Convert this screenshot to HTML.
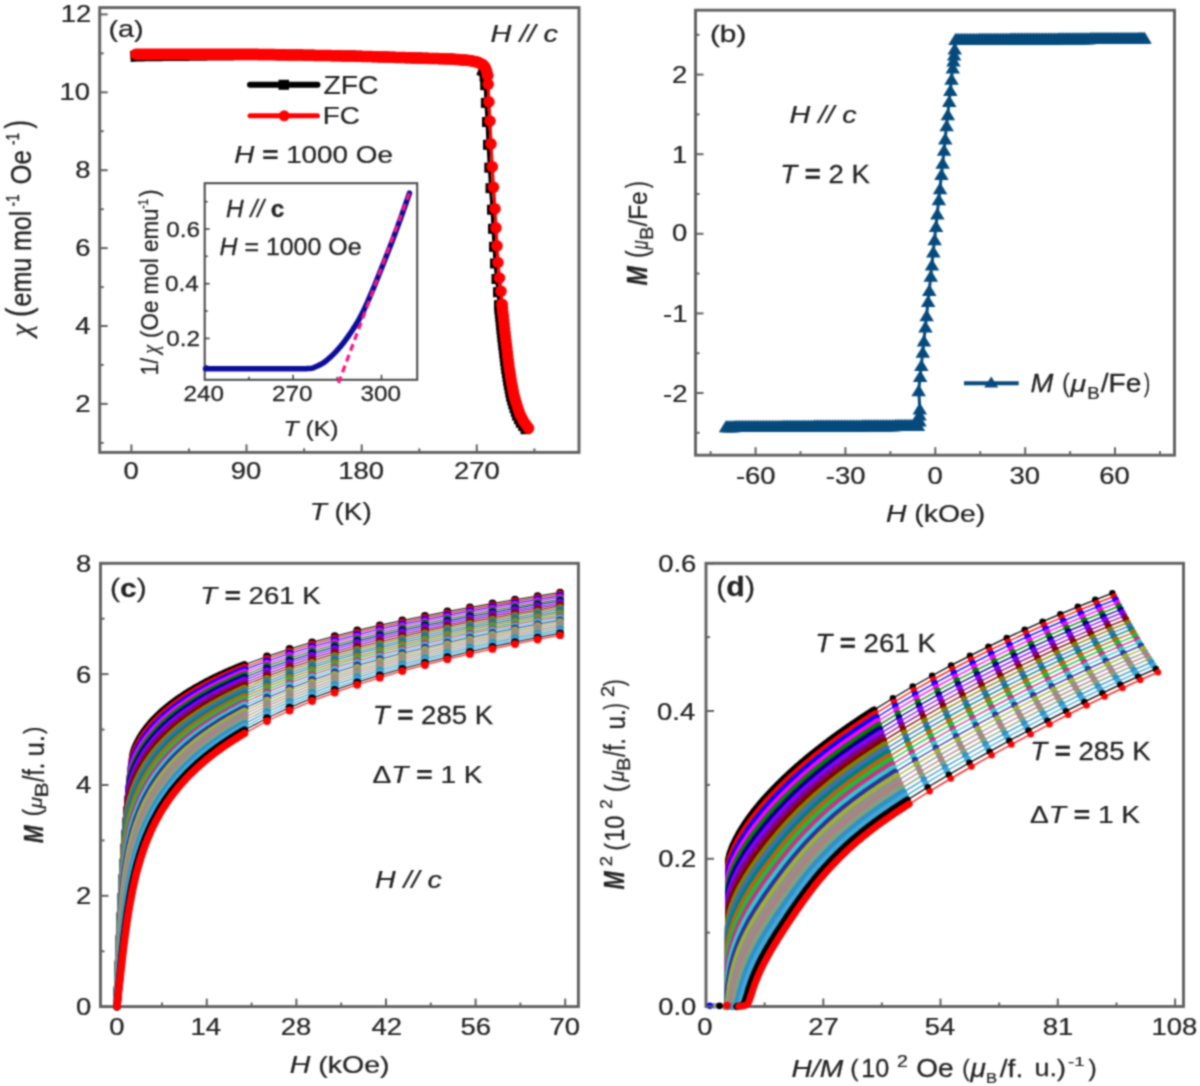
<!DOCTYPE html>
<html><head><meta charset="utf-8"><style>html,body{margin:0;padding:0;background:#fff;overflow:hidden}svg{display:block}</style></head>
<body><svg width="1200" height="1086" viewBox="0 0 1200 1086">
<defs><filter id="bl" x="0" y="0" width="1" height="1" color-interpolation-filters="sRGB"><feConvolveMatrix order="5" kernelMatrix="0.00048 0.00501 0.01095 0.00501 0.00048 0.00501 0.05222 0.11405 0.05222 0.00501 0.01095 0.11405 0.24912 0.11405 0.01095 0.00501 0.05222 0.11405 0.05222 0.00501 0.00048 0.00501 0.01095 0.00501 0.00048" edgeMode="duplicate"/></filter></defs>
<g filter="url(#bl)"><rect width="1200" height="1086" fill="#fff"/>
<polyline points="135.8,56.0 137.1,55.9 138.4,55.9 139.6,55.9 140.9,55.9 142.2,55.9 143.5,55.9 144.8,55.8 146.0,55.8 147.3,55.8 148.6,55.8 149.9,55.8 151.2,55.8 152.4,55.8 153.7,55.7 155.0,55.7 156.3,55.7 157.6,55.7 158.8,55.7 160.1,55.7 161.4,55.7 162.7,55.6 164.0,55.6 165.2,55.6 166.5,55.6 167.8,55.6 169.1,55.6 170.4,55.6 171.6,55.5 172.9,55.5 174.2,55.5 175.5,55.5 176.8,55.5 178.0,55.5 179.3,55.5 180.6,55.4 181.9,55.4 183.2,55.4 184.4,55.4 185.7,55.4 187.0,55.4 188.3,55.4 189.6,55.3 190.8,55.3 192.1,55.3 193.4,55.3 194.7,55.3 196.0,55.3 197.2,55.3 198.5,55.2 199.8,55.2 201.1,55.2 202.4,55.2 203.6,55.2 204.9,55.2 206.2,55.2 207.5,55.1 208.8,55.1 210.0,55.1 211.3,55.1 212.6,55.1 213.9,55.1 215.2,55.1 216.4,55.0 217.7,55.0 219.0,55.0 220.3,55.0 221.6,55.0 222.8,55.0 224.1,55.0 225.4,54.9 226.7,54.9 228.0,54.9 229.2,54.9 230.5,54.9 231.8,54.9 233.1,54.9 234.4,54.8 235.6,54.8 236.9,54.8 238.2,54.8 239.5,54.8 240.8,54.8 242.0,54.8 243.3,54.7 244.6,54.7 245.9,54.7 247.2,54.7 248.4,54.7 249.7,54.7 251.0,54.7 252.3,54.7 253.6,54.7 254.8,54.7 256.1,54.7 257.4,54.7 258.7,54.7 260.0,54.7 261.2,54.7 262.5,54.8 263.8,54.8 265.1,54.8 266.4,54.8 267.6,54.8 268.9,54.8 270.2,54.8 271.5,54.8 272.8,54.8 274.0,54.8 275.3,54.8 276.6,54.8 277.9,54.9 279.2,54.9 280.4,54.9 281.7,54.9 283.0,54.9 284.3,54.9 285.6,54.9 286.8,54.9 288.1,54.9 289.4,54.9 290.7,54.9 292.0,55.0 293.2,55.0 294.5,55.0 295.8,55.0 297.1,55.0 298.4,55.1 299.6,55.1 300.9,55.1 302.2,55.1 303.5,55.2 304.8,55.2 306.0,55.2 307.3,55.2 308.6,55.3 309.9,55.3 311.2,55.3 312.4,55.3 313.7,55.3 315.0,55.4 316.3,55.4 317.6,55.4 318.8,55.4 320.1,55.5 321.4,55.5 322.7,55.5 324.0,55.5 325.2,55.6 326.5,55.6 327.8,55.6 329.1,55.6 330.4,55.6 331.6,55.7 332.9,55.7 334.2,55.7 335.5,55.7 336.8,55.8 338.0,55.8 339.3,55.8 340.6,55.8 341.9,55.9 343.2,55.9 344.4,55.9 345.7,55.9 347.0,55.9 348.3,56.0 349.6,56.0 350.8,56.0 352.1,56.1 353.4,56.1 354.7,56.1 356.0,56.2 357.2,56.2 358.5,56.3 359.8,56.3 361.1,56.3 362.4,56.4 363.6,56.4 364.9,56.4 366.2,56.5 367.5,56.5 368.8,56.6 370.0,56.6 371.3,56.6 372.6,56.7 373.9,56.7 375.2,56.8 376.4,56.8 377.7,56.8 379.0,56.9 380.3,56.9 381.6,56.9 382.8,57.0 384.1,57.0 385.4,57.1 386.7,57.1 388.0,57.1 389.2,57.2 390.5,57.2 391.8,57.3 393.1,57.3 394.4,57.3 395.6,57.4 396.9,57.4 398.2,57.4 399.5,57.5 400.8,57.5 402.0,57.6 403.3,57.6 404.6,57.6 405.9,57.7 407.2,57.7 408.4,57.8 409.7,57.8 411.0,57.8 412.3,57.9 413.6,57.9 414.8,57.9 416.1,58.0 417.4,58.0 418.7,58.1 420.0,58.1 421.2,58.1 422.5,58.2 423.8,58.2 425.1,58.3 426.4,58.3 427.6,58.3 428.9,58.4 430.2,58.4 431.5,58.4 432.8,58.5 434.0,58.5 435.3,58.6 436.6,58.6 437.9,58.6 439.2,58.7 440.4,58.7 441.7,58.8 443.0,58.8 444.3,58.8 445.6,58.9 446.8,58.9 448.1,58.9 449.4,59.0 450.7,59.1 452.0,59.1 453.2,59.2 454.5,59.3 455.8,59.4 457.1,59.5 458.4,59.6 459.6,59.7 460.9,59.8 462.2,59.9 463.5,60.0 464.8,60.1 466.0,60.2 467.3,60.3 468.6,60.4 469.9,60.5 471.2,60.8 472.4,61.0 473.7,61.3 475.0,61.6 476.3,61.9 477.6,62.2 478.8,62.7 480.1,63.4 481.4,64.0 482.7,64.6 484.0,66.0 485.2,67.6 483.5,71.8 484.6,76.5 485.2,85.2 485.9,102.9 487.0,122.0 488.0,144.8 489.3,167.7 490.5,188.2 492.0,209.7 493.0,228.8 494.0,246.8 495.0,263.5 496.5,279.0 498.0,292.2 499.0,305.4 499.0,305.4 499.4,309.4 499.8,313.4 500.3,317.3 500.7,321.3 501.1,325.3 501.5,329.3 501.9,333.2 502.4,337.2 502.8,341.2 503.3,345.2 503.8,349.1 504.3,353.1 504.7,357.1 505.2,361.1 505.7,365.0 506.2,369.0 506.9,372.9 507.5,376.9 508.1,380.8 508.8,384.8 509.6,388.7 510.3,392.6 511.1,396.6 512.2,400.4 513.3,404.2 514.5,408.1 515.8,411.8 517.1,415.6 519.0,419.2 520.8,422.7 523.2,425.9 525.5,429.2" fill="none" stroke="#000" stroke-width="3" stroke-linejoin="round"/>
<polyline points="135.8,56.0 137.1,55.9 138.4,55.9 139.6,55.9 140.9,55.9 142.2,55.9 143.5,55.9 144.8,55.8 146.0,55.8 147.3,55.8 148.6,55.8 149.9,55.8 151.2,55.8 152.4,55.8 153.7,55.7 155.0,55.7 156.3,55.7 157.6,55.7 158.8,55.7 160.1,55.7 161.4,55.7 162.7,55.6 164.0,55.6 165.2,55.6 166.5,55.6 167.8,55.6 169.1,55.6 170.4,55.6 171.6,55.5 172.9,55.5 174.2,55.5 175.5,55.5 176.8,55.5 178.0,55.5 179.3,55.5 180.6,55.4 181.9,55.4 183.2,55.4 184.4,55.4 185.7,55.4 187.0,55.4 188.3,55.4 189.6,55.3 190.8,55.3 192.1,55.3 193.4,55.3 194.7,55.3 196.0,55.3 197.2,55.3 198.5,55.2 199.8,55.2 201.1,55.2 202.4,55.2 203.6,55.2 204.9,55.2 206.2,55.2 207.5,55.1 208.8,55.1 210.0,55.1 211.3,55.1 212.6,55.1 213.9,55.1 215.2,55.1 216.4,55.0 217.7,55.0 219.0,55.0 220.3,55.0 221.6,55.0 222.8,55.0 224.1,55.0 225.4,54.9 226.7,54.9 228.0,54.9 229.2,54.9 230.5,54.9 231.8,54.9 233.1,54.9 234.4,54.8 235.6,54.8 236.9,54.8 238.2,54.8 239.5,54.8 240.8,54.8 242.0,54.8 243.3,54.7 244.6,54.7 245.9,54.7 247.2,54.7 248.4,54.7 249.7,54.7 251.0,54.7 252.3,54.7 253.6,54.7 254.8,54.7 256.1,54.7 257.4,54.7 258.7,54.7 260.0,54.7 261.2,54.7 262.5,54.8 263.8,54.8 265.1,54.8 266.4,54.8 267.6,54.8 268.9,54.8 270.2,54.8 271.5,54.8 272.8,54.8 274.0,54.8 275.3,54.8 276.6,54.8 277.9,54.9 279.2,54.9 280.4,54.9 281.7,54.9 283.0,54.9 284.3,54.9 285.6,54.9 286.8,54.9 288.1,54.9 289.4,54.9 290.7,54.9 292.0,55.0 293.2,55.0 294.5,55.0 295.8,55.0 297.1,55.0 298.4,55.1 299.6,55.1 300.9,55.1 302.2,55.1 303.5,55.2 304.8,55.2 306.0,55.2 307.3,55.2 308.6,55.3 309.9,55.3 311.2,55.3 312.4,55.3 313.7,55.3 315.0,55.4 316.3,55.4 317.6,55.4 318.8,55.4 320.1,55.5 321.4,55.5 322.7,55.5 324.0,55.5 325.2,55.6 326.5,55.6 327.8,55.6 329.1,55.6 330.4,55.6 331.6,55.7 332.9,55.7 334.2,55.7 335.5,55.7 336.8,55.8 338.0,55.8 339.3,55.8 340.6,55.8 341.9,55.9 343.2,55.9 344.4,55.9 345.7,55.9 347.0,55.9 348.3,56.0 349.6,56.0 350.8,56.0 352.1,56.1 353.4,56.1 354.7,56.1 356.0,56.2 357.2,56.2 358.5,56.3 359.8,56.3 361.1,56.3 362.4,56.4 363.6,56.4 364.9,56.4 366.2,56.5 367.5,56.5 368.8,56.6 370.0,56.6 371.3,56.6 372.6,56.7 373.9,56.7 375.2,56.8 376.4,56.8 377.7,56.8 379.0,56.9 380.3,56.9 381.6,56.9 382.8,57.0 384.1,57.0 385.4,57.1 386.7,57.1 388.0,57.1 389.2,57.2 390.5,57.2 391.8,57.3 393.1,57.3 394.4,57.3 395.6,57.4 396.9,57.4 398.2,57.4 399.5,57.5 400.8,57.5 402.0,57.6 403.3,57.6 404.6,57.6 405.9,57.7 407.2,57.7 408.4,57.8 409.7,57.8 411.0,57.8 412.3,57.9 413.6,57.9 414.8,57.9 416.1,58.0 417.4,58.0 418.7,58.1 420.0,58.1 421.2,58.1 422.5,58.2 423.8,58.2 425.1,58.3 426.4,58.3 427.6,58.3 428.9,58.4 430.2,58.4 431.5,58.4 432.8,58.5 434.0,58.5 435.3,58.6 436.6,58.6 437.9,58.6 439.2,58.7 440.4,58.7 441.7,58.8 443.0,58.8 444.3,58.8 445.6,58.9 446.8,58.9 448.1,58.9 449.4,59.0 450.7,59.1 452.0,59.1 453.2,59.2 454.5,59.3 455.8,59.4 457.1,59.5 458.4,59.6 459.6,59.7 460.9,59.8 462.2,59.9 463.5,60.0 464.8,60.1 466.0,60.2 467.3,60.3 468.6,60.4 469.9,60.5 471.2,60.8 472.4,61.0 473.7,61.3 475.0,61.6 476.3,61.9 477.6,62.2 478.8,62.7 480.1,63.4 481.4,64.0 482.7,64.6 484.0,66.0 485.2,67.6 483.5,71.8" fill="none" stroke="#000" stroke-width="11" stroke-linejoin="round" stroke-linecap="square"/>
<rect x="479.6" y="71.5" width="10" height="10" fill="#000"/>
<rect x="480.2" y="80.2" width="10" height="10" fill="#000"/>
<rect x="480.9" y="97.9" width="10" height="10" fill="#000"/>
<rect x="482.0" y="117.0" width="10" height="10" fill="#000"/>
<rect x="483.0" y="139.8" width="10" height="10" fill="#000"/>
<rect x="484.3" y="162.7" width="10" height="10" fill="#000"/>
<rect x="485.5" y="183.2" width="10" height="10" fill="#000"/>
<rect x="487.0" y="204.7" width="10" height="10" fill="#000"/>
<rect x="488.0" y="223.8" width="10" height="10" fill="#000"/>
<rect x="489.0" y="241.8" width="10" height="10" fill="#000"/>
<rect x="490.0" y="258.5" width="10" height="10" fill="#000"/>
<rect x="491.5" y="274.0" width="10" height="10" fill="#000"/>
<rect x="493.0" y="287.2" width="10" height="10" fill="#000"/>
<rect x="494.0" y="300.4" width="10" height="10" fill="#000"/>
<rect x="494.0" y="300.4" width="10" height="10" fill="#000"/>
<rect x="494.4" y="304.4" width="10" height="10" fill="#000"/>
<rect x="494.8" y="308.4" width="10" height="10" fill="#000"/>
<rect x="495.3" y="312.3" width="10" height="10" fill="#000"/>
<rect x="495.7" y="316.3" width="10" height="10" fill="#000"/>
<rect x="496.1" y="320.3" width="10" height="10" fill="#000"/>
<rect x="496.5" y="324.3" width="10" height="10" fill="#000"/>
<rect x="496.9" y="328.2" width="10" height="10" fill="#000"/>
<rect x="497.4" y="332.2" width="10" height="10" fill="#000"/>
<rect x="497.8" y="336.2" width="10" height="10" fill="#000"/>
<rect x="498.3" y="340.2" width="10" height="10" fill="#000"/>
<rect x="498.8" y="344.1" width="10" height="10" fill="#000"/>
<rect x="499.3" y="348.1" width="10" height="10" fill="#000"/>
<rect x="499.7" y="352.1" width="10" height="10" fill="#000"/>
<rect x="500.2" y="356.1" width="10" height="10" fill="#000"/>
<rect x="500.7" y="360.0" width="10" height="10" fill="#000"/>
<rect x="501.2" y="364.0" width="10" height="10" fill="#000"/>
<rect x="501.9" y="367.9" width="10" height="10" fill="#000"/>
<rect x="502.5" y="371.9" width="10" height="10" fill="#000"/>
<rect x="503.1" y="375.8" width="10" height="10" fill="#000"/>
<rect x="503.8" y="379.8" width="10" height="10" fill="#000"/>
<rect x="504.6" y="383.7" width="10" height="10" fill="#000"/>
<rect x="505.3" y="387.6" width="10" height="10" fill="#000"/>
<rect x="506.1" y="391.6" width="10" height="10" fill="#000"/>
<rect x="507.2" y="395.4" width="10" height="10" fill="#000"/>
<rect x="508.3" y="399.2" width="10" height="10" fill="#000"/>
<rect x="509.5" y="403.1" width="10" height="10" fill="#000"/>
<rect x="510.8" y="406.8" width="10" height="10" fill="#000"/>
<rect x="512.1" y="410.6" width="10" height="10" fill="#000"/>
<rect x="514.0" y="414.2" width="10" height="10" fill="#000"/>
<rect x="515.8" y="417.7" width="10" height="10" fill="#000"/>
<rect x="518.2" y="420.9" width="10" height="10" fill="#000"/>
<rect x="520.5" y="424.2" width="10" height="10" fill="#000"/>
<polyline points="135.8,54.2 137.1,54.2 138.4,54.2 139.6,54.2 140.9,54.2 142.2,54.2 143.5,54.2 144.8,54.2 146.0,54.2 147.3,54.2 148.6,54.2 149.9,54.2 151.2,54.2 152.4,54.2 153.7,54.2 155.0,54.2 156.3,54.2 157.6,54.2 158.8,54.2 160.1,54.2 161.4,54.2 162.7,54.2 164.0,54.2 165.2,54.2 166.5,54.2 167.8,54.2 169.1,54.2 170.4,54.2 171.6,54.2 172.9,54.2 174.2,54.2 175.5,54.2 176.8,54.2 178.0,54.2 179.3,54.2 180.6,54.2 181.9,54.2 183.2,54.2 184.4,54.2 185.7,54.2 187.0,54.2 188.3,54.2 189.6,54.2 190.8,54.2 192.1,54.2 193.4,54.2 194.7,54.2 196.0,54.2 197.2,54.2 198.5,54.2 199.8,54.2 201.1,54.2 202.4,54.2 203.6,54.2 204.9,54.2 206.2,54.2 207.5,54.2 208.8,54.2 210.0,54.2 211.3,54.2 212.6,54.2 213.9,54.2 215.2,54.2 216.4,54.2 217.7,54.2 219.0,54.2 220.3,54.2 221.6,54.2 222.8,54.2 224.1,54.2 225.4,54.2 226.7,54.2 228.0,54.2 229.2,54.2 230.5,54.2 231.8,54.2 233.1,54.2 234.4,54.2 235.6,54.2 236.9,54.2 238.2,54.2 239.5,54.2 240.8,54.2 242.0,54.2 243.3,54.2 244.6,54.2 245.9,54.2 247.2,54.2 248.4,54.2 249.7,54.2 251.0,54.2 252.3,54.2 253.6,54.3 254.8,54.3 256.1,54.3 257.4,54.3 258.7,54.4 260.0,54.4 261.2,54.4 262.5,54.4 263.8,54.4 265.1,54.5 266.4,54.5 267.6,54.5 268.9,54.5 270.2,54.6 271.5,54.6 272.8,54.6 274.0,54.6 275.3,54.7 276.6,54.7 277.9,54.7 279.2,54.7 280.4,54.7 281.7,54.8 283.0,54.8 284.3,54.8 285.6,54.8 286.8,54.9 288.1,54.9 289.4,54.9 290.7,54.9 292.0,55.0 293.2,55.0 294.5,55.0 295.8,55.0 297.1,55.0 298.4,55.1 299.6,55.1 300.9,55.1 302.2,55.1 303.5,55.2 304.8,55.2 306.0,55.2 307.3,55.2 308.6,55.3 309.9,55.3 311.2,55.3 312.4,55.3 313.7,55.3 315.0,55.4 316.3,55.4 317.6,55.4 318.8,55.4 320.1,55.5 321.4,55.5 322.7,55.5 324.0,55.5 325.2,55.6 326.5,55.6 327.8,55.6 329.1,55.6 330.4,55.6 331.6,55.7 332.9,55.7 334.2,55.7 335.5,55.7 336.8,55.8 338.0,55.8 339.3,55.8 340.6,55.8 341.9,55.9 343.2,55.9 344.4,55.9 345.7,55.9 347.0,55.9 348.3,56.0 349.6,56.0 350.8,56.0 352.1,56.1 353.4,56.1 354.7,56.1 356.0,56.2 357.2,56.2 358.5,56.3 359.8,56.3 361.1,56.3 362.4,56.4 363.6,56.4 364.9,56.4 366.2,56.5 367.5,56.5 368.8,56.6 370.0,56.6 371.3,56.6 372.6,56.7 373.9,56.7 375.2,56.8 376.4,56.8 377.7,56.8 379.0,56.9 380.3,56.9 381.6,56.9 382.8,57.0 384.1,57.0 385.4,57.1 386.7,57.1 388.0,57.1 389.2,57.2 390.5,57.2 391.8,57.3 393.1,57.3 394.4,57.3 395.6,57.4 396.9,57.4 398.2,57.4 399.5,57.5 400.8,57.5 402.0,57.6 403.3,57.6 404.6,57.6 405.9,57.7 407.2,57.7 408.4,57.8 409.7,57.8 411.0,57.8 412.3,57.9 413.6,57.9 414.8,57.9 416.1,58.0 417.4,58.0 418.7,58.1 420.0,58.1 421.2,58.1 422.5,58.2 423.8,58.2 425.1,58.3 426.4,58.3 427.6,58.3 428.9,58.4 430.2,58.4 431.5,58.4 432.8,58.5 434.0,58.5 435.3,58.6 436.6,58.6 437.9,58.6 439.2,58.7 440.4,58.7 441.7,58.8 443.0,58.8 444.3,58.8 445.6,58.9 446.8,58.9 448.1,58.9 449.4,59.0 450.7,59.1 452.0,59.1 453.2,59.2 454.5,59.3 455.8,59.4 457.1,59.5 458.4,59.6 459.6,59.7 460.9,59.8 462.2,59.9 463.5,60.0 464.8,60.1 466.0,60.2 467.3,60.3 468.6,60.4 469.9,60.5 471.2,60.8 472.4,61.0 473.7,61.3 475.0,61.6 476.3,61.9 477.6,62.2 478.8,62.7 480.1,63.4 481.4,64.0 482.7,64.6 484.0,66.0 485.2,67.6 486.5,70.8 487.6,75.5 488.2,84.2 488.9,101.9 490.0,121.0 491.0,143.8 492.3,166.7 493.5,187.2 495.0,208.7 496.0,227.8 497.0,245.8 498.0,262.5 499.5,278.0 501.0,291.2 502.0,304.4 502.0,304.4 502.4,308.4 502.8,312.4 503.3,316.3 503.7,320.3 504.1,324.3 504.5,328.3 504.9,332.2 505.4,336.2 505.8,340.2 506.3,344.2 506.8,348.1 507.3,352.1 507.7,356.1 508.2,360.1 508.7,364.0 509.2,368.0 509.9,371.9 510.5,375.9 511.1,379.8 511.8,383.8 512.6,387.7 513.3,391.6 514.1,395.6 515.2,399.4 516.3,403.2 517.5,407.1 518.8,410.8 520.1,414.6 522.0,418.2 523.8,421.7 526.2,424.9 528.5,428.2" fill="none" stroke="#f00" stroke-width="3" stroke-linejoin="round"/>
<polyline points="135.8,54.2 137.1,54.2 138.4,54.2 139.6,54.2 140.9,54.2 142.2,54.2 143.5,54.2 144.8,54.2 146.0,54.2 147.3,54.2 148.6,54.2 149.9,54.2 151.2,54.2 152.4,54.2 153.7,54.2 155.0,54.2 156.3,54.2 157.6,54.2 158.8,54.2 160.1,54.2 161.4,54.2 162.7,54.2 164.0,54.2 165.2,54.2 166.5,54.2 167.8,54.2 169.1,54.2 170.4,54.2 171.6,54.2 172.9,54.2 174.2,54.2 175.5,54.2 176.8,54.2 178.0,54.2 179.3,54.2 180.6,54.2 181.9,54.2 183.2,54.2 184.4,54.2 185.7,54.2 187.0,54.2 188.3,54.2 189.6,54.2 190.8,54.2 192.1,54.2 193.4,54.2 194.7,54.2 196.0,54.2 197.2,54.2 198.5,54.2 199.8,54.2 201.1,54.2 202.4,54.2 203.6,54.2 204.9,54.2 206.2,54.2 207.5,54.2 208.8,54.2 210.0,54.2 211.3,54.2 212.6,54.2 213.9,54.2 215.2,54.2 216.4,54.2 217.7,54.2 219.0,54.2 220.3,54.2 221.6,54.2 222.8,54.2 224.1,54.2 225.4,54.2 226.7,54.2 228.0,54.2 229.2,54.2 230.5,54.2 231.8,54.2 233.1,54.2 234.4,54.2 235.6,54.2 236.9,54.2 238.2,54.2 239.5,54.2 240.8,54.2 242.0,54.2 243.3,54.2 244.6,54.2 245.9,54.2 247.2,54.2 248.4,54.2 249.7,54.2 251.0,54.2 252.3,54.2 253.6,54.3 254.8,54.3 256.1,54.3 257.4,54.3 258.7,54.4 260.0,54.4 261.2,54.4 262.5,54.4 263.8,54.4 265.1,54.5 266.4,54.5 267.6,54.5 268.9,54.5 270.2,54.6 271.5,54.6 272.8,54.6 274.0,54.6 275.3,54.7 276.6,54.7 277.9,54.7 279.2,54.7 280.4,54.7 281.7,54.8 283.0,54.8 284.3,54.8 285.6,54.8 286.8,54.9 288.1,54.9 289.4,54.9 290.7,54.9 292.0,55.0 293.2,55.0 294.5,55.0 295.8,55.0 297.1,55.0 298.4,55.1 299.6,55.1 300.9,55.1 302.2,55.1 303.5,55.2 304.8,55.2 306.0,55.2 307.3,55.2 308.6,55.3 309.9,55.3 311.2,55.3 312.4,55.3 313.7,55.3 315.0,55.4 316.3,55.4 317.6,55.4 318.8,55.4 320.1,55.5 321.4,55.5 322.7,55.5 324.0,55.5 325.2,55.6 326.5,55.6 327.8,55.6 329.1,55.6 330.4,55.6 331.6,55.7 332.9,55.7 334.2,55.7 335.5,55.7 336.8,55.8 338.0,55.8 339.3,55.8 340.6,55.8 341.9,55.9 343.2,55.9 344.4,55.9 345.7,55.9 347.0,55.9 348.3,56.0 349.6,56.0 350.8,56.0 352.1,56.1 353.4,56.1 354.7,56.1 356.0,56.2 357.2,56.2 358.5,56.3 359.8,56.3 361.1,56.3 362.4,56.4 363.6,56.4 364.9,56.4 366.2,56.5 367.5,56.5 368.8,56.6 370.0,56.6 371.3,56.6 372.6,56.7 373.9,56.7 375.2,56.8 376.4,56.8 377.7,56.8 379.0,56.9 380.3,56.9 381.6,56.9 382.8,57.0 384.1,57.0 385.4,57.1 386.7,57.1 388.0,57.1 389.2,57.2 390.5,57.2 391.8,57.3 393.1,57.3 394.4,57.3 395.6,57.4 396.9,57.4 398.2,57.4 399.5,57.5 400.8,57.5 402.0,57.6 403.3,57.6 404.6,57.6 405.9,57.7 407.2,57.7 408.4,57.8 409.7,57.8 411.0,57.8 412.3,57.9 413.6,57.9 414.8,57.9 416.1,58.0 417.4,58.0 418.7,58.1 420.0,58.1 421.2,58.1 422.5,58.2 423.8,58.2 425.1,58.3 426.4,58.3 427.6,58.3 428.9,58.4 430.2,58.4 431.5,58.4 432.8,58.5 434.0,58.5 435.3,58.6 436.6,58.6 437.9,58.6 439.2,58.7 440.4,58.7 441.7,58.8 443.0,58.8 444.3,58.8 445.6,58.9 446.8,58.9 448.1,58.9 449.4,59.0 450.7,59.1 452.0,59.1 453.2,59.2 454.5,59.3 455.8,59.4 457.1,59.5 458.4,59.6 459.6,59.7 460.9,59.8 462.2,59.9 463.5,60.0 464.8,60.1 466.0,60.2 467.3,60.3 468.6,60.4 469.9,60.5 471.2,60.8 472.4,61.0 473.7,61.3 475.0,61.6 476.3,61.9 477.6,62.2 478.8,62.7 480.1,63.4 481.4,64.0 482.7,64.6 484.0,66.0 485.2,67.6 486.5,70.8 487.6,75.5" fill="none" stroke="#f00" stroke-width="11.5" stroke-linejoin="round" stroke-linecap="round"/>
<circle cx="487.6" cy="75.5" r="5.8" fill="#f00"/>
<circle cx="488.2" cy="84.2" r="5.8" fill="#f00"/>
<circle cx="488.9" cy="101.9" r="5.8" fill="#f00"/>
<circle cx="490.0" cy="121.0" r="5.8" fill="#f00"/>
<circle cx="491.0" cy="143.8" r="5.8" fill="#f00"/>
<circle cx="492.3" cy="166.7" r="5.8" fill="#f00"/>
<circle cx="493.5" cy="187.2" r="5.8" fill="#f00"/>
<circle cx="495.0" cy="208.7" r="5.8" fill="#f00"/>
<circle cx="496.0" cy="227.8" r="5.8" fill="#f00"/>
<circle cx="497.0" cy="245.8" r="5.8" fill="#f00"/>
<circle cx="498.0" cy="262.5" r="5.8" fill="#f00"/>
<circle cx="499.5" cy="278.0" r="5.8" fill="#f00"/>
<circle cx="501.0" cy="291.2" r="5.8" fill="#f00"/>
<circle cx="502.0" cy="304.4" r="5.8" fill="#f00"/>
<circle cx="502.0" cy="304.4" r="5.8" fill="#f00"/>
<circle cx="502.4" cy="308.4" r="5.8" fill="#f00"/>
<circle cx="502.8" cy="312.4" r="5.8" fill="#f00"/>
<circle cx="503.3" cy="316.3" r="5.8" fill="#f00"/>
<circle cx="503.7" cy="320.3" r="5.8" fill="#f00"/>
<circle cx="504.1" cy="324.3" r="5.8" fill="#f00"/>
<circle cx="504.5" cy="328.3" r="5.8" fill="#f00"/>
<circle cx="504.9" cy="332.2" r="5.8" fill="#f00"/>
<circle cx="505.4" cy="336.2" r="5.8" fill="#f00"/>
<circle cx="505.8" cy="340.2" r="5.8" fill="#f00"/>
<circle cx="506.3" cy="344.2" r="5.8" fill="#f00"/>
<circle cx="506.8" cy="348.1" r="5.8" fill="#f00"/>
<circle cx="507.3" cy="352.1" r="5.8" fill="#f00"/>
<circle cx="507.7" cy="356.1" r="5.8" fill="#f00"/>
<circle cx="508.2" cy="360.1" r="5.8" fill="#f00"/>
<circle cx="508.7" cy="364.0" r="5.8" fill="#f00"/>
<circle cx="509.2" cy="368.0" r="5.8" fill="#f00"/>
<circle cx="509.9" cy="371.9" r="5.8" fill="#f00"/>
<circle cx="510.5" cy="375.9" r="5.8" fill="#f00"/>
<circle cx="511.1" cy="379.8" r="5.8" fill="#f00"/>
<circle cx="511.8" cy="383.8" r="5.8" fill="#f00"/>
<circle cx="512.6" cy="387.7" r="5.8" fill="#f00"/>
<circle cx="513.3" cy="391.6" r="5.8" fill="#f00"/>
<circle cx="514.1" cy="395.6" r="5.8" fill="#f00"/>
<circle cx="515.2" cy="399.4" r="5.8" fill="#f00"/>
<circle cx="516.3" cy="403.2" r="5.8" fill="#f00"/>
<circle cx="517.5" cy="407.1" r="5.8" fill="#f00"/>
<circle cx="518.8" cy="410.8" r="5.8" fill="#f00"/>
<circle cx="520.1" cy="414.6" r="5.8" fill="#f00"/>
<circle cx="522.0" cy="418.2" r="5.8" fill="#f00"/>
<circle cx="523.8" cy="421.7" r="5.8" fill="#f00"/>
<circle cx="526.2" cy="424.9" r="5.8" fill="#f00"/>
<circle cx="528.5" cy="428.2" r="5.8" fill="#f00"/>
<line x1="250" y1="84.7" x2="317.5" y2="84.7" stroke="#000" stroke-width="6" stroke-linecap="round"/>
<rect x="278.5" y="79.8" width="10.5" height="10" fill="#000"/>
<line x1="250" y1="115.8" x2="317.5" y2="115.8" stroke="#f00" stroke-width="5" stroke-linecap="round"/>
<circle cx="284.2" cy="115.8" r="5.5" fill="#f00"/>
<rect x="99.7" y="7.6" width="479.3" height="444.79999999999995" fill="none" stroke="#606060" stroke-width="2.9"/>
<line x1="99.7" y1="442.9" x2="103.7" y2="442.9" stroke="#606060" stroke-width="2.0"/>
<line x1="99.7" y1="403.9" x2="107.7" y2="403.9" stroke="#606060" stroke-width="2.0"/>
<line x1="99.7" y1="364.9" x2="103.7" y2="364.9" stroke="#606060" stroke-width="2.0"/>
<line x1="99.7" y1="326.0" x2="107.7" y2="326.0" stroke="#606060" stroke-width="2.0"/>
<line x1="99.7" y1="287.1" x2="103.7" y2="287.1" stroke="#606060" stroke-width="2.0"/>
<line x1="99.7" y1="248.1" x2="107.7" y2="248.1" stroke="#606060" stroke-width="2.0"/>
<line x1="99.7" y1="209.2" x2="103.7" y2="209.2" stroke="#606060" stroke-width="2.0"/>
<line x1="99.7" y1="170.2" x2="107.7" y2="170.2" stroke="#606060" stroke-width="2.0"/>
<line x1="99.7" y1="131.2" x2="103.7" y2="131.2" stroke="#606060" stroke-width="2.0"/>
<line x1="99.7" y1="92.3" x2="107.7" y2="92.3" stroke="#606060" stroke-width="2.0"/>
<line x1="99.7" y1="53.4" x2="103.7" y2="53.4" stroke="#606060" stroke-width="2.0"/>
<line x1="99.7" y1="14.4" x2="107.7" y2="14.4" stroke="#606060" stroke-width="2.0"/>
<line x1="131.4" y1="452.4" x2="131.4" y2="444.4" stroke="#606060" stroke-width="2.0"/>
<line x1="189.0" y1="452.4" x2="189.0" y2="448.4" stroke="#606060" stroke-width="2.0"/>
<line x1="246.5" y1="452.4" x2="246.5" y2="444.4" stroke="#606060" stroke-width="2.0"/>
<line x1="304.1" y1="452.4" x2="304.1" y2="448.4" stroke="#606060" stroke-width="2.0"/>
<line x1="361.7" y1="452.4" x2="361.7" y2="444.4" stroke="#606060" stroke-width="2.0"/>
<line x1="419.3" y1="452.4" x2="419.3" y2="448.4" stroke="#606060" stroke-width="2.0"/>
<line x1="476.8" y1="452.4" x2="476.8" y2="444.4" stroke="#606060" stroke-width="2.0"/>
<line x1="534.4" y1="452.4" x2="534.4" y2="448.4" stroke="#606060" stroke-width="2.0"/>
<rect x="204.7" y="183.2" width="212.5" height="196.60000000000002" fill="#fff" stroke="#444" stroke-width="2"/>
<line x1="248.9" y1="379.8" x2="248.9" y2="376.8" stroke="#444" stroke-width="1.6"/>
<line x1="293.1" y1="379.8" x2="293.1" y2="374.8" stroke="#444" stroke-width="1.6"/>
<line x1="337.3" y1="379.8" x2="337.3" y2="376.8" stroke="#444" stroke-width="1.6"/>
<line x1="381.5" y1="379.8" x2="381.5" y2="374.8" stroke="#444" stroke-width="1.6"/>
<line x1="204.7" y1="365.8" x2="207.7" y2="365.8" stroke="#444" stroke-width="1.6"/>
<line x1="204.7" y1="338.4" x2="209.7" y2="338.4" stroke="#444" stroke-width="1.6"/>
<line x1="204.7" y1="311.0" x2="207.7" y2="311.0" stroke="#444" stroke-width="1.6"/>
<line x1="204.7" y1="283.7" x2="209.7" y2="283.7" stroke="#444" stroke-width="1.6"/>
<line x1="204.7" y1="256.3" x2="207.7" y2="256.3" stroke="#444" stroke-width="1.6"/>
<line x1="204.7" y1="229.0" x2="209.7" y2="229.0" stroke="#444" stroke-width="1.6"/>
<line x1="204.7" y1="201.7" x2="207.7" y2="201.7" stroke="#444" stroke-width="1.6"/>
<polyline points="205.5,368.8 206.5,368.8 207.5,368.8 208.5,368.8 209.5,368.8 210.5,368.8 211.5,368.8 212.5,368.8 213.5,368.8 214.5,368.8 215.5,368.8 216.5,368.8 217.5,368.8 218.5,368.8 219.5,368.8 220.5,368.8 221.5,368.8 222.5,368.8 223.5,368.8 224.5,368.8 225.5,368.8 226.5,368.8 227.5,368.8 228.5,368.8 229.5,368.8 230.5,368.8 231.5,368.8 232.5,368.8 233.5,368.8 234.5,368.8 235.5,368.8 236.5,368.8 237.5,368.8 238.5,368.8 239.5,368.8 240.5,368.8 241.5,368.8 242.5,368.8 243.5,368.8 244.5,368.8 245.5,368.8 246.5,368.8 247.5,368.8 248.5,368.8 249.5,368.8 250.5,368.8 251.5,368.8 252.5,368.8 253.5,368.8 254.5,368.8 255.5,368.8 256.5,368.8 257.5,368.8 258.5,368.8 259.5,368.8 260.5,368.8 261.5,368.8 262.5,368.8 263.5,368.8 264.5,368.8 265.5,368.8 266.5,368.8 267.5,368.8 268.5,368.8 269.5,368.8 270.5,368.8 271.5,368.8 272.5,368.8 273.5,368.8 274.5,368.8 275.5,368.8 276.5,368.8 277.5,368.8 278.5,368.8 279.5,368.8 280.5,368.8 281.5,368.8 282.5,368.8 283.5,368.8 284.5,368.8 285.5,368.8 286.5,368.8 287.5,368.8 288.5,368.8 289.5,368.8 290.5,368.8 291.5,368.8 292.5,368.8 293.5,368.8 294.5,368.8 295.5,368.8 296.5,368.8 297.5,368.8 298.5,368.8 299.5,368.8 300.5,368.8 301.5,368.8 302.5,368.8 303.5,368.8 304.5,368.7 305.5,368.7 306.5,368.7 307.5,368.6 308.5,368.6 309.5,368.5 310.5,368.4 311.5,368.3 312.5,368.1 313.5,367.8 314.5,367.3 315.5,366.9 316.5,366.4 317.5,366.0 318.5,365.5 319.5,365.0 320.5,364.5 321.5,364.0 322.5,363.4 323.5,362.7 324.5,362.1 325.5,361.3 326.5,360.5 327.5,359.7 328.5,358.8 329.5,357.9 330.5,357.0 331.5,356.1 332.5,355.1 333.5,354.1 334.5,353.1 335.5,352.1 336.5,351.0 337.5,349.9 338.5,348.8 339.5,347.6 340.5,346.4 341.5,345.2 342.5,343.9 343.5,342.7 344.5,341.4 345.5,340.1 346.5,338.7 347.5,337.3 348.5,335.9 349.5,334.4 350.5,333.0 351.5,331.5 352.5,330.0 353.5,328.4 354.5,326.9 355.5,325.3 356.5,323.6 357.5,322.0 358.5,320.3 359.5,318.5 360.5,316.7 361.5,314.8 362.5,312.8 363.5,310.7 364.5,308.6 365.5,306.5 366.5,304.3 367.5,302.0 368.5,299.7 369.5,297.5 370.5,295.2 371.5,292.9 372.5,290.5 373.5,288.1 374.5,285.7 375.5,283.2 376.5,280.7 377.5,278.2 378.5,275.7 379.5,273.2 380.5,270.7 381.5,268.2 382.5,265.7 383.5,263.2 384.5,260.7 385.5,258.2 386.5,255.7 387.5,253.2 388.5,250.6 389.5,248.1 390.5,245.5 391.5,242.9 392.5,240.3 393.5,237.6 394.5,235.0 395.5,232.3 396.5,229.6 397.5,226.9 398.5,224.1 399.5,221.4 400.5,218.6 401.5,215.8 402.5,213.0 403.5,210.2 404.5,207.4 405.5,204.5 406.5,201.7 407.5,198.8 408.5,195.9 409.5,193.0" fill="none" stroke="#0c0c9c" stroke-width="5.5" stroke-linecap="round" stroke-linejoin="round"/>
<line x1="338.5" y1="383" x2="410.3" y2="190.6" stroke="#ff1080" stroke-width="3.2" stroke-dasharray="7,4.5"/>
<polyline points="726.0,426.2 727.5,426.2 729.0,426.2 730.5,426.2 732.0,426.2 733.5,426.2 735.0,426.1 736.5,426.1 738.0,426.1 739.5,426.1 741.0,426.1 742.5,426.1 744.0,426.1 745.5,426.1 747.0,426.1 748.5,426.1 750.0,426.1 751.5,426.0 753.0,426.0 754.5,426.0 756.0,426.0 757.5,426.0 759.0,426.0 760.5,426.0 762.0,426.0 763.5,426.0 765.0,426.0 766.5,425.9 768.0,425.9 769.5,425.9 771.0,425.9 772.5,425.9 774.0,425.9 775.5,425.9 777.0,425.9 778.5,425.9 780.0,425.9 781.5,425.9 783.0,425.8 784.5,425.8 786.0,425.8 787.5,425.8 789.0,425.8 790.5,425.8 792.0,425.8 793.5,425.8 795.0,425.8 796.5,425.8 798.0,425.8 799.5,425.7 801.0,425.7 802.5,425.7 804.0,425.7 805.5,425.7 807.0,425.7 808.5,425.7 810.0,425.7 811.5,425.7 813.0,425.7 814.5,425.6 816.0,425.6 817.5,425.6 819.0,425.6 820.5,425.6 822.0,425.6 823.5,425.6 825.0,425.6 826.5,425.6 828.0,425.6 829.5,425.6 831.0,425.5 832.5,425.5 834.0,425.5 835.5,425.5 837.0,425.5 838.5,425.5 840.0,425.5 841.5,425.5 843.0,425.5 844.5,425.5 846.0,425.5 847.5,425.4 849.0,425.4 850.5,425.4 852.0,425.4 853.5,425.4 855.0,425.4 856.5,425.4 858.0,425.4 859.5,425.4 861.0,425.4 862.5,425.3 864.0,425.3 865.5,425.3 867.0,425.3 868.5,425.3 870.0,425.3 871.5,425.3 873.0,425.3 874.5,425.3 876.0,425.3 877.5,425.3 879.0,425.2 880.5,425.2 882.0,425.2 883.5,425.2 885.0,425.2 886.5,425.2 888.0,425.2 889.5,425.2 891.0,425.2 892.5,425.2 894.0,425.2 895.5,425.1 897.0,425.1 898.5,425.1 900.0,425.1 901.5,425.1 903.0,425.1 904.5,425.1 906.0,425.1 907.5,425.1 909.0,425.1 910.5,425.0 912.0,425.0 913.5,425.0 915.0,425.0 916.5,425.0 918.0,425.0 919.5,420.6 919.5,414.5 919.8,408.4 918.7,390.2 920.2,376.0 921.4,364.9 922.8,351.7 923.9,340.5 925.4,326.4 926.6,315.2 928.1,301.0 929.3,289.9 930.8,275.7 931.9,264.6 933.3,251.4 934.6,239.2 936.0,226.0 937.3,213.5 938.8,199.3 940.0,188.2 941.5,174.0 942.7,162.8 944.1,149.7 945.2,138.5 946.6,125.3 947.8,114.2 949.2,101.0 950.4,89.9 951.5,78.8 952.7,67.6 953.5,60.5 954.1,54.4 954.7,48.4 955.5,39.0 957.0,39.0 958.5,39.0 960.0,39.0 961.5,39.0 963.0,39.0 964.5,38.9 966.0,38.9 967.5,38.9 969.0,38.9 970.5,38.9 972.0,38.9 973.5,38.9 975.0,38.9 976.5,38.9 978.0,38.9 979.5,38.8 981.0,38.8 982.5,38.8 984.0,38.8 985.5,38.8 987.0,38.8 988.5,38.8 990.0,38.8 991.5,38.8 993.0,38.8 994.5,38.8 996.0,38.7 997.5,38.7 999.0,38.7 1000.5,38.7 1002.0,38.7 1003.5,38.7 1005.0,38.7 1006.5,38.7 1008.0,38.7 1009.5,38.7 1011.0,38.6 1012.5,38.6 1014.0,38.6 1015.5,38.6 1017.0,38.6 1018.5,38.6 1020.0,38.6 1021.5,38.6 1023.0,38.6 1024.5,38.6 1026.0,38.6 1027.5,38.5 1029.0,38.5 1030.5,38.5 1032.0,38.5 1033.5,38.5 1035.0,38.5 1036.5,38.5 1038.0,38.5 1039.5,38.5 1041.0,38.5 1042.5,38.4 1044.0,38.4 1045.5,38.4 1047.0,38.4 1048.5,38.4 1050.0,38.4 1051.5,38.4 1053.0,38.4 1054.5,38.4 1056.0,38.4 1057.5,38.4 1059.0,38.3 1060.5,38.3 1062.0,38.3 1063.5,38.3 1065.0,38.3 1066.5,38.3 1068.0,38.3 1069.5,38.3 1071.0,38.3 1072.5,38.3 1074.0,38.2 1075.5,38.2 1077.0,38.2 1078.5,38.2 1080.0,38.2 1081.5,38.2 1083.0,38.2 1084.5,38.2 1086.0,38.2 1087.5,38.2 1089.0,38.2 1090.5,38.1 1092.0,38.1 1093.5,38.1 1095.0,38.1 1096.5,38.1 1098.0,38.1 1099.5,38.1 1101.0,38.1 1102.5,38.1 1104.0,38.1 1105.5,38.1 1107.0,38.0 1108.5,38.0 1110.0,38.0 1111.5,38.0 1113.0,38.0 1114.5,38.0 1116.0,38.0 1117.5,38.0 1119.0,38.0 1120.5,38.0 1122.0,37.9 1123.5,37.9 1125.0,37.9 1126.5,37.9 1128.0,37.9 1129.5,37.9 1131.0,37.9 1132.5,37.9 1134.0,37.9 1135.5,37.9 1137.0,37.9 1138.5,37.8 1140.0,37.8 1141.5,37.8 1143.0,37.8 1144.5,37.8" fill="none" stroke="#064a7c" stroke-width="3" stroke-linejoin="round"/>
<g><path d="M718.8,432.2L726.0,420.2L733.2,432.2Z" fill="#064a7c"/><path d="M720.2,432.2L727.5,420.2L734.8,432.2Z" fill="#064a7c"/><path d="M721.8,432.2L729.0,420.2L736.2,432.2Z" fill="#064a7c"/><path d="M723.2,432.2L730.5,420.2L737.8,432.2Z" fill="#064a7c"/><path d="M724.8,432.2L732.0,420.2L739.2,432.2Z" fill="#064a7c"/><path d="M726.2,432.2L733.5,420.2L740.8,432.2Z" fill="#064a7c"/><path d="M727.8,432.1L735.0,420.1L742.2,432.1Z" fill="#064a7c"/><path d="M729.2,432.1L736.5,420.1L743.8,432.1Z" fill="#064a7c"/><path d="M730.8,432.1L738.0,420.1L745.2,432.1Z" fill="#064a7c"/><path d="M732.2,432.1L739.5,420.1L746.8,432.1Z" fill="#064a7c"/><path d="M733.8,432.1L741.0,420.1L748.2,432.1Z" fill="#064a7c"/><path d="M735.2,432.1L742.5,420.1L749.8,432.1Z" fill="#064a7c"/><path d="M736.8,432.1L744.0,420.1L751.2,432.1Z" fill="#064a7c"/><path d="M738.2,432.1L745.5,420.1L752.8,432.1Z" fill="#064a7c"/><path d="M739.8,432.1L747.0,420.1L754.2,432.1Z" fill="#064a7c"/><path d="M741.2,432.1L748.5,420.1L755.8,432.1Z" fill="#064a7c"/><path d="M742.8,432.1L750.0,420.1L757.2,432.1Z" fill="#064a7c"/><path d="M744.2,432.0L751.5,420.0L758.8,432.0Z" fill="#064a7c"/><path d="M745.8,432.0L753.0,420.0L760.2,432.0Z" fill="#064a7c"/><path d="M747.2,432.0L754.5,420.0L761.8,432.0Z" fill="#064a7c"/><path d="M748.8,432.0L756.0,420.0L763.2,432.0Z" fill="#064a7c"/><path d="M750.2,432.0L757.5,420.0L764.8,432.0Z" fill="#064a7c"/><path d="M751.8,432.0L759.0,420.0L766.2,432.0Z" fill="#064a7c"/><path d="M753.2,432.0L760.5,420.0L767.8,432.0Z" fill="#064a7c"/><path d="M754.8,432.0L762.0,420.0L769.2,432.0Z" fill="#064a7c"/><path d="M756.2,432.0L763.5,420.0L770.8,432.0Z" fill="#064a7c"/><path d="M757.8,432.0L765.0,420.0L772.2,432.0Z" fill="#064a7c"/><path d="M759.2,431.9L766.5,419.9L773.8,431.9Z" fill="#064a7c"/><path d="M760.8,431.9L768.0,419.9L775.2,431.9Z" fill="#064a7c"/><path d="M762.2,431.9L769.5,419.9L776.8,431.9Z" fill="#064a7c"/><path d="M763.8,431.9L771.0,419.9L778.2,431.9Z" fill="#064a7c"/><path d="M765.2,431.9L772.5,419.9L779.8,431.9Z" fill="#064a7c"/><path d="M766.8,431.9L774.0,419.9L781.2,431.9Z" fill="#064a7c"/><path d="M768.2,431.9L775.5,419.9L782.8,431.9Z" fill="#064a7c"/><path d="M769.8,431.9L777.0,419.9L784.2,431.9Z" fill="#064a7c"/><path d="M771.2,431.9L778.5,419.9L785.8,431.9Z" fill="#064a7c"/><path d="M772.8,431.9L780.0,419.9L787.2,431.9Z" fill="#064a7c"/><path d="M774.2,431.9L781.5,419.9L788.8,431.9Z" fill="#064a7c"/><path d="M775.8,431.8L783.0,419.8L790.2,431.8Z" fill="#064a7c"/><path d="M777.2,431.8L784.5,419.8L791.8,431.8Z" fill="#064a7c"/><path d="M778.8,431.8L786.0,419.8L793.2,431.8Z" fill="#064a7c"/><path d="M780.2,431.8L787.5,419.8L794.8,431.8Z" fill="#064a7c"/><path d="M781.8,431.8L789.0,419.8L796.2,431.8Z" fill="#064a7c"/><path d="M783.2,431.8L790.5,419.8L797.8,431.8Z" fill="#064a7c"/><path d="M784.8,431.8L792.0,419.8L799.2,431.8Z" fill="#064a7c"/><path d="M786.2,431.8L793.5,419.8L800.8,431.8Z" fill="#064a7c"/><path d="M787.8,431.8L795.0,419.8L802.2,431.8Z" fill="#064a7c"/><path d="M789.2,431.8L796.5,419.8L803.8,431.8Z" fill="#064a7c"/><path d="M790.8,431.8L798.0,419.8L805.2,431.8Z" fill="#064a7c"/><path d="M792.2,431.7L799.5,419.7L806.8,431.7Z" fill="#064a7c"/><path d="M793.8,431.7L801.0,419.7L808.2,431.7Z" fill="#064a7c"/><path d="M795.2,431.7L802.5,419.7L809.8,431.7Z" fill="#064a7c"/><path d="M796.8,431.7L804.0,419.7L811.2,431.7Z" fill="#064a7c"/><path d="M798.2,431.7L805.5,419.7L812.8,431.7Z" fill="#064a7c"/><path d="M799.8,431.7L807.0,419.7L814.2,431.7Z" fill="#064a7c"/><path d="M801.2,431.7L808.5,419.7L815.8,431.7Z" fill="#064a7c"/><path d="M802.8,431.7L810.0,419.7L817.2,431.7Z" fill="#064a7c"/><path d="M804.2,431.7L811.5,419.7L818.8,431.7Z" fill="#064a7c"/><path d="M805.8,431.7L813.0,419.7L820.2,431.7Z" fill="#064a7c"/><path d="M807.2,431.6L814.5,419.6L821.8,431.6Z" fill="#064a7c"/><path d="M808.8,431.6L816.0,419.6L823.2,431.6Z" fill="#064a7c"/><path d="M810.2,431.6L817.5,419.6L824.8,431.6Z" fill="#064a7c"/><path d="M811.8,431.6L819.0,419.6L826.2,431.6Z" fill="#064a7c"/><path d="M813.2,431.6L820.5,419.6L827.8,431.6Z" fill="#064a7c"/><path d="M814.8,431.6L822.0,419.6L829.2,431.6Z" fill="#064a7c"/><path d="M816.2,431.6L823.5,419.6L830.8,431.6Z" fill="#064a7c"/><path d="M817.8,431.6L825.0,419.6L832.2,431.6Z" fill="#064a7c"/><path d="M819.2,431.6L826.5,419.6L833.8,431.6Z" fill="#064a7c"/><path d="M820.8,431.6L828.0,419.6L835.2,431.6Z" fill="#064a7c"/><path d="M822.2,431.6L829.5,419.6L836.8,431.6Z" fill="#064a7c"/><path d="M823.8,431.5L831.0,419.5L838.2,431.5Z" fill="#064a7c"/><path d="M825.2,431.5L832.5,419.5L839.8,431.5Z" fill="#064a7c"/><path d="M826.8,431.5L834.0,419.5L841.2,431.5Z" fill="#064a7c"/><path d="M828.2,431.5L835.5,419.5L842.8,431.5Z" fill="#064a7c"/><path d="M829.8,431.5L837.0,419.5L844.2,431.5Z" fill="#064a7c"/><path d="M831.2,431.5L838.5,419.5L845.8,431.5Z" fill="#064a7c"/><path d="M832.8,431.5L840.0,419.5L847.2,431.5Z" fill="#064a7c"/><path d="M834.2,431.5L841.5,419.5L848.8,431.5Z" fill="#064a7c"/><path d="M835.8,431.5L843.0,419.5L850.2,431.5Z" fill="#064a7c"/><path d="M837.2,431.5L844.5,419.5L851.8,431.5Z" fill="#064a7c"/><path d="M838.8,431.5L846.0,419.5L853.2,431.5Z" fill="#064a7c"/><path d="M840.2,431.4L847.5,419.4L854.8,431.4Z" fill="#064a7c"/><path d="M841.8,431.4L849.0,419.4L856.2,431.4Z" fill="#064a7c"/><path d="M843.2,431.4L850.5,419.4L857.8,431.4Z" fill="#064a7c"/><path d="M844.8,431.4L852.0,419.4L859.2,431.4Z" fill="#064a7c"/><path d="M846.2,431.4L853.5,419.4L860.8,431.4Z" fill="#064a7c"/><path d="M847.8,431.4L855.0,419.4L862.2,431.4Z" fill="#064a7c"/><path d="M849.2,431.4L856.5,419.4L863.8,431.4Z" fill="#064a7c"/><path d="M850.8,431.4L858.0,419.4L865.2,431.4Z" fill="#064a7c"/><path d="M852.2,431.4L859.5,419.4L866.8,431.4Z" fill="#064a7c"/><path d="M853.8,431.4L861.0,419.4L868.2,431.4Z" fill="#064a7c"/><path d="M855.2,431.3L862.5,419.3L869.8,431.3Z" fill="#064a7c"/><path d="M856.8,431.3L864.0,419.3L871.2,431.3Z" fill="#064a7c"/><path d="M858.2,431.3L865.5,419.3L872.8,431.3Z" fill="#064a7c"/><path d="M859.8,431.3L867.0,419.3L874.2,431.3Z" fill="#064a7c"/><path d="M861.2,431.3L868.5,419.3L875.8,431.3Z" fill="#064a7c"/><path d="M862.8,431.3L870.0,419.3L877.2,431.3Z" fill="#064a7c"/><path d="M864.2,431.3L871.5,419.3L878.8,431.3Z" fill="#064a7c"/><path d="M865.8,431.3L873.0,419.3L880.2,431.3Z" fill="#064a7c"/><path d="M867.2,431.3L874.5,419.3L881.8,431.3Z" fill="#064a7c"/><path d="M868.8,431.3L876.0,419.3L883.2,431.3Z" fill="#064a7c"/><path d="M870.2,431.3L877.5,419.3L884.8,431.3Z" fill="#064a7c"/><path d="M871.8,431.2L879.0,419.2L886.2,431.2Z" fill="#064a7c"/><path d="M873.2,431.2L880.5,419.2L887.8,431.2Z" fill="#064a7c"/><path d="M874.8,431.2L882.0,419.2L889.2,431.2Z" fill="#064a7c"/><path d="M876.2,431.2L883.5,419.2L890.8,431.2Z" fill="#064a7c"/><path d="M877.8,431.2L885.0,419.2L892.2,431.2Z" fill="#064a7c"/><path d="M879.2,431.2L886.5,419.2L893.8,431.2Z" fill="#064a7c"/><path d="M880.8,431.2L888.0,419.2L895.2,431.2Z" fill="#064a7c"/><path d="M882.2,431.2L889.5,419.2L896.8,431.2Z" fill="#064a7c"/><path d="M883.8,431.2L891.0,419.2L898.2,431.2Z" fill="#064a7c"/><path d="M885.2,431.2L892.5,419.2L899.8,431.2Z" fill="#064a7c"/><path d="M886.8,431.2L894.0,419.2L901.2,431.2Z" fill="#064a7c"/><path d="M888.2,431.1L895.5,419.1L902.8,431.1Z" fill="#064a7c"/><path d="M889.8,431.1L897.0,419.1L904.2,431.1Z" fill="#064a7c"/><path d="M891.2,431.1L898.5,419.1L905.8,431.1Z" fill="#064a7c"/><path d="M892.8,431.1L900.0,419.1L907.2,431.1Z" fill="#064a7c"/><path d="M894.2,431.1L901.5,419.1L908.8,431.1Z" fill="#064a7c"/><path d="M895.8,431.1L903.0,419.1L910.2,431.1Z" fill="#064a7c"/><path d="M897.2,431.1L904.5,419.1L911.8,431.1Z" fill="#064a7c"/><path d="M898.8,431.1L906.0,419.1L913.2,431.1Z" fill="#064a7c"/><path d="M900.2,431.1L907.5,419.1L914.8,431.1Z" fill="#064a7c"/><path d="M901.8,431.1L909.0,419.1L916.2,431.1Z" fill="#064a7c"/><path d="M903.2,431.0L910.5,419.0L917.8,431.0Z" fill="#064a7c"/><path d="M904.8,431.0L912.0,419.0L919.2,431.0Z" fill="#064a7c"/><path d="M906.2,431.0L913.5,419.0L920.8,431.0Z" fill="#064a7c"/><path d="M907.8,431.0L915.0,419.0L922.2,431.0Z" fill="#064a7c"/><path d="M909.2,431.0L916.5,419.0L923.8,431.0Z" fill="#064a7c"/><path d="M910.8,431.0L918.0,419.0L925.2,431.0Z" fill="#064a7c"/></g>
<g><path d="M912.2,426.6L919.5,414.6L926.8,426.6Z" fill="#064a7c"/><path d="M912.2,420.5L919.5,408.5L926.8,420.5Z" fill="#064a7c"/><path d="M912.5,414.4L919.8,402.4L927.0,414.4Z" fill="#064a7c"/><path d="M911.4,396.2L918.7,384.2L925.9,396.2Z" fill="#064a7c"/><path d="M912.9,382.0L920.2,370.0L927.4,382.0Z" fill="#064a7c"/><path d="M914.1,370.9L921.4,358.9L928.6,370.9Z" fill="#064a7c"/><path d="M915.5,357.7L922.8,345.7L930.0,357.7Z" fill="#064a7c"/><path d="M916.7,346.5L923.9,334.5L931.2,346.5Z" fill="#064a7c"/><path d="M918.2,332.4L925.4,320.4L932.7,332.4Z" fill="#064a7c"/><path d="M919.4,321.2L926.6,309.2L933.9,321.2Z" fill="#064a7c"/><path d="M920.9,307.0L928.1,295.0L935.4,307.0Z" fill="#064a7c"/><path d="M922.0,295.9L929.3,283.9L936.5,295.9Z" fill="#064a7c"/><path d="M923.5,281.7L930.8,269.7L938.0,281.7Z" fill="#064a7c"/><path d="M924.7,270.6L931.9,258.6L939.2,270.6Z" fill="#064a7c"/><path d="M926.1,257.4L933.3,245.4L940.6,257.4Z" fill="#064a7c"/><path d="M927.4,245.2L934.6,233.2L941.9,245.2Z" fill="#064a7c"/><path d="M928.8,232.0L936.0,220.0L943.3,232.0Z" fill="#064a7c"/><path d="M930.1,219.5L937.3,207.5L944.6,219.5Z" fill="#064a7c"/><path d="M931.6,205.3L938.8,193.3L946.1,205.3Z" fill="#064a7c"/><path d="M932.8,194.2L940.0,182.2L947.3,194.2Z" fill="#064a7c"/><path d="M934.2,180.0L941.5,168.0L948.7,180.0Z" fill="#064a7c"/><path d="M935.4,168.8L942.7,156.8L949.9,168.8Z" fill="#064a7c"/><path d="M936.8,155.7L944.1,143.7L951.3,155.7Z" fill="#064a7c"/><path d="M938.0,144.5L945.2,132.5L952.5,144.5Z" fill="#064a7c"/><path d="M939.4,131.3L946.6,119.3L953.9,131.3Z" fill="#064a7c"/><path d="M940.6,120.2L947.8,108.2L955.1,120.2Z" fill="#064a7c"/><path d="M942.0,107.0L949.2,95.0L956.5,107.0Z" fill="#064a7c"/><path d="M943.1,95.9L950.4,83.9L957.6,95.9Z" fill="#064a7c"/><path d="M944.3,84.8L951.5,72.8L958.8,84.8Z" fill="#064a7c"/><path d="M945.5,73.6L952.7,61.6L960.0,73.6Z" fill="#064a7c"/><path d="M946.2,66.5L953.5,54.5L960.7,66.5Z" fill="#064a7c"/><path d="M946.9,60.4L954.1,48.4L961.4,60.4Z" fill="#064a7c"/><path d="M947.5,54.4L954.7,42.4L962.0,54.4Z" fill="#064a7c"/></g>
<g><path d="M948.2,45.0L955.5,33.0L962.8,45.0Z" fill="#064a7c"/><path d="M949.8,45.0L957.0,33.0L964.2,45.0Z" fill="#064a7c"/><path d="M951.2,45.0L958.5,33.0L965.8,45.0Z" fill="#064a7c"/><path d="M952.8,45.0L960.0,33.0L967.2,45.0Z" fill="#064a7c"/><path d="M954.2,45.0L961.5,33.0L968.8,45.0Z" fill="#064a7c"/><path d="M955.8,45.0L963.0,33.0L970.2,45.0Z" fill="#064a7c"/><path d="M957.2,44.9L964.5,32.9L971.8,44.9Z" fill="#064a7c"/><path d="M958.8,44.9L966.0,32.9L973.2,44.9Z" fill="#064a7c"/><path d="M960.2,44.9L967.5,32.9L974.8,44.9Z" fill="#064a7c"/><path d="M961.8,44.9L969.0,32.9L976.2,44.9Z" fill="#064a7c"/><path d="M963.2,44.9L970.5,32.9L977.8,44.9Z" fill="#064a7c"/><path d="M964.8,44.9L972.0,32.9L979.2,44.9Z" fill="#064a7c"/><path d="M966.2,44.9L973.5,32.9L980.8,44.9Z" fill="#064a7c"/><path d="M967.8,44.9L975.0,32.9L982.2,44.9Z" fill="#064a7c"/><path d="M969.2,44.9L976.5,32.9L983.8,44.9Z" fill="#064a7c"/><path d="M970.8,44.9L978.0,32.9L985.2,44.9Z" fill="#064a7c"/><path d="M972.2,44.8L979.5,32.8L986.8,44.8Z" fill="#064a7c"/><path d="M973.8,44.8L981.0,32.8L988.2,44.8Z" fill="#064a7c"/><path d="M975.2,44.8L982.5,32.8L989.8,44.8Z" fill="#064a7c"/><path d="M976.8,44.8L984.0,32.8L991.2,44.8Z" fill="#064a7c"/><path d="M978.2,44.8L985.5,32.8L992.8,44.8Z" fill="#064a7c"/><path d="M979.8,44.8L987.0,32.8L994.2,44.8Z" fill="#064a7c"/><path d="M981.2,44.8L988.5,32.8L995.8,44.8Z" fill="#064a7c"/><path d="M982.8,44.8L990.0,32.8L997.2,44.8Z" fill="#064a7c"/><path d="M984.2,44.8L991.5,32.8L998.8,44.8Z" fill="#064a7c"/><path d="M985.8,44.8L993.0,32.8L1000.2,44.8Z" fill="#064a7c"/><path d="M987.2,44.8L994.5,32.8L1001.8,44.8Z" fill="#064a7c"/><path d="M988.8,44.7L996.0,32.7L1003.2,44.7Z" fill="#064a7c"/><path d="M990.2,44.7L997.5,32.7L1004.8,44.7Z" fill="#064a7c"/><path d="M991.8,44.7L999.0,32.7L1006.2,44.7Z" fill="#064a7c"/><path d="M993.2,44.7L1000.5,32.7L1007.8,44.7Z" fill="#064a7c"/><path d="M994.8,44.7L1002.0,32.7L1009.2,44.7Z" fill="#064a7c"/><path d="M996.2,44.7L1003.5,32.7L1010.8,44.7Z" fill="#064a7c"/><path d="M997.8,44.7L1005.0,32.7L1012.2,44.7Z" fill="#064a7c"/><path d="M999.2,44.7L1006.5,32.7L1013.8,44.7Z" fill="#064a7c"/><path d="M1000.8,44.7L1008.0,32.7L1015.2,44.7Z" fill="#064a7c"/><path d="M1002.2,44.7L1009.5,32.7L1016.8,44.7Z" fill="#064a7c"/><path d="M1003.8,44.6L1011.0,32.6L1018.2,44.6Z" fill="#064a7c"/><path d="M1005.2,44.6L1012.5,32.6L1019.8,44.6Z" fill="#064a7c"/><path d="M1006.8,44.6L1014.0,32.6L1021.2,44.6Z" fill="#064a7c"/><path d="M1008.2,44.6L1015.5,32.6L1022.8,44.6Z" fill="#064a7c"/><path d="M1009.8,44.6L1017.0,32.6L1024.2,44.6Z" fill="#064a7c"/><path d="M1011.2,44.6L1018.5,32.6L1025.8,44.6Z" fill="#064a7c"/><path d="M1012.8,44.6L1020.0,32.6L1027.2,44.6Z" fill="#064a7c"/><path d="M1014.2,44.6L1021.5,32.6L1028.8,44.6Z" fill="#064a7c"/><path d="M1015.8,44.6L1023.0,32.6L1030.2,44.6Z" fill="#064a7c"/><path d="M1017.2,44.6L1024.5,32.6L1031.8,44.6Z" fill="#064a7c"/><path d="M1018.8,44.6L1026.0,32.6L1033.2,44.6Z" fill="#064a7c"/><path d="M1020.2,44.5L1027.5,32.5L1034.8,44.5Z" fill="#064a7c"/><path d="M1021.8,44.5L1029.0,32.5L1036.2,44.5Z" fill="#064a7c"/><path d="M1023.2,44.5L1030.5,32.5L1037.8,44.5Z" fill="#064a7c"/><path d="M1024.8,44.5L1032.0,32.5L1039.2,44.5Z" fill="#064a7c"/><path d="M1026.2,44.5L1033.5,32.5L1040.8,44.5Z" fill="#064a7c"/><path d="M1027.8,44.5L1035.0,32.5L1042.2,44.5Z" fill="#064a7c"/><path d="M1029.2,44.5L1036.5,32.5L1043.8,44.5Z" fill="#064a7c"/><path d="M1030.8,44.5L1038.0,32.5L1045.2,44.5Z" fill="#064a7c"/><path d="M1032.2,44.5L1039.5,32.5L1046.8,44.5Z" fill="#064a7c"/><path d="M1033.8,44.5L1041.0,32.5L1048.2,44.5Z" fill="#064a7c"/><path d="M1035.2,44.4L1042.5,32.4L1049.8,44.4Z" fill="#064a7c"/><path d="M1036.8,44.4L1044.0,32.4L1051.2,44.4Z" fill="#064a7c"/><path d="M1038.2,44.4L1045.5,32.4L1052.8,44.4Z" fill="#064a7c"/><path d="M1039.8,44.4L1047.0,32.4L1054.2,44.4Z" fill="#064a7c"/><path d="M1041.2,44.4L1048.5,32.4L1055.8,44.4Z" fill="#064a7c"/><path d="M1042.8,44.4L1050.0,32.4L1057.2,44.4Z" fill="#064a7c"/><path d="M1044.2,44.4L1051.5,32.4L1058.8,44.4Z" fill="#064a7c"/><path d="M1045.8,44.4L1053.0,32.4L1060.2,44.4Z" fill="#064a7c"/><path d="M1047.2,44.4L1054.5,32.4L1061.8,44.4Z" fill="#064a7c"/><path d="M1048.8,44.4L1056.0,32.4L1063.2,44.4Z" fill="#064a7c"/><path d="M1050.2,44.4L1057.5,32.4L1064.8,44.4Z" fill="#064a7c"/><path d="M1051.8,44.3L1059.0,32.3L1066.2,44.3Z" fill="#064a7c"/><path d="M1053.2,44.3L1060.5,32.3L1067.8,44.3Z" fill="#064a7c"/><path d="M1054.8,44.3L1062.0,32.3L1069.2,44.3Z" fill="#064a7c"/><path d="M1056.2,44.3L1063.5,32.3L1070.8,44.3Z" fill="#064a7c"/><path d="M1057.8,44.3L1065.0,32.3L1072.2,44.3Z" fill="#064a7c"/><path d="M1059.2,44.3L1066.5,32.3L1073.8,44.3Z" fill="#064a7c"/><path d="M1060.8,44.3L1068.0,32.3L1075.2,44.3Z" fill="#064a7c"/><path d="M1062.2,44.3L1069.5,32.3L1076.8,44.3Z" fill="#064a7c"/><path d="M1063.8,44.3L1071.0,32.3L1078.2,44.3Z" fill="#064a7c"/><path d="M1065.2,44.3L1072.5,32.3L1079.8,44.3Z" fill="#064a7c"/><path d="M1066.8,44.2L1074.0,32.2L1081.2,44.2Z" fill="#064a7c"/><path d="M1068.2,44.2L1075.5,32.2L1082.8,44.2Z" fill="#064a7c"/><path d="M1069.8,44.2L1077.0,32.2L1084.2,44.2Z" fill="#064a7c"/><path d="M1071.2,44.2L1078.5,32.2L1085.8,44.2Z" fill="#064a7c"/><path d="M1072.8,44.2L1080.0,32.2L1087.2,44.2Z" fill="#064a7c"/><path d="M1074.2,44.2L1081.5,32.2L1088.8,44.2Z" fill="#064a7c"/><path d="M1075.8,44.2L1083.0,32.2L1090.2,44.2Z" fill="#064a7c"/><path d="M1077.2,44.2L1084.5,32.2L1091.8,44.2Z" fill="#064a7c"/><path d="M1078.8,44.2L1086.0,32.2L1093.2,44.2Z" fill="#064a7c"/><path d="M1080.2,44.2L1087.5,32.2L1094.8,44.2Z" fill="#064a7c"/><path d="M1081.8,44.2L1089.0,32.2L1096.2,44.2Z" fill="#064a7c"/><path d="M1083.2,44.1L1090.5,32.1L1097.8,44.1Z" fill="#064a7c"/><path d="M1084.8,44.1L1092.0,32.1L1099.2,44.1Z" fill="#064a7c"/><path d="M1086.2,44.1L1093.5,32.1L1100.8,44.1Z" fill="#064a7c"/><path d="M1087.8,44.1L1095.0,32.1L1102.2,44.1Z" fill="#064a7c"/><path d="M1089.2,44.1L1096.5,32.1L1103.8,44.1Z" fill="#064a7c"/><path d="M1090.8,44.1L1098.0,32.1L1105.2,44.1Z" fill="#064a7c"/><path d="M1092.2,44.1L1099.5,32.1L1106.8,44.1Z" fill="#064a7c"/><path d="M1093.8,44.1L1101.0,32.1L1108.2,44.1Z" fill="#064a7c"/><path d="M1095.2,44.1L1102.5,32.1L1109.8,44.1Z" fill="#064a7c"/><path d="M1096.8,44.1L1104.0,32.1L1111.2,44.1Z" fill="#064a7c"/><path d="M1098.2,44.1L1105.5,32.1L1112.8,44.1Z" fill="#064a7c"/><path d="M1099.8,44.0L1107.0,32.0L1114.2,44.0Z" fill="#064a7c"/><path d="M1101.2,44.0L1108.5,32.0L1115.8,44.0Z" fill="#064a7c"/><path d="M1102.8,44.0L1110.0,32.0L1117.2,44.0Z" fill="#064a7c"/><path d="M1104.2,44.0L1111.5,32.0L1118.8,44.0Z" fill="#064a7c"/><path d="M1105.8,44.0L1113.0,32.0L1120.2,44.0Z" fill="#064a7c"/><path d="M1107.2,44.0L1114.5,32.0L1121.8,44.0Z" fill="#064a7c"/><path d="M1108.8,44.0L1116.0,32.0L1123.2,44.0Z" fill="#064a7c"/><path d="M1110.2,44.0L1117.5,32.0L1124.8,44.0Z" fill="#064a7c"/><path d="M1111.8,44.0L1119.0,32.0L1126.2,44.0Z" fill="#064a7c"/><path d="M1113.2,44.0L1120.5,32.0L1127.8,44.0Z" fill="#064a7c"/><path d="M1114.8,43.9L1122.0,31.9L1129.2,43.9Z" fill="#064a7c"/><path d="M1116.2,43.9L1123.5,31.9L1130.8,43.9Z" fill="#064a7c"/><path d="M1117.8,43.9L1125.0,31.9L1132.2,43.9Z" fill="#064a7c"/><path d="M1119.2,43.9L1126.5,31.9L1133.8,43.9Z" fill="#064a7c"/><path d="M1120.8,43.9L1128.0,31.9L1135.2,43.9Z" fill="#064a7c"/><path d="M1122.2,43.9L1129.5,31.9L1136.8,43.9Z" fill="#064a7c"/><path d="M1123.8,43.9L1131.0,31.9L1138.2,43.9Z" fill="#064a7c"/><path d="M1125.2,43.9L1132.5,31.9L1139.8,43.9Z" fill="#064a7c"/><path d="M1126.8,43.9L1134.0,31.9L1141.2,43.9Z" fill="#064a7c"/><path d="M1128.2,43.9L1135.5,31.9L1142.8,43.9Z" fill="#064a7c"/><path d="M1129.8,43.9L1137.0,31.9L1144.2,43.9Z" fill="#064a7c"/><path d="M1131.2,43.8L1138.5,31.8L1145.8,43.8Z" fill="#064a7c"/><path d="M1132.8,43.8L1140.0,31.8L1147.2,43.8Z" fill="#064a7c"/><path d="M1134.2,43.8L1141.5,31.8L1148.8,43.8Z" fill="#064a7c"/><path d="M1135.8,43.8L1143.0,31.8L1150.2,43.8Z" fill="#064a7c"/><path d="M1137.2,43.8L1144.5,31.8L1151.8,43.8Z" fill="#064a7c"/></g>
<line x1="964" y1="383.3" x2="1018.7" y2="383.3" stroke="#064a7c" stroke-width="4"/>
<path d="M984.2,387.5L991.2,376.5L998.2,387.5Z" fill="#064a7c"/>
<rect x="695.5" y="10.2" width="479.0" height="445.0" fill="none" stroke="#606060" stroke-width="2.9"/>
<line x1="695.5" y1="432.8" x2="699.5" y2="432.8" stroke="#606060" stroke-width="2.0"/>
<line x1="695.5" y1="393.0" x2="703.5" y2="393.0" stroke="#606060" stroke-width="2.0"/>
<line x1="695.5" y1="353.2" x2="699.5" y2="353.2" stroke="#606060" stroke-width="2.0"/>
<line x1="695.5" y1="313.4" x2="703.5" y2="313.4" stroke="#606060" stroke-width="2.0"/>
<line x1="695.5" y1="273.6" x2="699.5" y2="273.6" stroke="#606060" stroke-width="2.0"/>
<line x1="695.5" y1="233.8" x2="703.5" y2="233.8" stroke="#606060" stroke-width="2.0"/>
<line x1="695.5" y1="194.0" x2="699.5" y2="194.0" stroke="#606060" stroke-width="2.0"/>
<line x1="695.5" y1="154.2" x2="703.5" y2="154.2" stroke="#606060" stroke-width="2.0"/>
<line x1="695.5" y1="114.4" x2="699.5" y2="114.4" stroke="#606060" stroke-width="2.0"/>
<line x1="695.5" y1="74.6" x2="703.5" y2="74.6" stroke="#606060" stroke-width="2.0"/>
<line x1="695.5" y1="34.8" x2="699.5" y2="34.8" stroke="#606060" stroke-width="2.0"/>
<line x1="710.6" y1="455.2" x2="710.6" y2="451.2" stroke="#606060" stroke-width="2.0"/>
<line x1="755.6" y1="455.2" x2="755.6" y2="447.2" stroke="#606060" stroke-width="2.0"/>
<line x1="800.5" y1="455.2" x2="800.5" y2="451.2" stroke="#606060" stroke-width="2.0"/>
<line x1="845.4" y1="455.2" x2="845.4" y2="447.2" stroke="#606060" stroke-width="2.0"/>
<line x1="890.4" y1="455.2" x2="890.4" y2="451.2" stroke="#606060" stroke-width="2.0"/>
<line x1="935.3" y1="455.2" x2="935.3" y2="447.2" stroke="#606060" stroke-width="2.0"/>
<line x1="980.2" y1="455.2" x2="980.2" y2="451.2" stroke="#606060" stroke-width="2.0"/>
<line x1="1025.2" y1="455.2" x2="1025.2" y2="447.2" stroke="#606060" stroke-width="2.0"/>
<line x1="1070.1" y1="455.2" x2="1070.1" y2="451.2" stroke="#606060" stroke-width="2.0"/>
<line x1="1115.0" y1="455.2" x2="1115.0" y2="447.2" stroke="#606060" stroke-width="2.0"/>
<line x1="1160.0" y1="455.2" x2="1160.0" y2="451.2" stroke="#606060" stroke-width="2.0"/>
<rect x="100.5" y="563.3" width="477.9" height="443.30000000000007" fill="none" stroke="#606060" stroke-width="2.9"/>
<line x1="100.5" y1="1006.7" x2="108.5" y2="1006.7" stroke="#606060" stroke-width="2.0"/>
<line x1="100.5" y1="951.3" x2="104.5" y2="951.3" stroke="#606060" stroke-width="2.0"/>
<line x1="100.5" y1="895.8" x2="108.5" y2="895.8" stroke="#606060" stroke-width="2.0"/>
<line x1="100.5" y1="840.4" x2="104.5" y2="840.4" stroke="#606060" stroke-width="2.0"/>
<line x1="100.5" y1="785.0" x2="108.5" y2="785.0" stroke="#606060" stroke-width="2.0"/>
<line x1="100.5" y1="729.6" x2="104.5" y2="729.6" stroke="#606060" stroke-width="2.0"/>
<line x1="100.5" y1="674.1" x2="108.5" y2="674.1" stroke="#606060" stroke-width="2.0"/>
<line x1="100.5" y1="618.7" x2="104.5" y2="618.7" stroke="#606060" stroke-width="2.0"/>
<line x1="100.5" y1="563.3" x2="108.5" y2="563.3" stroke="#606060" stroke-width="2.0"/>
<line x1="117.2" y1="1006.6" x2="117.2" y2="998.6" stroke="#606060" stroke-width="2.0"/>
<line x1="162.0" y1="1006.6" x2="162.0" y2="1002.6" stroke="#606060" stroke-width="2.0"/>
<line x1="206.8" y1="1006.6" x2="206.8" y2="998.6" stroke="#606060" stroke-width="2.0"/>
<line x1="251.6" y1="1006.6" x2="251.6" y2="1002.6" stroke="#606060" stroke-width="2.0"/>
<line x1="296.4" y1="1006.6" x2="296.4" y2="998.6" stroke="#606060" stroke-width="2.0"/>
<line x1="341.2" y1="1006.6" x2="341.2" y2="1002.6" stroke="#606060" stroke-width="2.0"/>
<line x1="386.0" y1="1006.6" x2="386.0" y2="998.6" stroke="#606060" stroke-width="2.0"/>
<line x1="430.8" y1="1006.6" x2="430.8" y2="1002.6" stroke="#606060" stroke-width="2.0"/>
<line x1="475.6" y1="1006.6" x2="475.6" y2="998.6" stroke="#606060" stroke-width="2.0"/>
<line x1="520.4" y1="1006.6" x2="520.4" y2="1002.6" stroke="#606060" stroke-width="2.0"/>
<line x1="565.2" y1="1006.6" x2="565.2" y2="998.6" stroke="#606060" stroke-width="2.0"/>
<g><polyline points="117.0,1006.7 117.1,1003.1 117.3,999.5 117.4,996.0 117.5,992.4 117.6,988.9 117.8,985.3 117.9,981.8 118.0,978.3 118.2,974.8 118.3,971.4 118.4,967.9 118.5,964.5 118.7,961.2 118.8,957.8 118.9,954.5 119.1,951.3 119.2,948.1 119.3,944.9 119.4,941.8 119.6,938.7 119.7,935.6 119.8,932.6 120.0,929.6 120.1,926.7 120.2,923.8 120.3,920.9 120.5,918.1 120.6,915.3 120.7,912.6 120.9,909.9 121.0,907.2 121.1,904.6 121.2,902.0 121.4,899.5 121.5,897.0 121.6,894.5 121.8,892.0 121.9,889.6 122.0,887.2 122.1,884.9 122.3,882.6 122.4,880.3 122.5,878.0 122.6,875.8 122.8,873.6 122.9,871.4 123.0,869.3 123.2,867.2 123.3,865.1 123.4,863.0 123.5,861.0 123.7,859.0 123.8,857.0 123.9,855.0 124.1,853.1 124.2,851.2 124.3,849.3 124.4,847.4 124.6,845.6 124.7,843.7 124.8,841.9 125.0,840.1 125.1,838.3 125.2,836.6 125.3,834.8 125.5,833.1 125.6,831.4 125.7,829.7 125.9,828.1 126.0,826.4 126.1,824.8 126.2,823.2 126.4,821.6 126.5,820.0 126.6,818.4 126.8,816.9 126.9,815.3 127.0,813.8 127.1,812.3 127.3,810.8 127.4,809.3 127.5,807.8 127.7,806.3 127.8,804.9 127.9,803.4 128.0,802.0 128.2,800.6 128.3,799.2 128.4,797.8 128.6,796.4 128.7,795.1 128.8,793.7 128.9,792.4 129.1,791.0 129.2,789.7 129.3,788.4 129.5,787.1 129.6,785.8 129.7,784.5 129.8,783.2 130.0,782.0 130.1,780.7 130.2,779.4 130.4,778.2 130.5,777.0 130.6,775.8 130.7,774.5 130.9,773.3 131.0,772.1 131.1,770.9 131.3,769.8 131.4,768.6 131.5,767.4 131.6,766.3 131.8,765.1 131.9,764.0 132.0,762.8 132.2,761.7 132.3,760.6 132.4,759.5 132.5,758.4 132.7,757.3 132.8,756.2 132.9,755.1 133.0,754.3 133.2,753.8 133.3,753.2 133.4,752.7 133.6,752.3 133.7,751.8 133.8,751.4 133.9,751.0 134.1,750.6 134.2,750.2 134.3,749.9 134.5,749.5 134.6,749.1 134.7,748.8 134.8,748.5 135.0,748.1 135.1,747.8 135.2,747.5 135.4,747.2 135.5,746.8 135.6,746.5 135.7,746.2 135.9,745.9 136.0,745.6 136.1,745.3 137.0,743.4 138.0,741.5 138.9,739.8 139.8,738.2 140.7,736.7 141.6,735.2 142.5,733.8 143.4,732.5 144.3,731.2 145.2,729.9 146.1,728.7 147.1,727.5 148.0,726.4 148.9,725.3 149.8,724.2 150.7,723.1 151.6,722.1 152.5,721.1 153.4,720.1 154.3,719.1 155.3,718.2 156.2,717.2 157.1,716.3 158.0,715.5 158.9,714.6 159.8,713.7 160.7,712.9 161.6,712.1 162.5,711.2 163.4,710.4 164.4,709.7 165.3,708.9 166.2,708.1 167.1,707.4 168.0,706.6 168.9,705.9 169.8,705.2 170.7,704.5 171.6,703.8 172.5,703.1 173.5,702.4 174.4,701.7 175.3,701.0 176.2,700.4 177.1,699.7 178.0,699.1 178.9,698.4 179.8,697.8 180.7,697.2 181.7,696.6 182.6,696.0 183.5,695.4 184.4,694.8 185.3,694.2 186.2,693.6 187.1,693.0 188.0,692.5 188.9,691.9 189.8,691.3 190.8,690.8 191.7,690.2 192.6,689.7 193.5,689.2 194.4,688.6 195.3,688.1 196.2,687.6 197.1,687.1 198.0,686.5 199.0,686.0 199.9,685.5 200.8,685.0 201.7,684.5 202.6,684.0 203.5,683.5 204.4,683.1 205.3,682.6 206.2,682.1 207.1,681.6 208.1,681.2 209.0,680.7 209.9,680.2 210.8,679.8 211.7,679.3 212.6,678.9 213.5,678.4 214.4,678.0 215.3,677.5 216.3,677.1 217.2,676.6 218.1,676.2 219.0,675.8 219.9,675.4 220.8,674.9 221.7,674.5 222.6,674.1 223.5,673.7 224.4,673.3 225.4,672.8 226.3,672.4 227.2,672.0 228.1,671.6 229.0,671.2 229.9,670.8 230.8,670.4 231.7,670.0 232.6,669.7 233.6,669.3 234.5,668.9 235.4,668.5 236.3,668.1 237.2,667.7 238.1,667.4 239.0,667.0 239.9,666.6 240.8,666.2 241.7,665.9 242.7,665.5 243.6,665.1 244.5,664.8" fill="none" stroke="#000000" stroke-width="7.5" stroke-linejoin="round" stroke-linecap="round"/><polyline points="244.5,664.8 267.0,656.4 289.6,649.0 312.1,642.3 334.7,636.2 357.2,630.5 379.8,625.3 402.3,620.4 424.9,615.9 447.4,611.5 469.9,607.4 492.5,603.5 515.0,599.7 537.6,596.1 560.1,592.6" fill="none" stroke="#000000" stroke-width="1.05"/><circle cx="267.0" cy="656.4" r="3.9" fill="#000000"/><circle cx="289.6" cy="649.0" r="3.9" fill="#000000"/><circle cx="312.1" cy="642.3" r="3.9" fill="#000000"/><circle cx="334.7" cy="636.2" r="3.9" fill="#000000"/><circle cx="357.2" cy="630.5" r="3.9" fill="#000000"/><circle cx="379.8" cy="625.3" r="3.9" fill="#000000"/><circle cx="402.3" cy="620.4" r="3.9" fill="#000000"/><circle cx="424.9" cy="615.9" r="3.9" fill="#000000"/><circle cx="447.4" cy="611.5" r="3.9" fill="#000000"/><circle cx="469.9" cy="607.4" r="3.9" fill="#000000"/><circle cx="492.5" cy="603.5" r="3.9" fill="#000000"/><circle cx="515.0" cy="599.7" r="3.9" fill="#000000"/><circle cx="537.6" cy="596.1" r="3.9" fill="#000000"/><circle cx="560.1" cy="592.6" r="3.9" fill="#000000"/><polyline points="117.0,1006.7 117.1,1003.1 117.3,999.5 117.4,996.0 117.5,992.4 117.6,988.8 117.8,985.3 117.9,981.8 118.0,978.3 118.2,974.8 118.3,971.3 118.4,967.9 118.5,964.5 118.7,961.1 118.8,957.8 118.9,954.5 119.1,951.3 119.2,948.0 119.3,944.9 119.4,941.7 119.6,938.6 119.7,935.6 119.8,932.6 120.0,929.6 120.1,926.6 120.2,923.7 120.3,920.9 120.5,918.1 120.6,915.3 120.7,912.6 120.9,909.9 121.0,907.2 121.1,904.6 121.2,902.0 121.4,899.4 121.5,896.9 121.6,894.5 121.8,892.0 121.9,889.6 122.0,887.2 122.1,884.9 122.3,882.6 122.4,880.3 122.5,878.0 122.6,875.8 122.8,873.6 122.9,871.4 123.0,869.3 123.2,867.2 123.3,865.1 123.4,863.0 123.5,861.0 123.7,859.0 123.8,857.0 123.9,855.0 124.1,853.1 124.2,851.2 124.3,849.3 124.4,847.4 124.6,845.5 124.7,843.7 124.8,841.9 125.0,840.1 125.1,838.3 125.2,836.6 125.3,834.8 125.5,833.1 125.6,831.4 125.7,829.7 125.9,828.1 126.0,826.4 126.1,824.8 126.2,823.1 126.4,821.5 126.5,820.0 126.6,818.4 126.8,816.8 126.9,815.3 127.0,813.8 127.1,812.2 127.3,810.7 127.4,809.2 127.5,807.8 127.7,806.3 127.8,804.9 127.9,803.4 128.0,802.0 128.2,800.6 128.3,799.2 128.4,797.8 128.6,796.4 128.7,795.0 128.8,793.7 128.9,792.3 129.1,791.0 129.2,789.7 129.3,788.4 129.5,787.1 129.6,785.8 129.7,784.5 129.8,783.2 130.0,781.9 130.1,780.7 130.2,779.4 130.4,778.2 130.5,777.0 130.6,775.7 130.7,774.5 130.9,773.3 131.0,772.1 131.1,770.9 131.3,769.7 131.4,768.6 131.5,767.4 131.6,766.2 131.8,765.1 131.9,764.0 132.0,762.8 132.2,761.7 132.3,760.6 132.4,759.9 132.5,759.3 132.7,758.7 132.8,758.2 132.9,757.7 133.0,757.3 133.2,756.8 133.3,756.4 133.4,756.0 133.6,755.6 133.7,755.2 133.8,754.8 133.9,754.5 134.1,754.1 134.2,753.7 134.3,753.4 134.5,753.0 134.6,752.7 134.7,752.4 134.8,752.0 135.0,751.7 135.1,751.4 135.2,751.1 135.4,750.8 135.5,750.5 135.6,750.2 135.7,749.9 135.9,749.6 136.0,749.3 136.1,749.0 137.0,747.1 138.0,745.3 138.9,743.5 139.8,741.9 140.7,740.4 141.6,738.9 142.5,737.5 143.4,736.1 144.3,734.8 145.2,733.5 146.1,732.3 147.1,731.1 148.0,729.9 148.9,728.8 149.8,727.7 150.7,726.6 151.6,725.5 152.5,724.5 153.4,723.5 154.3,722.5 155.3,721.6 156.2,720.6 157.1,719.7 158.0,718.8 158.9,717.9 159.8,717.0 160.7,716.2 161.6,715.3 162.5,714.5 163.4,713.7 164.4,712.9 165.3,712.1 166.2,711.3 167.1,710.6 168.0,709.8 168.9,709.1 169.8,708.3 170.7,707.6 171.6,706.9 172.5,706.2 173.5,705.5 174.4,704.8 175.3,704.1 176.2,703.5 177.1,702.8 178.0,702.1 178.9,701.5 179.8,700.9 180.7,700.2 181.7,699.6 182.6,699.0 183.5,698.4 184.4,697.8 185.3,697.2 186.2,696.6 187.1,696.0 188.0,695.4 188.9,694.8 189.8,694.3 190.8,693.7 191.7,693.1 192.6,692.6 193.5,692.0 194.4,691.5 195.3,691.0 196.2,690.4 197.1,689.9 198.0,689.4 199.0,688.9 199.9,688.4 200.8,687.8 201.7,687.3 202.6,686.8 203.5,686.3 204.4,685.8 205.3,685.4 206.2,684.9 207.1,684.4 208.1,683.9 209.0,683.4 209.9,683.0 210.8,682.5 211.7,682.0 212.6,681.6 213.5,681.1 214.4,680.7 215.3,680.2 216.3,679.8 217.2,679.3 218.1,678.9 219.0,678.5 219.9,678.0 220.8,677.6 221.7,677.2 222.6,676.7 223.5,676.3 224.4,675.9 225.4,675.5 226.3,675.1 227.2,674.7 228.1,674.2 229.0,673.8 229.9,673.4 230.8,673.0 231.7,672.6 232.6,672.2 233.6,671.8 234.5,671.5 235.4,671.1 236.3,670.7 237.2,670.3 238.1,669.9 239.0,669.5 239.9,669.2 240.8,668.8 241.7,668.4 242.7,668.0 243.6,667.7 244.5,667.3" fill="none" stroke="#ff0000" stroke-width="7.5" stroke-linejoin="round" stroke-linecap="round"/><polyline points="244.5,667.3 267.0,658.8 289.6,651.3 312.1,644.5 334.7,638.3 357.2,632.6 379.8,627.3 402.3,622.4 424.9,617.8 447.4,613.4 469.9,609.2 492.5,605.3 515.0,601.5 537.6,597.8 560.1,594.2" fill="none" stroke="#ff0000" stroke-width="1.05"/><circle cx="267.0" cy="658.8" r="3.9" fill="#ff0000"/><circle cx="289.6" cy="651.3" r="3.9" fill="#ff0000"/><circle cx="312.1" cy="644.5" r="3.9" fill="#ff0000"/><circle cx="334.7" cy="638.3" r="3.9" fill="#ff0000"/><circle cx="357.2" cy="632.6" r="3.9" fill="#ff0000"/><circle cx="379.8" cy="627.3" r="3.9" fill="#ff0000"/><circle cx="402.3" cy="622.4" r="3.9" fill="#ff0000"/><circle cx="424.9" cy="617.8" r="3.9" fill="#ff0000"/><circle cx="447.4" cy="613.4" r="3.9" fill="#ff0000"/><circle cx="469.9" cy="609.2" r="3.9" fill="#ff0000"/><circle cx="492.5" cy="605.3" r="3.9" fill="#ff0000"/><circle cx="515.0" cy="601.5" r="3.9" fill="#ff0000"/><circle cx="537.6" cy="597.8" r="3.9" fill="#ff0000"/><circle cx="560.1" cy="594.2" r="3.9" fill="#ff0000"/><polyline points="117.0,1006.7 117.1,1003.1 117.3,999.5 117.4,995.9 117.5,992.4 117.6,988.8 117.8,985.3 117.9,981.8 118.0,978.2 118.2,974.8 118.3,971.3 118.4,967.9 118.5,964.5 118.7,961.1 118.8,957.8 118.9,954.5 119.1,951.2 119.2,948.0 119.3,944.8 119.4,941.7 119.6,938.6 119.7,935.5 119.8,932.5 120.0,929.6 120.1,926.6 120.2,923.7 120.3,920.9 120.5,918.1 120.6,915.3 120.7,912.5 120.9,909.8 121.0,907.2 121.1,904.6 121.2,902.0 121.4,899.4 121.5,896.9 121.6,894.4 121.8,892.0 121.9,889.6 122.0,887.2 122.1,884.8 122.3,882.5 122.4,880.2 122.5,878.0 122.6,875.8 122.8,873.6 122.9,871.4 123.0,869.3 123.2,867.1 123.3,865.1 123.4,863.0 123.5,861.0 123.7,858.9 123.8,857.0 123.9,855.0 124.1,853.1 124.2,851.1 124.3,849.2 124.4,847.4 124.6,845.5 124.7,843.7 124.8,841.9 125.0,840.1 125.1,838.3 125.2,836.5 125.3,834.8 125.5,833.1 125.6,831.4 125.7,829.7 125.9,828.0 126.0,826.4 126.1,824.7 126.2,823.1 126.4,821.5 126.5,819.9 126.6,818.4 126.8,816.8 126.9,815.3 127.0,813.7 127.1,812.2 127.3,810.7 127.4,809.2 127.5,807.8 127.7,806.3 127.8,804.8 127.9,803.4 128.0,802.0 128.2,800.6 128.3,799.2 128.4,797.8 128.6,796.4 128.7,795.0 128.8,793.7 128.9,792.3 129.1,791.0 129.2,789.7 129.3,788.3 129.5,787.0 129.6,785.7 129.7,784.5 129.8,783.2 130.0,781.9 130.1,780.7 130.2,779.4 130.4,778.2 130.5,776.9 130.6,775.7 130.7,774.5 130.9,773.3 131.0,772.1 131.1,770.9 131.3,769.7 131.4,768.6 131.5,767.4 131.6,766.3 131.8,765.6 131.9,765.0 132.0,764.4 132.2,763.9 132.3,763.4 132.4,762.9 132.5,762.5 132.7,762.0 132.8,761.6 132.9,761.2 133.0,760.8 133.2,760.4 133.3,760.0 133.4,759.6 133.6,759.2 133.7,758.9 133.8,758.5 133.9,758.1 134.1,757.8 134.2,757.5 134.3,757.1 134.5,756.8 134.6,756.5 134.7,756.1 134.8,755.8 135.0,755.5 135.1,755.2 135.2,754.9 135.4,754.6 135.5,754.3 135.6,754.0 135.7,753.7 135.9,753.4 136.0,753.1 136.1,752.8 137.0,750.9 138.0,749.1 138.9,747.3 139.8,745.7 140.7,744.1 141.6,742.6 142.5,741.2 143.4,739.8 144.3,738.5 145.2,737.2 146.1,735.9 147.1,734.7 148.0,733.5 148.9,732.4 149.8,731.2 150.7,730.1 151.6,729.1 152.5,728.0 153.4,727.0 154.3,726.0 155.3,725.0 156.2,724.1 157.1,723.1 158.0,722.2 158.9,721.3 159.8,720.4 160.7,719.5 161.6,718.7 162.5,717.8 163.4,717.0 164.4,716.2 165.3,715.4 166.2,714.6 167.1,713.8 168.0,713.0 168.9,712.3 169.8,711.5 170.7,710.8 171.6,710.1 172.5,709.4 173.5,708.6 174.4,708.0 175.3,707.3 176.2,706.6 177.1,705.9 178.0,705.2 178.9,704.6 179.8,703.9 180.7,703.3 181.7,702.7 182.6,702.0 183.5,701.4 184.4,700.8 185.3,700.2 186.2,699.6 187.1,699.0 188.0,698.4 188.9,697.8 189.8,697.2 190.8,696.7 191.7,696.1 192.6,695.5 193.5,695.0 194.4,694.4 195.3,693.9 196.2,693.3 197.1,692.8 198.0,692.3 199.0,691.7 199.9,691.2 200.8,690.7 201.7,690.2 202.6,689.7 203.5,689.2 204.4,688.7 205.3,688.2 206.2,687.7 207.1,687.2 208.1,686.7 209.0,686.2 209.9,685.7 210.8,685.3 211.7,684.8 212.6,684.3 213.5,683.9 214.4,683.4 215.3,683.0 216.3,682.5 217.2,682.1 218.1,681.6 219.0,681.2 219.9,680.7 220.8,680.3 221.7,679.8 222.6,679.4 223.5,679.0 224.4,678.6 225.4,678.1 226.3,677.7 227.2,677.3 228.1,676.9 229.0,676.5 229.9,676.1 230.8,675.7 231.7,675.3 232.6,674.9 233.6,674.5 234.5,674.1 235.4,673.7 236.3,673.3 237.2,672.9 238.1,672.5 239.0,672.1 239.9,671.7 240.8,671.3 241.7,671.0 242.7,670.6 243.6,670.2 244.5,669.8" fill="none" stroke="#0000ff" stroke-width="7.5" stroke-linejoin="round" stroke-linecap="round"/><polyline points="244.5,669.8 267.0,661.2 289.6,653.6 312.1,646.7 334.7,640.4 357.2,634.7 379.8,629.3 402.3,624.3 424.9,619.7 447.4,615.2 469.9,611.0 492.5,607.0 515.0,603.2 537.6,599.5 560.1,595.9" fill="none" stroke="#0000ff" stroke-width="1.05"/><circle cx="267.0" cy="661.2" r="3.9" fill="#0000ff"/><circle cx="289.6" cy="653.6" r="3.9" fill="#0000ff"/><circle cx="312.1" cy="646.7" r="3.9" fill="#0000ff"/><circle cx="334.7" cy="640.4" r="3.9" fill="#0000ff"/><circle cx="357.2" cy="634.7" r="3.9" fill="#0000ff"/><circle cx="379.8" cy="629.3" r="3.9" fill="#0000ff"/><circle cx="402.3" cy="624.3" r="3.9" fill="#0000ff"/><circle cx="424.9" cy="619.7" r="3.9" fill="#0000ff"/><circle cx="447.4" cy="615.2" r="3.9" fill="#0000ff"/><circle cx="469.9" cy="611.0" r="3.9" fill="#0000ff"/><circle cx="492.5" cy="607.0" r="3.9" fill="#0000ff"/><circle cx="515.0" cy="603.2" r="3.9" fill="#0000ff"/><circle cx="537.6" cy="599.5" r="3.9" fill="#0000ff"/><circle cx="560.1" cy="595.9" r="3.9" fill="#0000ff"/><polyline points="117.0,1006.7 117.1,1003.1 117.3,999.5 117.4,995.9 117.5,992.4 117.6,988.8 117.8,985.3 117.9,981.7 118.0,978.2 118.2,974.7 118.3,971.3 118.4,967.8 118.5,964.4 118.7,961.1 118.8,957.8 118.9,954.5 119.1,951.2 119.2,948.0 119.3,944.8 119.4,941.7 119.6,938.6 119.7,935.5 119.8,932.5 120.0,929.5 120.1,926.6 120.2,923.7 120.3,920.8 120.5,918.0 120.6,915.3 120.7,912.5 120.9,909.8 121.0,907.2 121.1,904.5 121.2,901.9 121.4,899.4 121.5,896.9 121.6,894.4 121.8,892.0 121.9,889.5 122.0,887.2 122.1,884.8 122.3,882.5 122.4,880.2 122.5,878.0 122.6,875.7 122.8,873.5 122.9,871.4 123.0,869.2 123.2,867.1 123.3,865.0 123.4,863.0 123.5,860.9 123.7,858.9 123.8,856.9 123.9,855.0 124.1,853.0 124.2,851.1 124.3,849.2 124.4,847.3 124.6,845.5 124.7,843.7 124.8,841.8 125.0,840.0 125.1,838.3 125.2,836.5 125.3,834.8 125.5,833.1 125.6,831.4 125.7,829.7 125.9,828.0 126.0,826.4 126.1,824.7 126.2,823.1 126.4,821.5 126.5,819.9 126.6,818.3 126.8,816.8 126.9,815.2 127.0,813.7 127.1,812.2 127.3,810.7 127.4,809.2 127.5,807.7 127.7,806.3 127.8,804.8 127.9,803.4 128.0,802.0 128.2,800.5 128.3,799.1 128.4,797.8 128.6,796.4 128.7,795.0 128.8,793.6 128.9,792.3 129.1,791.0 129.2,789.6 129.3,788.3 129.5,787.0 129.6,785.7 129.7,784.4 129.8,783.2 130.0,781.9 130.1,780.6 130.2,779.4 130.4,778.1 130.5,776.9 130.6,775.7 130.7,774.5 130.9,773.3 131.0,772.3 131.1,771.6 131.3,771.0 131.4,770.4 131.5,769.8 131.6,769.3 131.8,768.8 131.9,768.3 132.0,767.9 132.2,767.4 132.3,767.0 132.4,766.5 132.5,766.1 132.7,765.7 132.8,765.3 132.9,764.9 133.0,764.5 133.2,764.2 133.3,763.8 133.4,763.4 133.6,763.1 133.7,762.7 133.8,762.4 133.9,762.0 134.1,761.7 134.2,761.3 134.3,761.0 134.5,760.7 134.6,760.4 134.7,760.0 134.8,759.7 135.0,759.4 135.1,759.1 135.2,758.8 135.4,758.5 135.5,758.2 135.6,757.9 135.7,757.6 135.9,757.3 136.0,757.0 136.1,756.8 137.0,754.8 138.0,753.0 138.9,751.2 139.8,749.6 140.7,748.0 141.6,746.5 142.5,745.0 143.4,743.6 144.3,742.3 145.2,740.9 146.1,739.7 147.1,738.4 148.0,737.2 148.9,736.0 149.8,734.9 150.7,733.8 151.6,732.7 152.5,731.6 153.4,730.6 154.3,729.6 155.3,728.6 156.2,727.6 157.1,726.6 158.0,725.7 158.9,724.8 159.8,723.9 160.7,723.0 161.6,722.1 162.5,721.2 163.4,720.4 164.4,719.5 165.3,718.7 166.2,717.9 167.1,717.1 168.0,716.3 168.9,715.6 169.8,714.8 170.7,714.1 171.6,713.3 172.5,712.6 173.5,711.9 174.4,711.1 175.3,710.4 176.2,709.7 177.1,709.1 178.0,708.4 178.9,707.7 179.8,707.1 180.7,706.4 181.7,705.8 182.6,705.1 183.5,704.5 184.4,703.9 185.3,703.2 186.2,702.6 187.1,702.0 188.0,701.4 188.9,700.8 189.8,700.2 190.8,699.7 191.7,699.1 192.6,698.5 193.5,697.9 194.4,697.4 195.3,696.8 196.2,696.3 197.1,695.7 198.0,695.2 199.0,694.6 199.9,694.1 200.8,693.6 201.7,693.1 202.6,692.6 203.5,692.0 204.4,691.5 205.3,691.0 206.2,690.5 207.1,690.0 208.1,689.5 209.0,689.0 209.9,688.6 210.8,688.1 211.7,687.6 212.6,687.1 213.5,686.7 214.4,686.2 215.3,685.7 216.3,685.3 217.2,684.8 218.1,684.3 219.0,683.9 219.9,683.5 220.8,683.0 221.7,682.6 222.6,682.1 223.5,681.7 224.4,681.3 225.4,680.8 226.3,680.4 227.2,680.0 228.1,679.6 229.0,679.1 229.9,678.7 230.8,678.3 231.7,677.9 232.6,677.5 233.6,677.1 234.5,676.7 235.4,676.3 236.3,675.9 237.2,675.5 238.1,675.1 239.0,674.7 239.9,674.3 240.8,673.9 241.7,673.5 242.7,673.2 243.6,672.8 244.5,672.4" fill="none" stroke="#ff00ff" stroke-width="7.5" stroke-linejoin="round" stroke-linecap="round"/><polyline points="244.5,672.4 267.0,663.7 289.6,655.9 312.1,648.9 334.7,642.6 357.2,636.8 379.8,631.4 402.3,626.3 424.9,621.6 447.4,617.1 469.9,612.8 492.5,608.8 515.0,604.9 537.6,601.2 560.1,597.6" fill="none" stroke="#ff00ff" stroke-width="1.05"/><circle cx="267.0" cy="663.7" r="3.9" fill="#ff00ff"/><circle cx="289.6" cy="655.9" r="3.9" fill="#ff00ff"/><circle cx="312.1" cy="648.9" r="3.9" fill="#ff00ff"/><circle cx="334.7" cy="642.6" r="3.9" fill="#ff00ff"/><circle cx="357.2" cy="636.8" r="3.9" fill="#ff00ff"/><circle cx="379.8" cy="631.4" r="3.9" fill="#ff00ff"/><circle cx="402.3" cy="626.3" r="3.9" fill="#ff00ff"/><circle cx="424.9" cy="621.6" r="3.9" fill="#ff00ff"/><circle cx="447.4" cy="617.1" r="3.9" fill="#ff00ff"/><circle cx="469.9" cy="612.8" r="3.9" fill="#ff00ff"/><circle cx="492.5" cy="608.8" r="3.9" fill="#ff00ff"/><circle cx="515.0" cy="604.9" r="3.9" fill="#ff00ff"/><circle cx="537.6" cy="601.2" r="3.9" fill="#ff00ff"/><circle cx="560.1" cy="597.6" r="3.9" fill="#ff00ff"/><polyline points="117.0,1006.7 117.1,1003.1 117.3,999.5 117.4,995.9 117.5,992.3 117.6,988.8 117.8,985.2 117.9,981.7 118.0,978.2 118.2,974.7 118.3,971.2 118.4,967.8 118.5,964.4 118.7,961.1 118.8,957.7 118.9,954.4 119.1,951.2 119.2,948.0 119.3,944.8 119.4,941.7 119.6,938.6 119.7,935.5 119.8,932.5 120.0,929.5 120.1,926.6 120.2,923.7 120.3,920.8 120.5,918.0 120.6,915.2 120.7,912.5 120.9,909.8 121.0,907.1 121.1,904.5 121.2,901.9 121.4,899.4 121.5,896.9 121.6,894.4 121.8,891.9 121.9,889.5 122.0,887.1 122.1,884.8 122.3,882.5 122.4,880.2 122.5,877.9 122.6,875.7 122.8,873.5 122.9,871.4 123.0,869.2 123.2,867.1 123.3,865.0 123.4,863.0 123.5,860.9 123.7,858.9 123.8,856.9 123.9,855.0 124.1,853.0 124.2,851.1 124.3,849.2 124.4,847.3 124.6,845.5 124.7,843.6 124.8,841.8 125.0,840.0 125.1,838.3 125.2,836.5 125.3,834.8 125.5,833.0 125.6,831.3 125.7,829.7 125.9,828.0 126.0,826.3 126.1,824.7 126.2,823.1 126.4,821.5 126.5,819.9 126.6,818.3 126.8,816.8 126.9,815.2 127.0,813.7 127.1,812.2 127.3,810.7 127.4,809.2 127.5,807.7 127.7,806.2 127.8,804.8 127.9,803.4 128.0,801.9 128.2,800.5 128.3,799.1 128.4,797.7 128.6,796.4 128.7,795.0 128.8,793.6 128.9,792.3 129.1,790.9 129.2,789.6 129.3,788.3 129.5,787.0 129.6,785.7 129.7,784.4 129.8,783.1 130.0,781.9 130.1,780.6 130.2,779.4 130.4,778.5 130.5,777.8 130.6,777.2 130.7,776.6 130.9,776.0 131.0,775.5 131.1,774.9 131.3,774.4 131.4,774.0 131.5,773.5 131.6,773.0 131.8,772.6 131.9,772.1 132.0,771.7 132.2,771.3 132.3,770.9 132.4,770.5 132.5,770.1 132.7,769.7 132.8,769.3 132.9,768.9 133.0,768.5 133.2,768.2 133.3,767.8 133.4,767.4 133.6,767.1 133.7,766.7 133.8,766.4 133.9,766.1 134.1,765.7 134.2,765.4 134.3,765.1 134.5,764.7 134.6,764.4 134.7,764.1 134.8,763.8 135.0,763.5 135.1,763.2 135.2,762.9 135.4,762.6 135.5,762.3 135.6,762.0 135.7,761.7 135.9,761.4 136.0,761.1 136.1,760.8 137.0,758.9 138.0,757.0 138.9,755.3 139.8,753.6 140.7,752.0 141.6,750.4 142.5,748.9 143.4,747.5 144.3,746.1 145.2,744.8 146.1,743.5 147.1,742.2 148.0,741.0 148.9,739.8 149.8,738.6 150.7,737.5 151.6,736.4 152.5,735.3 153.4,734.2 154.3,733.2 155.3,732.2 156.2,731.2 157.1,730.2 158.0,729.2 158.9,728.3 159.8,727.4 160.7,726.4 161.6,725.5 162.5,724.7 163.4,723.8 164.4,723.0 165.3,722.1 166.2,721.3 167.1,720.5 168.0,719.7 168.9,718.9 169.8,718.1 170.7,717.4 171.6,716.6 172.5,715.9 173.5,715.1 174.4,714.4 175.3,713.7 176.2,713.0 177.1,712.3 178.0,711.6 178.9,710.9 179.8,710.2 180.7,709.6 181.7,708.9 182.6,708.2 183.5,707.6 184.4,707.0 185.3,706.3 186.2,705.7 187.1,705.1 188.0,704.5 188.9,703.9 189.8,703.3 190.8,702.7 191.7,702.1 192.6,701.5 193.5,700.9 194.4,700.4 195.3,699.8 196.2,699.2 197.1,698.7 198.0,698.1 199.0,697.6 199.9,697.1 200.8,696.5 201.7,696.0 202.6,695.5 203.5,694.9 204.4,694.4 205.3,693.9 206.2,693.4 207.1,692.9 208.1,692.4 209.0,691.9 209.9,691.4 210.8,690.9 211.7,690.4 212.6,689.9 213.5,689.5 214.4,689.0 215.3,688.5 216.3,688.1 217.2,687.6 218.1,687.1 219.0,686.7 219.9,686.2 220.8,685.8 221.7,685.3 222.6,684.9 223.5,684.4 224.4,684.0 225.4,683.5 226.3,683.1 227.2,682.7 228.1,682.3 229.0,681.8 229.9,681.4 230.8,681.0 231.7,680.6 232.6,680.2 233.6,679.7 234.5,679.3 235.4,678.9 236.3,678.5 237.2,678.1 238.1,677.7 239.0,677.3 239.9,676.9 240.8,676.5 241.7,676.2 242.7,675.8 243.6,675.4 244.5,675.0" fill="none" stroke="#008000" stroke-width="7.5" stroke-linejoin="round" stroke-linecap="round"/><polyline points="244.5,675.0 267.0,666.1 289.6,658.3 312.1,651.2 334.7,644.8 357.2,638.9 379.8,633.4 402.3,628.3 424.9,623.5 447.4,619.0 469.9,614.7 492.5,610.6 515.0,606.7 537.6,602.9 560.1,599.3" fill="none" stroke="#008000" stroke-width="1.05"/><circle cx="267.0" cy="666.1" r="3.9" fill="#008000"/><circle cx="289.6" cy="658.3" r="3.9" fill="#008000"/><circle cx="312.1" cy="651.2" r="3.9" fill="#008000"/><circle cx="334.7" cy="644.8" r="3.9" fill="#008000"/><circle cx="357.2" cy="638.9" r="3.9" fill="#008000"/><circle cx="379.8" cy="633.4" r="3.9" fill="#008000"/><circle cx="402.3" cy="628.3" r="3.9" fill="#008000"/><circle cx="424.9" cy="623.5" r="3.9" fill="#008000"/><circle cx="447.4" cy="619.0" r="3.9" fill="#008000"/><circle cx="469.9" cy="614.7" r="3.9" fill="#008000"/><circle cx="492.5" cy="610.6" r="3.9" fill="#008000"/><circle cx="515.0" cy="606.7" r="3.9" fill="#008000"/><circle cx="537.6" cy="602.9" r="3.9" fill="#008000"/><circle cx="560.1" cy="599.3" r="3.9" fill="#008000"/><polyline points="117.0,1006.7 117.1,1003.1 117.3,999.5 117.4,995.9 117.5,992.3 117.6,988.8 117.8,985.2 117.9,981.7 118.0,978.2 118.2,974.7 118.3,971.2 118.4,967.8 118.5,964.4 118.7,961.0 118.8,957.7 118.9,954.4 119.1,951.2 119.2,947.9 119.3,944.8 119.4,941.6 119.6,938.5 119.7,935.5 119.8,932.5 120.0,929.5 120.1,926.5 120.2,923.6 120.3,920.8 120.5,918.0 120.6,915.2 120.7,912.5 120.9,909.8 121.0,907.1 121.1,904.5 121.2,901.9 121.4,899.3 121.5,896.8 121.6,894.4 121.8,891.9 121.9,889.5 122.0,887.1 122.1,884.8 122.3,882.5 122.4,880.2 122.5,877.9 122.6,875.7 122.8,873.5 122.9,871.3 123.0,869.2 123.2,867.1 123.3,865.0 123.4,862.9 123.5,860.9 123.7,858.9 123.8,856.9 123.9,854.9 124.1,853.0 124.2,851.1 124.3,849.2 124.4,847.3 124.6,845.4 124.7,843.6 124.8,841.8 125.0,840.0 125.1,838.2 125.2,836.5 125.3,834.7 125.5,833.0 125.6,831.3 125.7,829.6 125.9,828.0 126.0,826.3 126.1,824.7 126.2,823.1 126.4,821.5 126.5,819.9 126.6,818.3 126.8,816.7 126.9,815.2 127.0,813.7 127.1,812.2 127.3,810.7 127.4,809.2 127.5,807.7 127.7,806.2 127.8,804.8 127.9,803.3 128.0,801.9 128.2,800.5 128.3,799.1 128.4,797.7 128.6,796.3 128.7,795.0 128.8,793.6 128.9,792.3 129.1,790.9 129.2,789.6 129.3,788.3 129.5,787.0 129.6,785.9 129.7,785.1 129.8,784.3 130.0,783.7 130.1,783.1 130.2,782.5 130.4,781.9 130.5,781.4 130.6,780.8 130.7,780.3 130.9,779.8 131.0,779.3 131.1,778.9 131.3,778.4 131.4,777.9 131.5,777.5 131.6,777.1 131.8,776.6 131.9,776.2 132.0,775.8 132.2,775.4 132.3,775.0 132.4,774.6 132.5,774.2 132.7,773.8 132.8,773.5 132.9,773.1 133.0,772.7 133.2,772.3 133.3,772.0 133.4,771.6 133.6,771.3 133.7,770.9 133.8,770.6 133.9,770.3 134.1,769.9 134.2,769.6 134.3,769.3 134.5,769.0 134.6,768.6 134.7,768.3 134.8,768.0 135.0,767.7 135.1,767.4 135.2,767.1 135.4,766.8 135.5,766.5 135.6,766.2 135.7,765.9 135.9,765.6 136.0,765.3 136.1,765.0 137.0,763.0 138.0,761.2 138.9,759.4 139.8,757.7 140.7,756.0 141.6,754.5 142.5,753.0 143.4,751.5 144.3,750.1 145.2,748.7 146.1,747.4 147.1,746.1 148.0,744.8 148.9,743.6 149.8,742.4 150.7,741.3 151.6,740.1 152.5,739.0 153.4,737.9 154.3,736.9 155.3,735.8 156.2,734.8 157.1,733.8 158.0,732.8 158.9,731.9 159.8,730.9 160.7,730.0 161.6,729.1 162.5,728.2 163.4,727.3 164.4,726.4 165.3,725.6 166.2,724.7 167.1,723.9 168.0,723.1 168.9,722.3 169.8,721.5 170.7,720.7 171.6,719.9 172.5,719.2 173.5,718.4 174.4,717.7 175.3,717.0 176.2,716.2 177.1,715.5 178.0,714.8 178.9,714.1 179.8,713.4 180.7,712.8 181.7,712.1 182.6,711.4 183.5,710.8 184.4,710.1 185.3,709.5 186.2,708.8 187.1,708.2 188.0,707.6 188.9,707.0 189.8,706.4 190.8,705.8 191.7,705.2 192.6,704.6 193.5,704.0 194.4,703.4 195.3,702.8 196.2,702.3 197.1,701.7 198.0,701.1 199.0,700.6 199.9,700.0 200.8,699.5 201.7,698.9 202.6,698.4 203.5,697.9 204.4,697.4 205.3,696.8 206.2,696.3 207.1,695.8 208.1,695.3 209.0,694.8 209.9,694.3 210.8,693.8 211.7,693.3 212.6,692.8 213.5,692.3 214.4,691.8 215.3,691.4 216.3,690.9 217.2,690.4 218.1,689.9 219.0,689.5 219.9,689.0 220.8,688.5 221.7,688.1 222.6,687.6 223.5,687.2 224.4,686.7 225.4,686.3 226.3,685.9 227.2,685.4 228.1,685.0 229.0,684.6 229.9,684.1 230.8,683.7 231.7,683.3 232.6,682.9 233.6,682.4 234.5,682.0 235.4,681.6 236.3,681.2 237.2,680.8 238.1,680.4 239.0,680.0 239.9,679.6 240.8,679.2 241.7,678.8 242.7,678.4 243.6,678.0 244.5,677.6" fill="none" stroke="#000080" stroke-width="7.5" stroke-linejoin="round" stroke-linecap="round"/><polyline points="244.5,677.6 267.0,668.6 289.6,660.7 312.1,653.5 334.7,647.0 357.2,641.0 379.8,635.5 402.3,630.3 424.9,625.4 447.4,620.9 469.9,616.5 492.5,612.4 515.0,608.4 537.6,604.6 560.1,601.0" fill="none" stroke="#000080" stroke-width="1.05"/><circle cx="267.0" cy="668.6" r="3.9" fill="#000080"/><circle cx="289.6" cy="660.7" r="3.9" fill="#000080"/><circle cx="312.1" cy="653.5" r="3.9" fill="#000080"/><circle cx="334.7" cy="647.0" r="3.9" fill="#000080"/><circle cx="357.2" cy="641.0" r="3.9" fill="#000080"/><circle cx="379.8" cy="635.5" r="3.9" fill="#000080"/><circle cx="402.3" cy="630.3" r="3.9" fill="#000080"/><circle cx="424.9" cy="625.4" r="3.9" fill="#000080"/><circle cx="447.4" cy="620.9" r="3.9" fill="#000080"/><circle cx="469.9" cy="616.5" r="3.9" fill="#000080"/><circle cx="492.5" cy="612.4" r="3.9" fill="#000080"/><circle cx="515.0" cy="608.4" r="3.9" fill="#000080"/><circle cx="537.6" cy="604.6" r="3.9" fill="#000080"/><circle cx="560.1" cy="601.0" r="3.9" fill="#000080"/><polyline points="117.0,1006.7 117.1,1003.1 117.3,999.5 117.4,995.9 117.5,992.3 117.6,988.7 117.8,985.2 117.9,981.6 118.0,978.1 118.2,974.7 118.3,971.2 118.4,967.8 118.5,964.4 118.7,961.0 118.8,957.7 118.9,954.4 119.1,951.1 119.2,947.9 119.3,944.7 119.4,941.6 119.6,938.5 119.7,935.4 119.8,932.4 120.0,929.5 120.1,926.5 120.2,923.6 120.3,920.8 120.5,918.0 120.6,915.2 120.7,912.4 120.9,909.7 121.0,907.1 121.1,904.5 121.2,901.9 121.4,899.3 121.5,896.8 121.6,894.3 121.8,891.9 121.9,889.5 122.0,887.1 122.1,884.7 122.3,882.4 122.4,880.1 122.5,877.9 122.6,875.7 122.8,873.5 122.9,871.3 123.0,869.2 123.2,867.1 123.3,865.0 123.4,862.9 123.5,860.9 123.7,858.9 123.8,856.9 123.9,854.9 124.1,853.0 124.2,851.0 124.3,849.1 124.4,847.3 124.6,845.4 124.7,843.6 124.8,841.8 125.0,840.0 125.1,838.2 125.2,836.5 125.3,834.7 125.5,833.0 125.6,831.3 125.7,829.6 125.9,827.9 126.0,826.3 126.1,824.7 126.2,823.0 126.4,821.4 126.5,819.9 126.6,818.3 126.8,816.7 126.9,815.2 127.0,813.6 127.1,812.1 127.3,810.6 127.4,809.1 127.5,807.7 127.7,806.2 127.8,804.8 127.9,803.3 128.0,801.9 128.2,800.5 128.3,799.1 128.4,797.7 128.6,796.3 128.7,794.9 128.8,793.6 128.9,792.7 129.1,791.9 129.2,791.2 129.3,790.5 129.5,789.9 129.6,789.2 129.7,788.6 129.8,788.1 130.0,787.5 130.1,787.0 130.2,786.5 130.4,785.9 130.5,785.4 130.6,785.0 130.7,784.5 130.9,784.0 131.0,783.5 131.1,783.1 131.3,782.6 131.4,782.2 131.5,781.8 131.6,781.4 131.8,780.9 131.9,780.5 132.0,780.1 132.2,779.7 132.3,779.3 132.4,778.9 132.5,778.6 132.7,778.2 132.8,777.8 132.9,777.4 133.0,777.1 133.2,776.7 133.3,776.4 133.4,776.0 133.6,775.7 133.7,775.3 133.8,775.0 133.9,774.6 134.1,774.3 134.2,774.0 134.3,773.6 134.5,773.3 134.6,773.0 134.7,772.7 134.8,772.4 135.0,772.0 135.1,771.7 135.2,771.4 135.4,771.1 135.5,770.8 135.6,770.5 135.7,770.2 135.9,769.9 136.0,769.6 136.1,769.3 137.0,767.3 138.0,765.4 138.9,763.6 139.8,761.9 140.7,760.2 141.6,758.6 142.5,757.1 143.4,755.6 144.3,754.1 145.2,752.7 146.1,751.4 147.1,750.1 148.0,748.8 148.9,747.5 149.8,746.3 150.7,745.1 151.6,744.0 152.5,742.8 153.4,741.7 154.3,740.6 155.3,739.6 156.2,738.5 157.1,737.5 158.0,736.5 158.9,735.5 159.8,734.5 160.7,733.6 161.6,732.7 162.5,731.8 163.4,730.9 164.4,730.0 165.3,729.1 166.2,728.2 167.1,727.4 168.0,726.6 168.9,725.7 169.8,724.9 170.7,724.1 171.6,723.3 172.5,722.6 173.5,721.8 174.4,721.0 175.3,720.3 176.2,719.6 177.1,718.8 178.0,718.1 178.9,717.4 179.8,716.7 180.7,716.0 181.7,715.3 182.6,714.7 183.5,714.0 184.4,713.3 185.3,712.7 186.2,712.0 187.1,711.4 188.0,710.8 188.9,710.1 189.8,709.5 190.8,708.9 191.7,708.3 192.6,707.7 193.5,707.1 194.4,706.5 195.3,705.9 196.2,705.3 197.1,704.7 198.0,704.2 199.0,703.6 199.9,703.1 200.8,702.5 201.7,701.9 202.6,701.4 203.5,700.9 204.4,700.3 205.3,699.8 206.2,699.3 207.1,698.7 208.1,698.2 209.0,697.7 209.9,697.2 210.8,696.7 211.7,696.2 212.6,695.7 213.5,695.2 214.4,694.7 215.3,694.2 216.3,693.7 217.2,693.3 218.1,692.8 219.0,692.3 219.9,691.8 220.8,691.4 221.7,690.9 222.6,690.4 223.5,690.0 224.4,689.5 225.4,689.1 226.3,688.6 227.2,688.2 228.1,687.8 229.0,687.3 229.9,686.9 230.8,686.4 231.7,686.0 232.6,685.6 233.6,685.2 234.5,684.7 235.4,684.3 236.3,683.9 237.2,683.5 238.1,683.1 239.0,682.7 239.9,682.3 240.8,681.9 241.7,681.5 242.7,681.1 243.6,680.7 244.5,680.3" fill="none" stroke="#8000ff" stroke-width="7.5" stroke-linejoin="round" stroke-linecap="round"/><polyline points="244.5,680.3 267.0,671.1 289.6,663.1 312.1,655.8 334.7,649.2 357.2,643.1 379.8,637.5 402.3,632.3 424.9,627.4 447.4,622.8 469.9,618.4 492.5,614.2 515.0,610.2 537.6,606.4 560.1,602.7" fill="none" stroke="#8000ff" stroke-width="1.05"/><circle cx="267.0" cy="671.1" r="3.9" fill="#8000ff"/><circle cx="289.6" cy="663.1" r="3.9" fill="#8000ff"/><circle cx="312.1" cy="655.8" r="3.9" fill="#8000ff"/><circle cx="334.7" cy="649.2" r="3.9" fill="#8000ff"/><circle cx="357.2" cy="643.1" r="3.9" fill="#8000ff"/><circle cx="379.8" cy="637.5" r="3.9" fill="#8000ff"/><circle cx="402.3" cy="632.3" r="3.9" fill="#8000ff"/><circle cx="424.9" cy="627.4" r="3.9" fill="#8000ff"/><circle cx="447.4" cy="622.8" r="3.9" fill="#8000ff"/><circle cx="469.9" cy="618.4" r="3.9" fill="#8000ff"/><circle cx="492.5" cy="614.2" r="3.9" fill="#8000ff"/><circle cx="515.0" cy="610.2" r="3.9" fill="#8000ff"/><circle cx="537.6" cy="606.4" r="3.9" fill="#8000ff"/><circle cx="560.1" cy="602.7" r="3.9" fill="#8000ff"/><polyline points="117.0,1006.7 117.1,1003.1 117.3,999.5 117.4,995.9 117.5,992.3 117.6,988.7 117.8,985.2 117.9,981.6 118.0,978.1 118.2,974.6 118.3,971.2 118.4,967.7 118.5,964.3 118.7,961.0 118.8,957.7 118.9,954.4 119.1,951.1 119.2,947.9 119.3,944.7 119.4,941.6 119.6,938.5 119.7,935.4 119.8,932.4 120.0,929.4 120.1,926.5 120.2,923.6 120.3,920.7 120.5,917.9 120.6,915.2 120.7,912.4 120.9,909.7 121.0,907.1 121.1,904.4 121.2,901.8 121.4,899.3 121.5,896.8 121.6,894.3 121.8,891.9 121.9,889.4 122.0,887.1 122.1,884.7 122.3,882.4 122.4,880.1 122.5,877.9 122.6,875.6 122.8,873.4 122.9,871.3 123.0,869.1 123.2,867.0 123.3,864.9 123.4,862.9 123.5,860.8 123.7,858.8 123.8,856.8 123.9,854.9 124.1,852.9 124.2,851.0 124.3,849.1 124.4,847.3 124.6,845.4 124.7,843.6 124.8,841.8 125.0,840.0 125.1,838.2 125.2,836.4 125.3,834.7 125.5,833.0 125.6,831.3 125.7,829.6 125.9,827.9 126.0,826.3 126.1,824.6 126.2,823.0 126.4,821.4 126.5,819.8 126.6,818.3 126.8,816.7 126.9,815.2 127.0,813.6 127.1,812.1 127.3,810.6 127.4,809.1 127.5,807.6 127.7,806.2 127.8,804.7 127.9,803.3 128.0,801.9 128.2,800.8 128.3,799.9 128.4,799.1 128.6,798.4 128.7,797.7 128.8,797.0 128.9,796.4 129.1,795.7 129.2,795.1 129.3,794.6 129.5,794.0 129.6,793.4 129.7,792.9 129.8,792.4 130.0,791.8 130.1,791.3 130.2,790.8 130.4,790.4 130.5,789.9 130.6,789.4 130.7,788.9 130.9,788.5 131.0,788.0 131.1,787.6 131.3,787.2 131.4,786.7 131.5,786.3 131.6,785.9 131.8,785.5 131.9,785.1 132.0,784.7 132.2,784.3 132.3,783.9 132.4,783.5 132.5,783.1 132.7,782.7 132.8,782.4 132.9,782.0 133.0,781.6 133.2,781.3 133.3,780.9 133.4,780.6 133.6,780.2 133.7,779.9 133.8,779.5 133.9,779.2 134.1,778.8 134.2,778.5 134.3,778.2 134.5,777.8 134.6,777.5 134.7,777.2 134.8,776.9 135.0,776.6 135.1,776.2 135.2,775.9 135.4,775.6 135.5,775.3 135.6,775.0 135.7,774.7 135.9,774.4 136.0,774.1 136.1,773.8 137.0,771.8 138.0,769.8 138.9,768.0 139.8,766.2 140.7,764.5 141.6,762.9 142.5,761.3 143.4,759.8 144.3,758.3 145.2,756.9 146.1,755.5 147.1,754.1 148.0,752.8 148.9,751.5 149.8,750.3 150.7,749.1 151.6,747.9 152.5,746.7 153.4,745.6 154.3,744.5 155.3,743.4 156.2,742.3 157.1,741.3 158.0,740.2 158.9,739.2 159.8,738.2 160.7,737.3 161.6,736.3 162.5,735.4 163.4,734.5 164.4,733.6 165.3,732.7 166.2,731.8 167.1,730.9 168.0,730.1 168.9,729.2 169.8,728.4 170.7,727.6 171.6,726.8 172.5,726.0 173.5,725.2 174.4,724.5 175.3,723.7 176.2,722.9 177.1,722.2 178.0,721.5 178.9,720.7 179.8,720.0 180.7,719.3 181.7,718.6 182.6,717.9 183.5,717.3 184.4,716.6 185.3,715.9 186.2,715.3 187.1,714.6 188.0,714.0 188.9,713.3 189.8,712.7 190.8,712.1 191.7,711.4 192.6,710.8 193.5,710.2 194.4,709.6 195.3,709.0 196.2,708.4 197.1,707.8 198.0,707.3 199.0,706.7 199.9,706.1 200.8,705.5 201.7,705.0 202.6,704.4 203.5,703.9 204.4,703.3 205.3,702.8 206.2,702.3 207.1,701.7 208.1,701.2 209.0,700.7 209.9,700.2 210.8,699.6 211.7,699.1 212.6,698.6 213.5,698.1 214.4,697.6 215.3,697.1 216.3,696.6 217.2,696.1 218.1,695.7 219.0,695.2 219.9,694.7 220.8,694.2 221.7,693.8 222.6,693.3 223.5,692.8 224.4,692.4 225.4,691.9 226.3,691.4 227.2,691.0 228.1,690.5 229.0,690.1 229.9,689.7 230.8,689.2 231.7,688.8 232.6,688.3 233.6,687.9 234.5,687.5 235.4,687.1 236.3,686.6 237.2,686.2 238.1,685.8 239.0,685.4 239.9,685.0 240.8,684.6 241.7,684.2 242.7,683.7 243.6,683.3 244.5,682.9" fill="none" stroke="#800080" stroke-width="7.5" stroke-linejoin="round" stroke-linecap="round"/><polyline points="244.5,682.9 267.0,673.7 289.6,665.5 312.1,658.1 334.7,651.4 357.2,645.3 379.8,639.6 402.3,634.3 424.9,629.4 447.4,624.7 469.9,620.2 492.5,616.0 515.0,612.0 537.6,608.1 560.1,604.4" fill="none" stroke="#800080" stroke-width="1.05"/><circle cx="267.0" cy="673.7" r="3.9" fill="#800080"/><circle cx="289.6" cy="665.5" r="3.9" fill="#800080"/><circle cx="312.1" cy="658.1" r="3.9" fill="#800080"/><circle cx="334.7" cy="651.4" r="3.9" fill="#800080"/><circle cx="357.2" cy="645.3" r="3.9" fill="#800080"/><circle cx="379.8" cy="639.6" r="3.9" fill="#800080"/><circle cx="402.3" cy="634.3" r="3.9" fill="#800080"/><circle cx="424.9" cy="629.4" r="3.9" fill="#800080"/><circle cx="447.4" cy="624.7" r="3.9" fill="#800080"/><circle cx="469.9" cy="620.2" r="3.9" fill="#800080"/><circle cx="492.5" cy="616.0" r="3.9" fill="#800080"/><circle cx="515.0" cy="612.0" r="3.9" fill="#800080"/><circle cx="537.6" cy="608.1" r="3.9" fill="#800080"/><circle cx="560.1" cy="604.4" r="3.9" fill="#800080"/><polyline points="117.0,1006.7 117.1,1003.1 117.3,999.5 117.4,995.9 117.5,992.3 117.6,988.7 117.8,985.1 117.9,981.6 118.0,978.1 118.2,974.6 118.3,971.1 118.4,967.7 118.5,964.3 118.7,961.0 118.8,957.6 118.9,954.3 119.1,951.1 119.2,947.9 119.3,944.7 119.4,941.5 119.6,938.4 119.7,935.4 119.8,932.4 120.0,929.4 120.1,926.5 120.2,923.6 120.3,920.7 120.5,917.9 120.6,915.1 120.7,912.4 120.9,909.7 121.0,907.0 121.1,904.4 121.2,901.8 121.4,899.3 121.5,896.8 121.6,894.3 121.8,891.8 121.9,889.4 122.0,887.0 122.1,884.7 122.3,882.4 122.4,880.1 122.5,877.8 122.6,875.6 122.8,873.4 122.9,871.3 123.0,869.1 123.2,867.0 123.3,864.9 123.4,862.9 123.5,860.8 123.7,858.8 123.8,856.8 123.9,854.9 124.1,852.9 124.2,851.0 124.3,849.1 124.4,847.2 124.6,845.4 124.7,843.5 124.8,841.7 125.0,839.9 125.1,838.2 125.2,836.4 125.3,834.7 125.5,832.9 125.6,831.2 125.7,829.6 125.9,827.9 126.0,826.2 126.1,824.6 126.2,823.0 126.4,821.4 126.5,819.8 126.6,818.2 126.8,816.7 126.9,815.1 127.0,813.6 127.1,812.1 127.3,810.6 127.4,809.4 127.5,808.5 127.7,807.6 127.8,806.8 127.9,806.0 128.0,805.3 128.2,804.6 128.3,803.9 128.4,803.2 128.6,802.6 128.7,802.0 128.8,801.4 128.9,800.8 129.1,800.2 129.2,799.7 129.3,799.1 129.5,798.6 129.6,798.0 129.7,797.5 129.8,797.0 130.0,796.5 130.1,796.0 130.2,795.5 130.4,795.1 130.5,794.6 130.6,794.1 130.7,793.7 130.9,793.2 131.0,792.8 131.1,792.3 131.3,791.9 131.4,791.5 131.5,791.0 131.6,790.6 131.8,790.2 131.9,789.8 132.0,789.4 132.2,789.0 132.3,788.6 132.4,788.2 132.5,787.8 132.7,787.5 132.8,787.1 132.9,786.7 133.0,786.4 133.2,786.0 133.3,785.6 133.4,785.3 133.6,784.9 133.7,784.6 133.8,784.2 133.9,783.9 134.1,783.5 134.2,783.2 134.3,782.8 134.5,782.5 134.6,782.2 134.7,781.9 134.8,781.5 135.0,781.2 135.1,780.9 135.2,780.6 135.4,780.3 135.5,779.9 135.6,779.6 135.7,779.3 135.9,779.0 136.0,778.7 136.1,778.4 137.0,776.3 138.0,774.4 138.9,772.5 139.8,770.7 140.7,768.9 141.6,767.3 142.5,765.6 143.4,764.1 144.3,762.6 145.2,761.1 146.1,759.7 147.1,758.3 148.0,756.9 148.9,755.6 149.8,754.3 150.7,753.1 151.6,751.9 152.5,750.7 153.4,749.5 154.3,748.4 155.3,747.3 156.2,746.2 157.1,745.1 158.0,744.1 158.9,743.0 159.8,742.0 160.7,741.0 161.6,740.1 162.5,739.1 163.4,738.2 164.4,737.2 165.3,736.3 166.2,735.4 167.1,734.5 168.0,733.7 168.9,732.8 169.8,732.0 170.7,731.1 171.6,730.3 172.5,729.5 173.5,728.7 174.4,727.9 175.3,727.1 176.2,726.4 177.1,725.6 178.0,724.9 178.9,724.1 179.8,723.4 180.7,722.7 181.7,722.0 182.6,721.3 183.5,720.6 184.4,719.9 185.3,719.2 186.2,718.5 187.1,717.9 188.0,717.2 188.9,716.6 189.8,715.9 190.8,715.3 191.7,714.6 192.6,714.0 193.5,713.4 194.4,712.8 195.3,712.2 196.2,711.6 197.1,711.0 198.0,710.4 199.0,709.8 199.9,709.2 200.8,708.6 201.7,708.1 202.6,707.5 203.5,706.9 204.4,706.4 205.3,705.8 206.2,705.3 207.1,704.7 208.1,704.2 209.0,703.7 209.9,703.1 210.8,702.6 211.7,702.1 212.6,701.6 213.5,701.1 214.4,700.6 215.3,700.1 216.3,699.6 217.2,699.1 218.1,698.6 219.0,698.1 219.9,697.6 220.8,697.1 221.7,696.6 222.6,696.2 223.5,695.7 224.4,695.2 225.4,694.8 226.3,694.3 227.2,693.8 228.1,693.4 229.0,692.9 229.9,692.5 230.8,692.0 231.7,691.6 232.6,691.1 233.6,690.7 234.5,690.3 235.4,689.8 236.3,689.4 237.2,689.0 238.1,688.6 239.0,688.1 239.9,687.7 240.8,687.3 241.7,686.9 242.7,686.5 243.6,686.1 244.5,685.6" fill="none" stroke="#800000" stroke-width="7.5" stroke-linejoin="round" stroke-linecap="round"/><polyline points="244.5,685.6 267.0,676.2 289.6,667.9 312.1,660.5 334.7,653.7 357.2,647.5 379.8,641.7 402.3,636.4 424.9,631.3 447.4,626.6 469.9,622.1 492.5,617.9 515.0,613.8 537.6,609.9 560.1,606.1" fill="none" stroke="#800000" stroke-width="1.05"/><circle cx="267.0" cy="676.2" r="3.9" fill="#800000"/><circle cx="289.6" cy="667.9" r="3.9" fill="#800000"/><circle cx="312.1" cy="660.5" r="3.9" fill="#800000"/><circle cx="334.7" cy="653.7" r="3.9" fill="#800000"/><circle cx="357.2" cy="647.5" r="3.9" fill="#800000"/><circle cx="379.8" cy="641.7" r="3.9" fill="#800000"/><circle cx="402.3" cy="636.4" r="3.9" fill="#800000"/><circle cx="424.9" cy="631.3" r="3.9" fill="#800000"/><circle cx="447.4" cy="626.6" r="3.9" fill="#800000"/><circle cx="469.9" cy="622.1" r="3.9" fill="#800000"/><circle cx="492.5" cy="617.9" r="3.9" fill="#800000"/><circle cx="515.0" cy="613.8" r="3.9" fill="#800000"/><circle cx="537.6" cy="609.9" r="3.9" fill="#800000"/><circle cx="560.1" cy="606.1" r="3.9" fill="#800000"/><polyline points="117.0,1006.7 117.1,1003.1 117.3,999.5 117.4,995.9 117.5,992.3 117.6,988.7 117.8,985.1 117.9,981.6 118.0,978.1 118.2,974.6 118.3,971.1 118.4,967.7 118.5,964.3 118.7,960.9 118.8,957.6 118.9,954.3 119.1,951.1 119.2,947.8 119.3,944.7 119.4,941.5 119.6,938.4 119.7,935.4 119.8,932.3 120.0,929.4 120.1,926.4 120.2,923.5 120.3,920.7 120.5,917.9 120.6,915.1 120.7,912.4 120.9,909.7 121.0,907.0 121.1,904.4 121.2,901.8 121.4,899.2 121.5,896.7 121.6,894.3 121.8,891.8 121.9,889.4 122.0,887.0 122.1,884.7 122.3,882.4 122.4,880.1 122.5,877.8 122.6,875.6 122.8,873.4 122.9,871.2 123.0,869.1 123.2,867.0 123.3,864.9 123.4,862.8 123.5,860.8 123.7,858.8 123.8,856.8 123.9,854.8 124.1,852.9 124.2,851.0 124.3,849.1 124.4,847.2 124.6,845.4 124.7,843.5 124.8,841.7 125.0,839.9 125.1,838.1 125.2,836.4 125.3,834.6 125.5,832.9 125.6,831.2 125.7,829.5 125.9,827.9 126.0,826.2 126.1,824.6 126.2,823.0 126.4,821.4 126.5,819.8 126.6,818.6 126.8,817.6 126.9,816.6 127.0,815.8 127.1,814.9 127.3,814.1 127.4,813.4 127.5,812.6 127.7,811.9 127.8,811.2 127.9,810.5 128.0,809.9 128.2,809.2 128.3,808.6 128.4,808.0 128.6,807.4 128.7,806.8 128.8,806.2 128.9,805.7 129.1,805.1 129.2,804.6 129.3,804.0 129.5,803.5 129.6,803.0 129.7,802.5 129.8,802.0 130.0,801.5 130.1,801.0 130.2,800.5 130.4,800.0 130.5,799.5 130.6,799.1 130.7,798.6 130.9,798.2 131.0,797.7 131.1,797.3 131.3,796.9 131.4,796.4 131.5,796.0 131.6,795.6 131.8,795.2 131.9,794.8 132.0,794.4 132.2,794.0 132.3,793.6 132.4,793.2 132.5,792.8 132.7,792.4 132.8,792.0 132.9,791.6 133.0,791.3 133.2,790.9 133.3,790.5 133.4,790.2 133.6,789.8 133.7,789.4 133.8,789.1 133.9,788.7 134.1,788.4 134.2,788.0 134.3,787.7 134.5,787.4 134.6,787.0 134.7,786.7 134.8,786.4 135.0,786.0 135.1,785.7 135.2,785.4 135.4,785.1 135.5,784.7 135.6,784.4 135.7,784.1 135.9,783.8 136.0,783.5 136.1,783.2 137.0,781.1 138.0,779.0 138.9,777.1 139.8,775.2 140.7,773.5 141.6,771.7 142.5,770.1 143.4,768.5 144.3,766.9 145.2,765.4 146.1,764.0 147.1,762.5 148.0,761.1 148.9,759.8 149.8,758.5 150.7,757.2 151.6,756.0 152.5,754.7 153.4,753.6 154.3,752.4 155.3,751.2 156.2,750.1 157.1,749.0 158.0,748.0 158.9,746.9 159.8,745.9 160.7,744.9 161.6,743.9 162.5,742.9 163.4,741.9 164.4,741.0 165.3,740.0 166.2,739.1 167.1,738.2 168.0,737.3 168.9,736.4 169.8,735.6 170.7,734.7 171.6,733.9 172.5,733.1 173.5,732.3 174.4,731.4 175.3,730.7 176.2,729.9 177.1,729.1 178.0,728.3 178.9,727.6 179.8,726.8 180.7,726.1 181.7,725.4 182.6,724.7 183.5,723.9 184.4,723.2 185.3,722.5 186.2,721.9 187.1,721.2 188.0,720.5 188.9,719.8 189.8,719.2 190.8,718.5 191.7,717.9 192.6,717.2 193.5,716.6 194.4,716.0 195.3,715.4 196.2,714.8 197.1,714.1 198.0,713.5 199.0,712.9 199.9,712.4 200.8,711.8 201.7,711.2 202.6,710.6 203.5,710.0 204.4,709.5 205.3,708.9 206.2,708.4 207.1,707.8 208.1,707.3 209.0,706.7 209.9,706.2 210.8,705.6 211.7,705.1 212.6,704.6 213.5,704.1 214.4,703.6 215.3,703.0 216.3,702.5 217.2,702.0 218.1,701.5 219.0,701.0 219.9,700.5 220.8,700.0 221.7,699.6 222.6,699.1 223.5,698.6 224.4,698.1 225.4,697.6 226.3,697.2 227.2,696.7 228.1,696.2 229.0,695.8 229.9,695.3 230.8,694.9 231.7,694.4 232.6,694.0 233.6,693.5 234.5,693.1 235.4,692.6 236.3,692.2 237.2,691.8 238.1,691.3 239.0,690.9 239.9,690.5 240.8,690.1 241.7,689.6 242.7,689.2 243.6,688.8 244.5,688.4" fill="none" stroke="#808000" stroke-width="7.5" stroke-linejoin="round" stroke-linecap="round"/><polyline points="244.5,688.4 267.0,678.8 289.6,670.4 312.1,662.8 334.7,656.0 357.2,649.7 379.8,643.8 402.3,638.4 424.9,633.3 447.4,628.5 469.9,624.0 492.5,619.7 515.0,615.6 537.6,611.6 560.1,607.9" fill="none" stroke="#808000" stroke-width="1.05"/><circle cx="267.0" cy="678.8" r="3.9" fill="#808000"/><circle cx="289.6" cy="670.4" r="3.9" fill="#808000"/><circle cx="312.1" cy="662.8" r="3.9" fill="#808000"/><circle cx="334.7" cy="656.0" r="3.9" fill="#808000"/><circle cx="357.2" cy="649.7" r="3.9" fill="#808000"/><circle cx="379.8" cy="643.8" r="3.9" fill="#808000"/><circle cx="402.3" cy="638.4" r="3.9" fill="#808000"/><circle cx="424.9" cy="633.3" r="3.9" fill="#808000"/><circle cx="447.4" cy="628.5" r="3.9" fill="#808000"/><circle cx="469.9" cy="624.0" r="3.9" fill="#808000"/><circle cx="492.5" cy="619.7" r="3.9" fill="#808000"/><circle cx="515.0" cy="615.6" r="3.9" fill="#808000"/><circle cx="537.6" cy="611.6" r="3.9" fill="#808000"/><circle cx="560.1" cy="607.9" r="3.9" fill="#808000"/><polyline points="117.0,1006.7 117.1,1003.1 117.3,999.5 117.4,995.9 117.5,992.3 117.6,988.7 117.8,985.1 117.9,981.5 118.0,978.0 118.2,974.5 118.3,971.1 118.4,967.7 118.5,964.3 118.7,960.9 118.8,957.6 118.9,954.3 119.1,951.0 119.2,947.8 119.3,944.6 119.4,941.5 119.6,938.4 119.7,935.3 119.8,932.3 120.0,929.3 120.1,926.4 120.2,923.5 120.3,920.7 120.5,917.8 120.6,915.1 120.7,912.3 120.9,909.6 121.0,907.0 121.1,904.4 121.2,901.8 121.4,899.2 121.5,896.7 121.6,894.2 121.8,891.8 121.9,889.4 122.0,887.0 122.1,884.7 122.3,882.3 122.4,880.1 122.5,877.8 122.6,875.6 122.8,873.4 122.9,871.2 123.0,869.1 123.2,867.0 123.3,864.9 123.4,862.8 123.5,860.8 123.7,858.8 123.8,856.8 123.9,854.8 124.1,852.9 124.2,851.0 124.3,849.1 124.4,847.2 124.6,845.3 124.7,843.5 124.8,841.7 125.0,839.9 125.1,838.1 125.2,836.4 125.3,834.6 125.5,832.9 125.6,831.2 125.7,829.6 125.9,828.4 126.0,827.4 126.1,826.4 126.2,825.4 126.4,824.5 126.5,823.6 126.6,822.8 126.8,822.0 126.9,821.2 127.0,820.4 127.1,819.7 127.3,819.0 127.4,818.3 127.5,817.6 127.7,816.9 127.8,816.2 127.9,815.6 128.0,815.0 128.2,814.3 128.3,813.7 128.4,813.1 128.6,812.6 128.7,812.0 128.8,811.4 128.9,810.9 129.1,810.3 129.2,809.8 129.3,809.2 129.5,808.7 129.6,808.2 129.7,807.7 129.8,807.2 130.0,806.7 130.1,806.2 130.2,805.7 130.4,805.2 130.5,804.8 130.6,804.3 130.7,803.8 130.9,803.4 131.0,802.9 131.1,802.5 131.3,802.0 131.4,801.6 131.5,801.2 131.6,800.8 131.8,800.3 131.9,799.9 132.0,799.5 132.2,799.1 132.3,798.7 132.4,798.3 132.5,797.9 132.7,797.5 132.8,797.1 132.9,796.7 133.0,796.4 133.2,796.0 133.3,795.6 133.4,795.2 133.6,794.9 133.7,794.5 133.8,794.1 133.9,793.8 134.1,793.4 134.2,793.1 134.3,792.7 134.5,792.4 134.6,792.0 134.7,791.7 134.8,791.3 135.0,791.0 135.1,790.7 135.2,790.3 135.4,790.0 135.5,789.7 135.6,789.4 135.7,789.0 135.9,788.7 136.0,788.4 136.1,788.1 137.0,785.9 138.0,783.8 138.9,781.9 139.8,779.9 140.7,778.1 141.6,776.3 142.5,774.6 143.4,773.0 144.3,771.4 145.2,769.9 146.1,768.3 147.1,766.9 148.0,765.5 148.9,764.1 149.8,762.7 150.7,761.4 151.6,760.1 152.5,758.9 153.4,757.7 154.3,756.5 155.3,755.3 156.2,754.2 157.1,753.0 158.0,751.9 158.9,750.9 159.8,749.8 160.7,748.8 161.6,747.7 162.5,746.7 163.4,745.7 164.4,744.8 165.3,743.8 166.2,742.9 167.1,742.0 168.0,741.0 168.9,740.1 169.8,739.3 170.7,738.4 171.6,737.5 172.5,736.7 173.5,735.9 174.4,735.0 175.3,734.2 176.2,733.4 177.1,732.6 178.0,731.8 178.9,731.1 179.8,730.3 180.7,729.6 181.7,728.8 182.6,728.1 183.5,727.4 184.4,726.6 185.3,725.9 186.2,725.2 187.1,724.5 188.0,723.9 188.9,723.2 189.8,722.5 190.8,721.8 191.7,721.2 192.6,720.5 193.5,719.9 194.4,719.2 195.3,718.6 196.2,718.0 197.1,717.4 198.0,716.8 199.0,716.1 199.9,715.5 200.8,714.9 201.7,714.4 202.6,713.8 203.5,713.2 204.4,712.6 205.3,712.0 206.2,711.5 207.1,710.9 208.1,710.4 209.0,709.8 209.9,709.3 210.8,708.7 211.7,708.2 212.6,707.6 213.5,707.1 214.4,706.6 215.3,706.1 216.3,705.5 217.2,705.0 218.1,704.5 219.0,704.0 219.9,703.5 220.8,703.0 221.7,702.5 222.6,702.0 223.5,701.5 224.4,701.0 225.4,700.6 226.3,700.1 227.2,699.6 228.1,699.1 229.0,698.7 229.9,698.2 230.8,697.7 231.7,697.3 232.6,696.8 233.6,696.4 234.5,695.9 235.4,695.5 236.3,695.0 237.2,694.6 238.1,694.1 239.0,693.7 239.9,693.3 240.8,692.8 241.7,692.4 242.7,692.0 243.6,691.6 244.5,691.1" fill="none" stroke="#3f6fb0" stroke-width="7.5" stroke-linejoin="round" stroke-linecap="round"/><polyline points="244.5,691.1 267.0,681.5 289.6,672.9 312.1,665.2 334.7,658.3 357.2,651.9 379.8,646.0 402.3,640.5 424.9,635.3 447.4,630.5 469.9,625.9 492.5,621.6 515.0,617.4 537.6,613.4 560.1,609.6" fill="none" stroke="#3f6fb0" stroke-width="1.05"/><circle cx="267.0" cy="681.5" r="3.9" fill="#3f6fb0"/><circle cx="289.6" cy="672.9" r="3.9" fill="#3f6fb0"/><circle cx="312.1" cy="665.2" r="3.9" fill="#3f6fb0"/><circle cx="334.7" cy="658.3" r="3.9" fill="#3f6fb0"/><circle cx="357.2" cy="651.9" r="3.9" fill="#3f6fb0"/><circle cx="379.8" cy="646.0" r="3.9" fill="#3f6fb0"/><circle cx="402.3" cy="640.5" r="3.9" fill="#3f6fb0"/><circle cx="424.9" cy="635.3" r="3.9" fill="#3f6fb0"/><circle cx="447.4" cy="630.5" r="3.9" fill="#3f6fb0"/><circle cx="469.9" cy="625.9" r="3.9" fill="#3f6fb0"/><circle cx="492.5" cy="621.6" r="3.9" fill="#3f6fb0"/><circle cx="515.0" cy="617.4" r="3.9" fill="#3f6fb0"/><circle cx="537.6" cy="613.4" r="3.9" fill="#3f6fb0"/><circle cx="560.1" cy="609.6" r="3.9" fill="#3f6fb0"/><polyline points="117.0,1006.7 117.1,1003.1 117.3,999.5 117.4,995.8 117.5,992.2 117.6,988.7 117.8,985.1 117.9,981.5 118.0,978.0 118.2,974.5 118.3,971.1 118.4,967.6 118.5,964.2 118.7,960.9 118.8,957.5 118.9,954.3 119.1,951.0 119.2,947.8 119.3,944.6 119.4,941.5 119.6,938.4 119.7,935.3 119.8,932.3 120.0,929.3 120.1,926.4 120.2,923.5 120.3,920.6 120.5,917.8 120.6,915.0 120.7,912.3 120.9,909.6 121.0,907.0 121.1,904.3 121.2,901.7 121.4,899.2 121.5,896.7 121.6,894.2 121.8,891.8 121.9,889.4 122.0,887.0 122.1,884.6 122.3,882.3 122.4,880.0 122.5,877.8 122.6,875.5 122.8,873.4 122.9,871.2 123.0,869.0 123.2,866.9 123.3,864.8 123.4,862.8 123.5,860.7 123.7,858.7 123.8,856.8 123.9,854.8 124.1,852.8 124.2,850.9 124.3,849.0 124.4,847.2 124.6,845.3 124.7,843.5 124.8,841.7 125.0,840.3 125.1,839.1 125.2,837.9 125.3,836.9 125.5,835.8 125.6,834.8 125.7,833.9 125.9,833.0 126.0,832.1 126.1,831.2 126.2,830.4 126.4,829.6 126.5,828.8 126.6,828.0 126.8,827.2 126.9,826.5 127.0,825.8 127.1,825.1 127.3,824.4 127.4,823.7 127.5,823.0 127.7,822.3 127.8,821.7 127.9,821.1 128.0,820.4 128.2,819.8 128.3,819.2 128.4,818.6 128.6,818.1 128.7,817.5 128.8,816.9 128.9,816.4 129.1,815.8 129.2,815.3 129.3,814.7 129.5,814.2 129.6,813.7 129.7,813.2 129.8,812.7 130.0,812.2 130.1,811.7 130.2,811.2 130.4,810.7 130.5,810.2 130.6,809.7 130.7,809.3 130.9,808.8 131.0,808.4 131.1,807.9 131.3,807.5 131.4,807.0 131.5,806.6 131.6,806.1 131.8,805.7 131.9,805.3 132.0,804.9 132.2,804.5 132.3,804.0 132.4,803.6 132.5,803.2 132.7,802.8 132.8,802.4 132.9,802.0 133.0,801.6 133.2,801.3 133.3,800.9 133.4,800.5 133.6,800.1 133.7,799.7 133.8,799.4 133.9,799.0 134.1,798.6 134.2,798.3 134.3,797.9 134.5,797.6 134.6,797.2 134.7,796.9 134.8,796.5 135.0,796.2 135.1,795.8 135.2,795.5 135.4,795.1 135.5,794.8 135.6,794.5 135.7,794.1 135.9,793.8 136.0,793.5 136.1,793.2 137.0,790.9 138.0,788.8 138.9,786.8 139.8,784.8 140.7,782.9 141.6,781.1 142.5,779.3 143.4,777.6 144.3,776.0 145.2,774.4 146.1,772.9 147.1,771.4 148.0,769.9 148.9,768.5 149.8,767.1 150.7,765.7 151.6,764.4 152.5,763.1 153.4,761.9 154.3,760.7 155.3,759.5 156.2,758.3 157.1,757.1 158.0,756.0 158.9,754.9 159.8,753.8 160.7,752.7 161.6,751.7 162.5,750.7 163.4,749.6 164.4,748.6 165.3,747.7 166.2,746.7 167.1,745.8 168.0,744.8 168.9,743.9 169.8,743.0 170.7,742.1 171.6,741.2 172.5,740.4 173.5,739.5 174.4,738.7 175.3,737.8 176.2,737.0 177.1,736.2 178.0,735.4 178.9,734.6 179.8,733.9 180.7,733.1 181.7,732.3 182.6,731.6 183.5,730.8 184.4,730.1 185.3,729.4 186.2,728.7 187.1,728.0 188.0,727.3 188.9,726.6 189.8,725.9 190.8,725.2 191.7,724.5 192.6,723.9 193.5,723.2 194.4,722.6 195.3,721.9 196.2,721.3 197.1,720.6 198.0,720.0 199.0,719.4 199.9,718.8 200.8,718.2 201.7,717.6 202.6,717.0 203.5,716.4 204.4,715.8 205.3,715.2 206.2,714.6 207.1,714.1 208.1,713.5 209.0,712.9 209.9,712.4 210.8,711.8 211.7,711.3 212.6,710.7 213.5,710.2 214.4,709.6 215.3,709.1 216.3,708.6 217.2,708.1 218.1,707.5 219.0,707.0 219.9,706.5 220.8,706.0 221.7,705.5 222.6,705.0 223.5,704.5 224.4,704.0 225.4,703.5 226.3,703.0 227.2,702.6 228.1,702.1 229.0,701.6 229.9,701.1 230.8,700.6 231.7,700.2 232.6,699.7 233.6,699.3 234.5,698.8 235.4,698.3 236.3,697.9 237.2,697.4 238.1,697.0 239.0,696.6 239.9,696.1 240.8,695.7 241.7,695.2 242.7,694.8 243.6,694.4 244.5,693.9" fill="none" stroke="#008080" stroke-width="7.5" stroke-linejoin="round" stroke-linecap="round"/><polyline points="244.5,693.9 267.0,684.1 289.6,675.4 312.1,667.6 334.7,660.6 357.2,654.1 379.8,648.1 402.3,642.6 424.9,637.4 447.4,632.5 469.9,627.8 492.5,623.4 515.0,619.2 537.6,615.2 560.1,611.4" fill="none" stroke="#008080" stroke-width="1.05"/><circle cx="267.0" cy="684.1" r="3.9" fill="#008080"/><circle cx="289.6" cy="675.4" r="3.9" fill="#008080"/><circle cx="312.1" cy="667.6" r="3.9" fill="#008080"/><circle cx="334.7" cy="660.6" r="3.9" fill="#008080"/><circle cx="357.2" cy="654.1" r="3.9" fill="#008080"/><circle cx="379.8" cy="648.1" r="3.9" fill="#008080"/><circle cx="402.3" cy="642.6" r="3.9" fill="#008080"/><circle cx="424.9" cy="637.4" r="3.9" fill="#008080"/><circle cx="447.4" cy="632.5" r="3.9" fill="#008080"/><circle cx="469.9" cy="627.8" r="3.9" fill="#008080"/><circle cx="492.5" cy="623.4" r="3.9" fill="#008080"/><circle cx="515.0" cy="619.2" r="3.9" fill="#008080"/><circle cx="537.6" cy="615.2" r="3.9" fill="#008080"/><circle cx="560.1" cy="611.4" r="3.9" fill="#008080"/><polyline points="117.0,1006.7 117.1,1003.1 117.3,999.4 117.4,995.8 117.5,992.2 117.6,988.6 117.8,985.1 117.9,981.5 118.0,978.0 118.2,974.5 118.3,971.0 118.4,967.6 118.5,964.2 118.7,960.8 118.8,957.5 118.9,954.2 119.1,951.0 119.2,947.8 119.3,944.6 119.4,941.4 119.6,938.3 119.7,935.3 119.8,932.3 120.0,929.3 120.1,926.4 120.2,923.5 120.3,920.6 120.5,917.8 120.6,915.0 120.7,912.3 120.9,909.6 121.0,906.9 121.1,904.3 121.2,901.7 121.4,899.2 121.5,896.7 121.6,894.2 121.8,891.7 121.9,889.3 122.0,886.9 122.1,884.6 122.3,882.3 122.4,880.0 122.5,877.7 122.6,875.5 122.8,873.3 122.9,871.2 123.0,869.0 123.2,866.9 123.3,864.8 123.4,862.8 123.5,860.7 123.7,858.7 123.8,856.7 123.9,854.9 124.1,853.4 124.2,852.0 124.3,850.7 124.4,849.5 124.6,848.3 124.7,847.2 124.8,846.1 125.0,845.1 125.1,844.1 125.2,843.1 125.3,842.1 125.5,841.2 125.6,840.3 125.7,839.4 125.9,838.5 126.0,837.7 126.1,836.9 126.2,836.1 126.4,835.3 126.5,834.5 126.6,833.8 126.8,833.0 126.9,832.3 127.0,831.6 127.1,830.9 127.3,830.2 127.4,829.5 127.5,828.9 127.7,828.2 127.8,827.6 127.9,826.9 128.0,826.3 128.2,825.7 128.3,825.1 128.4,824.5 128.6,823.9 128.7,823.3 128.8,822.7 128.9,822.2 129.1,821.6 129.2,821.1 129.3,820.5 129.5,820.0 129.6,819.5 129.7,818.9 129.8,818.4 130.0,817.9 130.1,817.4 130.2,816.9 130.4,816.4 130.5,815.9 130.6,815.4 130.7,815.0 130.9,814.5 131.0,814.0 131.1,813.6 131.3,813.1 131.4,812.6 131.5,812.2 131.6,811.8 131.8,811.3 131.9,810.9 132.0,810.4 132.2,810.0 132.3,809.6 132.4,809.2 132.5,808.8 132.7,808.3 132.8,807.9 132.9,807.5 133.0,807.1 133.2,806.7 133.3,806.3 133.4,806.0 133.6,805.6 133.7,805.2 133.8,804.8 133.9,804.4 134.1,804.0 134.2,803.7 134.3,803.3 134.5,802.9 134.6,802.6 134.7,802.2 134.8,801.8 135.0,801.5 135.1,801.1 135.2,800.8 135.4,800.4 135.5,800.1 135.6,799.8 135.7,799.4 135.9,799.1 136.0,798.7 136.1,798.4 137.0,796.1 138.0,793.9 138.9,791.8 139.8,789.8 140.7,787.8 141.6,786.0 142.5,784.1 143.4,782.4 144.3,780.7 145.2,779.1 146.1,777.5 147.1,775.9 148.0,774.4 148.9,773.0 149.8,771.5 150.7,770.2 151.6,768.8 152.5,767.5 153.4,766.2 154.3,764.9 155.3,763.7 156.2,762.5 157.1,761.3 158.0,760.1 158.9,759.0 159.8,757.9 160.7,756.8 161.6,755.7 162.5,754.7 163.4,753.6 164.4,752.6 165.3,751.6 166.2,750.6 167.1,749.6 168.0,748.7 168.9,747.7 169.8,746.8 170.7,745.9 171.6,745.0 172.5,744.1 173.5,743.2 174.4,742.4 175.3,741.5 176.2,740.7 177.1,739.9 178.0,739.1 178.9,738.3 179.8,737.5 180.7,736.7 181.7,735.9 182.6,735.1 183.5,734.4 184.4,733.6 185.3,732.9 186.2,732.2 187.1,731.4 188.0,730.7 188.9,730.0 189.8,729.3 190.8,728.6 191.7,727.9 192.6,727.2 193.5,726.6 194.4,725.9 195.3,725.3 196.2,724.6 197.1,724.0 198.0,723.3 199.0,722.7 199.9,722.1 200.8,721.4 201.7,720.8 202.6,720.2 203.5,719.6 204.4,719.0 205.3,718.4 206.2,717.8 207.1,717.2 208.1,716.7 209.0,716.1 209.9,715.5 210.8,715.0 211.7,714.4 212.6,713.8 213.5,713.3 214.4,712.7 215.3,712.2 216.3,711.7 217.2,711.1 218.1,710.6 219.0,710.1 219.9,709.6 220.8,709.0 221.7,708.5 222.6,708.0 223.5,707.5 224.4,707.0 225.4,706.5 226.3,706.0 227.2,705.5 228.1,705.0 229.0,704.6 229.9,704.1 230.8,703.6 231.7,703.1 232.6,702.6 233.6,702.2 234.5,701.7 235.4,701.2 236.3,700.8 237.2,700.3 238.1,699.9 239.0,699.4 239.9,699.0 240.8,698.5 241.7,698.1 242.7,697.6 243.6,697.2 244.5,696.8" fill="none" stroke="#c06010" stroke-width="7.5" stroke-linejoin="round" stroke-linecap="round"/><polyline points="244.5,696.8 267.0,686.8 289.6,678.0 312.1,670.1 334.7,662.9 357.2,656.4 379.8,650.3 402.3,644.7 424.9,639.4 447.4,634.4 469.9,629.8 492.5,625.3 515.0,621.1 537.6,617.0 560.1,613.1" fill="none" stroke="#c06010" stroke-width="1.05"/><circle cx="267.0" cy="686.8" r="3.9" fill="#c06010"/><circle cx="289.6" cy="678.0" r="3.9" fill="#c06010"/><circle cx="312.1" cy="670.1" r="3.9" fill="#c06010"/><circle cx="334.7" cy="662.9" r="3.9" fill="#c06010"/><circle cx="357.2" cy="656.4" r="3.9" fill="#c06010"/><circle cx="379.8" cy="650.3" r="3.9" fill="#c06010"/><circle cx="402.3" cy="644.7" r="3.9" fill="#c06010"/><circle cx="424.9" cy="639.4" r="3.9" fill="#c06010"/><circle cx="447.4" cy="634.4" r="3.9" fill="#c06010"/><circle cx="469.9" cy="629.8" r="3.9" fill="#c06010"/><circle cx="492.5" cy="625.3" r="3.9" fill="#c06010"/><circle cx="515.0" cy="621.1" r="3.9" fill="#c06010"/><circle cx="537.6" cy="617.0" r="3.9" fill="#c06010"/><circle cx="560.1" cy="613.1" r="3.9" fill="#c06010"/><polyline points="117.0,1006.7 117.1,1003.1 117.3,999.4 117.4,995.8 117.5,992.2 117.6,988.6 117.8,985.0 117.9,981.5 118.0,977.9 118.2,974.5 118.3,971.0 118.4,967.6 118.5,964.2 118.7,960.8 118.8,957.5 118.9,954.2 119.1,950.9 119.2,947.7 119.3,944.6 119.4,941.4 119.6,938.3 119.7,935.3 119.8,932.2 120.0,929.3 120.1,926.3 120.2,923.4 120.3,920.6 120.5,917.8 120.6,915.0 120.7,912.3 120.9,909.6 121.0,906.9 121.1,904.3 121.2,901.7 121.4,899.1 121.5,896.6 121.6,894.2 121.8,891.7 121.9,889.3 122.0,886.9 122.1,884.6 122.3,882.3 122.4,880.0 122.5,877.7 122.6,875.5 122.8,873.3 122.9,871.3 123.0,869.6 123.2,868.0 123.3,866.4 123.4,865.0 123.5,863.6 123.7,862.3 123.8,861.0 123.9,859.7 124.1,858.5 124.2,857.4 124.3,856.3 124.4,855.2 124.6,854.1 124.7,853.1 124.8,852.0 125.0,851.1 125.1,850.1 125.2,849.2 125.3,848.2 125.5,847.3 125.6,846.5 125.7,845.6 125.9,844.7 126.0,843.9 126.1,843.1 126.2,842.3 126.4,841.5 126.5,840.8 126.6,840.0 126.8,839.3 126.9,838.5 127.0,837.8 127.1,837.1 127.3,836.4 127.4,835.7 127.5,835.1 127.7,834.4 127.8,833.8 127.9,833.1 128.0,832.5 128.2,831.9 128.3,831.2 128.4,830.6 128.6,830.0 128.7,829.4 128.8,828.9 128.9,828.3 129.1,827.7 129.2,827.1 129.3,826.6 129.5,826.0 129.6,825.5 129.7,825.0 129.8,824.4 130.0,823.9 130.1,823.4 130.2,822.9 130.4,822.4 130.5,821.9 130.6,821.4 130.7,820.9 130.9,820.4 131.0,819.9 131.1,819.4 131.3,819.0 131.4,818.5 131.5,818.0 131.6,817.6 131.8,817.1 131.9,816.7 132.0,816.2 132.2,815.8 132.3,815.4 132.4,814.9 132.5,814.5 132.7,814.1 132.8,813.7 132.9,813.2 133.0,812.8 133.2,812.4 133.3,812.0 133.4,811.6 133.6,811.2 133.7,810.8 133.8,810.4 133.9,810.0 134.1,809.6 134.2,809.3 134.3,808.9 134.5,808.5 134.6,808.1 134.7,807.7 134.8,807.4 135.0,807.0 135.1,806.6 135.2,806.3 135.4,805.9 135.5,805.6 135.6,805.2 135.7,804.9 135.9,804.5 136.0,804.2 136.1,803.8 137.0,801.4 138.0,799.2 138.9,797.0 139.8,794.9 140.7,792.9 141.6,791.0 142.5,789.1 143.4,787.3 144.3,785.5 145.2,783.9 146.1,782.2 147.1,780.6 148.0,779.1 148.9,777.6 149.8,776.1 150.7,774.7 151.6,773.3 152.5,771.9 153.4,770.6 154.3,769.3 155.3,768.0 156.2,766.8 157.1,765.6 158.0,764.4 158.9,763.2 159.8,762.1 160.7,760.9 161.6,759.8 162.5,758.7 163.4,757.7 164.4,756.6 165.3,755.6 166.2,754.6 167.1,753.6 168.0,752.6 168.9,751.7 169.8,750.7 170.7,749.8 171.6,748.8 172.5,747.9 173.5,747.0 174.4,746.2 175.3,745.3 176.2,744.4 177.1,743.6 178.0,742.8 178.9,741.9 179.8,741.1 180.7,740.3 181.7,739.5 182.6,738.7 183.5,738.0 184.4,737.2 185.3,736.4 186.2,735.7 187.1,735.0 188.0,734.2 188.9,733.5 189.8,732.8 190.8,732.1 191.7,731.4 192.6,730.7 193.5,730.0 194.4,729.3 195.3,728.6 196.2,728.0 197.1,727.3 198.0,726.7 199.0,726.0 199.9,725.4 200.8,724.8 201.7,724.1 202.6,723.5 203.5,722.9 204.4,722.3 205.3,721.7 206.2,721.1 207.1,720.5 208.1,719.9 209.0,719.3 209.9,718.7 210.8,718.1 211.7,717.6 212.6,717.0 213.5,716.5 214.4,715.9 215.3,715.3 216.3,714.8 217.2,714.3 218.1,713.7 219.0,713.2 219.9,712.6 220.8,712.1 221.7,711.6 222.6,711.1 223.5,710.6 224.4,710.1 225.4,709.5 226.3,709.0 227.2,708.5 228.1,708.0 229.0,707.5 229.9,707.1 230.8,706.6 231.7,706.1 232.6,705.6 233.6,705.1 234.5,704.7 235.4,704.2 236.3,703.7 237.2,703.3 238.1,702.8 239.0,702.3 239.9,701.9 240.8,701.4 241.7,701.0 242.7,700.5 243.6,700.1 244.5,699.6" fill="none" stroke="#10c040" stroke-width="7.5" stroke-linejoin="round" stroke-linecap="round"/><polyline points="244.5,699.6 267.0,689.5 289.6,680.5 312.1,672.5 334.7,665.3 357.2,658.6 379.8,652.5 402.3,646.8 424.9,641.5 447.4,636.4 469.9,631.7 492.5,627.2 515.0,622.9 537.6,618.8 560.1,614.9" fill="none" stroke="#10c040" stroke-width="1.05"/><circle cx="267.0" cy="689.5" r="3.9" fill="#10c040"/><circle cx="289.6" cy="680.5" r="3.9" fill="#10c040"/><circle cx="312.1" cy="672.5" r="3.9" fill="#10c040"/><circle cx="334.7" cy="665.3" r="3.9" fill="#10c040"/><circle cx="357.2" cy="658.6" r="3.9" fill="#10c040"/><circle cx="379.8" cy="652.5" r="3.9" fill="#10c040"/><circle cx="402.3" cy="646.8" r="3.9" fill="#10c040"/><circle cx="424.9" cy="641.5" r="3.9" fill="#10c040"/><circle cx="447.4" cy="636.4" r="3.9" fill="#10c040"/><circle cx="469.9" cy="631.7" r="3.9" fill="#10c040"/><circle cx="492.5" cy="627.2" r="3.9" fill="#10c040"/><circle cx="515.0" cy="622.9" r="3.9" fill="#10c040"/><circle cx="537.6" cy="618.8" r="3.9" fill="#10c040"/><circle cx="560.1" cy="614.9" r="3.9" fill="#10c040"/><polyline points="117.0,1006.7 117.1,1003.1 117.3,999.4 117.4,995.8 117.5,992.2 117.6,988.6 117.8,985.0 117.9,981.4 118.0,977.9 118.2,974.4 118.3,971.0 118.4,967.6 118.5,964.2 118.7,960.8 118.8,957.5 118.9,954.2 119.1,950.9 119.2,947.7 119.3,944.5 119.4,941.4 119.6,938.3 119.7,935.2 119.8,932.2 120.0,929.2 120.1,926.3 120.2,923.4 120.3,920.6 120.5,917.7 120.6,915.0 120.7,912.2 120.9,909.5 121.0,906.9 121.1,904.3 121.2,901.7 121.4,899.1 121.5,896.6 121.6,894.2 121.8,892.0 121.9,890.0 122.0,888.1 122.1,886.2 122.3,884.4 122.4,882.7 122.5,881.1 122.6,879.5 122.8,878.0 122.9,876.5 123.0,875.1 123.2,873.7 123.3,872.4 123.4,871.1 123.5,869.8 123.7,868.6 123.8,867.3 123.9,866.2 124.1,865.0 124.2,863.9 124.3,862.8 124.4,861.8 124.6,860.7 124.7,859.7 124.8,858.7 125.0,857.7 125.1,856.8 125.2,855.9 125.3,854.9 125.5,854.1 125.6,853.2 125.7,852.3 125.9,851.5 126.0,850.6 126.1,849.8 126.2,849.0 126.4,848.2 126.5,847.4 126.6,846.7 126.8,845.9 126.9,845.2 127.0,844.5 127.1,843.7 127.3,843.0 127.4,842.3 127.5,841.6 127.7,841.0 127.8,840.3 127.9,839.6 128.0,839.0 128.2,838.4 128.3,837.7 128.4,837.1 128.6,836.5 128.7,835.9 128.8,835.3 128.9,834.7 129.1,834.1 129.2,833.5 129.3,832.9 129.5,832.4 129.6,831.8 129.7,831.3 129.8,830.7 130.0,830.2 130.1,829.7 130.2,829.1 130.4,828.6 130.5,828.1 130.6,827.6 130.7,827.1 130.9,826.6 131.0,826.1 131.1,825.6 131.3,825.1 131.4,824.6 131.5,824.1 131.6,823.7 131.8,823.2 131.9,822.7 132.0,822.3 132.2,821.8 132.3,821.4 132.4,820.9 132.5,820.5 132.7,820.0 132.8,819.6 132.9,819.2 133.0,818.7 133.2,818.3 133.3,817.9 133.4,817.5 133.6,817.1 133.7,816.6 133.8,816.2 133.9,815.8 134.1,815.4 134.2,815.0 134.3,814.6 134.5,814.3 134.6,813.9 134.7,813.5 134.8,813.1 135.0,812.7 135.1,812.3 135.2,812.0 135.4,811.6 135.5,811.2 135.6,810.9 135.7,810.5 135.9,810.1 136.0,809.8 136.1,809.4 137.0,806.9 138.0,804.6 138.9,802.3 139.8,800.2 140.7,798.1 141.6,796.1 142.5,794.2 143.4,792.3 144.3,790.5 145.2,788.8 146.1,787.1 147.1,785.4 148.0,783.8 148.9,782.3 149.8,780.8 150.7,779.3 151.6,777.9 152.5,776.5 153.4,775.1 154.3,773.8 155.3,772.4 156.2,771.2 157.1,769.9 158.0,768.7 158.9,767.5 159.8,766.3 160.7,765.2 161.6,764.0 162.5,762.9 163.4,761.8 164.4,760.7 165.3,759.7 166.2,758.6 167.1,757.6 168.0,756.6 168.9,755.6 169.8,754.7 170.7,753.7 171.6,752.8 172.5,751.8 173.5,750.9 174.4,750.0 175.3,749.1 176.2,748.2 177.1,747.4 178.0,746.5 178.9,745.7 179.8,744.8 180.7,744.0 181.7,743.2 182.6,742.4 183.5,741.6 184.4,740.8 185.3,740.1 186.2,739.3 187.1,738.5 188.0,737.8 188.9,737.0 189.8,736.3 190.8,735.6 191.7,734.9 192.6,734.2 193.5,733.5 194.4,732.8 195.3,732.1 196.2,731.4 197.1,730.7 198.0,730.1 199.0,729.4 199.9,728.8 200.8,728.1 201.7,727.5 202.6,726.8 203.5,726.2 204.4,725.6 205.3,725.0 206.2,724.4 207.1,723.8 208.1,723.2 209.0,722.6 209.9,722.0 210.8,721.4 211.7,720.8 212.6,720.2 213.5,719.6 214.4,719.1 215.3,718.5 216.3,718.0 217.2,717.4 218.1,716.9 219.0,716.3 219.9,715.8 220.8,715.2 221.7,714.7 222.6,714.2 223.5,713.7 224.4,713.1 225.4,712.6 226.3,712.1 227.2,711.6 228.1,711.1 229.0,710.6 229.9,710.1 230.8,709.6 231.7,709.1 232.6,708.6 233.6,708.1 234.5,707.6 235.4,707.2 236.3,706.7 237.2,706.2 238.1,705.7 239.0,705.3 239.9,704.8 240.8,704.3 241.7,703.9 242.7,703.4 243.6,703.0 244.5,702.5" fill="none" stroke="#d03080" stroke-width="7.5" stroke-linejoin="round" stroke-linecap="round"/><polyline points="244.5,702.5 267.0,692.2 289.6,683.1 312.1,675.0 334.7,667.6 357.2,660.9 379.8,654.7 402.3,648.9 424.9,643.5 447.4,638.4 469.9,633.6 492.5,629.1 515.0,624.8 537.6,620.6 560.1,616.7" fill="none" stroke="#d03080" stroke-width="1.05"/><circle cx="267.0" cy="692.2" r="3.9" fill="#d03080"/><circle cx="289.6" cy="683.1" r="3.9" fill="#d03080"/><circle cx="312.1" cy="675.0" r="3.9" fill="#d03080"/><circle cx="334.7" cy="667.6" r="3.9" fill="#d03080"/><circle cx="357.2" cy="660.9" r="3.9" fill="#d03080"/><circle cx="379.8" cy="654.7" r="3.9" fill="#d03080"/><circle cx="402.3" cy="648.9" r="3.9" fill="#d03080"/><circle cx="424.9" cy="643.5" r="3.9" fill="#d03080"/><circle cx="447.4" cy="638.4" r="3.9" fill="#d03080"/><circle cx="469.9" cy="633.6" r="3.9" fill="#d03080"/><circle cx="492.5" cy="629.1" r="3.9" fill="#d03080"/><circle cx="515.0" cy="624.8" r="3.9" fill="#d03080"/><circle cx="537.6" cy="620.6" r="3.9" fill="#d03080"/><circle cx="560.1" cy="616.7" r="3.9" fill="#d03080"/><polyline points="117.0,1006.7 117.1,1003.1 117.3,999.4 117.4,995.8 117.5,992.2 117.6,988.6 117.8,985.0 117.9,981.4 118.0,977.9 118.2,974.4 118.3,971.0 118.4,967.5 118.5,964.1 118.7,960.8 118.8,957.4 118.9,954.1 119.1,950.9 119.2,947.7 119.3,944.5 119.4,941.4 119.6,938.3 119.7,935.2 119.8,932.2 120.0,929.4 120.1,926.6 120.2,923.9 120.3,921.3 120.5,918.8 120.6,916.4 120.7,914.0 120.9,911.8 121.0,909.6 121.1,907.4 121.2,905.4 121.4,903.4 121.5,901.4 121.6,899.5 121.8,897.7 121.9,896.0 122.0,894.2 122.1,892.6 122.3,891.0 122.4,889.4 122.5,887.9 122.6,886.4 122.8,884.9 122.9,883.5 123.0,882.2 123.2,880.8 123.3,879.5 123.4,878.2 123.5,877.0 123.7,875.8 123.8,874.6 123.9,873.4 124.1,872.3 124.2,871.2 124.3,870.1 124.4,869.0 124.6,868.0 124.7,867.0 124.8,866.0 125.0,865.0 125.1,864.0 125.2,863.1 125.3,862.2 125.5,861.3 125.6,860.4 125.7,859.5 125.9,858.6 126.0,857.8 126.1,856.9 126.2,856.1 126.4,855.3 126.5,854.5 126.6,853.7 126.8,853.0 126.9,852.2 127.0,851.4 127.1,850.7 127.3,850.0 127.4,849.3 127.5,848.6 127.7,847.9 127.8,847.2 127.9,846.5 128.0,845.8 128.2,845.2 128.3,844.5 128.4,843.9 128.6,843.2 128.7,842.6 128.8,842.0 128.9,841.4 129.1,840.8 129.2,840.2 129.3,839.6 129.5,839.0 129.6,838.4 129.7,837.9 129.8,837.3 130.0,836.7 130.1,836.2 130.2,835.6 130.4,835.1 130.5,834.6 130.6,834.0 130.7,833.5 130.9,833.0 131.0,832.5 131.1,832.0 131.3,831.4 131.4,830.9 131.5,830.5 131.6,830.0 131.8,829.5 131.9,829.0 132.0,828.5 132.2,828.1 132.3,827.6 132.4,827.1 132.5,826.7 132.7,826.2 132.8,825.8 132.9,825.3 133.0,824.9 133.2,824.4 133.3,824.0 133.4,823.5 133.6,823.1 133.7,822.7 133.8,822.3 133.9,821.9 134.1,821.4 134.2,821.0 134.3,820.6 134.5,820.2 134.6,819.8 134.7,819.4 134.8,819.0 135.0,818.6 135.1,818.2 135.2,817.8 135.4,817.4 135.5,817.1 135.6,816.7 135.7,816.3 135.9,815.9 136.0,815.6 136.1,815.2 137.0,812.6 138.0,810.2 138.9,807.9 139.8,805.6 140.7,803.5 141.6,801.4 142.5,799.4 143.4,797.5 144.3,795.6 145.2,793.8 146.1,792.1 147.1,790.4 148.0,788.7 148.9,787.1 149.8,785.6 150.7,784.0 151.6,782.6 152.5,781.1 153.4,779.7 154.3,778.3 155.3,777.0 156.2,775.7 157.1,774.4 158.0,773.1 158.9,771.9 159.8,770.7 160.7,769.5 161.6,768.3 162.5,767.2 163.4,766.0 164.4,764.9 165.3,763.8 166.2,762.8 167.1,761.7 168.0,760.7 168.9,759.7 169.8,758.7 170.7,757.7 171.6,756.7 172.5,755.8 173.5,754.8 174.4,753.9 175.3,753.0 176.2,752.1 177.1,751.2 178.0,750.3 178.9,749.5 179.8,748.6 180.7,747.8 181.7,746.9 182.6,746.1 183.5,745.3 184.4,744.5 185.3,743.7 186.2,742.9 187.1,742.2 188.0,741.4 188.9,740.6 189.8,739.9 190.8,739.2 191.7,738.4 192.6,737.7 193.5,737.0 194.4,736.3 195.3,735.6 196.2,734.9 197.1,734.2 198.0,733.5 199.0,732.9 199.9,732.2 200.8,731.5 201.7,730.9 202.6,730.2 203.5,729.6 204.4,728.9 205.3,728.3 206.2,727.7 207.1,727.1 208.1,726.5 209.0,725.9 209.9,725.2 210.8,724.7 211.7,724.1 212.6,723.5 213.5,722.9 214.4,722.3 215.3,721.7 216.3,721.2 217.2,720.6 218.1,720.0 219.0,719.5 219.9,718.9 220.8,718.4 221.7,717.8 222.6,717.3 223.5,716.8 224.4,716.2 225.4,715.7 226.3,715.2 227.2,714.7 228.1,714.2 229.0,713.7 229.9,713.1 230.8,712.6 231.7,712.1 232.6,711.6 233.6,711.1 234.5,710.7 235.4,710.2 236.3,709.7 237.2,709.2 238.1,708.7 239.0,708.2 239.9,707.8 240.8,707.3 241.7,706.8 242.7,706.4 243.6,705.9 244.5,705.5" fill="none" stroke="#30c8c8" stroke-width="7.5" stroke-linejoin="round" stroke-linecap="round"/><polyline points="244.5,705.5 267.0,695.0 289.6,685.7 312.1,677.5 334.7,670.0 357.2,663.2 379.8,656.9 402.3,651.1 424.9,645.6 447.4,640.5 469.9,635.6 492.5,631.0 515.0,626.7 537.6,622.5 560.1,618.5" fill="none" stroke="#30c8c8" stroke-width="1.05"/><circle cx="267.0" cy="695.0" r="3.9" fill="#30c8c8"/><circle cx="289.6" cy="685.7" r="3.9" fill="#30c8c8"/><circle cx="312.1" cy="677.5" r="3.9" fill="#30c8c8"/><circle cx="334.7" cy="670.0" r="3.9" fill="#30c8c8"/><circle cx="357.2" cy="663.2" r="3.9" fill="#30c8c8"/><circle cx="379.8" cy="656.9" r="3.9" fill="#30c8c8"/><circle cx="402.3" cy="651.1" r="3.9" fill="#30c8c8"/><circle cx="424.9" cy="645.6" r="3.9" fill="#30c8c8"/><circle cx="447.4" cy="640.5" r="3.9" fill="#30c8c8"/><circle cx="469.9" cy="635.6" r="3.9" fill="#30c8c8"/><circle cx="492.5" cy="631.0" r="3.9" fill="#30c8c8"/><circle cx="515.0" cy="626.7" r="3.9" fill="#30c8c8"/><circle cx="537.6" cy="622.5" r="3.9" fill="#30c8c8"/><circle cx="560.1" cy="618.5" r="3.9" fill="#30c8c8"/><polyline points="117.0,1006.7 117.1,1003.2 117.3,999.7 117.4,996.3 117.5,992.8 117.6,989.3 117.8,985.9 117.9,982.5 118.0,979.1 118.2,975.8 118.3,972.5 118.4,969.3 118.5,966.1 118.7,963.0 118.8,959.9 118.9,956.8 119.1,953.9 119.2,950.9 119.3,948.1 119.4,945.3 119.6,942.5 119.7,939.8 119.8,937.2 120.0,934.7 120.1,932.2 120.2,929.8 120.3,927.4 120.5,925.1 120.6,922.9 120.7,920.7 120.9,918.6 121.0,916.5 121.1,914.5 121.2,912.6 121.4,910.7 121.5,908.9 121.6,907.1 121.8,905.3 121.9,903.6 122.0,901.9 122.1,900.3 122.3,898.7 122.4,897.2 122.5,895.7 122.6,894.2 122.8,892.8 122.9,891.4 123.0,890.0 123.2,888.7 123.3,887.4 123.4,886.1 123.5,884.9 123.7,883.7 123.8,882.5 123.9,881.3 124.1,880.2 124.2,879.0 124.3,877.9 124.4,876.8 124.6,875.8 124.7,874.7 124.8,873.7 125.0,872.7 125.1,871.7 125.2,870.8 125.3,869.8 125.5,868.9 125.6,868.0 125.7,867.1 125.9,866.2 126.0,865.3 126.1,864.5 126.2,863.6 126.4,862.8 126.5,862.0 126.6,861.1 126.8,860.4 126.9,859.6 127.0,858.8 127.1,858.0 127.3,857.3 127.4,856.5 127.5,855.8 127.7,855.1 127.8,854.4 127.9,853.7 128.0,853.0 128.2,852.3 128.3,851.6 128.4,851.0 128.6,850.3 128.7,849.6 128.8,849.0 128.9,848.4 129.1,847.7 129.2,847.1 129.3,846.5 129.5,845.9 129.6,845.3 129.7,844.7 129.8,844.1 130.0,843.5 130.1,843.0 130.2,842.4 130.4,841.8 130.5,841.3 130.6,840.7 130.7,840.2 130.9,839.6 131.0,839.1 131.1,838.6 131.3,838.1 131.4,837.5 131.5,837.0 131.6,836.5 131.8,836.0 131.9,835.5 132.0,835.0 132.2,834.5 132.3,834.0 132.4,833.6 132.5,833.1 132.7,832.6 132.8,832.1 132.9,831.7 133.0,831.2 133.2,830.7 133.3,830.3 133.4,829.8 133.6,829.4 133.7,829.0 133.8,828.5 133.9,828.1 134.1,827.6 134.2,827.2 134.3,826.8 134.5,826.4 134.6,825.9 134.7,825.5 134.8,825.1 135.0,824.7 135.1,824.3 135.2,823.9 135.4,823.5 135.5,823.1 135.6,822.7 135.7,822.3 135.9,821.9 136.0,821.5 136.1,821.2 137.0,818.5 138.0,816.0 138.9,813.6 139.8,811.2 140.7,809.0 141.6,806.9 142.5,804.8 143.4,802.8 144.3,800.9 145.2,799.0 146.1,797.2 147.1,795.4 148.0,793.7 148.9,792.1 149.8,790.5 150.7,788.9 151.6,787.4 152.5,785.9 153.4,784.4 154.3,783.0 155.3,781.6 156.2,780.2 157.1,778.9 158.0,777.6 158.9,776.3 159.8,775.1 160.7,773.9 161.6,772.7 162.5,771.5 163.4,770.3 164.4,769.2 165.3,768.1 166.2,767.0 167.1,765.9 168.0,764.9 168.9,763.8 169.8,762.8 170.7,761.8 171.6,760.8 172.5,759.8 173.5,758.8 174.4,757.9 175.3,757.0 176.2,756.0 177.1,755.1 178.0,754.2 178.9,753.3 179.8,752.5 180.7,751.6 181.7,750.8 182.6,749.9 183.5,749.1 184.4,748.3 185.3,747.5 186.2,746.7 187.1,745.9 188.0,745.1 188.9,744.3 189.8,743.5 190.8,742.8 191.7,742.0 192.6,741.3 193.5,740.6 194.4,739.8 195.3,739.1 196.2,738.4 197.1,737.7 198.0,737.0 199.0,736.3 199.9,735.7 200.8,735.0 201.7,734.3 202.6,733.7 203.5,733.0 204.4,732.4 205.3,731.7 206.2,731.1 207.1,730.4 208.1,729.8 209.0,729.2 209.9,728.6 210.8,728.0 211.7,727.4 212.6,726.8 213.5,726.2 214.4,725.6 215.3,725.0 216.3,724.4 217.2,723.8 218.1,723.3 219.0,722.7 219.9,722.1 220.8,721.6 221.7,721.0 222.6,720.5 223.5,719.9 224.4,719.4 225.4,718.9 226.3,718.3 227.2,717.8 228.1,717.3 229.0,716.8 229.9,716.2 230.8,715.7 231.7,715.2 232.6,714.7 233.6,714.2 234.5,713.7 235.4,713.2 236.3,712.7 237.2,712.2 238.1,711.7 239.0,711.3 239.9,710.8 240.8,710.3 241.7,709.8 242.7,709.4 243.6,708.9 244.5,708.4" fill="none" stroke="#3030a0" stroke-width="7.5" stroke-linejoin="round" stroke-linecap="round"/><polyline points="244.5,708.4 267.0,697.7 289.6,688.4 312.1,680.0 334.7,672.4 357.2,665.5 379.8,659.2 402.3,653.2 424.9,647.7 447.4,642.5 469.9,637.6 492.5,633.0 515.0,628.5 537.6,624.3 560.1,620.3" fill="none" stroke="#3030a0" stroke-width="1.05"/><circle cx="267.0" cy="697.7" r="3.9" fill="#3030a0"/><circle cx="289.6" cy="688.4" r="3.9" fill="#3030a0"/><circle cx="312.1" cy="680.0" r="3.9" fill="#3030a0"/><circle cx="334.7" cy="672.4" r="3.9" fill="#3030a0"/><circle cx="357.2" cy="665.5" r="3.9" fill="#3030a0"/><circle cx="379.8" cy="659.2" r="3.9" fill="#3030a0"/><circle cx="402.3" cy="653.2" r="3.9" fill="#3030a0"/><circle cx="424.9" cy="647.7" r="3.9" fill="#3030a0"/><circle cx="447.4" cy="642.5" r="3.9" fill="#3030a0"/><circle cx="469.9" cy="637.6" r="3.9" fill="#3030a0"/><circle cx="492.5" cy="633.0" r="3.9" fill="#3030a0"/><circle cx="515.0" cy="628.5" r="3.9" fill="#3030a0"/><circle cx="537.6" cy="624.3" r="3.9" fill="#3030a0"/><circle cx="560.1" cy="620.3" r="3.9" fill="#3030a0"/><polyline points="117.0,1006.7 117.1,1003.6 117.3,1000.5 117.4,997.5 117.5,994.4 117.6,991.3 117.8,988.3 117.9,985.2 118.0,982.2 118.2,979.3 118.3,976.4 118.4,973.5 118.5,970.6 118.7,967.8 118.8,965.0 118.9,962.2 119.1,959.5 119.2,956.8 119.3,954.2 119.4,951.6 119.6,949.1 119.7,946.6 119.8,944.2 120.0,941.8 120.1,939.5 120.2,937.2 120.3,935.0 120.5,932.8 120.6,930.7 120.7,928.6 120.9,926.6 121.0,924.6 121.1,922.7 121.2,920.8 121.4,919.0 121.5,917.2 121.6,915.4 121.8,913.7 121.9,912.0 122.0,910.4 122.1,908.8 122.3,907.2 122.4,905.7 122.5,904.2 122.6,902.7 122.8,901.3 122.9,899.9 123.0,898.5 123.2,897.1 123.3,895.8 123.4,894.5 123.5,893.3 123.7,892.0 123.8,890.8 123.9,889.6 124.1,888.4 124.2,887.3 124.3,886.2 124.4,885.1 124.6,884.0 124.7,882.9 124.8,881.9 125.0,880.8 125.1,879.8 125.2,878.8 125.3,877.9 125.5,876.9 125.6,876.0 125.7,875.0 125.9,874.1 126.0,873.2 126.1,872.3 126.2,871.4 126.4,870.6 126.5,869.7 126.6,868.9 126.8,868.1 126.9,867.3 127.0,866.5 127.1,865.7 127.3,864.9 127.4,864.1 127.5,863.4 127.7,862.6 127.8,861.9 127.9,861.1 128.0,860.4 128.2,859.7 128.3,859.0 128.4,858.3 128.6,857.6 128.7,857.0 128.8,856.3 128.9,855.6 129.1,855.0 129.2,854.3 129.3,853.7 129.5,853.1 129.6,852.4 129.7,851.8 129.8,851.2 130.0,850.6 130.1,850.0 130.2,849.4 130.4,848.8 130.5,848.3 130.6,847.7 130.7,847.1 130.9,846.5 131.0,846.0 131.1,845.4 131.3,844.9 131.4,844.4 131.5,843.8 131.6,843.3 131.8,842.8 131.9,842.2 132.0,841.7 132.2,841.2 132.3,840.7 132.4,840.2 132.5,839.7 132.7,839.2 132.8,838.7 132.9,838.2 133.0,837.8 133.2,837.3 133.3,836.8 133.4,836.3 133.6,835.9 133.7,835.4 133.8,835.0 133.9,834.5 134.1,834.1 134.2,833.6 134.3,833.2 134.5,832.7 134.6,832.3 134.7,831.9 134.8,831.4 135.0,831.0 135.1,830.6 135.2,830.2 135.4,829.7 135.5,829.3 135.6,828.9 135.7,828.5 135.9,828.1 136.0,827.7 136.1,827.3 137.0,824.5 138.0,821.9 138.9,819.4 139.8,817.0 140.7,814.7 141.6,812.5 142.5,810.3 143.4,808.2 144.3,806.2 145.2,804.3 146.1,802.4 147.1,800.6 148.0,798.9 148.9,797.1 149.8,795.5 150.7,793.9 151.6,792.3 152.5,790.7 153.4,789.2 154.3,787.8 155.3,786.3 156.2,784.9 157.1,783.6 158.0,782.2 158.9,780.9 159.8,779.6 160.7,778.4 161.6,777.1 162.5,775.9 163.4,774.7 164.4,773.6 165.3,772.4 166.2,771.3 167.1,770.2 168.0,769.1 168.9,768.0 169.8,767.0 170.7,765.9 171.6,764.9 172.5,763.9 173.5,762.9 174.4,761.9 175.3,761.0 176.2,760.0 177.1,759.1 178.0,758.2 178.9,757.3 179.8,756.4 180.7,755.5 181.7,754.6 182.6,753.8 183.5,752.9 184.4,752.1 185.3,751.2 186.2,750.4 187.1,749.6 188.0,748.8 188.9,748.0 189.8,747.2 190.8,746.5 191.7,745.7 192.6,745.0 193.5,744.2 194.4,743.5 195.3,742.7 196.2,742.0 197.1,741.3 198.0,740.6 199.0,739.9 199.9,739.2 200.8,738.5 201.7,737.8 202.6,737.1 203.5,736.5 204.4,735.8 205.3,735.2 206.2,734.5 207.1,733.9 208.1,733.2 209.0,732.6 209.9,732.0 210.8,731.3 211.7,730.7 212.6,730.1 213.5,729.5 214.4,728.9 215.3,728.3 216.3,727.7 217.2,727.1 218.1,726.5 219.0,726.0 219.9,725.4 220.8,724.8 221.7,724.3 222.6,723.7 223.5,723.1 224.4,722.6 225.4,722.1 226.3,721.5 227.2,721.0 228.1,720.4 229.0,719.9 229.9,719.4 230.8,718.9 231.7,718.3 232.6,717.8 233.6,717.3 234.5,716.8 235.4,716.3 236.3,715.8 237.2,715.3 238.1,714.8 239.0,714.3 239.9,713.8 240.8,713.3 241.7,712.8 242.7,712.4 243.6,711.9 244.5,711.4" fill="none" stroke="#a0b030" stroke-width="7.5" stroke-linejoin="round" stroke-linecap="round"/><polyline points="244.5,711.4 267.0,700.6 289.6,691.0 312.1,682.6 334.7,674.9 357.2,667.9 379.8,661.4 402.3,655.4 424.9,649.8 447.4,644.5 469.9,639.6 492.5,634.9 515.0,630.4 537.6,626.2 560.1,622.1" fill="none" stroke="#a0b030" stroke-width="1.05"/><circle cx="267.0" cy="700.6" r="3.9" fill="#a0b030"/><circle cx="289.6" cy="691.0" r="3.9" fill="#a0b030"/><circle cx="312.1" cy="682.6" r="3.9" fill="#a0b030"/><circle cx="334.7" cy="674.9" r="3.9" fill="#a0b030"/><circle cx="357.2" cy="667.9" r="3.9" fill="#a0b030"/><circle cx="379.8" cy="661.4" r="3.9" fill="#a0b030"/><circle cx="402.3" cy="655.4" r="3.9" fill="#a0b030"/><circle cx="424.9" cy="649.8" r="3.9" fill="#a0b030"/><circle cx="447.4" cy="644.5" r="3.9" fill="#a0b030"/><circle cx="469.9" cy="639.6" r="3.9" fill="#a0b030"/><circle cx="492.5" cy="634.9" r="3.9" fill="#a0b030"/><circle cx="515.0" cy="630.4" r="3.9" fill="#a0b030"/><circle cx="537.6" cy="626.2" r="3.9" fill="#a0b030"/><circle cx="560.1" cy="622.1" r="3.9" fill="#a0b030"/><polyline points="117.0,1006.7 117.1,1004.0 117.3,1001.3 117.4,998.7 117.5,996.0 117.6,993.3 117.8,990.7 117.9,988.0 118.0,985.4 118.2,982.8 118.3,980.3 118.4,977.7 118.5,975.2 118.7,972.7 118.8,970.2 118.9,967.8 119.1,965.3 119.2,962.9 119.3,960.6 119.4,958.2 119.6,955.9 119.7,953.7 119.8,951.4 120.0,949.2 120.1,947.1 120.2,944.9 120.3,942.8 120.5,940.8 120.6,938.8 120.7,936.8 120.9,934.9 121.0,933.0 121.1,931.1 121.2,929.3 121.4,927.5 121.5,925.7 121.6,924.0 121.8,922.3 121.9,920.7 122.0,919.1 122.1,917.5 122.3,915.9 122.4,914.4 122.5,912.9 122.6,911.4 122.8,910.0 122.9,908.6 123.0,907.2 123.2,905.8 123.3,904.5 123.4,903.2 123.5,901.9 123.7,900.7 123.8,899.4 123.9,898.2 124.1,897.0 124.2,895.9 124.3,894.7 124.4,893.6 124.6,892.5 124.7,891.4 124.8,890.3 125.0,889.3 125.1,888.2 125.2,887.2 125.3,886.2 125.5,885.2 125.6,884.2 125.7,883.3 125.9,882.3 126.0,881.4 126.1,880.5 126.2,879.6 126.4,878.7 126.5,877.8 126.6,876.9 126.8,876.1 126.9,875.2 127.0,874.4 127.1,873.6 127.3,872.8 127.4,872.0 127.5,871.2 127.7,870.4 127.8,869.6 127.9,868.9 128.0,868.1 128.2,867.4 128.3,866.7 128.4,865.9 128.6,865.2 128.7,864.5 128.8,863.8 128.9,863.1 129.1,862.5 129.2,861.8 129.3,861.1 129.5,860.5 129.6,859.8 129.7,859.2 129.8,858.5 130.0,857.9 130.1,857.3 130.2,856.7 130.4,856.1 130.5,855.5 130.6,854.9 130.7,854.3 130.9,853.7 131.0,853.1 131.1,852.5 131.3,852.0 131.4,851.4 131.5,850.8 131.6,850.3 131.8,849.7 131.9,849.2 132.0,848.7 132.2,848.1 132.3,847.6 132.4,847.1 132.5,846.6 132.7,846.1 132.8,845.5 132.9,845.0 133.0,844.5 133.2,844.0 133.3,843.5 133.4,843.1 133.6,842.6 133.7,842.1 133.8,841.6 133.9,841.1 134.1,840.7 134.2,840.2 134.3,839.8 134.5,839.3 134.6,838.8 134.7,838.4 134.8,837.9 135.0,837.5 135.1,837.1 135.2,836.6 135.4,836.2 135.5,835.8 135.6,835.3 135.7,834.9 135.9,834.5 136.0,834.1 136.1,833.6 137.0,830.8 138.0,828.0 138.9,825.4 139.8,822.9 140.7,820.5 141.6,818.2 142.5,816.0 143.4,813.8 144.3,811.8 145.2,809.8 146.1,807.8 147.1,805.9 148.0,804.1 148.9,802.3 149.8,800.6 150.7,798.9 151.6,797.3 152.5,795.7 153.4,794.2 154.3,792.6 155.3,791.2 156.2,789.7 157.1,788.3 158.0,786.9 158.9,785.6 159.8,784.3 160.7,783.0 161.6,781.7 162.5,780.4 163.4,779.2 164.4,778.0 165.3,776.8 166.2,775.7 167.1,774.5 168.0,773.4 168.9,772.3 169.8,771.2 170.7,770.2 171.6,769.1 172.5,768.1 173.5,767.1 174.4,766.1 175.3,765.1 176.2,764.1 177.1,763.2 178.0,762.2 178.9,761.3 179.8,760.4 180.7,759.5 181.7,758.6 182.6,757.7 183.5,756.8 184.4,756.0 185.3,755.1 186.2,754.3 187.1,753.4 188.0,752.6 188.9,751.8 189.8,751.0 190.8,750.2 191.7,749.4 192.6,748.7 193.5,747.9 194.4,747.1 195.3,746.4 196.2,745.6 197.1,744.9 198.0,744.2 199.0,743.5 199.9,742.8 200.8,742.1 201.7,741.4 202.6,740.7 203.5,740.0 204.4,739.3 205.3,738.6 206.2,738.0 207.1,737.3 208.1,736.7 209.0,736.0 209.9,735.4 210.8,734.7 211.7,734.1 212.6,733.5 213.5,732.9 214.4,732.3 215.3,731.7 216.3,731.0 217.2,730.5 218.1,729.9 219.0,729.3 219.9,728.7 220.8,728.1 221.7,727.5 222.6,727.0 223.5,726.4 224.4,725.8 225.4,725.3 226.3,724.7 227.2,724.2 228.1,723.6 229.0,723.1 229.9,722.6 230.8,722.0 231.7,721.5 232.6,721.0 233.6,720.4 234.5,719.9 235.4,719.4 236.3,718.9 237.2,718.4 238.1,717.9 239.0,717.4 239.9,716.9 240.8,716.4 241.7,715.9 242.7,715.4 243.6,714.9 244.5,714.4" fill="none" stroke="#909090" stroke-width="7.5" stroke-linejoin="round" stroke-linecap="round"/><polyline points="244.5,714.4 267.0,703.4 289.6,693.7 312.1,685.1 334.7,677.3 357.2,670.2 379.8,663.7 402.3,657.6 424.9,651.9 447.4,646.6 469.9,641.6 492.5,636.8 515.0,632.3 537.6,628.0 560.1,623.9" fill="none" stroke="#909090" stroke-width="1.05"/><circle cx="267.0" cy="703.4" r="3.9" fill="#909090"/><circle cx="289.6" cy="693.7" r="3.9" fill="#909090"/><circle cx="312.1" cy="685.1" r="3.9" fill="#909090"/><circle cx="334.7" cy="677.3" r="3.9" fill="#909090"/><circle cx="357.2" cy="670.2" r="3.9" fill="#909090"/><circle cx="379.8" cy="663.7" r="3.9" fill="#909090"/><circle cx="402.3" cy="657.6" r="3.9" fill="#909090"/><circle cx="424.9" cy="651.9" r="3.9" fill="#909090"/><circle cx="447.4" cy="646.6" r="3.9" fill="#909090"/><circle cx="469.9" cy="641.6" r="3.9" fill="#909090"/><circle cx="492.5" cy="636.8" r="3.9" fill="#909090"/><circle cx="515.0" cy="632.3" r="3.9" fill="#909090"/><circle cx="537.6" cy="628.0" r="3.9" fill="#909090"/><circle cx="560.1" cy="623.9" r="3.9" fill="#909090"/><polyline points="117.0,1006.7 117.1,1004.4 117.3,1002.1 117.4,999.7 117.5,997.4 117.6,995.1 117.8,992.8 117.9,990.5 118.0,988.2 118.2,986.0 118.3,983.8 118.4,981.6 118.5,979.4 118.7,977.2 118.8,975.0 118.9,972.8 119.1,970.7 119.2,968.5 119.3,966.4 119.4,964.3 119.6,962.2 119.7,960.2 119.8,958.2 120.0,956.1 120.1,954.2 120.2,952.2 120.3,950.3 120.5,948.4 120.6,946.5 120.7,944.6 120.9,942.8 121.0,941.0 121.1,939.3 121.2,937.5 121.4,935.8 121.5,934.1 121.6,932.5 121.8,930.8 121.9,929.2 122.0,927.7 122.1,926.1 122.3,924.6 122.4,923.1 122.5,921.6 122.6,920.2 122.8,918.7 122.9,917.3 123.0,916.0 123.2,914.6 123.3,913.3 123.4,912.0 123.5,910.7 123.7,909.4 123.8,908.2 123.9,906.9 124.1,905.7 124.2,904.6 124.3,903.4 124.4,902.2 124.6,901.1 124.7,900.0 124.8,898.9 125.0,897.8 125.1,896.8 125.2,895.7 125.3,894.7 125.5,893.7 125.6,892.7 125.7,891.7 125.9,890.7 126.0,889.7 126.1,888.8 126.2,887.9 126.4,887.0 126.5,886.0 126.6,885.2 126.8,884.3 126.9,883.4 127.0,882.5 127.1,881.7 127.3,880.9 127.4,880.0 127.5,879.2 127.7,878.4 127.8,877.6 127.9,876.8 128.0,876.1 128.2,875.3 128.3,874.5 128.4,873.8 128.6,873.0 128.7,872.3 128.8,871.6 128.9,870.9 129.1,870.2 129.2,869.5 129.3,868.8 129.5,868.1 129.6,867.4 129.7,866.8 129.8,866.1 130.0,865.4 130.1,864.8 130.2,864.2 130.4,863.5 130.5,862.9 130.6,862.3 130.7,861.7 130.9,861.0 131.0,860.4 131.1,859.8 131.3,859.2 131.4,858.7 131.5,858.1 131.6,857.5 131.8,856.9 131.9,856.4 132.0,855.8 132.2,855.3 132.3,854.7 132.4,854.2 132.5,853.6 132.7,853.1 132.8,852.6 132.9,852.0 133.0,851.5 133.2,851.0 133.3,850.5 133.4,850.0 133.6,849.5 133.7,849.0 133.8,848.5 133.9,848.0 134.1,847.5 134.2,847.0 134.3,846.5 134.5,846.0 134.6,845.6 134.7,845.1 134.8,844.6 135.0,844.2 135.1,843.7 135.2,843.3 135.4,842.8 135.5,842.4 135.6,841.9 135.7,841.5 135.9,841.0 136.0,840.6 136.1,840.2 137.0,837.2 138.0,834.3 138.9,831.6 139.8,829.0 140.7,826.5 141.6,824.1 142.5,821.8 143.4,819.6 144.3,817.4 145.2,815.3 146.1,813.3 147.1,811.4 148.0,809.5 148.9,807.7 149.8,805.9 150.7,804.1 151.6,802.4 152.5,800.8 153.4,799.2 154.3,797.6 155.3,796.1 156.2,794.6 157.1,793.2 158.0,791.7 158.9,790.3 159.8,789.0 160.7,787.6 161.6,786.3 162.5,785.0 163.4,783.8 164.4,782.5 165.3,781.3 166.2,780.1 167.1,779.0 168.0,777.8 168.9,776.7 169.8,775.6 170.7,774.5 171.6,773.4 172.5,772.3 173.5,771.3 174.4,770.3 175.3,769.3 176.2,768.3 177.1,767.3 178.0,766.3 178.9,765.4 179.8,764.4 180.7,763.5 181.7,762.6 182.6,761.7 183.5,760.8 184.4,759.9 185.3,759.0 186.2,758.2 187.1,757.3 188.0,756.5 188.9,755.6 189.8,754.8 190.8,754.0 191.7,753.2 192.6,752.4 193.5,751.6 194.4,750.9 195.3,750.1 196.2,749.3 197.1,748.6 198.0,747.9 199.0,747.1 199.9,746.4 200.8,745.7 201.7,745.0 202.6,744.3 203.5,743.6 204.4,742.9 205.3,742.2 206.2,741.5 207.1,740.8 208.1,740.2 209.0,739.5 209.9,738.8 210.8,738.2 211.7,737.6 212.6,736.9 213.5,736.3 214.4,735.7 215.3,735.0 216.3,734.4 217.2,733.8 218.1,733.2 219.0,732.6 219.9,732.0 220.8,731.4 221.7,730.8 222.6,730.3 223.5,729.7 224.4,729.1 225.4,728.5 226.3,728.0 227.2,727.4 228.1,726.9 229.0,726.3 229.9,725.8 230.8,725.2 231.7,724.7 232.6,724.1 233.6,723.6 234.5,723.1 235.4,722.6 236.3,722.0 237.2,721.5 238.1,721.0 239.0,720.5 239.9,720.0 240.8,719.5 241.7,719.0 242.7,718.5 243.6,718.0 244.5,717.5" fill="none" stroke="#b08080" stroke-width="7.5" stroke-linejoin="round" stroke-linecap="round"/><polyline points="244.5,717.5 267.0,706.3 289.6,696.5 312.1,687.7 334.7,679.8 357.2,672.6 379.8,666.0 402.3,659.8 424.9,654.1 447.4,648.7 469.9,643.6 492.5,638.8 515.0,634.3 537.6,629.9 560.1,625.8" fill="none" stroke="#b08080" stroke-width="1.05"/><circle cx="267.0" cy="706.3" r="3.9" fill="#b08080"/><circle cx="289.6" cy="696.5" r="3.9" fill="#b08080"/><circle cx="312.1" cy="687.7" r="3.9" fill="#b08080"/><circle cx="334.7" cy="679.8" r="3.9" fill="#b08080"/><circle cx="357.2" cy="672.6" r="3.9" fill="#b08080"/><circle cx="379.8" cy="666.0" r="3.9" fill="#b08080"/><circle cx="402.3" cy="659.8" r="3.9" fill="#b08080"/><circle cx="424.9" cy="654.1" r="3.9" fill="#b08080"/><circle cx="447.4" cy="648.7" r="3.9" fill="#b08080"/><circle cx="469.9" cy="643.6" r="3.9" fill="#b08080"/><circle cx="492.5" cy="638.8" r="3.9" fill="#b08080"/><circle cx="515.0" cy="634.3" r="3.9" fill="#b08080"/><circle cx="537.6" cy="629.9" r="3.9" fill="#b08080"/><circle cx="560.1" cy="625.8" r="3.9" fill="#b08080"/><polyline points="117.0,1006.7 117.1,1004.7 117.3,1002.7 117.4,1000.7 117.5,998.6 117.6,996.6 117.8,994.6 117.9,992.6 118.0,990.6 118.2,988.7 118.3,986.7 118.4,984.8 118.5,982.9 118.7,981.0 118.8,979.0 118.9,977.1 119.1,975.2 119.2,973.4 119.3,971.5 119.4,969.6 119.6,967.8 119.7,965.9 119.8,964.1 120.0,962.3 120.1,960.5 120.2,958.7 120.3,957.0 120.5,955.2 120.6,953.5 120.7,951.8 120.9,950.1 121.0,948.5 121.1,946.8 121.2,945.2 121.4,943.6 121.5,942.0 121.6,940.4 121.8,938.9 121.9,937.3 122.0,935.8 122.1,934.3 122.3,932.9 122.4,931.4 122.5,930.0 122.6,928.6 122.8,927.2 122.9,925.8 123.0,924.5 123.2,923.1 123.3,921.8 123.4,920.5 123.5,919.3 123.7,918.0 123.8,916.8 123.9,915.5 124.1,914.3 124.2,913.2 124.3,912.0 124.4,910.8 124.6,909.7 124.7,908.6 124.8,907.5 125.0,906.4 125.1,905.3 125.2,904.2 125.3,903.2 125.5,902.2 125.6,901.1 125.7,900.1 125.9,899.2 126.0,898.2 126.1,897.2 126.2,896.3 126.4,895.3 126.5,894.4 126.6,893.5 126.8,892.6 126.9,891.7 127.0,890.8 127.1,889.9 127.3,889.1 127.4,888.2 127.5,887.4 127.7,886.5 127.8,885.7 127.9,884.9 128.0,884.1 128.2,883.3 128.3,882.5 128.4,881.8 128.6,881.0 128.7,880.3 128.8,879.5 128.9,878.8 129.1,878.0 129.2,877.3 129.3,876.6 129.5,875.9 129.6,875.2 129.7,874.5 129.8,873.8 130.0,873.1 130.1,872.5 130.2,871.8 130.4,871.1 130.5,870.5 130.6,869.8 130.7,869.2 130.9,868.6 131.0,867.9 131.1,867.3 131.3,866.7 131.4,866.1 131.5,865.5 131.6,864.9 131.8,864.3 131.9,863.7 132.0,863.1 132.2,862.6 132.3,862.0 132.4,861.4 132.5,860.9 132.7,860.3 132.8,859.7 132.9,859.2 133.0,858.7 133.2,858.1 133.3,857.6 133.4,857.1 133.6,856.5 133.7,856.0 133.8,855.5 133.9,855.0 134.1,854.5 134.2,854.0 134.3,853.5 134.5,853.0 134.6,852.5 134.7,852.0 134.8,851.5 135.0,851.0 135.1,850.5 135.2,850.1 135.4,849.6 135.5,849.1 135.6,848.7 135.7,848.2 135.9,847.8 136.0,847.3 136.1,846.8 137.0,843.7 138.0,840.8 138.9,838.0 139.8,835.2 140.7,832.7 141.6,830.2 142.5,827.8 143.4,825.4 144.3,823.2 145.2,821.1 146.1,819.0 147.1,816.9 148.0,815.0 148.9,813.1 149.8,811.2 150.7,809.4 151.6,807.7 152.5,806.0 153.4,804.3 154.3,802.7 155.3,801.2 156.2,799.6 157.1,798.1 158.0,796.6 158.9,795.2 159.8,793.8 160.7,792.4 161.6,791.1 162.5,789.7 163.4,788.4 164.4,787.2 165.3,785.9 166.2,784.7 167.1,783.5 168.0,782.3 168.9,781.1 169.8,780.0 170.7,778.9 171.6,777.8 172.5,776.7 173.5,775.6 174.4,774.5 175.3,773.5 176.2,772.5 177.1,771.5 178.0,770.5 178.9,769.5 179.8,768.5 180.7,767.6 181.7,766.6 182.6,765.7 183.5,764.8 184.4,763.9 185.3,763.0 186.2,762.1 187.1,761.3 188.0,760.4 188.9,759.5 189.8,758.7 190.8,757.9 191.7,757.1 192.6,756.2 193.5,755.4 194.4,754.7 195.3,753.9 196.2,753.1 197.1,752.3 198.0,751.6 199.0,750.8 199.9,750.1 200.8,749.3 201.7,748.6 202.6,747.9 203.5,747.2 204.4,746.5 205.3,745.8 206.2,745.1 207.1,744.4 208.1,743.7 209.0,743.0 209.9,742.4 210.8,741.7 211.7,741.1 212.6,740.4 213.5,739.8 214.4,739.1 215.3,738.5 216.3,737.9 217.2,737.2 218.1,736.6 219.0,736.0 219.9,735.4 220.8,734.8 221.7,734.2 222.6,733.6 223.5,733.0 224.4,732.4 225.4,731.9 226.3,731.3 227.2,730.7 228.1,730.1 229.0,729.6 229.9,729.0 230.8,728.5 231.7,727.9 232.6,727.4 233.6,726.8 234.5,726.3 235.4,725.8 236.3,725.2 237.2,724.7 238.1,724.2 239.0,723.7 239.9,723.1 240.8,722.6 241.7,722.1 242.7,721.6 243.6,721.1 244.5,720.6" fill="none" stroke="#80a080" stroke-width="7.5" stroke-linejoin="round" stroke-linecap="round"/><polyline points="244.5,720.6 267.0,709.2 289.6,699.2 312.1,690.3 334.7,682.3 357.2,675.0 379.8,668.3 402.3,662.0 424.9,656.2 447.4,650.8 469.9,645.7 492.5,640.8 515.0,636.2 537.6,631.8 560.1,627.6" fill="none" stroke="#80a080" stroke-width="1.05"/><circle cx="267.0" cy="709.2" r="3.9" fill="#80a080"/><circle cx="289.6" cy="699.2" r="3.9" fill="#80a080"/><circle cx="312.1" cy="690.3" r="3.9" fill="#80a080"/><circle cx="334.7" cy="682.3" r="3.9" fill="#80a080"/><circle cx="357.2" cy="675.0" r="3.9" fill="#80a080"/><circle cx="379.8" cy="668.3" r="3.9" fill="#80a080"/><circle cx="402.3" cy="662.0" r="3.9" fill="#80a080"/><circle cx="424.9" cy="656.2" r="3.9" fill="#80a080"/><circle cx="447.4" cy="650.8" r="3.9" fill="#80a080"/><circle cx="469.9" cy="645.7" r="3.9" fill="#80a080"/><circle cx="492.5" cy="640.8" r="3.9" fill="#80a080"/><circle cx="515.0" cy="636.2" r="3.9" fill="#80a080"/><circle cx="537.6" cy="631.8" r="3.9" fill="#80a080"/><circle cx="560.1" cy="627.6" r="3.9" fill="#80a080"/><polyline points="117.0,1006.7 117.1,1004.9 117.3,1003.2 117.4,1001.4 117.5,999.6 117.6,997.9 117.8,996.1 117.9,994.3 118.0,992.6 118.2,990.9 118.3,989.2 118.4,987.5 118.5,985.8 118.7,984.2 118.8,982.5 118.9,980.8 119.1,979.1 119.2,977.5 119.3,975.8 119.4,974.2 119.6,972.5 119.7,970.9 119.8,969.2 120.0,967.6 120.1,966.0 120.2,964.4 120.3,962.8 120.5,961.3 120.6,959.7 120.7,958.1 120.9,956.6 121.0,955.1 121.1,953.5 121.2,952.0 121.4,950.6 121.5,949.1 121.6,947.6 121.8,946.2 121.9,944.7 122.0,943.3 122.1,941.9 122.3,940.5 122.4,939.1 122.5,937.8 122.6,936.4 122.8,935.1 122.9,933.8 123.0,932.5 123.2,931.2 123.3,929.9 123.4,928.7 123.5,927.4 123.7,926.2 123.8,925.0 123.9,923.8 124.1,922.6 124.2,921.5 124.3,920.3 124.4,919.2 124.6,918.0 124.7,916.9 124.8,915.8 125.0,914.7 125.1,913.7 125.2,912.6 125.3,911.6 125.5,910.5 125.6,909.5 125.7,908.5 125.9,907.5 126.0,906.5 126.1,905.5 126.2,904.6 126.4,903.6 126.5,902.7 126.6,901.8 126.8,900.8 126.9,899.9 127.0,899.0 127.1,898.1 127.3,897.3 127.4,896.4 127.5,895.5 127.7,894.7 127.8,893.9 127.9,893.0 128.0,892.2 128.2,891.4 128.3,890.6 128.4,889.8 128.6,889.0 128.7,888.2 128.8,887.5 128.9,886.7 129.1,886.0 129.2,885.2 129.3,884.5 129.5,883.8 129.6,883.0 129.7,882.3 129.8,881.6 130.0,880.9 130.1,880.2 130.2,879.5 130.4,878.9 130.5,878.2 130.6,877.5 130.7,876.9 130.9,876.2 131.0,875.6 131.1,874.9 131.3,874.3 131.4,873.6 131.5,873.0 131.6,872.4 131.8,871.8 131.9,871.2 132.0,870.6 132.2,870.0 132.3,869.4 132.4,868.8 132.5,868.2 132.7,867.6 132.8,867.1 132.9,866.5 133.0,865.9 133.2,865.4 133.3,864.8 133.4,864.3 133.6,863.7 133.7,863.2 133.8,862.7 133.9,862.1 134.1,861.6 134.2,861.1 134.3,860.6 134.5,860.0 134.6,859.5 134.7,859.0 134.8,858.5 135.0,858.0 135.1,857.5 135.2,857.0 135.4,856.5 135.5,856.1 135.6,855.6 135.7,855.1 135.9,854.6 136.0,854.1 136.1,853.7 137.0,850.5 138.0,847.4 138.9,844.4 139.8,841.6 140.7,838.9 141.6,836.3 142.5,833.8 143.4,831.4 144.3,829.1 145.2,826.9 146.1,824.7 147.1,822.6 148.0,820.6 148.9,818.6 149.8,816.7 150.7,814.9 151.6,813.1 152.5,811.3 153.4,809.6 154.3,807.9 155.3,806.3 156.2,804.7 157.1,803.2 158.0,801.6 158.9,800.2 159.8,798.7 160.7,797.3 161.6,795.9 162.5,794.5 163.4,793.2 164.4,791.9 165.3,790.6 166.2,789.3 167.1,788.1 168.0,786.9 168.9,785.7 169.8,784.5 170.7,783.3 171.6,782.2 172.5,781.1 173.5,780.0 174.4,778.9 175.3,777.8 176.2,776.8 177.1,775.7 178.0,774.7 178.9,773.7 179.8,772.7 180.7,771.7 181.7,770.8 182.6,769.8 183.5,768.9 184.4,768.0 185.3,767.0 186.2,766.1 187.1,765.3 188.0,764.4 188.9,763.5 189.8,762.6 190.8,761.8 191.7,761.0 192.6,760.1 193.5,759.3 194.4,758.5 195.3,757.7 196.2,756.9 197.1,756.1 198.0,755.3 199.0,754.6 199.9,753.8 200.8,753.1 201.7,752.3 202.6,751.6 203.5,750.8 204.4,750.1 205.3,749.4 206.2,748.7 207.1,748.0 208.1,747.3 209.0,746.6 209.9,745.9 210.8,745.3 211.7,744.6 212.6,743.9 213.5,743.3 214.4,742.6 215.3,742.0 216.3,741.3 217.2,740.7 218.1,740.1 219.0,739.4 219.9,738.8 220.8,738.2 221.7,737.6 222.6,737.0 223.5,736.4 224.4,735.8 225.4,735.2 226.3,734.6 227.2,734.0 228.1,733.5 229.0,732.9 229.9,732.3 230.8,731.8 231.7,731.2 232.6,730.6 233.6,730.1 234.5,729.5 235.4,729.0 236.3,728.5 237.2,727.9 238.1,727.4 239.0,726.9 239.9,726.3 240.8,725.8 241.7,725.3 242.7,724.8 243.6,724.3 244.5,723.8" fill="none" stroke="#3090c8" stroke-width="7.5" stroke-linejoin="round" stroke-linecap="round"/><polyline points="244.5,723.8 267.0,712.1 289.6,702.0 312.1,693.0 334.7,684.8 357.2,677.4 379.8,670.6 402.3,664.3 424.9,658.4 447.4,652.9 469.9,647.7 492.5,642.8 515.0,638.1 537.6,633.7 560.1,629.5" fill="none" stroke="#3090c8" stroke-width="1.05"/><circle cx="267.0" cy="712.1" r="3.9" fill="#3090c8"/><circle cx="289.6" cy="702.0" r="3.9" fill="#3090c8"/><circle cx="312.1" cy="693.0" r="3.9" fill="#3090c8"/><circle cx="334.7" cy="684.8" r="3.9" fill="#3090c8"/><circle cx="357.2" cy="677.4" r="3.9" fill="#3090c8"/><circle cx="379.8" cy="670.6" r="3.9" fill="#3090c8"/><circle cx="402.3" cy="664.3" r="3.9" fill="#3090c8"/><circle cx="424.9" cy="658.4" r="3.9" fill="#3090c8"/><circle cx="447.4" cy="652.9" r="3.9" fill="#3090c8"/><circle cx="469.9" cy="647.7" r="3.9" fill="#3090c8"/><circle cx="492.5" cy="642.8" r="3.9" fill="#3090c8"/><circle cx="515.0" cy="638.1" r="3.9" fill="#3090c8"/><circle cx="537.6" cy="633.7" r="3.9" fill="#3090c8"/><circle cx="560.1" cy="629.5" r="3.9" fill="#3090c8"/><polyline points="117.0,1006.7 117.1,1005.1 117.3,1003.6 117.4,1002.0 117.5,1000.5 117.6,998.9 117.8,997.3 117.9,995.8 118.0,994.2 118.2,992.8 118.3,991.3 118.4,989.8 118.5,988.3 118.7,986.8 118.8,985.3 118.9,983.8 119.1,982.4 119.2,980.9 119.3,979.4 119.4,977.9 119.6,976.5 119.7,975.0 119.8,973.6 120.0,972.1 120.1,970.7 120.2,969.3 120.3,967.8 120.5,966.4 120.6,965.0 120.7,963.6 120.9,962.2 121.0,960.8 121.1,959.4 121.2,958.1 121.4,956.7 121.5,955.3 121.6,954.0 121.8,952.7 121.9,951.3 122.0,950.0 122.1,948.7 122.3,947.4 122.4,946.1 122.5,944.8 122.6,943.6 122.8,942.3 122.9,941.1 123.0,939.8 123.2,938.6 123.3,937.4 123.4,936.2 123.5,935.0 123.7,933.9 123.8,932.7 123.9,931.5 124.1,930.4 124.2,929.3 124.3,928.1 124.4,927.0 124.6,925.9 124.7,924.9 124.8,923.8 125.0,922.7 125.1,921.7 125.2,920.6 125.3,919.6 125.5,918.6 125.6,917.6 125.7,916.6 125.9,915.6 126.0,914.6 126.1,913.6 126.2,912.7 126.4,911.7 126.5,910.8 126.6,909.8 126.8,908.9 126.9,908.0 127.0,907.1 127.1,906.2 127.3,905.3 127.4,904.5 127.5,903.6 127.7,902.7 127.8,901.9 127.9,901.1 128.0,900.2 128.2,899.4 128.3,898.6 128.4,897.8 128.6,897.0 128.7,896.2 128.8,895.4 128.9,894.6 129.1,893.9 129.2,893.1 129.3,892.4 129.5,891.6 129.6,890.9 129.7,890.2 129.8,889.4 130.0,888.7 130.1,888.0 130.2,887.3 130.4,886.6 130.5,885.9 130.6,885.2 130.7,884.5 130.9,883.9 131.0,883.2 131.1,882.5 131.3,881.9 131.4,881.2 131.5,880.6 131.6,880.0 131.8,879.3 131.9,878.7 132.0,878.1 132.2,877.5 132.3,876.9 132.4,876.3 132.5,875.7 132.7,875.1 132.8,874.5 132.9,873.9 133.0,873.3 133.2,872.7 133.3,872.2 133.4,871.6 133.6,871.0 133.7,870.5 133.8,869.9 133.9,869.4 134.1,868.8 134.2,868.3 134.3,867.7 134.5,867.2 134.6,866.7 134.7,866.2 134.8,865.6 135.0,865.1 135.1,864.6 135.2,864.1 135.4,863.6 135.5,863.1 135.6,862.6 135.7,862.1 135.9,861.6 136.0,861.1 136.1,860.6 137.0,857.3 138.0,854.1 138.9,851.0 139.8,848.1 140.7,845.3 141.6,842.6 142.5,840.1 143.4,837.6 144.3,835.2 145.2,832.9 146.1,830.6 147.1,828.5 148.0,826.4 148.9,824.3 149.8,822.3 150.7,820.4 151.6,818.5 152.5,816.7 153.4,815.0 154.3,813.2 155.3,811.5 156.2,809.9 157.1,808.3 158.0,806.7 158.9,805.2 159.8,803.7 160.7,802.2 161.6,800.8 162.5,799.4 163.4,798.0 164.4,796.7 165.3,795.3 166.2,794.0 167.1,792.8 168.0,791.5 168.9,790.3 169.8,789.1 170.7,787.9 171.6,786.7 172.5,785.6 173.5,784.4 174.4,783.3 175.3,782.2 176.2,781.1 177.1,780.1 178.0,779.0 178.9,778.0 179.8,777.0 180.7,776.0 181.7,775.0 182.6,774.0 183.5,773.0 184.4,772.1 185.3,771.2 186.2,770.2 187.1,769.3 188.0,768.4 188.9,767.5 189.8,766.6 190.8,765.8 191.7,764.9 192.6,764.1 193.5,763.2 194.4,762.4 195.3,761.6 196.2,760.8 197.1,760.0 198.0,759.2 199.0,758.4 199.9,757.6 200.8,756.8 201.7,756.1 202.6,755.3 203.5,754.6 204.4,753.8 205.3,753.1 206.2,752.4 207.1,751.7 208.1,750.9 209.0,750.2 209.9,749.5 210.8,748.9 211.7,748.2 212.6,747.5 213.5,746.8 214.4,746.2 215.3,745.5 216.3,744.8 217.2,744.2 218.1,743.6 219.0,742.9 219.9,742.3 220.8,741.7 221.7,741.0 222.6,740.4 223.5,739.8 224.4,739.2 225.4,738.6 226.3,738.0 227.2,737.4 228.1,736.8 229.0,736.2 229.9,735.7 230.8,735.1 231.7,734.5 232.6,733.9 233.6,733.4 234.5,732.8 235.4,732.3 236.3,731.7 237.2,731.2 238.1,730.6 239.0,730.1 239.9,729.5 240.8,729.0 241.7,728.5 242.7,728.0 243.6,727.4 244.5,726.9" fill="none" stroke="#40a8d8" stroke-width="7.5" stroke-linejoin="round" stroke-linecap="round"/><polyline points="244.5,726.9 267.0,715.1 289.6,704.8 312.1,695.6 334.7,687.4 357.2,679.9 379.8,673.0 402.3,666.6 424.9,660.6 447.4,655.0 469.9,649.8 492.5,644.8 515.0,640.1 537.6,635.6 560.1,631.4" fill="none" stroke="#40a8d8" stroke-width="1.05"/><circle cx="267.0" cy="715.1" r="3.9" fill="#40a8d8"/><circle cx="289.6" cy="704.8" r="3.9" fill="#40a8d8"/><circle cx="312.1" cy="695.6" r="3.9" fill="#40a8d8"/><circle cx="334.7" cy="687.4" r="3.9" fill="#40a8d8"/><circle cx="357.2" cy="679.9" r="3.9" fill="#40a8d8"/><circle cx="379.8" cy="673.0" r="3.9" fill="#40a8d8"/><circle cx="402.3" cy="666.6" r="3.9" fill="#40a8d8"/><circle cx="424.9" cy="660.6" r="3.9" fill="#40a8d8"/><circle cx="447.4" cy="655.0" r="3.9" fill="#40a8d8"/><circle cx="469.9" cy="649.8" r="3.9" fill="#40a8d8"/><circle cx="492.5" cy="644.8" r="3.9" fill="#40a8d8"/><circle cx="515.0" cy="640.1" r="3.9" fill="#40a8d8"/><circle cx="537.6" cy="635.6" r="3.9" fill="#40a8d8"/><circle cx="560.1" cy="631.4" r="3.9" fill="#40a8d8"/><polyline points="117.0,1006.7 117.1,1005.3 117.3,1003.9 117.4,1002.5 117.5,1001.1 117.6,999.7 117.8,998.3 117.9,997.0 118.0,995.6 118.2,994.3 118.3,993.0 118.4,991.6 118.5,990.3 118.7,989.0 118.8,987.7 118.9,986.4 119.1,985.1 119.2,983.7 119.3,982.4 119.4,981.1 119.6,979.8 119.7,978.5 119.8,977.2 120.0,975.9 120.1,974.7 120.2,973.4 120.3,972.1 120.5,970.8 120.6,969.5 120.7,968.3 120.9,967.0 121.0,965.7 121.1,964.5 121.2,963.2 121.4,962.0 121.5,960.8 121.6,959.5 121.8,958.3 121.9,957.1 122.0,955.9 122.1,954.7 122.3,953.5 122.4,952.3 122.5,951.1 122.6,949.9 122.8,948.8 122.9,947.6 123.0,946.4 123.2,945.3 123.3,944.2 123.4,943.0 123.5,941.9 123.7,940.8 123.8,939.7 123.9,938.6 124.1,937.5 124.2,936.4 124.3,935.4 124.4,934.3 124.6,933.3 124.7,932.2 124.8,931.2 125.0,930.2 125.1,929.1 125.2,928.1 125.3,927.1 125.5,926.1 125.6,925.1 125.7,924.2 125.9,923.2 126.0,922.2 126.1,921.3 126.2,920.4 126.4,919.4 126.5,918.5 126.6,917.6 126.8,916.7 126.9,915.8 127.0,914.9 127.1,914.0 127.3,913.1 127.4,912.3 127.5,911.4 127.7,910.5 127.8,909.7 127.9,908.9 128.0,908.0 128.2,907.2 128.3,906.4 128.4,905.6 128.6,904.8 128.7,904.0 128.8,903.2 128.9,902.4 129.1,901.6 129.2,900.9 129.3,900.1 129.5,899.4 129.6,898.6 129.7,897.9 129.8,897.1 130.0,896.4 130.1,895.7 130.2,895.0 130.4,894.3 130.5,893.6 130.6,892.9 130.7,892.2 130.9,891.5 131.0,890.8 131.1,890.2 131.3,889.5 131.4,888.8 131.5,888.2 131.6,887.5 131.8,886.9 131.9,886.2 132.0,885.6 132.2,885.0 132.3,884.3 132.4,883.7 132.5,883.1 132.7,882.5 132.8,881.9 132.9,881.3 133.0,880.7 133.2,880.1 133.3,879.5 133.4,878.9 133.6,878.4 133.7,877.8 133.8,877.2 133.9,876.6 134.1,876.1 134.2,875.5 134.3,875.0 134.5,874.4 134.6,873.9 134.7,873.3 134.8,872.8 135.0,872.3 135.1,871.7 135.2,871.2 135.4,870.7 135.5,870.2 135.6,869.7 135.7,869.2 135.9,868.6 136.0,868.1 136.1,867.6 137.0,864.2 138.0,860.9 138.9,857.7 139.8,854.7 140.7,851.8 141.6,849.1 142.5,846.4 143.4,843.8 144.3,841.3 145.2,838.9 146.1,836.6 147.1,834.4 148.0,832.2 148.9,830.1 149.8,828.0 150.7,826.1 151.6,824.1 152.5,822.2 153.4,820.4 154.3,818.6 155.3,816.9 156.2,815.2 157.1,813.5 158.0,811.9 158.9,810.3 159.8,808.8 160.7,807.3 161.6,805.8 162.5,804.4 163.4,802.9 164.4,801.5 165.3,800.2 166.2,798.8 167.1,797.5 168.0,796.2 168.9,795.0 169.8,793.7 170.7,792.5 171.6,791.3 172.5,790.1 173.5,789.0 174.4,787.8 175.3,786.7 176.2,785.6 177.1,784.5 178.0,783.4 178.9,782.3 179.8,781.3 180.7,780.3 181.7,779.3 182.6,778.2 183.5,777.3 184.4,776.3 185.3,775.3 186.2,774.4 187.1,773.4 188.0,772.5 188.9,771.6 189.8,770.7 190.8,769.8 191.7,768.9 192.6,768.1 193.5,767.2 194.4,766.3 195.3,765.5 196.2,764.7 197.1,763.9 198.0,763.0 199.0,762.2 199.9,761.4 200.8,760.7 201.7,759.9 202.6,759.1 203.5,758.3 204.4,757.6 205.3,756.8 206.2,756.1 207.1,755.4 208.1,754.6 209.0,753.9 209.9,753.2 210.8,752.5 211.7,751.8 212.6,751.1 213.5,750.4 214.4,749.8 215.3,749.1 216.3,748.4 217.2,747.7 218.1,747.1 219.0,746.4 219.9,745.8 220.8,745.2 221.7,744.5 222.6,743.9 223.5,743.3 224.4,742.6 225.4,742.0 226.3,741.4 227.2,740.8 228.1,740.2 229.0,739.6 229.9,739.0 230.8,738.4 231.7,737.9 232.6,737.3 233.6,736.7 234.5,736.1 235.4,735.6 236.3,735.0 237.2,734.5 238.1,733.9 239.0,733.4 239.9,732.8 240.8,732.3 241.7,731.7 242.7,731.2 243.6,730.7 244.5,730.1" fill="none" stroke="#000000" stroke-width="7.5" stroke-linejoin="round" stroke-linecap="round"/><polyline points="244.5,730.1 267.0,718.1 289.6,707.6 312.1,698.3 334.7,689.9 357.2,682.3 379.8,675.3 402.3,668.8 424.9,662.8 447.4,657.2 469.9,651.8 492.5,646.8 515.0,642.1 537.6,637.6 560.1,633.3" fill="none" stroke="#000000" stroke-width="1.05"/><circle cx="267.0" cy="718.1" r="3.9" fill="#000000"/><circle cx="289.6" cy="707.6" r="3.9" fill="#000000"/><circle cx="312.1" cy="698.3" r="3.9" fill="#000000"/><circle cx="334.7" cy="689.9" r="3.9" fill="#000000"/><circle cx="357.2" cy="682.3" r="3.9" fill="#000000"/><circle cx="379.8" cy="675.3" r="3.9" fill="#000000"/><circle cx="402.3" cy="668.8" r="3.9" fill="#000000"/><circle cx="424.9" cy="662.8" r="3.9" fill="#000000"/><circle cx="447.4" cy="657.2" r="3.9" fill="#000000"/><circle cx="469.9" cy="651.8" r="3.9" fill="#000000"/><circle cx="492.5" cy="646.8" r="3.9" fill="#000000"/><circle cx="515.0" cy="642.1" r="3.9" fill="#000000"/><circle cx="537.6" cy="637.6" r="3.9" fill="#000000"/><circle cx="560.1" cy="633.3" r="3.9" fill="#000000"/><polyline points="117.0,1006.7 117.1,1005.4 117.3,1004.2 117.4,1002.9 117.5,1001.7 117.6,1000.4 117.8,999.2 117.9,997.9 118.0,996.7 118.2,995.5 118.3,994.4 118.4,993.2 118.5,992.0 118.7,990.8 118.8,989.7 118.9,988.5 119.1,987.3 119.2,986.1 119.3,985.0 119.4,983.8 119.6,982.6 119.7,981.5 119.8,980.3 120.0,979.1 120.1,978.0 120.2,976.8 120.3,975.7 120.5,974.5 120.6,973.4 120.7,972.2 120.9,971.1 121.0,970.0 121.1,968.8 121.2,967.7 121.4,966.6 121.5,965.4 121.6,964.3 121.8,963.2 121.9,962.1 122.0,961.0 122.1,959.9 122.3,958.8 122.4,957.7 122.5,956.6 122.6,955.5 122.8,954.4 122.9,953.3 123.0,952.3 123.2,951.2 123.3,950.2 123.4,949.1 123.5,948.1 123.7,947.0 123.8,946.0 123.9,945.0 124.1,943.9 124.2,942.9 124.3,941.9 124.4,940.9 124.6,939.9 124.7,938.9 124.8,937.9 125.0,937.0 125.1,936.0 125.2,935.0 125.3,934.1 125.5,933.1 125.6,932.2 125.7,931.2 125.9,930.3 126.0,929.4 126.1,928.5 126.2,927.5 126.4,926.6 126.5,925.7 126.6,924.8 126.8,924.0 126.9,923.1 127.0,922.2 127.1,921.4 127.3,920.5 127.4,919.6 127.5,918.8 127.7,918.0 127.8,917.1 127.9,916.3 128.0,915.5 128.2,914.7 128.3,913.9 128.4,913.1 128.6,912.3 128.7,911.5 128.8,910.7 128.9,909.9 129.1,909.2 129.2,908.4 129.3,907.6 129.5,906.9 129.6,906.1 129.7,905.4 129.8,904.7 130.0,903.9 130.1,903.2 130.2,902.5 130.4,901.8 130.5,901.1 130.6,900.4 130.7,899.7 130.9,899.0 131.0,898.3 131.1,897.6 131.3,896.9 131.4,896.3 131.5,895.6 131.6,895.0 131.8,894.3 131.9,893.7 132.0,893.0 132.2,892.4 132.3,891.7 132.4,891.1 132.5,890.5 132.7,889.9 132.8,889.2 132.9,888.6 133.0,888.0 133.2,887.4 133.3,886.8 133.4,886.2 133.6,885.6 133.7,885.1 133.8,884.5 133.9,883.9 134.1,883.3 134.2,882.8 134.3,882.2 134.5,881.6 134.6,881.1 134.7,880.5 134.8,880.0 135.0,879.4 135.1,878.9 135.2,878.4 135.4,877.8 135.5,877.3 135.6,876.8 135.7,876.2 135.9,875.7 136.0,875.2 136.1,874.7 137.0,871.1 138.0,867.8 138.9,864.5 139.8,861.4 140.7,858.4 141.6,855.6 142.5,852.8 143.4,850.1 144.3,847.6 145.2,845.1 146.1,842.7 147.1,840.4 148.0,838.1 148.9,836.0 149.8,833.8 150.7,831.8 151.6,829.8 152.5,827.9 153.4,826.0 154.3,824.1 155.3,822.3 156.2,820.6 157.1,818.9 158.0,817.2 158.9,815.6 159.8,814.0 160.7,812.4 161.6,810.9 162.5,809.4 163.4,807.9 164.4,806.5 165.3,805.1 166.2,803.7 167.1,802.4 168.0,801.0 168.9,799.7 169.8,798.5 170.7,797.2 171.6,796.0 172.5,794.7 173.5,793.5 174.4,792.4 175.3,791.2 176.2,790.1 177.1,789.0 178.0,787.8 178.9,786.8 179.8,785.7 180.7,784.6 181.7,783.6 182.6,782.6 183.5,781.5 184.4,780.5 185.3,779.6 186.2,778.6 187.1,777.6 188.0,776.7 188.9,775.7 189.8,774.8 190.8,773.9 191.7,773.0 192.6,772.1 193.5,771.2 194.4,770.4 195.3,769.5 196.2,768.7 197.1,767.8 198.0,767.0 199.0,766.2 199.9,765.3 200.8,764.5 201.7,763.7 202.6,763.0 203.5,762.2 204.4,761.4 205.3,760.6 206.2,759.9 207.1,759.1 208.1,758.4 209.0,757.7 209.9,756.9 210.8,756.2 211.7,755.5 212.6,754.8 213.5,754.1 214.4,753.4 215.3,752.7 216.3,752.0 217.2,751.3 218.1,750.7 219.0,750.0 219.9,749.3 220.8,748.7 221.7,748.0 222.6,747.4 223.5,746.8 224.4,746.1 225.4,745.5 226.3,744.9 227.2,744.3 228.1,743.7 229.0,743.0 229.9,742.4 230.8,741.8 231.7,741.3 232.6,740.7 233.6,740.1 234.5,739.5 235.4,738.9 236.3,738.4 237.2,737.8 238.1,737.2 239.0,736.7 239.9,736.1 240.8,735.6 241.7,735.0 242.7,734.5 243.6,733.9 244.5,733.4" fill="none" stroke="#ff0000" stroke-width="7.5" stroke-linejoin="round" stroke-linecap="round"/><polyline points="244.5,733.4 267.0,721.1 289.6,710.5 312.1,701.0 334.7,692.5 357.2,684.8 379.8,677.7 402.3,671.1 424.9,665.0 447.4,659.3 469.9,653.9 492.5,648.9 515.0,644.1 537.6,639.5 560.1,635.2" fill="none" stroke="#ff0000" stroke-width="1.05"/><circle cx="267.0" cy="721.1" r="3.9" fill="#ff0000"/><circle cx="289.6" cy="710.5" r="3.9" fill="#ff0000"/><circle cx="312.1" cy="701.0" r="3.9" fill="#ff0000"/><circle cx="334.7" cy="692.5" r="3.9" fill="#ff0000"/><circle cx="357.2" cy="684.8" r="3.9" fill="#ff0000"/><circle cx="379.8" cy="677.7" r="3.9" fill="#ff0000"/><circle cx="402.3" cy="671.1" r="3.9" fill="#ff0000"/><circle cx="424.9" cy="665.0" r="3.9" fill="#ff0000"/><circle cx="447.4" cy="659.3" r="3.9" fill="#ff0000"/><circle cx="469.9" cy="653.9" r="3.9" fill="#ff0000"/><circle cx="492.5" cy="648.9" r="3.9" fill="#ff0000"/><circle cx="515.0" cy="644.1" r="3.9" fill="#ff0000"/><circle cx="537.6" cy="639.5" r="3.9" fill="#ff0000"/><circle cx="560.1" cy="635.2" r="3.9" fill="#ff0000"/></g>
<rect x="706" y="563.3" width="477.5" height="443.20000000000005" fill="none" stroke="#606060" stroke-width="2.9"/>
<g><polyline points="728.5,1006.5 728.5,1006.5 728.5,1006.4 728.5,1006.3 728.5,1006.2 728.5,1006.1 728.5,1006.0 728.5,1005.8 728.5,1005.6 728.5,1005.4 728.5,1005.2 728.5,1004.9 728.5,1004.6 728.5,1004.3 728.5,1004.0 728.5,1003.7 728.5,1003.3 728.5,1002.9 728.5,1002.5 728.5,1002.1 728.5,1001.6 728.5,1001.2 728.5,1000.7 728.5,1000.1 728.5,999.6 728.5,999.0 728.5,998.5 728.5,997.8 728.5,997.2 728.5,996.6 728.5,995.9 728.5,995.2 728.5,994.5 728.5,993.7 728.5,993.0 728.5,992.2 728.5,991.4 728.5,990.5 728.5,989.7 728.5,988.8 728.5,987.9 728.5,987.0 728.5,986.1 728.5,985.1 728.5,984.1 728.5,983.1 728.5,982.1 728.5,981.0 728.5,980.0 728.5,978.9 728.5,977.8 728.5,976.6 728.5,975.5 728.5,974.3 728.5,973.1 728.5,971.8 728.5,970.6 728.5,969.3 728.5,968.0 728.5,966.7 728.5,965.4 728.5,964.0 728.5,962.6 728.5,961.2 728.5,959.8 728.5,958.3 728.5,956.9 728.5,955.4 728.5,953.9 728.5,952.3 728.5,950.8 728.5,949.2 728.5,947.6 728.5,946.0 728.5,944.3 728.5,942.6 728.5,940.9 728.5,939.2 728.5,937.5 728.5,935.7 728.5,933.9 728.5,932.1 728.5,930.3 728.5,928.5 728.5,926.6 728.5,924.7 728.5,922.8 728.5,920.9 728.5,918.9 728.5,916.9 728.5,914.9 728.5,912.9 728.5,910.8 728.5,908.8 728.5,906.7 728.5,904.6 728.5,902.4 728.5,900.3 728.5,898.1 728.5,895.9 728.5,893.7 728.5,891.4 728.5,889.2 728.5,886.9 728.5,884.6 728.5,882.2 728.5,879.9 728.5,877.5 728.5,875.1 728.5,872.7 728.5,870.2 728.5,867.8 728.5,865.3 728.4,862.8 728.5,860.5 728.6,859.5 728.7,858.7 728.9,857.9 729.0,857.3 729.1,856.6 729.3,856.0 729.4,855.5 729.6,854.9 729.7,854.4 729.9,853.9 730.0,853.4 730.2,852.9 730.3,852.4 730.5,851.9 730.7,851.5 730.8,851.0 731.0,850.6 731.1,850.2 731.3,849.7 731.4,849.3 731.6,848.9 731.7,848.5 731.9,848.1 732.0,847.7 732.2,847.3 732.4,846.9 732.5,846.6 732.7,846.2 732.8,845.8 733.0,845.5 733.1,845.1 733.3,844.7 733.4,844.4 733.6,844.0 733.8,843.7 735.2,840.7 736.6,837.9 738.0,835.3 739.3,832.8 740.7,830.5 742.1,828.2 743.5,826.1 744.8,824.0 746.2,822.0 747.6,820.0 748.9,818.1 750.2,816.3 751.6,814.5 752.9,812.7 754.2,811.0 755.5,809.4 756.8,807.7 758.1,806.2 759.4,804.6 760.7,803.1 762.0,801.6 763.3,800.1 764.6,798.6 765.9,797.2 767.1,795.8 768.4,794.4 769.7,793.1 770.9,791.7 772.2,790.4 773.4,789.1 774.7,787.8 775.9,786.6 777.1,785.3 778.4,784.1 779.6,782.9 780.8,781.7 782.0,780.5 783.3,779.3 784.5,778.2 785.7,777.0 786.9,775.9 788.1,774.8 789.3,773.6 790.5,772.5 791.7,771.5 792.9,770.4 794.1,769.3 795.3,768.3 796.5,767.2 797.6,766.2 798.8,765.2 800.0,764.2 801.2,763.1 802.3,762.1 803.5,761.2 804.7,760.2 805.8,759.2 807.0,758.2 808.1,757.3 809.3,756.3 810.5,755.4 811.6,754.5 812.8,753.5 813.9,752.6 815.0,751.7 816.2,750.8 817.3,749.9 818.5,749.0 819.6,748.1 820.7,747.2 821.9,746.4 823.0,745.5 824.1,744.6 825.2,743.8 826.3,742.9 827.5,742.1 828.6,741.2 829.7,740.4 830.8,739.6 831.9,738.8 833.0,737.9 834.1,737.1 835.2,736.3 836.4,735.5 837.5,734.7 838.6,733.9 839.7,733.1 840.7,732.4 841.8,731.6 842.9,730.8 844.0,730.0 845.1,729.3 846.2,728.5 847.3,727.7 848.4,727.0 849.5,726.2 850.5,725.5 851.6,724.7 852.7,724.0 853.8,723.3 854.9,722.5 855.9,721.8 857.0,721.1 858.1,720.4 859.1,719.6 860.2,718.9 861.3,718.2 862.3,717.5 863.4,716.8 864.5,716.1 865.5,715.4 866.6,714.7 867.6,714.0 868.7,713.4 869.8,712.7 870.8,712.0 871.9,711.3 872.9,710.6 874.0,710.0" fill="none" stroke="#000000" stroke-width="7.0" stroke-linejoin="round" stroke-linecap="round"/><polyline points="874.0,710.0 892.9,698.2 912.7,686.5 932.1,675.7 951.1,665.4 969.9,655.8 988.4,646.6 1006.7,637.9 1024.7,629.6 1042.6,621.7 1060.3,614.1 1077.8,606.8 1095.2,599.8 1112.4,593.1" fill="none" stroke="#000000" stroke-width="1.3"/><circle cx="892.9" cy="698.2" r="3.2" fill="#000000"/><circle cx="912.7" cy="686.5" r="3.2" fill="#000000"/><circle cx="932.1" cy="675.7" r="3.2" fill="#000000"/><circle cx="951.1" cy="665.4" r="3.2" fill="#000000"/><circle cx="969.9" cy="655.8" r="3.2" fill="#000000"/><circle cx="988.4" cy="646.6" r="3.2" fill="#000000"/><circle cx="1006.7" cy="637.9" r="3.2" fill="#000000"/><circle cx="1024.7" cy="629.6" r="3.2" fill="#000000"/><circle cx="1042.6" cy="621.7" r="3.2" fill="#000000"/><circle cx="1060.3" cy="614.1" r="3.2" fill="#000000"/><circle cx="1077.8" cy="606.8" r="3.2" fill="#000000"/><circle cx="1095.2" cy="599.8" r="3.2" fill="#000000"/><circle cx="1112.4" cy="593.1" r="3.2" fill="#000000"/><polyline points="728.4,1006.5 728.4,1006.5 728.4,1006.4 728.4,1006.3 728.4,1006.2 728.4,1006.1 728.4,1006.0 728.4,1005.8 728.4,1005.6 728.4,1005.4 728.4,1005.2 728.4,1004.9 728.4,1004.6 728.4,1004.3 728.4,1004.0 728.4,1003.7 728.4,1003.3 728.4,1002.9 728.4,1002.5 728.4,1002.1 728.4,1001.6 728.4,1001.1 728.4,1000.6 728.4,1000.1 728.4,999.6 728.4,999.0 728.4,998.4 728.4,997.8 728.4,997.2 728.4,996.5 728.4,995.9 728.4,995.2 728.4,994.4 728.4,993.7 728.4,992.9 728.4,992.2 728.4,991.3 728.4,990.5 728.4,989.7 728.4,988.8 728.4,987.9 728.4,987.0 728.4,986.0 728.4,985.1 728.4,984.1 728.4,983.1 728.4,982.1 728.4,981.0 728.4,979.9 728.4,978.8 728.4,977.7 728.4,976.6 728.4,975.4 728.4,974.2 728.4,973.0 728.4,971.8 728.4,970.6 728.4,969.3 728.4,968.0 728.4,966.7 728.4,965.3 728.4,964.0 728.4,962.6 728.4,961.2 728.4,959.8 728.4,958.3 728.4,956.8 728.5,955.4 728.5,953.8 728.5,952.3 728.5,950.7 728.5,949.2 728.5,947.6 728.5,945.9 728.5,944.3 728.5,942.6 728.5,940.9 728.5,939.2 728.5,937.5 728.5,935.7 728.5,933.9 728.5,932.1 728.5,930.3 728.5,928.5 728.5,926.6 728.5,924.7 728.5,922.8 728.5,920.9 728.5,918.9 728.5,916.9 728.5,914.9 728.5,912.9 728.5,910.9 728.5,908.8 728.5,906.7 728.5,904.6 728.5,902.5 728.5,900.3 728.5,898.1 728.5,895.9 728.5,893.7 728.5,891.5 728.5,889.2 728.5,886.9 728.5,884.6 728.5,882.3 728.5,879.9 728.5,877.5 728.5,875.1 728.5,872.7 728.5,870.3 728.5,867.8 728.5,866.2 728.7,865.3 728.8,864.5 728.9,863.8 729.1,863.2 729.2,862.5 729.4,862.0 729.5,861.4 729.7,860.8 729.8,860.3 730.0,859.8 730.1,859.3 730.3,858.8 730.4,858.3 730.6,857.8 730.7,857.4 730.9,856.9 731.1,856.5 731.2,856.0 731.4,855.6 731.5,855.2 731.7,854.8 731.8,854.3 732.0,853.9 732.2,853.5 732.3,853.1 732.5,852.8 732.6,852.4 732.8,852.0 732.9,851.6 733.1,851.3 733.3,850.9 733.4,850.5 733.6,850.2 733.7,849.8 733.9,849.5 734.0,849.1 734.2,848.8 735.6,845.8 737.0,843.0 738.4,840.4 739.8,837.9 741.2,835.6 742.6,833.3 744.0,831.1 745.4,829.0 746.8,827.0 748.1,825.0 749.5,823.1 750.8,821.2 752.2,819.4 753.5,817.7 754.8,815.9 756.2,814.3 757.5,812.6 758.8,811.0 760.1,809.4 761.4,807.9 762.7,806.3 764.0,804.8 765.3,803.4 766.5,801.9 767.8,800.5 769.1,799.1 770.4,797.7 771.6,796.3 772.9,795.0 774.1,793.7 775.4,792.4 776.6,791.1 777.9,789.8 779.1,788.6 780.3,787.3 781.6,786.1 782.8,784.9 784.0,783.7 785.2,782.5 786.5,781.4 787.7,780.2 788.9,779.1 790.1,778.0 791.3,776.8 792.5,775.7 793.7,774.7 794.9,773.6 796.1,772.5 797.3,771.4 798.5,770.4 799.6,769.4 800.8,768.3 802.0,767.3 803.2,766.3 804.3,765.3 805.5,764.3 806.7,763.3 807.8,762.4 809.0,761.4 810.2,760.4 811.3,759.5 812.5,758.5 813.6,757.6 814.8,756.7 815.9,755.7 817.1,754.8 818.2,753.9 819.3,753.0 820.5,752.1 821.6,751.2 822.8,750.4 823.9,749.5 825.0,748.6 826.1,747.8 827.3,746.9 828.4,746.1 829.5,745.2 830.6,744.4 831.7,743.5 832.9,742.7 834.0,741.9 835.1,741.1 836.2,740.2 837.3,739.4 838.4,738.6 839.5,737.8 840.6,737.0 841.7,736.3 842.8,735.5 843.9,734.7 845.0,733.9 846.1,733.2 847.2,732.4 848.3,731.6 849.4,730.9 850.5,730.1 851.6,729.4 852.6,728.6 853.7,727.9 854.8,727.1 855.9,726.4 857.0,725.7 858.0,725.0 859.1,724.2 860.2,723.5 861.3,722.8 862.3,722.1 863.4,721.4 864.5,720.7 865.5,720.0 866.6,719.3 867.7,718.6 868.7,717.9 869.8,717.2 870.8,716.5 871.9,715.8 872.9,715.2 874.0,714.5 875.1,713.8" fill="none" stroke="#ff0000" stroke-width="7.0" stroke-linejoin="round" stroke-linecap="round"/><polyline points="875.1,713.8 894.1,702.0 913.9,690.3 933.4,679.4 952.5,669.1 971.3,659.4 989.8,650.2 1008.1,641.5 1026.2,633.1 1044.1,625.1 1061.8,617.5 1079.4,610.1 1096.8,603.1 1114.1,596.4" fill="none" stroke="#ff0000" stroke-width="1.3"/><circle cx="894.1" cy="702.0" r="3.2" fill="#ff0000"/><circle cx="913.9" cy="690.3" r="3.2" fill="#ff0000"/><circle cx="933.4" cy="679.4" r="3.2" fill="#ff0000"/><circle cx="952.5" cy="669.1" r="3.2" fill="#ff0000"/><circle cx="971.3" cy="659.4" r="3.2" fill="#ff0000"/><circle cx="989.8" cy="650.2" r="3.2" fill="#ff0000"/><circle cx="1008.1" cy="641.5" r="3.2" fill="#ff0000"/><circle cx="1026.2" cy="633.1" r="3.2" fill="#ff0000"/><circle cx="1044.1" cy="625.1" r="3.2" fill="#ff0000"/><circle cx="1061.8" cy="617.5" r="3.2" fill="#ff0000"/><circle cx="1079.4" cy="610.1" r="3.2" fill="#ff0000"/><circle cx="1096.8" cy="603.1" r="3.2" fill="#ff0000"/><circle cx="1114.1" cy="596.4" r="3.2" fill="#ff0000"/><polyline points="728.2,1006.5 728.2,1006.5 728.2,1006.4 728.2,1006.3 728.2,1006.2 728.2,1006.1 728.2,1005.9 728.2,1005.8 728.3,1005.6 728.3,1005.4 728.3,1005.1 728.3,1004.9 728.3,1004.6 728.3,1004.3 728.3,1004.0 728.4,1003.6 728.4,1003.3 728.4,1002.9 728.4,1002.5 728.4,1002.0 728.4,1001.6 728.4,1001.1 728.4,1000.6 728.4,1000.1 728.4,999.6 728.4,999.0 728.4,998.4 728.4,997.8 728.4,997.2 728.4,996.5 728.4,995.8 728.4,995.1 728.4,994.4 728.4,993.7 728.4,992.9 728.4,992.1 728.4,991.3 728.4,990.5 728.4,989.6 728.4,988.8 728.4,987.9 728.4,987.0 728.4,986.0 728.4,985.1 728.4,984.1 728.4,983.1 728.4,982.0 728.4,981.0 728.4,979.9 728.4,978.8 728.4,977.7 728.4,976.6 728.4,975.4 728.4,974.2 728.4,973.0 728.4,971.8 728.4,970.5 728.4,969.3 728.4,968.0 728.4,966.7 728.4,965.3 728.4,964.0 728.4,962.6 728.4,961.2 728.4,959.7 728.4,958.3 728.4,956.8 728.4,955.3 728.4,953.8 728.4,952.3 728.4,950.7 728.4,949.1 728.4,947.5 728.4,945.9 728.4,944.3 728.4,942.6 728.4,940.9 728.4,939.2 728.4,937.5 728.5,935.7 728.5,933.9 728.5,932.1 728.5,930.3 728.5,928.5 728.5,926.6 728.5,924.7 728.5,922.8 728.5,920.9 728.5,918.9 728.5,916.9 728.5,914.9 728.5,912.9 728.5,910.9 728.5,908.8 728.5,906.7 728.5,904.6 728.5,902.5 728.5,900.3 728.5,898.1 728.5,895.9 728.5,893.7 728.5,891.5 728.5,889.2 728.5,886.9 728.5,884.6 728.5,882.3 728.5,879.9 728.5,877.6 728.5,875.2 728.5,873.1 728.6,872.1 728.7,871.2 728.9,870.5 729.0,869.8 729.2,869.1 729.3,868.5 729.5,867.9 729.6,867.3 729.8,866.8 729.9,866.2 730.1,865.7 730.2,865.2 730.4,864.7 730.5,864.2 730.7,863.7 730.9,863.3 731.0,862.8 731.2,862.4 731.3,861.9 731.5,861.5 731.6,861.1 731.8,860.6 732.0,860.2 732.1,859.8 732.3,859.4 732.4,859.0 732.6,858.6 732.8,858.2 732.9,857.8 733.1,857.5 733.2,857.1 733.4,856.7 733.6,856.4 733.7,856.0 733.9,855.6 734.0,855.3 734.2,854.9 734.3,854.6 734.5,854.2 734.7,853.9 736.1,850.9 737.5,848.1 739.0,845.5 740.4,843.0 741.8,840.6 743.2,838.4 744.6,836.2 746.0,834.1 747.3,832.0 748.7,830.0 750.1,828.1 751.4,826.2 752.8,824.4 754.1,822.6 755.5,820.9 756.8,819.2 758.1,817.5 759.5,815.9 760.8,814.2 762.1,812.7 763.4,811.1 764.7,809.6 766.0,808.1 767.3,806.6 768.5,805.2 769.8,803.8 771.1,802.4 772.4,801.0 773.6,799.6 774.9,798.3 776.1,796.9 777.4,795.6 778.6,794.3 779.9,793.1 781.1,791.8 782.4,790.6 783.6,789.4 784.8,788.1 786.0,786.9 787.3,785.8 788.5,784.6 789.7,783.4 790.9,782.3 792.1,781.2 793.3,780.0 794.5,778.9 795.7,777.8 796.9,776.8 798.1,775.7 799.3,774.6 800.5,773.6 801.7,772.5 802.8,771.5 804.0,770.5 805.2,769.5 806.4,768.5 807.5,767.5 808.7,766.5 809.9,765.5 811.0,764.5 812.2,763.6 813.4,762.6 814.5,761.7 815.7,760.7 816.8,759.8 818.0,758.9 819.1,758.0 820.3,757.1 821.4,756.2 822.5,755.3 823.7,754.4 824.8,753.5 825.9,752.6 827.1,751.7 828.2,750.9 829.3,750.0 830.5,749.2 831.6,748.3 832.7,747.5 833.8,746.7 834.9,745.8 836.1,745.0 837.2,744.2 838.3,743.4 839.4,742.6 840.5,741.8 841.6,741.0 842.7,740.2 843.8,739.4 844.9,738.6 846.0,737.8 847.1,737.1 848.2,736.3 849.3,735.5 850.4,734.8 851.5,734.0 852.6,733.3 853.7,732.5 854.8,731.8 855.8,731.0 856.9,730.3 858.0,729.6 859.1,728.8 860.2,728.1 861.2,727.4 862.3,726.7 863.4,726.0 864.5,725.2 865.5,724.5 866.6,723.8 867.7,723.1 868.7,722.4 869.8,721.7 870.9,721.1 871.9,720.4 873.0,719.7 874.1,719.0 875.1,718.3 876.2,717.7" fill="none" stroke="#0000ff" stroke-width="7.0" stroke-linejoin="round" stroke-linecap="round"/><polyline points="876.2,717.7 895.3,705.8 915.2,694.1 934.7,683.2 953.9,672.9 972.7,663.1 991.3,653.8 1009.6,645.0 1027.7,636.6 1045.7,628.6 1063.4,620.9 1081.0,613.5 1098.4,606.4 1115.7,599.6" fill="none" stroke="#0000ff" stroke-width="1.3"/><circle cx="895.3" cy="705.8" r="3.2" fill="#0000ff"/><circle cx="915.2" cy="694.1" r="3.2" fill="#0000ff"/><circle cx="934.7" cy="683.2" r="3.2" fill="#0000ff"/><circle cx="953.9" cy="672.9" r="3.2" fill="#0000ff"/><circle cx="972.7" cy="663.1" r="3.2" fill="#0000ff"/><circle cx="991.3" cy="653.8" r="3.2" fill="#0000ff"/><circle cx="1009.6" cy="645.0" r="3.2" fill="#0000ff"/><circle cx="1027.7" cy="636.6" r="3.2" fill="#0000ff"/><circle cx="1045.7" cy="628.6" r="3.2" fill="#0000ff"/><circle cx="1063.4" cy="620.9" r="3.2" fill="#0000ff"/><circle cx="1081.0" cy="613.5" r="3.2" fill="#0000ff"/><circle cx="1098.4" cy="606.4" r="3.2" fill="#0000ff"/><circle cx="1115.7" cy="599.6" r="3.2" fill="#0000ff"/><polyline points="728.0,1006.5 728.0,1006.5 728.1,1006.4 728.1,1006.3 728.1,1006.2 728.1,1006.1 728.1,1005.9 728.1,1005.8 728.1,1005.6 728.2,1005.4 728.2,1005.1 728.2,1004.9 728.2,1004.6 728.3,1004.3 728.3,1004.0 728.3,1003.6 728.3,1003.3 728.3,1002.9 728.3,1002.5 728.3,1002.0 728.3,1001.6 728.3,1001.1 728.4,1000.6 728.4,1000.1 728.4,999.5 728.4,999.0 728.4,998.4 728.4,997.8 728.4,997.1 728.4,996.5 728.4,995.8 728.4,995.1 728.4,994.4 728.4,993.7 728.4,992.9 728.4,992.1 728.4,991.3 728.4,990.5 728.4,989.6 728.4,988.7 728.4,987.8 728.4,986.9 728.4,986.0 728.4,985.0 728.4,984.0 728.4,983.0 728.4,982.0 728.4,981.0 728.4,979.9 728.4,978.8 728.4,977.7 728.4,976.5 728.4,975.4 728.4,974.2 728.4,973.0 728.4,971.8 728.4,970.5 728.4,969.2 728.4,967.9 728.4,966.6 728.4,965.3 728.4,963.9 728.4,962.6 728.4,961.2 728.4,959.7 728.4,958.3 728.4,956.8 728.4,955.3 728.4,953.8 728.4,952.3 728.4,950.7 728.4,949.1 728.4,947.5 728.4,945.9 728.4,944.3 728.4,942.6 728.4,940.9 728.4,939.2 728.4,937.5 728.4,935.7 728.4,933.9 728.4,932.1 728.5,930.3 728.5,928.5 728.5,926.6 728.5,924.7 728.5,922.8 728.5,920.9 728.5,918.9 728.5,916.9 728.5,914.9 728.5,912.9 728.5,910.9 728.5,908.8 728.5,906.7 728.5,904.6 728.5,902.5 728.5,900.3 728.5,898.2 728.5,896.0 728.5,893.7 728.5,891.5 728.5,889.2 728.5,886.9 728.5,884.6 728.5,882.3 728.5,880.0 728.6,878.8 728.7,877.9 728.8,877.2 729.0,876.4 729.1,875.7 729.3,875.1 729.4,874.5 729.6,873.9 729.7,873.3 729.9,872.8 730.0,872.2 730.2,871.7 730.4,871.2 730.5,870.7 730.7,870.2 730.8,869.7 731.0,869.2 731.1,868.8 731.3,868.3 731.5,867.9 731.6,867.4 731.8,867.0 731.9,866.6 732.1,866.2 732.3,865.7 732.4,865.3 732.6,864.9 732.8,864.5 732.9,864.1 733.1,863.7 733.2,863.4 733.4,863.0 733.6,862.6 733.7,862.2 733.9,861.9 734.0,861.5 734.2,861.1 734.4,860.8 734.5,860.4 734.7,860.1 734.8,859.7 735.0,859.4 735.2,859.0 736.6,856.1 738.1,853.3 739.5,850.6 740.9,848.1 742.3,845.8 743.8,843.5 745.2,841.3 746.6,839.1 748.0,837.1 749.3,835.1 750.7,833.1 752.1,831.2 753.4,829.4 754.8,827.6 756.1,825.8 757.5,824.1 758.8,822.4 760.2,820.7 761.5,819.1 762.8,817.5 764.1,815.9 765.4,814.4 766.7,812.9 768.0,811.4 769.3,809.9 770.6,808.5 771.9,807.0 773.1,805.6 774.4,804.2 775.7,802.9 776.9,801.5 778.2,800.2 779.4,798.9 780.7,797.6 781.9,796.3 783.2,795.1 784.4,793.8 785.6,792.6 786.9,791.4 788.1,790.2 789.3,789.0 790.5,787.8 791.7,786.6 793.0,785.5 794.2,784.4 795.4,783.2 796.6,782.1 797.8,781.0 799.0,779.9 800.2,778.9 801.3,777.8 802.5,776.7 803.7,775.7 804.9,774.7 806.1,773.6 807.3,772.6 808.4,771.6 809.6,770.6 810.8,769.6 811.9,768.7 813.1,767.7 814.3,766.7 815.4,765.8 816.6,764.8 817.7,763.9 818.9,762.9 820.0,762.0 821.2,761.1 822.3,760.2 823.5,759.3 824.6,758.4 825.8,757.5 826.9,756.6 828.0,755.7 829.2,754.9 830.3,754.0 831.4,753.2 832.6,752.3 833.7,751.5 834.8,750.6 835.9,749.8 837.1,749.0 838.2,748.1 839.3,747.3 840.4,746.5 841.5,745.7 842.6,744.9 843.7,744.1 844.8,743.3 845.9,742.5 847.1,741.7 848.2,741.0 849.3,740.2 850.4,739.4 851.5,738.7 852.5,737.9 853.6,737.2 854.7,736.4 855.8,735.7 856.9,734.9 858.0,734.2 859.1,733.4 860.2,732.7 861.3,732.0 862.3,731.3 863.4,730.5 864.5,729.8 865.6,729.1 866.7,728.4 867.7,727.7 868.8,727.0 869.9,726.3 870.9,725.6 872.0,724.9 873.1,724.2 874.1,723.6 875.2,722.9 876.3,722.2 877.3,721.5" fill="none" stroke="#ff00ff" stroke-width="7.0" stroke-linejoin="round" stroke-linecap="round"/><polyline points="877.3,721.5 896.5,709.7 916.5,697.9 936.0,686.9 955.2,676.6 974.2,666.8 992.8,657.5 1011.1,648.6 1029.3,640.1 1047.2,632.0 1065.0,624.3 1082.6,616.9 1100.0,609.7 1117.3,602.9" fill="none" stroke="#ff00ff" stroke-width="1.3"/><circle cx="896.5" cy="709.7" r="3.2" fill="#ff00ff"/><circle cx="916.5" cy="697.9" r="3.2" fill="#ff00ff"/><circle cx="936.0" cy="686.9" r="3.2" fill="#ff00ff"/><circle cx="955.2" cy="676.6" r="3.2" fill="#ff00ff"/><circle cx="974.2" cy="666.8" r="3.2" fill="#ff00ff"/><circle cx="992.8" cy="657.5" r="3.2" fill="#ff00ff"/><circle cx="1011.1" cy="648.6" r="3.2" fill="#ff00ff"/><circle cx="1029.3" cy="640.1" r="3.2" fill="#ff00ff"/><circle cx="1047.2" cy="632.0" r="3.2" fill="#ff00ff"/><circle cx="1065.0" cy="624.3" r="3.2" fill="#ff00ff"/><circle cx="1082.6" cy="616.9" r="3.2" fill="#ff00ff"/><circle cx="1100.0" cy="609.7" r="3.2" fill="#ff00ff"/><circle cx="1117.3" cy="602.9" r="3.2" fill="#ff00ff"/><polyline points="727.9,1006.5 727.9,1006.5 727.9,1006.4 727.9,1006.3 727.9,1006.2 727.9,1006.1 727.9,1005.9 728.0,1005.8 728.0,1005.6 728.1,1005.4 728.1,1005.1 728.1,1004.9 728.2,1004.6 728.2,1004.3 728.2,1004.0 728.2,1003.6 728.2,1003.2 728.3,1002.9 728.3,1002.4 728.3,1002.0 728.3,1001.6 728.3,1001.1 728.3,1000.6 728.3,1000.1 728.3,999.5 728.3,998.9 728.3,998.4 728.3,997.7 728.4,997.1 728.4,996.5 728.4,995.8 728.4,995.1 728.4,994.4 728.4,993.6 728.4,992.9 728.4,992.1 728.4,991.3 728.4,990.4 728.4,989.6 728.4,988.7 728.4,987.8 728.4,986.9 728.4,986.0 728.4,985.0 728.4,984.0 728.4,983.0 728.4,982.0 728.4,980.9 728.4,979.9 728.4,978.8 728.4,977.6 728.4,976.5 728.4,975.3 728.4,974.2 728.4,973.0 728.4,971.7 728.4,970.5 728.4,969.2 728.4,967.9 728.4,966.6 728.4,965.3 728.4,963.9 728.4,962.5 728.4,961.1 728.4,959.7 728.4,958.3 728.4,956.8 728.4,955.3 728.4,953.8 728.4,952.3 728.4,950.7 728.4,949.1 728.4,947.5 728.4,945.9 728.4,944.3 728.4,942.6 728.4,940.9 728.4,939.2 728.4,937.5 728.4,935.7 728.4,933.9 728.4,932.1 728.4,930.3 728.5,928.5 728.5,926.6 728.5,924.7 728.5,922.8 728.5,920.9 728.5,918.9 728.5,916.9 728.5,914.9 728.5,912.9 728.5,910.9 728.5,908.8 728.5,906.7 728.5,904.6 728.5,902.5 728.5,900.3 728.5,898.2 728.5,896.0 728.5,893.8 728.5,891.5 728.5,889.3 728.5,887.0 728.5,885.6 728.7,884.7 728.8,883.9 729.0,883.1 729.1,882.4 729.3,881.8 729.4,881.1 729.6,880.5 729.7,879.9 729.9,879.3 730.0,878.8 730.2,878.2 730.3,877.7 730.5,877.2 730.7,876.7 730.8,876.2 731.0,875.7 731.1,875.2 731.3,874.8 731.5,874.3 731.6,873.9 731.8,873.4 731.9,873.0 732.1,872.5 732.3,872.1 732.4,871.7 732.6,871.3 732.8,870.9 732.9,870.5 733.1,870.1 733.2,869.7 733.4,869.3 733.6,868.9 733.7,868.5 733.9,868.1 734.1,867.8 734.2,867.4 734.4,867.0 734.6,866.7 734.7,866.3 734.9,865.9 735.0,865.6 735.2,865.2 735.4,864.9 735.5,864.5 735.7,864.2 737.2,861.2 738.6,858.4 740.1,855.8 741.5,853.3 742.9,850.9 744.4,848.6 745.8,846.4 747.2,844.2 748.6,842.1 750.0,840.1 751.4,838.2 752.8,836.2 754.1,834.4 755.5,832.5 756.8,830.8 758.2,829.0 759.5,827.3 760.9,825.6 762.2,824.0 763.5,822.3 764.9,820.8 766.2,819.2 767.5,817.7 768.8,816.1 770.1,814.6 771.4,813.2 772.6,811.7 773.9,810.3 775.2,808.9 776.5,807.5 777.7,806.1 779.0,804.8 780.2,803.4 781.5,802.1 782.7,800.8 784.0,799.5 785.2,798.3 786.5,797.0 787.7,795.8 788.9,794.6 790.2,793.4 791.4,792.2 792.6,791.0 793.8,789.8 795.0,788.7 796.2,787.6 797.4,786.4 798.7,785.3 799.9,784.2 801.0,783.1 802.2,782.0 803.4,781.0 804.6,779.9 805.8,778.9 807.0,777.8 808.2,776.8 809.4,775.8 810.5,774.8 811.7,773.8 812.9,772.8 814.0,771.8 815.2,770.8 816.4,769.9 817.5,768.9 818.7,768.0 819.9,767.0 821.0,766.1 822.2,765.2 823.3,764.2 824.5,763.3 825.6,762.4 826.7,761.5 827.9,760.6 829.0,759.8 830.2,758.9 831.3,758.0 832.4,757.2 833.6,756.3 834.7,755.4 835.8,754.6 836.9,753.8 838.1,752.9 839.2,752.1 840.3,751.3 841.4,750.5 842.6,749.7 843.7,748.8 844.8,748.0 845.9,747.3 847.0,746.5 848.1,745.7 849.2,744.9 850.3,744.1 851.4,743.4 852.5,742.6 853.6,741.8 854.7,741.1 855.8,740.3 856.9,739.6 858.0,738.8 859.1,738.1 860.2,737.3 861.3,736.6 862.4,735.9 863.5,735.2 864.5,734.4 865.6,733.7 866.7,733.0 867.8,732.3 868.9,731.6 869.9,730.9 871.0,730.2 872.1,729.5 873.2,728.8 874.2,728.1 875.3,727.4 876.4,726.7 877.4,726.1 878.5,725.4" fill="none" stroke="#008000" stroke-width="7.0" stroke-linejoin="round" stroke-linecap="round"/><polyline points="878.5,725.4 897.7,713.5 917.8,701.7 937.4,690.7 956.7,680.3 975.6,670.5 994.3,661.1 1012.7,652.2 1030.9,643.7 1048.8,635.5 1066.6,627.7 1084.2,620.2 1101.7,613.1 1119.0,606.2" fill="none" stroke="#008000" stroke-width="1.3"/><circle cx="897.7" cy="713.5" r="3.2" fill="#008000"/><circle cx="917.8" cy="701.7" r="3.2" fill="#008000"/><circle cx="937.4" cy="690.7" r="3.2" fill="#008000"/><circle cx="956.7" cy="680.3" r="3.2" fill="#008000"/><circle cx="975.6" cy="670.5" r="3.2" fill="#008000"/><circle cx="994.3" cy="661.1" r="3.2" fill="#008000"/><circle cx="1012.7" cy="652.2" r="3.2" fill="#008000"/><circle cx="1030.9" cy="643.7" r="3.2" fill="#008000"/><circle cx="1048.8" cy="635.5" r="3.2" fill="#008000"/><circle cx="1066.6" cy="627.7" r="3.2" fill="#008000"/><circle cx="1084.2" cy="620.2" r="3.2" fill="#008000"/><circle cx="1101.7" cy="613.1" r="3.2" fill="#008000"/><circle cx="1119.0" cy="606.2" r="3.2" fill="#008000"/><polyline points="727.7,1006.5 727.7,1006.5 727.7,1006.4 727.8,1006.3 727.8,1006.2 727.8,1006.1 727.8,1005.9 727.8,1005.8 727.9,1005.6 728.0,1005.3 728.0,1005.1 728.0,1004.8 728.1,1004.6 728.1,1004.3 728.1,1003.9 728.2,1003.6 728.2,1003.2 728.2,1002.8 728.2,1002.4 728.2,1002.0 728.2,1001.5 728.3,1001.1 728.3,1000.6 728.3,1000.0 728.3,999.5 728.3,998.9 728.3,998.3 728.3,997.7 728.3,997.1 728.3,996.4 728.3,995.8 728.3,995.1 728.3,994.3 728.3,993.6 728.4,992.8 728.4,992.0 728.4,991.2 728.4,990.4 728.4,989.6 728.4,988.7 728.4,987.8 728.4,986.9 728.4,985.9 728.4,985.0 728.4,984.0 728.4,983.0 728.4,981.9 728.4,980.9 728.4,979.8 728.4,978.7 728.4,977.6 728.4,976.5 728.4,975.3 728.4,974.1 728.4,972.9 728.4,971.7 728.4,970.5 728.4,969.2 728.4,967.9 728.4,966.6 728.4,965.2 728.4,963.9 728.4,962.5 728.4,961.1 728.4,959.7 728.4,958.2 728.4,956.8 728.4,955.3 728.4,953.8 728.4,952.2 728.4,950.7 728.4,949.1 728.4,947.5 728.4,945.9 728.4,944.2 728.4,942.6 728.4,940.9 728.4,939.2 728.4,937.4 728.4,935.7 728.4,933.9 728.4,932.1 728.4,930.3 728.4,928.5 728.5,926.6 728.5,924.7 728.5,922.8 728.5,920.9 728.5,918.9 728.5,916.9 728.5,914.9 728.5,912.9 728.5,910.9 728.5,908.8 728.5,906.7 728.5,904.6 728.5,902.5 728.5,900.4 728.5,898.2 728.5,896.0 728.5,893.8 728.5,892.4 728.7,891.5 728.8,890.6 729.0,889.9 729.1,889.1 729.3,888.5 729.4,887.8 729.6,887.2 729.7,886.6 729.9,886.0 730.0,885.4 730.2,884.9 730.3,884.3 730.5,883.8 730.7,883.3 730.8,882.8 731.0,882.3 731.2,881.8 731.3,881.3 731.5,880.8 731.6,880.4 731.8,879.9 732.0,879.4 732.1,879.0 732.3,878.6 732.5,878.1 732.6,877.7 732.8,877.3 733.0,876.9 733.1,876.5 733.3,876.1 733.5,875.7 733.6,875.3 733.8,874.9 733.9,874.5 734.1,874.1 734.3,873.7 734.4,873.3 734.6,873.0 734.8,872.6 734.9,872.2 735.1,871.9 735.3,871.5 735.4,871.2 735.6,870.8 735.8,870.4 735.9,870.1 736.1,869.8 736.2,869.4 737.7,866.4 739.2,863.6 740.7,861.0 742.1,858.5 743.6,856.1 745.0,853.7 746.4,851.5 747.9,849.3 749.3,847.2 750.7,845.2 752.1,843.2 753.5,841.3 754.8,839.4 756.2,837.5 757.6,835.7 758.9,834.0 760.3,832.2 761.6,830.5 763.0,828.9 764.3,827.2 765.6,825.6 767.0,824.0 768.3,822.4 769.6,820.9 770.9,819.4 772.2,817.9 773.5,816.4 774.7,815.0 776.0,813.5 777.3,812.1 778.6,810.7 779.8,809.4 781.1,808.0 782.4,806.7 783.6,805.4 784.9,804.1 786.1,802.8 787.3,801.5 788.6,800.3 789.8,799.0 791.0,797.8 792.3,796.6 793.5,795.4 794.7,794.2 795.9,793.0 797.1,791.9 798.4,790.7 799.6,789.6 800.8,788.5 802.0,787.4 803.2,786.3 804.4,785.2 805.6,784.1 806.7,783.1 807.9,782.0 809.1,781.0 810.3,780.0 811.5,778.9 812.7,777.9 813.8,776.9 815.0,775.9 816.2,775.0 817.3,774.0 818.5,773.0 819.7,772.1 820.8,771.1 822.0,770.2 823.1,769.2 824.3,768.3 825.5,767.4 826.6,766.5 827.8,765.6 828.9,764.7 830.0,763.8 831.2,762.9 832.3,762.0 833.5,761.2 834.6,760.3 835.7,759.4 836.9,758.6 838.0,757.7 839.1,756.9 840.2,756.1 841.4,755.2 842.5,754.4 843.6,753.6 844.7,752.8 845.9,752.0 847.0,751.2 848.1,750.4 849.2,749.6 850.3,748.8 851.4,748.1 852.5,747.3 853.6,746.5 854.7,745.7 855.8,745.0 856.9,744.2 858.0,743.5 859.1,742.7 860.2,742.0 861.3,741.3 862.4,740.5 863.5,739.8 864.6,739.1 865.7,738.3 866.8,737.6 867.9,736.9 868.9,736.2 870.0,735.5 871.1,734.8 872.2,734.1 873.3,733.4 874.3,732.7 875.4,732.0 876.5,731.3 877.6,730.6 878.6,729.9 879.7,729.3" fill="none" stroke="#000080" stroke-width="7.0" stroke-linejoin="round" stroke-linecap="round"/><polyline points="879.7,729.3 899.0,717.3 919.1,705.5 938.8,694.4 958.1,684.0 977.1,674.1 995.8,664.7 1014.2,655.8 1032.4,647.2 1050.4,639.0 1068.2,631.1 1085.9,623.6 1103.4,616.4 1120.7,609.5" fill="none" stroke="#000080" stroke-width="1.3"/><circle cx="899.0" cy="717.3" r="3.2" fill="#000080"/><circle cx="919.1" cy="705.5" r="3.2" fill="#000080"/><circle cx="938.8" cy="694.4" r="3.2" fill="#000080"/><circle cx="958.1" cy="684.0" r="3.2" fill="#000080"/><circle cx="977.1" cy="674.1" r="3.2" fill="#000080"/><circle cx="995.8" cy="664.7" r="3.2" fill="#000080"/><circle cx="1014.2" cy="655.8" r="3.2" fill="#000080"/><circle cx="1032.4" cy="647.2" r="3.2" fill="#000080"/><circle cx="1050.4" cy="639.0" r="3.2" fill="#000080"/><circle cx="1068.2" cy="631.1" r="3.2" fill="#000080"/><circle cx="1085.9" cy="623.6" r="3.2" fill="#000080"/><circle cx="1103.4" cy="616.4" r="3.2" fill="#000080"/><circle cx="1120.7" cy="609.5" r="3.2" fill="#000080"/><polyline points="727.6,1006.5 727.6,1006.5 727.6,1006.4 727.6,1006.3 727.6,1006.2 727.6,1006.1 727.6,1005.9 727.7,1005.7 727.8,1005.5 727.9,1005.3 727.9,1005.1 728.0,1004.8 728.0,1004.6 728.0,1004.3 728.1,1003.9 728.1,1003.6 728.1,1003.2 728.1,1002.8 728.2,1002.4 728.2,1002.0 728.2,1001.5 728.2,1001.0 728.2,1000.5 728.2,1000.0 728.3,999.5 728.3,998.9 728.3,998.3 728.3,997.7 728.3,997.1 728.3,996.4 728.3,995.7 728.3,995.0 728.3,994.3 728.3,993.6 728.3,992.8 728.3,992.0 728.3,991.2 728.3,990.4 728.4,989.5 728.4,988.7 728.4,987.8 728.4,986.8 728.4,985.9 728.4,984.9 728.4,984.0 728.4,982.9 728.4,981.9 728.4,980.9 728.4,979.8 728.4,978.7 728.4,977.6 728.4,976.5 728.4,975.3 728.4,974.1 728.4,972.9 728.4,971.7 728.4,970.4 728.4,969.2 728.4,967.9 728.4,966.6 728.4,965.2 728.4,963.9 728.4,962.5 728.4,961.1 728.4,959.7 728.4,958.2 728.4,956.8 728.4,955.3 728.4,953.8 728.4,952.2 728.4,950.7 728.4,949.1 728.4,947.5 728.4,945.9 728.4,944.2 728.4,942.6 728.4,940.9 728.4,939.2 728.4,937.4 728.4,935.7 728.4,933.9 728.4,932.1 728.4,930.3 728.4,928.5 728.4,926.6 728.5,924.7 728.5,922.8 728.5,920.9 728.5,918.9 728.5,916.9 728.5,915.0 728.5,912.9 728.5,910.9 728.5,908.8 728.5,906.8 728.5,904.6 728.5,902.5 728.5,900.4 728.6,899.2 728.7,898.3 728.8,897.4 729.0,896.7 729.1,895.9 729.3,895.2 729.4,894.5 729.6,893.9 729.7,893.3 729.9,892.7 730.1,892.1 730.2,891.5 730.4,891.0 730.5,890.4 730.7,889.9 730.9,889.4 731.0,888.9 731.2,888.4 731.4,887.9 731.5,887.4 731.7,886.9 731.9,886.4 732.0,886.0 732.2,885.5 732.4,885.1 732.5,884.6 732.7,884.2 732.9,883.8 733.0,883.3 733.2,882.9 733.4,882.5 733.5,882.1 733.7,881.7 733.9,881.3 734.0,880.9 734.2,880.5 734.3,880.1 734.5,879.7 734.7,879.3 734.8,878.9 735.0,878.6 735.2,878.2 735.3,877.8 735.5,877.5 735.7,877.1 735.8,876.7 736.0,876.4 736.2,876.0 736.3,875.7 736.5,875.3 736.7,875.0 736.8,874.7 738.3,871.7 739.8,868.9 741.3,866.2 742.8,863.7 744.2,861.2 745.7,858.9 747.1,856.6 748.6,854.5 750.0,852.3 751.4,850.3 752.8,848.3 754.2,846.3 755.6,844.4 757.0,842.6 758.4,840.7 759.7,838.9 761.1,837.2 762.4,835.5 763.8,833.8 765.1,832.1 766.5,830.5 767.8,828.8 769.1,827.3 770.4,825.7 771.7,824.2 773.0,822.6 774.3,821.1 775.6,819.7 776.9,818.2 778.2,816.8 779.4,815.4 780.7,814.0 782.0,812.6 783.2,811.2 784.5,809.9 785.8,808.6 787.0,807.3 788.2,806.0 789.5,804.7 790.7,803.5 792.0,802.2 793.2,801.0 794.4,799.8 795.6,798.6 796.9,797.4 798.1,796.2 799.3,795.1 800.5,793.9 801.7,792.8 802.9,791.7 804.1,790.6 805.3,789.5 806.5,788.4 807.7,787.3 808.9,786.3 810.1,785.2 811.3,784.2 812.5,783.1 813.6,782.1 814.8,781.1 816.0,780.1 817.2,779.1 818.3,778.1 819.5,777.1 820.7,776.2 821.8,775.2 823.0,774.3 824.2,773.3 825.3,772.4 826.5,771.5 827.6,770.5 828.8,769.6 829.9,768.7 831.1,767.8 832.2,766.9 833.4,766.1 834.5,765.2 835.7,764.3 836.8,763.4 837.9,762.6 839.1,761.7 840.2,760.9 841.3,760.1 842.5,759.2 843.6,758.4 844.7,757.6 845.8,756.8 847.0,756.0 848.1,755.2 849.2,754.4 850.3,753.6 851.4,752.8 852.5,752.0 853.6,751.2 854.8,750.4 855.9,749.7 857.0,748.9 858.1,748.2 859.2,747.4 860.3,746.7 861.4,745.9 862.5,745.2 863.6,744.4 864.7,743.7 865.8,743.0 866.9,742.2 868.0,741.5 869.0,740.8 870.1,740.1 871.2,739.4 872.3,738.7 873.4,738.0 874.5,737.3 875.6,736.6 876.6,735.9 877.7,735.2 878.8,734.5 879.9,733.8 880.9,733.1" fill="none" stroke="#8000ff" stroke-width="7.0" stroke-linejoin="round" stroke-linecap="round"/><polyline points="880.9,733.1 900.3,721.2 920.5,709.3 940.2,698.2 959.6,687.7 978.6,677.8 997.4,668.4 1015.8,659.3 1034.1,650.7 1052.1,642.5 1069.9,634.5 1087.6,627.0 1105.1,619.7 1122.4,612.7" fill="none" stroke="#8000ff" stroke-width="1.3"/><circle cx="900.3" cy="721.2" r="3.2" fill="#8000ff"/><circle cx="920.5" cy="709.3" r="3.2" fill="#8000ff"/><circle cx="940.2" cy="698.2" r="3.2" fill="#8000ff"/><circle cx="959.6" cy="687.7" r="3.2" fill="#8000ff"/><circle cx="978.6" cy="677.8" r="3.2" fill="#8000ff"/><circle cx="997.4" cy="668.4" r="3.2" fill="#8000ff"/><circle cx="1015.8" cy="659.3" r="3.2" fill="#8000ff"/><circle cx="1034.1" cy="650.7" r="3.2" fill="#8000ff"/><circle cx="1052.1" cy="642.5" r="3.2" fill="#8000ff"/><circle cx="1069.9" cy="634.5" r="3.2" fill="#8000ff"/><circle cx="1087.6" cy="627.0" r="3.2" fill="#8000ff"/><circle cx="1105.1" cy="619.7" r="3.2" fill="#8000ff"/><circle cx="1122.4" cy="612.7" r="3.2" fill="#8000ff"/><polyline points="727.4,1006.5 727.4,1006.5 727.4,1006.4 727.5,1006.3 727.5,1006.2 727.5,1006.1 727.5,1005.9 727.6,1005.7 727.7,1005.5 727.7,1005.3 727.8,1005.1 727.9,1004.8 727.9,1004.5 728.0,1004.2 728.0,1003.9 728.0,1003.6 728.1,1003.2 728.1,1002.8 728.1,1002.4 728.1,1001.9 728.2,1001.5 728.2,1001.0 728.2,1000.5 728.2,1000.0 728.2,999.4 728.2,998.9 728.2,998.3 728.3,997.7 728.3,997.0 728.3,996.4 728.3,995.7 728.3,995.0 728.3,994.3 728.3,993.5 728.3,992.8 728.3,992.0 728.3,991.2 728.3,990.4 728.3,989.5 728.3,988.6 728.3,987.7 728.4,986.8 728.4,985.9 728.4,984.9 728.4,983.9 728.4,982.9 728.4,981.9 728.4,980.8 728.4,979.8 728.4,978.7 728.4,977.6 728.4,976.4 728.4,975.3 728.4,974.1 728.4,972.9 728.4,971.7 728.4,970.4 728.4,969.1 728.4,967.8 728.4,966.5 728.4,965.2 728.4,963.8 728.4,962.5 728.4,961.1 728.4,959.6 728.4,958.2 728.4,956.7 728.4,955.2 728.4,953.7 728.4,952.2 728.4,950.6 728.4,949.1 728.4,947.5 728.4,945.9 728.4,944.2 728.4,942.5 728.4,940.9 728.4,939.2 728.4,937.4 728.4,935.7 728.4,933.9 728.4,932.1 728.4,930.3 728.4,928.4 728.4,926.6 728.5,924.7 728.5,922.8 728.5,920.9 728.5,918.9 728.5,916.9 728.5,915.0 728.5,912.9 728.5,910.9 728.5,908.8 728.5,907.1 728.6,906.0 728.7,905.1 728.9,904.2 729.0,903.5 729.2,902.7 729.3,902.0 729.5,901.3 729.6,900.7 729.8,900.0 730.0,899.4 730.1,898.8 730.3,898.2 730.4,897.7 730.6,897.1 730.8,896.6 730.9,896.0 731.1,895.5 731.3,895.0 731.4,894.5 731.6,894.0 731.8,893.5 731.9,893.0 732.1,892.6 732.3,892.1 732.4,891.6 732.6,891.2 732.8,890.7 732.9,890.3 733.1,889.8 733.3,889.4 733.4,889.0 733.6,888.6 733.8,888.2 733.9,887.7 734.1,887.3 734.3,886.9 734.5,886.5 734.6,886.1 734.8,885.7 735.0,885.4 735.1,885.0 735.3,884.6 735.5,884.2 735.6,883.8 735.8,883.5 736.0,883.1 736.1,882.7 736.3,882.4 736.5,882.0 736.6,881.7 736.8,881.3 737.0,881.0 737.1,880.6 737.3,880.3 737.5,879.9 739.0,876.9 740.5,874.1 742.0,871.4 743.5,868.9 744.9,866.4 746.4,864.1 747.9,861.8 749.3,859.6 750.7,857.5 752.2,855.4 753.6,853.4 755.0,851.4 756.4,849.5 757.8,847.6 759.2,845.7 760.5,843.9 761.9,842.1 763.3,840.4 764.6,838.7 766.0,837.0 767.3,835.3 768.6,833.7 770.0,832.1 771.3,830.5 772.6,828.9 773.9,827.4 775.2,825.9 776.5,824.4 777.8,822.9 779.1,821.5 780.4,820.0 781.6,818.6 782.9,817.2 784.2,815.8 785.4,814.5 786.7,813.1 787.9,811.8 789.2,810.5 790.4,809.2 791.7,807.9 792.9,806.7 794.1,805.4 795.4,804.2 796.6,803.0 797.8,801.8 799.1,800.6 800.3,799.4 801.5,798.3 802.7,797.1 803.9,796.0 805.1,794.9 806.3,793.7 807.5,792.6 808.7,791.6 809.9,790.5 811.1,789.4 812.3,788.4 813.5,787.3 814.7,786.3 815.8,785.3 817.0,784.3 818.2,783.2 819.4,782.3 820.6,781.3 821.7,780.3 822.9,779.3 824.1,778.4 825.2,777.4 826.4,776.5 827.5,775.5 828.7,774.6 829.9,773.7 831.0,772.8 832.2,771.9 833.3,771.0 834.5,770.1 835.6,769.2 836.7,768.3 837.9,767.5 839.0,766.6 840.2,765.7 841.3,764.9 842.4,764.1 843.6,763.2 844.7,762.4 845.8,761.6 847.0,760.7 848.1,759.9 849.2,759.1 850.3,758.3 851.5,757.5 852.6,756.7 853.7,756.0 854.8,755.2 855.9,754.4 857.0,753.6 858.1,752.9 859.3,752.1 860.4,751.3 861.5,750.6 862.6,749.8 863.7,749.1 864.8,748.4 865.9,747.6 867.0,746.9 868.1,746.2 869.2,745.4 870.3,744.7 871.4,744.0 872.4,743.3 873.5,742.6 874.6,741.9 875.7,741.2 876.8,740.5 877.9,739.8 879.0,739.1 880.0,738.4 881.1,737.7 882.2,737.0" fill="none" stroke="#800080" stroke-width="7.0" stroke-linejoin="round" stroke-linecap="round"/><polyline points="882.2,737.0 901.6,725.0 921.8,713.1 941.7,702.0 961.1,691.5 980.2,681.5 998.9,672.0 1017.4,662.9 1035.7,654.3 1053.7,645.9 1071.6,638.0 1089.3,630.3 1106.8,623.0 1124.2,616.0" fill="none" stroke="#800080" stroke-width="1.3"/><circle cx="901.6" cy="725.0" r="3.2" fill="#800080"/><circle cx="921.8" cy="713.1" r="3.2" fill="#800080"/><circle cx="941.7" cy="702.0" r="3.2" fill="#800080"/><circle cx="961.1" cy="691.5" r="3.2" fill="#800080"/><circle cx="980.2" cy="681.5" r="3.2" fill="#800080"/><circle cx="998.9" cy="672.0" r="3.2" fill="#800080"/><circle cx="1017.4" cy="662.9" r="3.2" fill="#800080"/><circle cx="1035.7" cy="654.3" r="3.2" fill="#800080"/><circle cx="1053.7" cy="645.9" r="3.2" fill="#800080"/><circle cx="1071.6" cy="638.0" r="3.2" fill="#800080"/><circle cx="1089.3" cy="630.3" r="3.2" fill="#800080"/><circle cx="1106.8" cy="623.0" r="3.2" fill="#800080"/><circle cx="1124.2" cy="616.0" r="3.2" fill="#800080"/><polyline points="727.3,1006.5 727.3,1006.5 727.3,1006.4 727.3,1006.3 727.3,1006.2 727.3,1006.1 727.3,1005.9 727.4,1005.7 727.5,1005.5 727.6,1005.3 727.7,1005.1 727.8,1004.8 727.8,1004.5 727.9,1004.2 727.9,1003.9 728.0,1003.5 728.0,1003.2 728.0,1002.8 728.1,1002.4 728.1,1001.9 728.1,1001.5 728.1,1001.0 728.1,1000.5 728.2,1000.0 728.2,999.4 728.2,998.9 728.2,998.3 728.2,997.6 728.2,997.0 728.2,996.4 728.3,995.7 728.3,995.0 728.3,994.3 728.3,993.5 728.3,992.8 728.3,992.0 728.3,991.2 728.3,990.3 728.3,989.5 728.3,988.6 728.3,987.7 728.3,986.8 728.3,985.8 728.3,984.9 728.3,983.9 728.4,982.9 728.4,981.9 728.4,980.8 728.4,979.7 728.4,978.7 728.4,977.5 728.4,976.4 728.4,975.2 728.4,974.1 728.4,972.9 728.4,971.6 728.4,970.4 728.4,969.1 728.4,967.8 728.4,966.5 728.4,965.2 728.4,963.8 728.4,962.4 728.4,961.0 728.4,959.6 728.4,958.2 728.4,956.7 728.4,955.2 728.4,953.7 728.4,952.2 728.4,950.6 728.4,949.1 728.4,947.5 728.4,945.8 728.4,944.2 728.4,942.5 728.4,940.9 728.4,939.1 728.4,937.4 728.4,935.7 728.4,933.9 728.4,932.1 728.4,930.3 728.4,928.4 728.4,926.6 728.5,924.7 728.5,922.8 728.5,920.9 728.5,918.9 728.5,917.0 728.5,915.0 728.6,913.8 728.7,912.8 728.8,911.9 729.0,911.1 729.1,910.3 729.3,909.6 729.4,908.8 729.6,908.2 729.7,907.5 729.9,906.8 730.0,906.2 730.2,905.6 730.4,905.0 730.5,904.4 730.7,903.9 730.9,903.3 731.0,902.8 731.2,902.2 731.4,901.7 731.5,901.2 731.7,900.7 731.9,900.2 732.0,899.7 732.2,899.2 732.4,898.7 732.6,898.3 732.7,897.8 732.9,897.3 733.1,896.9 733.2,896.4 733.4,896.0 733.6,895.5 733.7,895.1 733.9,894.7 734.1,894.3 734.3,893.8 734.4,893.4 734.6,893.0 734.8,892.6 734.9,892.2 735.1,891.8 735.3,891.4 735.4,891.0 735.6,890.6 735.8,890.3 736.0,889.9 736.1,889.5 736.3,889.1 736.5,888.8 736.6,888.4 736.8,888.0 737.0,887.7 737.1,887.3 737.3,887.0 737.5,886.6 737.7,886.3 737.8,885.9 738.0,885.6 738.2,885.2 739.7,882.2 741.2,879.4 742.7,876.7 744.2,874.1 745.7,871.7 747.2,869.3 748.6,867.0 750.1,864.8 751.5,862.6 753.0,860.5 754.4,858.5 755.8,856.5 757.2,854.5 758.6,852.6 760.0,850.7 761.4,848.9 762.8,847.1 764.1,845.3 765.5,843.6 766.9,841.9 768.2,840.2 769.5,838.6 770.9,836.9 772.2,835.3 773.5,833.7 774.8,832.2 776.1,830.6 777.4,829.1 778.7,827.6 780.0,826.1 781.3,824.7 782.6,823.2 783.9,821.8 785.1,820.4 786.4,819.0 787.6,817.7 788.9,816.3 790.2,815.0 791.4,813.7 792.7,812.4 793.9,811.1 795.1,809.9 796.4,808.6 797.6,807.4 798.8,806.2 800.1,805.0 801.3,803.8 802.5,802.6 803.7,801.4 804.9,800.3 806.1,799.2 807.3,798.0 808.5,796.9 809.7,795.8 810.9,794.7 812.1,793.7 813.3,792.6 814.5,791.5 815.7,790.5 816.9,789.5 818.1,788.4 819.3,787.4 820.4,786.4 821.6,785.4 822.8,784.4 824.0,783.4 825.1,782.5 826.3,781.5 827.5,780.6 828.6,779.6 829.8,778.7 831.0,777.8 832.1,776.8 833.3,775.9 834.4,775.0 835.6,774.1 836.7,773.2 837.9,772.4 839.0,771.5 840.2,770.6 841.3,769.8 842.4,768.9 843.6,768.1 844.7,767.2 845.9,766.4 847.0,765.6 848.1,764.7 849.2,763.9 850.4,763.1 851.5,762.3 852.6,761.5 853.8,760.7 854.9,759.9 856.0,759.1 857.1,758.4 858.2,757.6 859.3,756.8 860.5,756.0 861.6,755.3 862.7,754.5 863.8,753.8 864.9,753.0 866.0,752.3 867.1,751.6 868.2,750.8 869.3,750.1 870.4,749.4 871.5,748.6 872.6,747.9 873.7,747.2 874.8,746.5 875.9,745.8 877.0,745.1 878.1,744.4 879.1,743.7 880.2,743.0 881.3,742.3 882.4,741.6 883.5,740.9" fill="none" stroke="#800000" stroke-width="7.0" stroke-linejoin="round" stroke-linecap="round"/><polyline points="883.5,740.9 903.0,728.9 923.3,717.0 943.1,705.8 962.6,695.2 981.7,685.2 1000.5,675.6 1019.1,666.5 1037.4,657.8 1055.4,649.4 1073.3,641.4 1091.0,633.7 1108.5,626.3 1126.0,619.3" fill="none" stroke="#800000" stroke-width="1.3"/><circle cx="903.0" cy="728.9" r="3.2" fill="#800000"/><circle cx="923.3" cy="717.0" r="3.2" fill="#800000"/><circle cx="943.1" cy="705.8" r="3.2" fill="#800000"/><circle cx="962.6" cy="695.2" r="3.2" fill="#800000"/><circle cx="981.7" cy="685.2" r="3.2" fill="#800000"/><circle cx="1000.5" cy="675.6" r="3.2" fill="#800000"/><circle cx="1019.1" cy="666.5" r="3.2" fill="#800000"/><circle cx="1037.4" cy="657.8" r="3.2" fill="#800000"/><circle cx="1055.4" cy="649.4" r="3.2" fill="#800000"/><circle cx="1073.3" cy="641.4" r="3.2" fill="#800000"/><circle cx="1091.0" cy="633.7" r="3.2" fill="#800000"/><circle cx="1108.5" cy="626.3" r="3.2" fill="#800000"/><circle cx="1126.0" cy="619.3" r="3.2" fill="#800000"/><polyline points="727.1,1006.5 727.1,1006.5 727.1,1006.4 727.2,1006.3 727.2,1006.2 727.2,1006.1 727.2,1005.9 727.3,1005.7 727.4,1005.5 727.5,1005.3 727.6,1005.1 727.7,1004.8 727.8,1004.5 727.8,1004.2 727.9,1003.9 727.9,1003.5 728.0,1003.2 728.0,1002.8 728.0,1002.3 728.0,1001.9 728.1,1001.5 728.1,1001.0 728.1,1000.5 728.1,999.9 728.1,999.4 728.2,998.8 728.2,998.2 728.2,997.6 728.2,997.0 728.2,996.3 728.2,995.7 728.2,995.0 728.2,994.2 728.3,993.5 728.3,992.7 728.3,991.9 728.3,991.1 728.3,990.3 728.3,989.4 728.3,988.6 728.3,987.7 728.3,986.8 728.3,985.8 728.3,984.9 728.3,983.9 728.3,982.9 728.3,981.8 728.4,980.8 728.4,979.7 728.4,978.6 728.4,977.5 728.4,976.4 728.4,975.2 728.4,974.0 728.4,972.8 728.4,971.6 728.4,970.4 728.4,969.1 728.4,967.8 728.4,966.5 728.4,965.2 728.4,963.8 728.4,962.4 728.4,961.0 728.4,959.6 728.4,958.2 728.4,956.7 728.4,955.2 728.4,953.7 728.4,952.2 728.4,950.6 728.4,949.0 728.4,947.4 728.4,945.8 728.4,944.2 728.4,942.5 728.4,940.8 728.4,939.1 728.4,937.4 728.4,935.7 728.4,933.9 728.4,932.1 728.4,930.3 728.4,928.4 728.4,926.6 728.5,924.7 728.5,922.8 728.5,921.5 728.7,920.5 728.8,919.6 728.9,918.7 729.1,917.9 729.2,917.2 729.4,916.4 729.5,915.7 729.7,915.0 729.9,914.3 730.0,913.7 730.2,913.1 730.3,912.4 730.5,911.8 730.7,911.2 730.8,910.7 731.0,910.1 731.2,909.5 731.3,909.0 731.5,908.5 731.7,907.9 731.9,907.4 732.0,906.9 732.2,906.4 732.4,905.9 732.5,905.4 732.7,904.9 732.9,904.4 733.0,904.0 733.2,903.5 733.4,903.1 733.6,902.6 733.7,902.2 733.9,901.7 734.1,901.3 734.3,900.8 734.4,900.4 734.6,900.0 734.8,899.6 734.9,899.2 735.1,898.7 735.3,898.3 735.5,897.9 735.6,897.5 735.8,897.1 736.0,896.7 736.1,896.4 736.3,896.0 736.5,895.6 736.7,895.2 736.8,894.8 737.0,894.5 737.2,894.1 737.3,893.7 737.5,893.4 737.7,893.0 737.9,892.6 738.0,892.3 738.2,891.9 738.4,891.6 738.5,891.2 738.7,890.9 738.9,890.5 740.4,887.5 742.0,884.7 743.5,882.0 745.0,879.4 746.5,876.9 748.0,874.5 749.4,872.2 750.9,870.0 752.4,867.8 753.8,865.7 755.3,863.6 756.7,861.6 758.1,859.6 759.5,857.7 760.9,855.8 762.3,853.9 763.7,852.1 765.1,850.3 766.4,848.5 767.8,846.8 769.1,845.1 770.5,843.4 771.8,841.8 773.1,840.1 774.5,838.5 775.8,837.0 777.1,835.4 778.4,833.8 779.7,832.3 781.0,830.8 782.3,829.3 783.6,827.9 784.8,826.4 786.1,825.0 787.4,823.6 788.7,822.2 789.9,820.9 791.2,819.5 792.4,818.2 793.7,816.9 794.9,815.6 796.2,814.3 797.4,813.0 798.6,811.8 799.9,810.6 801.1,809.3 802.3,808.1 803.5,807.0 804.8,805.8 806.0,804.6 807.2,803.5 808.4,802.3 809.6,801.2 810.8,800.1 812.0,799.0 813.2,797.9 814.4,796.8 815.6,795.8 816.8,794.7 818.0,793.7 819.2,792.6 820.4,791.6 821.5,790.6 822.7,789.6 823.9,788.6 825.1,787.6 826.3,786.6 827.4,785.6 828.6,784.7 829.8,783.7 830.9,782.8 832.1,781.9 833.2,780.9 834.4,780.0 835.6,779.1 836.7,778.2 837.9,777.3 839.0,776.4 840.2,775.5 841.3,774.7 842.5,773.8 843.6,772.9 844.8,772.1 845.9,771.2 847.0,770.4 848.2,769.6 849.3,768.7 850.4,767.9 851.6,767.1 852.7,766.3 853.8,765.5 855.0,764.7 856.1,763.9 857.2,763.1 858.3,762.3 859.5,761.5 860.6,760.8 861.7,760.0 862.8,759.2 863.9,758.5 865.0,757.7 866.1,757.0 867.3,756.2 868.4,755.5 869.5,754.8 870.6,754.0 871.7,753.3 872.8,752.6 873.9,751.8 875.0,751.1 876.1,750.4 877.2,749.7 878.3,749.0 879.4,748.3 880.4,747.6 881.5,746.9 882.6,746.2 883.7,745.5 884.8,744.8" fill="none" stroke="#808000" stroke-width="7.0" stroke-linejoin="round" stroke-linecap="round"/><polyline points="884.8,744.8 904.4,732.8 924.7,720.8 944.6,709.6 964.2,699.0 983.3,688.9 1002.2,679.3 1020.8,670.1 1039.1,661.3 1057.2,652.9 1075.0,644.8 1092.8,637.1 1110.3,629.7 1127.8,622.6" fill="none" stroke="#808000" stroke-width="1.3"/><circle cx="904.4" cy="732.8" r="3.2" fill="#808000"/><circle cx="924.7" cy="720.8" r="3.2" fill="#808000"/><circle cx="944.6" cy="709.6" r="3.2" fill="#808000"/><circle cx="964.2" cy="699.0" r="3.2" fill="#808000"/><circle cx="983.3" cy="688.9" r="3.2" fill="#808000"/><circle cx="1002.2" cy="679.3" r="3.2" fill="#808000"/><circle cx="1020.8" cy="670.1" r="3.2" fill="#808000"/><circle cx="1039.1" cy="661.3" r="3.2" fill="#808000"/><circle cx="1057.2" cy="652.9" r="3.2" fill="#808000"/><circle cx="1075.0" cy="644.8" r="3.2" fill="#808000"/><circle cx="1092.8" cy="637.1" r="3.2" fill="#808000"/><circle cx="1110.3" cy="629.7" r="3.2" fill="#808000"/><circle cx="1127.8" cy="622.6" r="3.2" fill="#808000"/><polyline points="727.0,1006.5 727.0,1006.4 727.0,1006.4 727.0,1006.3 727.0,1006.2 727.0,1006.0 727.1,1005.9 727.2,1005.7 727.3,1005.5 727.4,1005.3 727.5,1005.0 727.6,1004.8 727.7,1004.5 727.7,1004.2 727.8,1003.9 727.9,1003.5 727.9,1003.1 727.9,1002.7 728.0,1002.3 728.0,1001.9 728.0,1001.4 728.0,1000.9 728.1,1000.4 728.1,999.9 728.1,999.4 728.1,998.8 728.1,998.2 728.2,997.6 728.2,997.0 728.2,996.3 728.2,995.6 728.2,994.9 728.2,994.2 728.2,993.5 728.2,992.7 728.3,991.9 728.3,991.1 728.3,990.3 728.3,989.4 728.3,988.5 728.3,987.6 728.3,986.7 728.3,985.8 728.3,984.8 728.3,983.8 728.3,982.8 728.3,981.8 728.3,980.8 728.3,979.7 728.3,978.6 728.4,977.5 728.4,976.3 728.4,975.2 728.4,974.0 728.4,972.8 728.4,971.6 728.4,970.3 728.4,969.1 728.4,967.8 728.4,966.5 728.4,965.1 728.4,963.8 728.4,962.4 728.4,961.0 728.4,959.6 728.4,958.1 728.4,956.7 728.4,955.2 728.4,953.7 728.4,952.1 728.4,950.6 728.4,949.0 728.4,947.4 728.4,945.8 728.4,944.2 728.4,942.5 728.4,940.8 728.4,939.1 728.4,937.4 728.4,935.6 728.4,933.9 728.4,932.1 728.5,930.4 728.6,929.2 728.7,928.2 728.8,927.3 729.0,926.4 729.1,925.6 729.2,924.8 729.4,924.0 729.6,923.3 729.7,922.6 729.9,921.9 730.0,921.2 730.2,920.6 730.4,919.9 730.5,919.3 730.7,918.7 730.9,918.1 731.0,917.5 731.2,916.9 731.4,916.4 731.5,915.8 731.7,915.3 731.9,914.7 732.0,914.2 732.2,913.7 732.4,913.2 732.6,912.6 732.7,912.1 732.9,911.6 733.1,911.2 733.3,910.7 733.4,910.2 733.6,909.7 733.8,909.3 733.9,908.8 734.1,908.4 734.3,907.9 734.5,907.5 734.6,907.0 734.8,906.6 735.0,906.2 735.2,905.7 735.3,905.3 735.5,904.9 735.7,904.5 735.9,904.1 736.0,903.7 736.2,903.3 736.4,902.9 736.6,902.5 736.7,902.1 736.9,901.7 737.1,901.3 737.3,900.9 737.4,900.5 737.6,900.2 737.8,899.8 737.9,899.4 738.1,899.1 738.3,898.7 738.5,898.3 738.6,898.0 738.8,897.6 739.0,897.3 739.2,896.9 739.3,896.6 739.5,896.2 739.7,895.9 741.2,892.9 742.8,890.0 744.3,887.3 745.8,884.7 747.3,882.2 748.8,879.8 750.3,877.4 751.8,875.2 753.3,873.0 754.7,870.8 756.2,868.7 757.6,866.7 759.0,864.7 760.4,862.7 761.9,860.8 763.2,858.9 764.6,857.1 766.0,855.3 767.4,853.5 768.8,851.7 770.1,850.0 771.5,848.3 772.8,846.6 774.1,845.0 775.5,843.4 776.8,841.7 778.1,840.2 779.4,838.6 780.7,837.1 782.0,835.5 783.3,834.0 784.6,832.5 785.9,831.1 787.2,829.6 788.4,828.2 789.7,826.8 791.0,825.4 792.2,824.1 793.5,822.7 794.7,821.4 796.0,820.1 797.2,818.8 798.5,817.5 799.7,816.2 800.9,815.0 802.2,813.7 803.4,812.5 804.6,811.3 805.9,810.1 807.1,809.0 808.3,807.8 809.5,806.6 810.7,805.5 811.9,804.4 813.1,803.3 814.3,802.2 815.5,801.1 816.7,800.0 817.9,798.9 819.1,797.9 820.3,796.8 821.5,795.8 822.7,794.8 823.9,793.7 825.0,792.7 826.2,791.7 827.4,790.8 828.6,789.8 829.7,788.8 830.9,787.8 832.1,786.9 833.3,786.0 834.4,785.0 835.6,784.1 836.7,783.2 837.9,782.3 839.1,781.4 840.2,780.5 841.4,779.6 842.5,778.7 843.7,777.8 844.8,777.0 846.0,776.1 847.1,775.3 848.2,774.4 849.4,773.6 850.5,772.7 851.7,771.9 852.8,771.1 853.9,770.3 855.1,769.5 856.2,768.7 857.3,767.9 858.5,767.1 859.6,766.3 860.7,765.5 861.8,764.7 863.0,764.0 864.1,763.2 865.2,762.4 866.3,761.7 867.4,760.9 868.5,760.2 869.7,759.4 870.8,758.7 871.9,758.0 873.0,757.2 874.1,756.5 875.2,755.8 876.3,755.1 877.4,754.3 878.5,753.6 879.6,752.9 880.7,752.2 881.8,751.5 882.9,750.8 884.0,750.1 885.1,749.4 886.1,748.7" fill="none" stroke="#3f6fb0" stroke-width="7.0" stroke-linejoin="round" stroke-linecap="round"/><polyline points="886.1,748.7 905.8,736.6 926.2,724.6 946.2,713.3 965.7,702.7 985.0,692.6 1003.8,682.9 1022.4,673.7 1040.8,664.9 1058.9,656.4 1076.8,648.3 1094.5,640.5 1112.1,633.0 1129.6,625.9" fill="none" stroke="#3f6fb0" stroke-width="1.3"/><circle cx="905.8" cy="736.6" r="3.2" fill="#3f6fb0"/><circle cx="926.2" cy="724.6" r="3.2" fill="#3f6fb0"/><circle cx="946.2" cy="713.3" r="3.2" fill="#3f6fb0"/><circle cx="965.7" cy="702.7" r="3.2" fill="#3f6fb0"/><circle cx="985.0" cy="692.6" r="3.2" fill="#3f6fb0"/><circle cx="1003.8" cy="682.9" r="3.2" fill="#3f6fb0"/><circle cx="1022.4" cy="673.7" r="3.2" fill="#3f6fb0"/><circle cx="1040.8" cy="664.9" r="3.2" fill="#3f6fb0"/><circle cx="1058.9" cy="656.4" r="3.2" fill="#3f6fb0"/><circle cx="1076.8" cy="648.3" r="3.2" fill="#3f6fb0"/><circle cx="1094.5" cy="640.5" r="3.2" fill="#3f6fb0"/><circle cx="1112.1" cy="633.0" r="3.2" fill="#3f6fb0"/><circle cx="1129.6" cy="625.9" r="3.2" fill="#3f6fb0"/><polyline points="726.8,1006.5 726.8,1006.4 726.9,1006.4 726.9,1006.3 726.9,1006.2 726.9,1006.0 726.9,1005.9 727.0,1005.7 727.2,1005.5 727.3,1005.3 727.4,1005.0 727.5,1004.8 727.6,1004.5 727.7,1004.2 727.7,1003.8 727.8,1003.5 727.8,1003.1 727.9,1002.7 727.9,1002.3 727.9,1001.9 728.0,1001.4 728.0,1000.9 728.0,1000.4 728.1,999.9 728.1,999.4 728.1,998.8 728.1,998.2 728.1,997.6 728.1,996.9 728.2,996.3 728.2,995.6 728.2,994.9 728.2,994.2 728.2,993.4 728.2,992.7 728.2,991.9 728.2,991.1 728.3,990.2 728.3,989.4 728.3,988.5 728.3,987.6 728.3,986.7 728.3,985.8 728.3,984.8 728.3,983.8 728.3,982.8 728.3,981.8 728.3,980.7 728.3,979.7 728.3,978.6 728.3,977.5 728.3,976.3 728.4,975.2 728.4,974.0 728.4,972.8 728.4,971.6 728.4,970.3 728.4,969.0 728.4,967.8 728.4,966.4 728.4,965.1 728.4,963.8 728.4,962.4 728.4,961.0 728.4,959.6 728.4,958.1 728.4,956.7 728.4,955.2 728.4,953.7 728.4,952.1 728.4,950.6 728.4,949.0 728.4,947.4 728.4,945.8 728.4,944.2 728.4,942.5 728.4,940.8 728.4,939.1 728.5,937.9 728.6,936.8 728.7,935.8 728.9,934.9 729.0,934.0 729.2,933.2 729.3,932.4 729.5,931.7 729.6,930.9 729.8,930.2 729.9,929.5 730.1,928.8 730.3,928.1 730.4,927.5 730.6,926.8 730.8,926.2 730.9,925.6 731.1,925.0 731.3,924.4 731.4,923.8 731.6,923.2 731.8,922.6 732.0,922.1 732.1,921.5 732.3,921.0 732.5,920.5 732.6,919.9 732.8,919.4 733.0,918.9 733.2,918.4 733.3,917.9 733.5,917.4 733.7,916.9 733.9,916.5 734.0,916.0 734.2,915.5 734.4,915.1 734.6,914.6 734.7,914.1 734.9,913.7 735.1,913.2 735.3,912.8 735.4,912.4 735.6,911.9 735.8,911.5 736.0,911.1 736.1,910.7 736.3,910.3 736.5,909.8 736.7,909.4 736.9,909.0 737.0,908.6 737.2,908.2 737.4,907.8 737.6,907.4 737.7,907.1 737.9,906.7 738.1,906.3 738.3,905.9 738.4,905.5 738.6,905.2 738.8,904.8 739.0,904.4 739.1,904.1 739.3,903.7 739.5,903.3 739.6,903.0 739.8,902.6 740.0,902.3 740.2,901.9 740.3,901.6 740.5,901.2 742.1,898.2 743.6,895.3 745.2,892.6 746.7,890.0 748.2,887.4 749.7,885.0 751.2,882.7 752.7,880.4 754.2,878.2 755.7,876.0 757.1,873.9 758.6,871.8 760.0,869.8 761.4,867.8 762.8,865.9 764.3,864.0 765.6,862.1 767.0,860.3 768.4,858.5 769.8,856.7 771.1,854.9 772.5,853.2 773.9,851.5 775.2,849.8 776.5,848.2 777.9,846.5 779.2,844.9 780.5,843.4 781.8,841.8 783.1,840.2 784.4,838.7 785.7,837.2 787.0,835.7 788.2,834.3 789.5,832.8 790.8,831.4 792.1,830.0 793.3,828.6 794.6,827.2 795.8,825.9 797.1,824.6 798.3,823.2 799.6,822.0 800.8,820.7 802.1,819.4 803.3,818.2 804.5,816.9 805.8,815.7 807.0,814.5 808.2,813.3 809.4,812.1 810.6,811.0 811.9,809.8 813.1,808.7 814.3,807.5 815.5,806.4 816.7,805.3 817.9,804.2 819.1,803.2 820.3,802.1 821.5,801.0 822.7,800.0 823.9,798.9 825.0,797.9 826.2,796.9 827.4,795.9 828.6,794.9 829.8,793.9 830.9,792.9 832.1,792.0 833.3,791.0 834.5,790.1 835.6,789.1 836.8,788.2 838.0,787.3 839.1,786.3 840.3,785.4 841.4,784.5 842.6,783.6 843.7,782.8 844.9,781.9 846.1,781.0 847.2,780.1 848.4,779.3 849.5,778.4 850.6,777.6 851.8,776.8 852.9,775.9 854.1,775.1 855.2,774.3 856.3,773.5 857.5,772.7 858.6,771.9 859.7,771.1 860.9,770.3 862.0,769.5 863.1,768.7 864.3,767.9 865.4,767.2 866.5,766.4 867.6,765.6 868.7,764.9 869.9,764.1 871.0,763.4 872.1,762.6 873.2,761.9 874.3,761.2 875.4,760.4 876.5,759.7 877.6,759.0 878.7,758.3 879.9,757.6 881.0,756.9 882.1,756.1 883.2,755.4 884.3,754.7 885.3,754.0 886.4,753.3 887.5,752.7" fill="none" stroke="#008080" stroke-width="7.0" stroke-linejoin="round" stroke-linecap="round"/><polyline points="887.5,752.7 907.2,740.5 927.7,728.5 947.7,717.1 967.4,706.4 986.6,696.3 1005.5,686.6 1024.2,677.3 1042.5,668.4 1060.7,659.9 1078.6,651.7 1096.3,643.9 1113.9,636.4 1131.4,629.2" fill="none" stroke="#008080" stroke-width="1.3"/><circle cx="907.2" cy="740.5" r="3.2" fill="#008080"/><circle cx="927.7" cy="728.5" r="3.2" fill="#008080"/><circle cx="947.7" cy="717.1" r="3.2" fill="#008080"/><circle cx="967.4" cy="706.4" r="3.2" fill="#008080"/><circle cx="986.6" cy="696.3" r="3.2" fill="#008080"/><circle cx="1005.5" cy="686.6" r="3.2" fill="#008080"/><circle cx="1024.2" cy="677.3" r="3.2" fill="#008080"/><circle cx="1042.5" cy="668.4" r="3.2" fill="#008080"/><circle cx="1060.7" cy="659.9" r="3.2" fill="#008080"/><circle cx="1078.6" cy="651.7" r="3.2" fill="#008080"/><circle cx="1096.3" cy="643.9" r="3.2" fill="#008080"/><circle cx="1113.9" cy="636.4" r="3.2" fill="#008080"/><circle cx="1131.4" cy="629.2" r="3.2" fill="#008080"/><polyline points="726.7,1006.5 726.7,1006.4 726.7,1006.4 726.7,1006.3 726.8,1006.2 726.8,1006.0 726.8,1005.9 726.9,1005.7 727.1,1005.5 727.2,1005.3 727.3,1005.0 727.4,1004.8 727.5,1004.5 727.6,1004.2 727.7,1003.8 727.7,1003.5 727.8,1003.1 727.8,1002.7 727.9,1002.3 727.9,1001.9 727.9,1001.4 728.0,1000.9 728.0,1000.4 728.0,999.9 728.0,999.3 728.1,998.8 728.1,998.2 728.1,997.6 728.1,996.9 728.1,996.3 728.1,995.6 728.2,994.9 728.2,994.2 728.2,993.4 728.2,992.6 728.2,991.9 728.2,991.1 728.2,990.2 728.2,989.4 728.3,988.5 728.3,987.6 728.3,986.7 728.3,985.7 728.3,984.8 728.3,983.8 728.3,982.8 728.3,981.8 728.3,980.7 728.3,979.6 728.3,978.5 728.3,977.4 728.3,976.3 728.3,975.1 728.3,974.0 728.4,972.8 728.4,971.5 728.4,970.3 728.4,969.0 728.4,967.7 728.4,966.4 728.4,965.1 728.4,963.7 728.4,962.4 728.4,961.0 728.4,959.5 728.4,958.1 728.4,956.6 728.4,955.2 728.4,953.6 728.4,952.1 728.4,950.6 728.4,949.0 728.4,947.5 728.5,946.3 728.6,945.3 728.8,944.3 728.9,943.4 729.0,942.5 729.2,941.7 729.3,940.8 729.5,940.0 729.6,939.3 729.8,938.5 729.9,937.8 730.1,937.1 730.2,936.4 730.4,935.7 730.6,935.0 730.7,934.4 730.9,933.7 731.1,933.1 731.2,932.5 731.4,931.9 731.6,931.3 731.8,930.7 731.9,930.1 732.1,929.5 732.3,928.9 732.4,928.4 732.6,927.8 732.8,927.3 733.0,926.8 733.1,926.2 733.3,925.7 733.5,925.2 733.7,924.7 733.8,924.2 734.0,923.7 734.2,923.2 734.4,922.7 734.6,922.3 734.7,921.8 734.9,921.3 735.1,920.8 735.3,920.4 735.4,919.9 735.6,919.5 735.8,919.0 736.0,918.6 736.1,918.2 736.3,917.7 736.5,917.3 736.7,916.9 736.9,916.5 737.0,916.0 737.2,915.6 737.4,915.2 737.6,914.8 737.7,914.4 737.9,914.0 738.1,913.6 738.3,913.2 738.4,912.8 738.6,912.4 738.8,912.0 739.0,911.7 739.1,911.3 739.3,910.9 739.5,910.5 739.7,910.2 739.9,909.8 740.0,909.4 740.2,909.1 740.4,908.7 740.6,908.3 740.7,908.0 740.9,907.6 741.1,907.3 741.3,906.9 741.4,906.6 743.0,903.5 744.6,900.7 746.1,897.9 747.7,895.3 749.2,892.7 750.7,890.3 752.2,887.9 753.7,885.6 755.2,883.3 756.7,881.2 758.1,879.0 759.6,876.9 761.0,874.9 762.5,872.9 763.9,870.9 765.3,869.0 766.7,867.1 768.1,865.3 769.5,863.4 770.9,861.6 772.2,859.9 773.6,858.1 774.9,856.4 776.3,854.7 777.6,853.0 779.0,851.4 780.3,849.7 781.6,848.1 782.9,846.5 784.2,845.0 785.5,843.4 786.8,841.9 788.1,840.4 789.4,838.9 790.7,837.4 791.9,836.0 793.2,834.6 794.5,833.2 795.7,831.8 797.0,830.4 798.2,829.1 799.5,827.7 800.7,826.4 802.0,825.1 803.2,823.8 804.5,822.6 805.7,821.3 806.9,820.1 808.2,818.9 809.4,817.7 810.6,816.5 811.8,815.3 813.0,814.1 814.2,813.0 815.5,811.8 816.7,810.7 817.9,809.6 819.1,808.5 820.3,807.4 821.5,806.3 822.7,805.3 823.9,804.2 825.1,803.1 826.3,802.1 827.4,801.1 828.6,800.1 829.8,799.1 831.0,798.1 832.2,797.1 833.3,796.1 834.5,795.1 835.7,794.2 836.9,793.2 838.0,792.3 839.2,791.4 840.4,790.4 841.5,789.5 842.7,788.6 843.9,787.7 845.0,786.8 846.2,785.9 847.3,785.1 848.5,784.2 849.6,783.3 850.8,782.5 851.9,781.6 853.1,780.8 854.2,779.9 855.4,779.1 856.5,778.3 857.7,777.5 858.8,776.7 859.9,775.9 861.1,775.1 862.2,774.3 863.3,773.5 864.5,772.7 865.6,771.9 866.7,771.1 867.8,770.4 869.0,769.6 870.1,768.9 871.2,768.1 872.3,767.4 873.5,766.6 874.6,765.9 875.7,765.1 876.8,764.4 877.9,763.7 879.0,762.9 880.1,762.2 881.2,761.5 882.4,760.8 883.5,760.1 884.6,759.4 885.7,758.7 886.8,758.0 887.9,757.3 889.0,756.6" fill="none" stroke="#c06010" stroke-width="7.0" stroke-linejoin="round" stroke-linecap="round"/><polyline points="889.0,756.6 908.7,744.4 929.3,732.3 949.3,720.9 969.0,710.2 988.3,700.0 1007.3,690.2 1025.9,680.9 1044.3,672.0 1062.5,663.4 1080.4,655.1 1098.2,647.2 1115.8,639.7 1133.3,632.5" fill="none" stroke="#c06010" stroke-width="1.3"/><circle cx="908.7" cy="744.4" r="3.2" fill="#c06010"/><circle cx="929.3" cy="732.3" r="3.2" fill="#c06010"/><circle cx="949.3" cy="720.9" r="3.2" fill="#c06010"/><circle cx="969.0" cy="710.2" r="3.2" fill="#c06010"/><circle cx="988.3" cy="700.0" r="3.2" fill="#c06010"/><circle cx="1007.3" cy="690.2" r="3.2" fill="#c06010"/><circle cx="1025.9" cy="680.9" r="3.2" fill="#c06010"/><circle cx="1044.3" cy="672.0" r="3.2" fill="#c06010"/><circle cx="1062.5" cy="663.4" r="3.2" fill="#c06010"/><circle cx="1080.4" cy="655.1" r="3.2" fill="#c06010"/><circle cx="1098.2" cy="647.2" r="3.2" fill="#c06010"/><circle cx="1115.8" cy="639.7" r="3.2" fill="#c06010"/><circle cx="1133.3" cy="632.5" r="3.2" fill="#c06010"/><polyline points="726.5,1006.5 726.6,1006.4 726.6,1006.4 726.6,1006.3 726.6,1006.2 726.6,1006.0 726.7,1005.9 726.8,1005.7 727.0,1005.5 727.1,1005.3 727.3,1005.0 727.4,1004.7 727.5,1004.5 727.5,1004.1 727.6,1003.8 727.7,1003.5 727.7,1003.1 727.8,1002.7 727.8,1002.3 727.9,1001.8 727.9,1001.4 727.9,1000.9 728.0,1000.4 728.0,999.9 728.0,999.3 728.0,998.7 728.1,998.1 728.1,997.5 728.1,996.9 728.1,996.2 728.1,995.6 728.1,994.9 728.2,994.1 728.2,993.4 728.2,992.6 728.2,991.8 728.2,991.0 728.2,990.2 728.2,989.3 728.2,988.5 728.2,987.6 728.3,986.6 728.3,985.7 728.3,984.7 728.3,983.8 728.3,982.8 728.3,981.7 728.3,980.7 728.3,979.6 728.3,978.5 728.3,977.4 728.3,976.3 728.3,975.1 728.3,973.9 728.3,972.7 728.4,971.5 728.4,970.3 728.4,969.0 728.4,967.7 728.4,966.4 728.4,965.1 728.4,963.7 728.4,962.3 728.4,960.9 728.4,959.5 728.4,958.1 728.4,956.7 728.5,955.6 728.6,954.6 728.7,953.6 728.8,952.6 729.0,951.7 729.1,950.9 729.2,950.0 729.4,949.2 729.5,948.4 729.7,947.6 729.8,946.8 730.0,946.1 730.2,945.4 730.3,944.6 730.5,943.9 730.6,943.3 730.8,942.6 731.0,941.9 731.1,941.3 731.3,940.6 731.5,940.0 731.6,939.4 731.8,938.7 732.0,938.1 732.2,937.5 732.3,937.0 732.5,936.4 732.7,935.8 732.9,935.2 733.0,934.7 733.2,934.1 733.4,933.6 733.6,933.1 733.7,932.5 733.9,932.0 734.1,931.5 734.3,931.0 734.4,930.5 734.6,930.0 734.8,929.5 735.0,929.0 735.1,928.5 735.3,928.1 735.5,927.6 735.7,927.1 735.9,926.6 736.0,926.2 736.2,925.7 736.4,925.3 736.6,924.8 736.7,924.4 736.9,924.0 737.1,923.5 737.3,923.1 737.5,922.7 737.6,922.2 737.8,921.8 738.0,921.4 738.2,921.0 738.3,920.6 738.5,920.2 738.7,919.8 738.9,919.4 739.1,919.0 739.2,918.6 739.4,918.2 739.6,917.8 739.8,917.4 739.9,917.0 740.1,916.7 740.3,916.3 740.5,915.9 740.7,915.5 740.8,915.2 741.0,914.8 741.2,914.4 741.4,914.1 741.5,913.7 741.7,913.4 741.9,913.0 742.1,912.6 742.2,912.3 742.4,912.0 744.0,908.9 745.6,906.0 747.1,903.2 748.7,900.6 750.2,898.0 751.8,895.5 753.3,893.1 754.8,890.8 756.3,888.5 757.8,886.3 759.2,884.2 760.7,882.1 762.1,880.0 763.6,878.0 765.0,876.0 766.4,874.1 767.8,872.1 769.2,870.3 770.6,868.4 772.0,866.6 773.4,864.8 774.7,863.0 776.1,861.3 777.4,859.6 778.8,857.9 780.1,856.2 781.4,854.5 782.8,852.9 784.1,851.3 785.4,849.7 786.7,848.1 788.0,846.6 789.3,845.1 790.6,843.5 791.8,842.1 793.1,840.6 794.4,839.2 795.7,837.7 796.9,836.3 798.2,834.9 799.4,833.6 800.7,832.2 801.9,830.9 803.2,829.6 804.4,828.3 805.7,827.0 806.9,825.7 808.1,824.5 809.4,823.3 810.6,822.0 811.8,820.8 813.0,819.6 814.3,818.5 815.5,817.3 816.7,816.1 817.9,815.0 819.1,813.9 820.3,812.8 821.5,811.7 822.7,810.6 823.9,809.5 825.1,808.4 826.3,807.4 827.5,806.3 828.7,805.3 829.9,804.3 831.1,803.2 832.3,802.2 833.4,801.2 834.6,800.3 835.8,799.3 837.0,798.3 838.2,797.4 839.3,796.4 840.5,795.5 841.7,794.5 842.8,793.6 844.0,792.7 845.2,791.8 846.3,790.9 847.5,790.0 848.6,789.1 849.8,788.2 851.0,787.4 852.1,786.5 853.3,785.7 854.4,784.8 855.6,784.0 856.7,783.1 857.9,782.3 859.0,781.5 860.1,780.7 861.3,779.9 862.4,779.1 863.6,778.3 864.7,777.5 865.8,776.7 867.0,775.9 868.1,775.1 869.2,774.4 870.4,773.6 871.5,772.8 872.6,772.1 873.7,771.3 874.9,770.6 876.0,769.8 877.1,769.1 878.2,768.4 879.3,767.6 880.4,766.9 881.6,766.2 882.7,765.5 883.8,764.7 884.9,764.0 886.0,763.3 887.1,762.6 888.2,761.9 889.3,761.2 890.4,760.5" fill="none" stroke="#10c040" stroke-width="7.0" stroke-linejoin="round" stroke-linecap="round"/><polyline points="890.4,760.5 910.2,748.3 930.8,736.1 951.0,724.7 970.7,714.0 990.0,703.7 1009.0,693.9 1027.7,684.5 1046.1,675.5 1064.3,666.9 1082.3,658.6 1100.0,650.6 1117.7,643.0 1135.2,635.8" fill="none" stroke="#10c040" stroke-width="1.3"/><circle cx="910.2" cy="748.3" r="3.2" fill="#10c040"/><circle cx="930.8" cy="736.1" r="3.2" fill="#10c040"/><circle cx="951.0" cy="724.7" r="3.2" fill="#10c040"/><circle cx="970.7" cy="714.0" r="3.2" fill="#10c040"/><circle cx="990.0" cy="703.7" r="3.2" fill="#10c040"/><circle cx="1009.0" cy="693.9" r="3.2" fill="#10c040"/><circle cx="1027.7" cy="684.5" r="3.2" fill="#10c040"/><circle cx="1046.1" cy="675.5" r="3.2" fill="#10c040"/><circle cx="1064.3" cy="666.9" r="3.2" fill="#10c040"/><circle cx="1082.3" cy="658.6" r="3.2" fill="#10c040"/><circle cx="1100.0" cy="650.6" r="3.2" fill="#10c040"/><circle cx="1117.7" cy="643.0" r="3.2" fill="#10c040"/><circle cx="1135.2" cy="635.8" r="3.2" fill="#10c040"/><polyline points="726.4,1006.5 726.4,1006.4 726.4,1006.4 726.5,1006.3 726.5,1006.2 726.5,1006.0 726.5,1005.9 726.7,1005.7 726.9,1005.5 727.0,1005.2 727.2,1005.0 727.3,1004.7 727.4,1004.4 727.5,1004.1 727.5,1003.8 727.6,1003.4 727.7,1003.1 727.7,1002.7 727.8,1002.3 727.8,1001.8 727.8,1001.3 727.9,1000.9 727.9,1000.4 727.9,999.8 728.0,999.3 728.0,998.7 728.0,998.1 728.0,997.5 728.1,996.9 728.1,996.2 728.1,995.5 728.1,994.8 728.1,994.1 728.1,993.4 728.2,992.6 728.2,991.8 728.2,991.0 728.2,990.2 728.2,989.3 728.2,988.4 728.2,987.5 728.2,986.6 728.3,985.7 728.3,984.7 728.3,983.7 728.3,982.7 728.3,981.7 728.3,980.7 728.3,979.6 728.3,978.5 728.3,977.4 728.3,976.2 728.3,975.1 728.3,973.9 728.3,972.7 728.3,971.5 728.3,970.2 728.4,969.0 728.4,967.7 728.4,966.5 728.5,965.5 728.6,964.5 728.7,963.5 728.8,962.6 728.9,961.7 729.0,960.8 729.2,959.9 729.3,959.1 729.4,958.2 729.6,957.4 729.7,956.6 729.9,955.8 730.0,955.1 730.2,954.3 730.3,953.6 730.5,952.9 730.7,952.2 730.8,951.4 731.0,950.8 731.1,950.1 731.3,949.4 731.5,948.8 731.6,948.1 731.8,947.5 732.0,946.8 732.2,946.2 732.3,945.6 732.5,945.0 732.7,944.4 732.8,943.8 733.0,943.2 733.2,942.7 733.4,942.1 733.5,941.5 733.7,941.0 733.9,940.4 734.1,939.9 734.2,939.4 734.4,938.8 734.6,938.3 734.8,937.8 734.9,937.3 735.1,936.8 735.3,936.3 735.5,935.8 735.7,935.3 735.8,934.8 736.0,934.3 736.2,933.8 736.4,933.4 736.5,932.9 736.7,932.4 736.9,932.0 737.1,931.5 737.3,931.1 737.4,930.6 737.6,930.2 737.8,929.7 738.0,929.3 738.2,928.9 738.3,928.4 738.5,928.0 738.7,927.6 738.9,927.2 739.1,926.8 739.2,926.4 739.4,925.9 739.6,925.5 739.8,925.1 739.9,924.7 740.1,924.3 740.3,923.9 740.5,923.6 740.7,923.2 740.8,922.8 741.0,922.4 741.2,922.0 741.4,921.6 741.5,921.3 741.7,920.9 741.9,920.5 742.1,920.2 742.3,919.8 742.4,919.4 742.6,919.1 742.8,918.7 743.0,918.4 743.1,918.0 743.3,917.7 743.5,917.3 745.1,914.2 746.7,911.3 748.2,908.5 749.8,905.9 751.4,903.3 752.9,900.8 754.4,898.4 755.9,896.0 757.4,893.7 758.9,891.5 760.4,889.3 761.9,887.2 763.3,885.1 764.8,883.1 766.2,881.1 767.6,879.1 769.0,877.2 770.4,875.3 771.8,873.4 773.2,871.5 774.6,869.7 775.9,867.9 777.3,866.2 778.7,864.4 780.0,862.7 781.3,861.0 782.7,859.3 784.0,857.7 785.3,856.0 786.6,854.4 787.9,852.8 789.2,851.3 790.5,849.7 791.8,848.2 793.1,846.7 794.3,845.2 795.6,843.8 796.9,842.3 798.2,840.9 799.4,839.5 800.7,838.1 801.9,836.7 803.2,835.4 804.4,834.1 805.7,832.7 806.9,831.4 808.2,830.2 809.4,828.9 810.6,827.6 811.9,826.4 813.1,825.2 814.3,824.0 815.5,822.8 816.8,821.6 818.0,820.4 819.2,819.3 820.4,818.2 821.6,817.0 822.8,815.9 824.0,814.8 825.2,813.7 826.4,812.6 827.6,811.6 828.8,810.5 830.0,809.5 831.2,808.4 832.4,807.4 833.6,806.4 834.8,805.4 835.9,804.4 837.1,803.4 838.3,802.5 839.5,801.5 840.7,800.5 841.8,799.6 843.0,798.6 844.2,797.7 845.3,796.8 846.5,795.9 847.7,795.0 848.8,794.1 850.0,793.2 851.2,792.3 852.3,791.4 853.5,790.6 854.6,789.7 855.8,788.9 856.9,788.0 858.1,787.2 859.2,786.3 860.4,785.5 861.5,784.7 862.7,783.9 863.8,783.1 865.0,782.3 866.1,781.5 867.2,780.7 868.4,779.9 869.5,779.1 870.7,778.3 871.8,777.6 872.9,776.8 874.0,776.1 875.2,775.3 876.3,774.5 877.4,773.8 878.5,773.1 879.7,772.3 880.8,771.6 881.9,770.9 883.0,770.1 884.1,769.4 885.3,768.7 886.4,768.0 887.5,767.3 888.6,766.6 889.7,765.8 890.8,765.1 891.9,764.4" fill="none" stroke="#d03080" stroke-width="7.0" stroke-linejoin="round" stroke-linecap="round"/><polyline points="891.9,764.4 911.8,752.2 932.5,740.0 952.6,728.5 972.4,717.7 991.8,707.4 1010.8,697.6 1029.5,688.1 1048.0,679.1 1066.2,670.4 1084.1,662.0 1101.9,654.0 1119.6,646.4 1137.1,639.1" fill="none" stroke="#d03080" stroke-width="1.3"/><circle cx="911.8" cy="752.2" r="3.2" fill="#d03080"/><circle cx="932.5" cy="740.0" r="3.2" fill="#d03080"/><circle cx="952.6" cy="728.5" r="3.2" fill="#d03080"/><circle cx="972.4" cy="717.7" r="3.2" fill="#d03080"/><circle cx="991.8" cy="707.4" r="3.2" fill="#d03080"/><circle cx="1010.8" cy="697.6" r="3.2" fill="#d03080"/><circle cx="1029.5" cy="688.1" r="3.2" fill="#d03080"/><circle cx="1048.0" cy="679.1" r="3.2" fill="#d03080"/><circle cx="1066.2" cy="670.4" r="3.2" fill="#d03080"/><circle cx="1084.1" cy="662.0" r="3.2" fill="#d03080"/><circle cx="1101.9" cy="654.0" r="3.2" fill="#d03080"/><circle cx="1119.6" cy="646.4" r="3.2" fill="#d03080"/><circle cx="1137.1" cy="639.1" r="3.2" fill="#d03080"/><polyline points="726.3,1006.5 726.3,1006.4 726.3,1006.4 726.3,1006.3 726.4,1006.2 726.4,1006.0 726.4,1005.8 726.5,1005.7 726.8,1005.5 726.9,1005.2 727.1,1005.0 727.2,1004.7 727.3,1004.4 727.4,1004.1 727.5,1003.8 727.5,1003.4 727.6,1003.0 727.7,1002.7 727.7,1002.2 727.8,1001.8 727.8,1001.3 727.8,1000.8 727.9,1000.3 727.9,999.8 727.9,999.3 728.0,998.7 728.0,998.1 728.0,997.5 728.0,996.8 728.1,996.2 728.1,995.5 728.1,994.8 728.1,994.1 728.1,993.3 728.1,992.6 728.2,991.8 728.2,991.0 728.2,990.1 728.2,989.3 728.2,988.4 728.2,987.5 728.2,986.6 728.2,985.7 728.2,984.7 728.3,983.7 728.3,982.7 728.3,981.7 728.3,980.6 728.3,979.6 728.3,978.5 728.4,977.6 728.5,976.6 728.5,975.7 728.6,974.7 728.7,973.8 728.8,972.9 728.9,972.0 729.0,971.2 729.2,970.3 729.3,969.5 729.4,968.6 729.5,967.8 729.7,967.0 729.8,966.2 729.9,965.4 730.1,964.7 730.2,963.9 730.4,963.1 730.5,962.4 730.7,961.7 730.8,960.9 731.0,960.2 731.1,959.5 731.3,958.8 731.5,958.2 731.6,957.5 731.8,956.8 732.0,956.2 732.1,955.5 732.3,954.9 732.5,954.2 732.6,953.6 732.8,953.0 733.0,952.4 733.1,951.8 733.3,951.2 733.5,950.6 733.6,950.0 733.8,949.4 734.0,948.9 734.2,948.3 734.3,947.8 734.5,947.2 734.7,946.7 734.9,946.1 735.0,945.6 735.2,945.1 735.4,944.5 735.6,944.0 735.7,943.5 735.9,943.0 736.1,942.5 736.3,942.0 736.5,941.5 736.6,941.0 736.8,940.5 737.0,940.1 737.2,939.6 737.4,939.1 737.5,938.6 737.7,938.2 737.9,937.7 738.1,937.3 738.2,936.8 738.4,936.4 738.6,935.9 738.8,935.5 739.0,935.1 739.1,934.6 739.3,934.2 739.5,933.8 739.7,933.3 739.9,932.9 740.0,932.5 740.2,932.1 740.4,931.7 740.6,931.3 740.8,930.9 740.9,930.5 741.1,930.1 741.3,929.7 741.5,929.3 741.6,928.9 741.8,928.5 742.0,928.1 742.2,927.7 742.4,927.4 742.5,927.0 742.7,926.6 742.9,926.2 743.1,925.9 743.3,925.5 743.4,925.1 743.6,924.8 743.8,924.4 744.0,924.1 744.1,923.7 744.3,923.3 744.5,923.0 744.7,922.6 746.3,919.6 747.9,916.6 749.4,913.8 751.0,911.1 752.6,908.5 754.1,906.0 755.6,903.6 757.1,901.2 758.7,898.9 760.1,896.7 761.6,894.5 763.1,892.3 764.6,890.2 766.0,888.2 767.4,886.1 768.9,884.1 770.3,882.2 771.7,880.3 773.1,878.4 774.5,876.5 775.9,874.7 777.2,872.8 778.6,871.1 779.9,869.3 781.3,867.5 782.6,865.8 783.9,864.1 785.3,862.5 786.6,860.8 787.9,859.2 789.2,857.6 790.5,856.0 791.8,854.4 793.1,852.9 794.4,851.3 795.6,849.8 796.9,848.4 798.2,846.9 799.5,845.5 800.7,844.0 802.0,842.6 803.2,841.2 804.5,839.9 805.7,838.5 807.0,837.2 808.2,835.9 809.5,834.6 810.7,833.3 811.9,832.0 813.2,830.8 814.4,829.6 815.6,828.3 816.9,827.1 818.1,825.9 819.3,824.8 820.5,823.6 821.7,822.5 822.9,821.3 824.1,820.2 825.3,819.1 826.5,818.0 827.8,816.9 829.0,815.8 830.2,814.7 831.3,813.7 832.5,812.6 833.7,811.6 834.9,810.6 836.1,809.6 837.3,808.6 838.5,807.6 839.7,806.6 840.8,805.6 842.0,804.7 843.2,803.7 844.4,802.8 845.6,801.8 846.7,800.9 847.9,800.0 849.1,799.1 850.2,798.2 851.4,797.3 852.6,796.4 853.7,795.5 854.9,794.6 856.0,793.8 857.2,792.9 858.4,792.1 859.5,791.2 860.7,790.4 861.8,789.5 863.0,788.7 864.1,787.9 865.3,787.1 866.4,786.3 867.6,785.5 868.7,784.7 869.8,783.9 871.0,783.1 872.1,782.3 873.2,781.6 874.4,780.8 875.5,780.0 876.6,779.3 877.8,778.5 878.9,777.8 880.0,777.0 881.2,776.3 882.3,775.6 883.4,774.8 884.5,774.1 885.6,773.4 886.8,772.6 887.9,771.9 889.0,771.2 890.1,770.5 891.2,769.8 892.3,769.1 893.4,768.4" fill="none" stroke="#30c8c8" stroke-width="7.0" stroke-linejoin="round" stroke-linecap="round"/><polyline points="893.4,768.4 913.4,756.1 934.1,743.8 954.4,732.3 974.2,721.5 993.6,711.1 1012.6,701.2 1031.4,691.7 1049.8,682.6 1068.0,673.9 1086.0,665.5 1103.9,657.4 1121.5,649.7 1139.1,642.4" fill="none" stroke="#30c8c8" stroke-width="1.3"/><circle cx="913.4" cy="756.1" r="3.2" fill="#30c8c8"/><circle cx="934.1" cy="743.8" r="3.2" fill="#30c8c8"/><circle cx="954.4" cy="732.3" r="3.2" fill="#30c8c8"/><circle cx="974.2" cy="721.5" r="3.2" fill="#30c8c8"/><circle cx="993.6" cy="711.1" r="3.2" fill="#30c8c8"/><circle cx="1012.6" cy="701.2" r="3.2" fill="#30c8c8"/><circle cx="1031.4" cy="691.7" r="3.2" fill="#30c8c8"/><circle cx="1049.8" cy="682.6" r="3.2" fill="#30c8c8"/><circle cx="1068.0" cy="673.9" r="3.2" fill="#30c8c8"/><circle cx="1086.0" cy="665.5" r="3.2" fill="#30c8c8"/><circle cx="1103.9" cy="657.4" r="3.2" fill="#30c8c8"/><circle cx="1121.5" cy="649.7" r="3.2" fill="#30c8c8"/><circle cx="1139.1" cy="642.4" r="3.2" fill="#30c8c8"/><polyline points="726.1,1006.5 726.1,1006.4 726.2,1006.4 726.2,1006.3 726.2,1006.2 726.2,1006.0 726.3,1005.8 726.4,1005.6 726.6,1005.4 726.8,1005.2 727.0,1005.0 727.1,1004.7 727.2,1004.4 727.3,1004.1 727.4,1003.8 727.5,1003.4 727.6,1003.0 727.6,1002.6 727.7,1002.2 727.7,1001.8 727.8,1001.3 727.8,1000.8 727.8,1000.3 727.9,999.8 727.9,999.2 727.9,998.7 728.0,998.1 728.0,997.5 728.0,996.8 728.0,996.2 728.0,995.5 728.1,994.8 728.1,994.1 728.1,993.3 728.2,992.6 728.2,991.8 728.3,991.1 728.3,990.3 728.4,989.5 728.4,988.8 728.5,988.0 728.6,987.2 728.6,986.4 728.7,985.6 728.8,984.8 728.9,984.0 729.0,983.2 729.1,982.4 729.2,981.6 729.3,980.8 729.4,980.0 729.5,979.2 729.6,978.4 729.7,977.7 729.9,976.9 730.0,976.1 730.1,975.4 730.2,974.6 730.4,973.8 730.5,973.1 730.6,972.4 730.8,971.6 730.9,970.9 731.1,970.2 731.2,969.5 731.4,968.8 731.5,968.1 731.7,967.4 731.8,966.7 732.0,966.0 732.1,965.4 732.3,964.7 732.5,964.0 732.6,963.4 732.8,962.8 732.9,962.1 733.1,961.5 733.3,960.9 733.4,960.3 733.6,959.6 733.8,959.0 733.9,958.4 734.1,957.9 734.3,957.3 734.4,956.7 734.6,956.1 734.8,955.6 735.0,955.0 735.1,954.4 735.3,953.9 735.5,953.3 735.6,952.8 735.8,952.3 736.0,951.7 736.2,951.2 736.3,950.7 736.5,950.2 736.7,949.7 736.9,949.2 737.0,948.7 737.2,948.2 737.4,947.7 737.6,947.2 737.8,946.7 737.9,946.2 738.1,945.7 738.3,945.3 738.5,944.8 738.6,944.3 738.8,943.9 739.0,943.4 739.2,943.0 739.4,942.5 739.5,942.1 739.7,941.6 739.9,941.2 740.1,940.8 740.2,940.3 740.4,939.9 740.6,939.5 740.8,939.1 741.0,938.6 741.1,938.2 741.3,937.8 741.5,937.4 741.7,937.0 741.9,936.6 742.0,936.2 742.2,935.8 742.4,935.4 742.6,935.0 742.8,934.6 742.9,934.2 743.1,933.8 743.3,933.4 743.5,933.1 743.6,932.7 743.8,932.3 744.0,931.9 744.2,931.6 744.4,931.2 744.5,930.8 744.7,930.5 744.9,930.1 745.1,929.7 745.3,929.4 745.4,929.0 745.6,928.7 745.8,928.3 746.0,928.0 747.6,924.9 749.1,921.9 750.7,919.1 752.3,916.4 753.9,913.8 755.4,911.3 756.9,908.8 758.5,906.4 760.0,904.1 761.5,901.8 763.0,899.6 764.4,897.4 765.9,895.3 767.3,893.2 768.8,891.2 770.2,889.2 771.6,887.2 773.0,885.3 774.4,883.3 775.8,881.5 777.2,879.6 778.6,877.8 779.9,875.9 781.3,874.2 782.6,872.4 784.0,870.7 785.3,868.9 786.6,867.2 787.9,865.6 789.2,863.9 790.5,862.3 791.8,860.7 793.1,859.1 794.4,857.5 795.7,856.0 797.0,854.5 798.3,853.0 799.5,851.5 800.8,850.0 802.1,848.6 803.3,847.2 804.6,845.8 805.8,844.4 807.1,843.0 808.3,841.7 809.6,840.3 810.8,839.0 812.1,837.7 813.3,836.5 814.5,835.2 815.8,833.9 817.0,832.7 818.2,831.5 819.4,830.3 820.7,829.1 821.9,827.9 823.1,826.8 824.3,825.6 825.5,824.5 826.7,823.3 827.9,822.2 829.1,821.1 830.3,820.0 831.5,819.0 832.7,817.9 833.9,816.8 835.1,815.8 836.3,814.8 837.5,813.8 838.7,812.7 839.9,811.7 841.1,810.8 842.3,809.8 843.4,808.8 844.6,807.8 845.8,806.9 847.0,805.9 848.2,805.0 849.3,804.1 850.5,803.2 851.7,802.3 852.8,801.4 854.0,800.5 855.2,799.6 856.3,798.7 857.5,797.8 858.7,797.0 859.8,796.1 861.0,795.3 862.1,794.4 863.3,793.6 864.4,792.8 865.6,791.9 866.7,791.1 867.9,790.3 869.0,789.5 870.2,788.7 871.3,787.9 872.5,787.1 873.6,786.3 874.8,785.6 875.9,784.8 877.0,784.0 878.2,783.3 879.3,782.5 880.4,781.8 881.6,781.0 882.7,780.3 883.8,779.5 884.9,778.8 886.1,778.1 887.2,777.3 888.3,776.6 889.4,775.9 890.6,775.2 891.7,774.4 892.8,773.7 893.9,773.0 895.0,772.3" fill="none" stroke="#3030a0" stroke-width="7.0" stroke-linejoin="round" stroke-linecap="round"/><polyline points="895.0,772.3 915.0,760.0 935.8,747.7 956.1,736.1 975.9,725.2 995.4,714.8 1014.5,704.9 1033.3,695.3 1051.7,686.2 1070.0,677.4 1088.0,668.9 1105.8,660.8 1123.5,653.1 1141.0,645.7" fill="none" stroke="#3030a0" stroke-width="1.3"/><circle cx="915.0" cy="760.0" r="3.2" fill="#3030a0"/><circle cx="935.8" cy="747.7" r="3.2" fill="#3030a0"/><circle cx="956.1" cy="736.1" r="3.2" fill="#3030a0"/><circle cx="975.9" cy="725.2" r="3.2" fill="#3030a0"/><circle cx="995.4" cy="714.8" r="3.2" fill="#3030a0"/><circle cx="1014.5" cy="704.9" r="3.2" fill="#3030a0"/><circle cx="1033.3" cy="695.3" r="3.2" fill="#3030a0"/><circle cx="1051.7" cy="686.2" r="3.2" fill="#3030a0"/><circle cx="1070.0" cy="677.4" r="3.2" fill="#3030a0"/><circle cx="1088.0" cy="668.9" r="3.2" fill="#3030a0"/><circle cx="1105.8" cy="660.8" r="3.2" fill="#3030a0"/><circle cx="1123.5" cy="653.1" r="3.2" fill="#3030a0"/><circle cx="1141.0" cy="645.7" r="3.2" fill="#3030a0"/><polyline points="726.4,1006.5 726.4,1006.4 726.4,1006.4 726.5,1006.3 726.5,1006.2 726.5,1006.0 726.6,1005.9 726.7,1005.7 727.0,1005.5 727.2,1005.3 727.4,1005.0 727.5,1004.8 727.6,1004.5 727.8,1004.2 727.9,1003.9 728.0,1003.5 728.0,1003.2 728.1,1002.8 728.2,1002.4 728.3,1002.0 728.3,1001.6 728.4,1001.1 728.5,1000.7 728.5,1000.2 728.6,999.7 728.7,999.2 728.7,998.6 728.8,998.1 728.9,997.5 728.9,997.0 729.0,996.4 729.1,995.8 729.1,995.2 729.2,994.5 729.3,993.9 729.4,993.3 729.5,992.6 729.5,992.0 729.6,991.3 729.7,990.6 729.8,990.0 729.9,989.3 730.0,988.6 730.1,987.9 730.2,987.2 730.3,986.5 730.4,985.8 730.5,985.1 730.6,984.4 730.7,983.7 730.9,983.0 731.0,982.3 731.1,981.6 731.2,981.0 731.4,980.3 731.5,979.6 731.6,978.9 731.7,978.2 731.9,977.5 732.0,976.9 732.2,976.2 732.3,975.5 732.4,974.9 732.6,974.2 732.7,973.5 732.9,972.9 733.0,972.3 733.2,971.6 733.3,971.0 733.5,970.4 733.6,969.7 733.8,969.1 734.0,968.5 734.1,967.9 734.3,967.3 734.4,966.7 734.6,966.1 734.8,965.5 734.9,964.9 735.1,964.3 735.3,963.8 735.4,963.2 735.6,962.6 735.8,962.1 735.9,961.5 736.1,961.0 736.3,960.4 736.4,959.9 736.6,959.3 736.8,958.8 736.9,958.3 737.1,957.8 737.3,957.2 737.5,956.7 737.6,956.2 737.8,955.7 738.0,955.2 738.2,954.7 738.3,954.2 738.5,953.7 738.7,953.2 738.9,952.8 739.0,952.3 739.2,951.8 739.4,951.3 739.6,950.9 739.7,950.4 739.9,950.0 740.1,949.5 740.3,949.0 740.4,948.6 740.6,948.1 740.8,947.7 741.0,947.3 741.1,946.8 741.3,946.4 741.5,946.0 741.7,945.5 741.9,945.1 742.0,944.7 742.2,944.3 742.4,943.9 742.6,943.4 742.7,943.0 742.9,942.6 743.1,942.2 743.3,941.8 743.5,941.4 743.6,941.0 743.8,940.6 744.0,940.2 744.2,939.8 744.4,939.5 744.5,939.1 744.7,938.7 744.9,938.3 745.1,937.9 745.2,937.6 745.4,937.2 745.6,936.8 745.8,936.4 746.0,936.1 746.1,935.7 746.3,935.4 746.5,935.0 746.7,934.6 746.8,934.3 747.0,933.9 747.2,933.6 747.4,933.2 749.0,930.1 750.6,927.2 752.1,924.4 753.7,921.6 755.3,919.0 756.8,916.5 758.3,914.0 759.9,911.6 761.4,909.3 762.9,907.0 764.4,904.7 765.8,902.6 767.3,900.4 768.8,898.3 770.2,896.2 771.6,894.2 773.0,892.2 774.5,890.2 775.9,888.3 777.2,886.4 778.6,884.5 780.0,882.7 781.4,880.8 782.7,879.0 784.0,877.2 785.4,875.5 786.7,873.7 788.0,872.0 789.4,870.3 790.7,868.7 792.0,867.0 793.3,865.4 794.6,863.8 795.8,862.2 797.1,860.6 798.4,859.1 799.7,857.6 801.0,856.1 802.2,854.6 803.5,853.1 804.7,851.7 806.0,850.3 807.3,848.9 808.5,847.5 809.8,846.1 811.0,844.8 812.2,843.5 813.5,842.2 814.7,840.9 816.0,839.6 817.2,838.3 818.4,837.1 819.6,835.8 820.9,834.6 822.1,833.4 823.3,832.2 824.5,831.1 825.7,829.9 827.0,828.8 828.2,827.6 829.4,826.5 830.6,825.4 831.8,824.3 833.0,823.2 834.2,822.1 835.4,821.1 836.6,820.0 837.8,819.0 839.0,817.9 840.2,816.9 841.3,815.9 842.5,814.9 843.7,813.9 844.9,812.9 846.1,812.0 847.3,811.0 848.4,810.1 849.6,809.1 850.8,808.2 852.0,807.3 853.1,806.4 854.3,805.4 855.5,804.5 856.7,803.7 857.8,802.8 859.0,801.9 860.2,801.0 861.3,800.2 862.5,799.3 863.6,798.5 864.8,797.6 866.0,796.8 867.1,796.0 868.3,795.1 869.4,794.3 870.6,793.5 871.7,792.7 872.9,791.9 874.0,791.1 875.2,790.3 876.3,789.6 877.4,788.8 878.6,788.0 879.7,787.3 880.9,786.5 882.0,785.7 883.1,785.0 884.3,784.2 885.4,783.5 886.5,782.8 887.7,782.0 888.8,781.3 889.9,780.6 891.0,779.8 892.2,779.1 893.3,778.4 894.4,777.7 895.5,777.0 896.6,776.3" fill="none" stroke="#a0b030" stroke-width="7.0" stroke-linejoin="round" stroke-linecap="round"/><polyline points="896.6,776.3 916.7,763.9 937.5,751.5 957.9,740.0 977.8,729.0 997.3,718.5 1016.4,708.5 1035.2,698.9 1053.7,689.7 1071.9,680.9 1089.9,672.4 1107.8,664.2 1125.5,656.4 1143.1,649.0" fill="none" stroke="#a0b030" stroke-width="1.3"/><circle cx="916.7" cy="763.9" r="3.2" fill="#a0b030"/><circle cx="937.5" cy="751.5" r="3.2" fill="#a0b030"/><circle cx="957.9" cy="740.0" r="3.2" fill="#a0b030"/><circle cx="977.8" cy="729.0" r="3.2" fill="#a0b030"/><circle cx="997.3" cy="718.5" r="3.2" fill="#a0b030"/><circle cx="1016.4" cy="708.5" r="3.2" fill="#a0b030"/><circle cx="1035.2" cy="698.9" r="3.2" fill="#a0b030"/><circle cx="1053.7" cy="689.7" r="3.2" fill="#a0b030"/><circle cx="1071.9" cy="680.9" r="3.2" fill="#a0b030"/><circle cx="1089.9" cy="672.4" r="3.2" fill="#a0b030"/><circle cx="1107.8" cy="664.2" r="3.2" fill="#a0b030"/><circle cx="1125.5" cy="656.4" r="3.2" fill="#a0b030"/><circle cx="1143.1" cy="649.0" r="3.2" fill="#a0b030"/><polyline points="727.6,1006.5 727.6,1006.5 727.7,1006.4 727.7,1006.3 727.7,1006.2 727.8,1006.1 727.8,1005.9 728.0,1005.8 728.3,1005.6 728.5,1005.4 728.7,1005.2 728.9,1005.0 729.1,1004.7 729.2,1004.5 729.4,1004.2 729.5,1003.9 729.6,1003.6 729.7,1003.3 729.8,1002.9 729.9,1002.6 729.9,1002.2 730.0,1001.8 730.1,1001.4 730.2,1001.0 730.3,1000.6 730.3,1000.1 730.4,999.7 730.5,999.2 730.6,998.7 730.6,998.2 730.7,997.7 730.8,997.2 730.9,996.7 731.0,996.1 731.0,995.6 731.1,995.1 731.2,994.5 731.3,993.9 731.4,993.3 731.5,992.8 731.6,992.2 731.7,991.6 731.8,991.0 731.9,990.4 732.0,989.8 732.1,989.2 732.2,988.6 732.3,987.9 732.4,987.3 732.5,986.7 732.7,986.1 732.8,985.5 732.9,984.9 733.0,984.2 733.1,983.6 733.3,983.0 733.4,982.4 733.5,981.8 733.7,981.2 733.8,980.5 733.9,979.9 734.1,979.3 734.2,978.7 734.4,978.1 734.5,977.5 734.6,976.9 734.8,976.3 734.9,975.7 735.1,975.1 735.2,974.6 735.4,974.0 735.5,973.4 735.7,972.8 735.9,972.2 736.0,971.7 736.2,971.1 736.3,970.6 736.5,970.0 736.6,969.4 736.8,968.9 737.0,968.3 737.1,967.8 737.3,967.3 737.4,966.7 737.6,966.2 737.8,965.7 737.9,965.2 738.1,964.6 738.3,964.1 738.4,963.6 738.6,963.1 738.8,962.6 738.9,962.1 739.1,961.6 739.3,961.1 739.5,960.6 739.6,960.1 739.8,959.6 740.0,959.2 740.1,958.7 740.3,958.2 740.5,957.7 740.7,957.3 740.8,956.8 741.0,956.3 741.2,955.9 741.4,955.4 741.5,955.0 741.7,954.5 741.9,954.1 742.1,953.7 742.2,953.2 742.4,952.8 742.6,952.3 742.8,951.9 742.9,951.5 743.1,951.1 743.3,950.6 743.5,950.2 743.6,949.8 743.8,949.4 744.0,949.0 744.2,948.6 744.3,948.2 744.5,947.8 744.7,947.4 744.9,947.0 745.0,946.6 745.2,946.2 745.4,945.8 745.6,945.4 745.7,945.0 745.9,944.6 746.1,944.2 746.3,943.9 746.5,943.5 746.6,943.1 746.8,942.7 747.0,942.4 747.2,942.0 747.3,941.6 747.5,941.3 747.7,940.9 747.9,940.5 748.0,940.2 748.2,939.8 748.4,939.5 748.6,939.1 748.7,938.8 748.9,938.4 750.5,935.3 752.1,932.4 753.7,929.6 755.2,926.8 756.8,924.2 758.3,921.6 759.9,919.2 761.4,916.7 762.9,914.4 764.4,912.1 765.9,909.8 767.4,907.6 768.8,905.5 770.3,903.3 771.7,901.3 773.1,899.2 774.6,897.2 776.0,895.2 777.4,893.3 778.8,891.3 780.1,889.4 781.5,887.6 782.9,885.7 784.2,883.9 785.6,882.1 786.9,880.3 788.2,878.5 789.5,876.8 790.8,875.1 792.2,873.4 793.5,871.7 794.8,870.1 796.0,868.4 797.3,866.8 798.6,865.3 799.9,863.7 801.2,862.2 802.4,860.7 803.7,859.2 805.0,857.7 806.2,856.2 807.5,854.8 808.7,853.4 810.0,852.0 811.2,850.6 812.5,849.3 813.7,847.9 815.0,846.6 816.2,845.3 817.4,844.0 818.7,842.7 819.9,841.5 821.1,840.2 822.3,839.0 823.6,837.8 824.8,836.6 826.0,835.4 827.2,834.2 828.4,833.0 829.6,831.9 830.9,830.8 832.1,829.6 833.3,828.5 834.5,827.4 835.7,826.4 836.9,825.3 838.1,824.2 839.3,823.2 840.5,822.1 841.7,821.1 842.9,820.1 844.0,819.1 845.2,818.1 846.4,817.1 847.6,816.1 848.8,815.2 850.0,814.2 851.1,813.2 852.3,812.3 853.5,811.4 854.7,810.5 855.9,809.5 857.0,808.6 858.2,807.7 859.4,806.8 860.5,806.0 861.7,805.1 862.9,804.2 864.0,803.4 865.2,802.5 866.4,801.7 867.5,800.8 868.7,800.0 869.8,799.2 871.0,798.4 872.1,797.5 873.3,796.7 874.5,795.9 875.6,795.1 876.8,794.4 877.9,793.6 879.0,792.8 880.2,792.0 881.3,791.3 882.5,790.5 883.6,789.7 884.8,789.0 885.9,788.2 887.0,787.5 888.2,786.7 889.3,786.0 890.4,785.3 891.5,784.5 892.7,783.8 893.8,783.1 894.9,782.4 896.0,781.6 897.2,780.9 898.3,780.2" fill="none" stroke="#909090" stroke-width="7.0" stroke-linejoin="round" stroke-linecap="round"/><polyline points="898.3,780.2 918.4,767.8 939.3,755.4 959.7,743.8 979.6,732.8 999.2,722.3 1018.3,712.2 1037.1,702.6 1055.6,693.3 1073.9,684.4 1091.9,675.8 1109.8,667.6 1127.5,659.8 1145.1,652.3" fill="none" stroke="#909090" stroke-width="1.3"/><circle cx="918.4" cy="767.8" r="3.2" fill="#909090"/><circle cx="939.3" cy="755.4" r="3.2" fill="#909090"/><circle cx="959.7" cy="743.8" r="3.2" fill="#909090"/><circle cx="979.6" cy="732.8" r="3.2" fill="#909090"/><circle cx="999.2" cy="722.3" r="3.2" fill="#909090"/><circle cx="1018.3" cy="712.2" r="3.2" fill="#909090"/><circle cx="1037.1" cy="702.6" r="3.2" fill="#909090"/><circle cx="1055.6" cy="693.3" r="3.2" fill="#909090"/><circle cx="1073.9" cy="684.4" r="3.2" fill="#909090"/><circle cx="1091.9" cy="675.8" r="3.2" fill="#909090"/><circle cx="1109.8" cy="667.6" r="3.2" fill="#909090"/><circle cx="1127.5" cy="659.8" r="3.2" fill="#909090"/><circle cx="1145.1" cy="652.3" r="3.2" fill="#909090"/><polyline points="729.2,1006.5 729.2,1006.5 729.2,1006.4 729.3,1006.3 729.3,1006.2 729.4,1006.1 729.4,1006.0 729.6,1005.9 730.0,1005.7 730.3,1005.6 730.6,1005.4 730.8,1005.2 731.0,1005.0 731.2,1004.8 731.3,1004.5 731.5,1004.3 731.6,1004.0 731.7,1003.8 731.8,1003.5 731.9,1003.2 732.0,1002.9 732.1,1002.5 732.2,1002.2 732.3,1001.8 732.4,1001.5 732.4,1001.1 732.5,1000.7 732.6,1000.3 732.7,999.9 732.8,999.5 732.9,999.1 732.9,998.6 733.0,998.2 733.1,997.7 733.2,997.3 733.3,996.8 733.4,996.3 733.5,995.8 733.5,995.3 733.6,994.8 733.7,994.3 733.8,993.8 733.9,993.3 734.0,992.8 734.1,992.2 734.2,991.7 734.3,991.2 734.4,990.6 734.6,990.1 734.7,989.5 734.8,989.0 734.9,988.4 735.0,987.9 735.1,987.3 735.2,986.8 735.4,986.2 735.5,985.7 735.6,985.1 735.7,984.6 735.9,984.0 736.0,983.5 736.1,982.9 736.3,982.4 736.4,981.8 736.5,981.3 736.7,980.7 736.8,980.2 737.0,979.6 737.1,979.1 737.2,978.5 737.4,978.0 737.5,977.5 737.7,976.9 737.8,976.4 738.0,975.9 738.1,975.3 738.3,974.8 738.4,974.3 738.6,973.8 738.7,973.2 738.9,972.7 739.1,972.2 739.2,971.7 739.4,971.2 739.5,970.7 739.7,970.2 739.9,969.7 740.0,969.2 740.2,968.7 740.3,968.2 740.5,967.7 740.7,967.2 740.8,966.8 741.0,966.3 741.2,965.8 741.3,965.3 741.5,964.9 741.7,964.4 741.8,963.9 742.0,963.5 742.2,963.0 742.3,962.5 742.5,962.1 742.7,961.6 742.8,961.2 743.0,960.8 743.2,960.3 743.3,959.9 743.5,959.4 743.7,959.0 743.9,958.6 744.0,958.1 744.2,957.7 744.4,957.3 744.5,956.9 744.7,956.4 744.9,956.0 745.1,955.6 745.2,955.2 745.4,954.8 745.6,954.4 745.7,954.0 745.9,953.6 746.1,953.2 746.3,952.8 746.4,952.4 746.6,952.0 746.8,951.6 747.0,951.2 747.1,950.8 747.3,950.4 747.5,950.1 747.7,949.7 747.8,949.3 748.0,948.9 748.2,948.6 748.4,948.2 748.5,947.8 748.7,947.5 748.9,947.1 749.1,946.7 749.2,946.4 749.4,946.0 749.6,945.6 749.8,945.3 749.9,944.9 750.1,944.6 750.3,944.2 750.5,943.9 750.6,943.5 752.2,940.5 753.8,937.5 755.3,934.7 756.9,932.0 758.4,929.3 760.0,926.8 761.5,924.3 763.0,921.8 764.5,919.5 766.0,917.2 767.5,914.9 769.0,912.7 770.4,910.5 771.9,908.4 773.3,906.3 774.8,904.2 776.2,902.2 777.6,900.2 779.0,898.2 780.4,896.2 781.7,894.3 783.1,892.4 784.5,890.6 785.8,888.7 787.1,886.9 788.5,885.1 789.8,883.3 791.1,881.6 792.4,879.8 793.7,878.1 795.0,876.4 796.3,874.8 797.6,873.1 798.9,871.5 800.2,869.9 801.4,868.3 802.7,866.8 804.0,865.2 805.3,863.7 806.5,862.2 807.8,860.8 809.0,859.3 810.3,857.9 811.5,856.5 812.8,855.1 814.0,853.7 815.3,852.4 816.5,851.0 817.7,849.7 819.0,848.4 820.2,847.1 821.4,845.8 822.7,844.6 823.9,843.3 825.1,842.1 826.3,840.9 827.6,839.7 828.8,838.5 830.0,837.3 831.2,836.2 832.4,835.0 833.6,833.9 834.8,832.8 836.0,831.7 837.2,830.6 838.4,829.5 839.6,828.4 840.8,827.4 842.0,826.3 843.2,825.3 844.4,824.3 845.6,823.2 846.8,822.2 848.0,821.2 849.2,820.3 850.4,819.3 851.5,818.3 852.7,817.4 853.9,816.4 855.1,815.5 856.3,814.6 857.4,813.6 858.6,812.7 859.8,811.8 861.0,810.9 862.1,810.0 863.3,809.2 864.5,808.3 865.6,807.4 866.8,806.6 868.0,805.7 869.1,804.9 870.3,804.0 871.5,803.2 872.6,802.4 873.8,801.6 874.9,800.8 876.1,800.0 877.2,799.2 878.4,798.4 879.5,797.6 880.7,796.8 881.8,796.0 883.0,795.3 884.1,794.5 885.3,793.7 886.4,793.0 887.6,792.2 888.7,791.5 889.8,790.7 891.0,790.0 892.1,789.2 893.2,788.5 894.4,787.8 895.5,787.1 896.6,786.3 897.7,785.6 898.9,784.9 900.0,784.2" fill="none" stroke="#b08080" stroke-width="7.0" stroke-linejoin="round" stroke-linecap="round"/><polyline points="900.0,784.2 920.2,771.7 941.1,759.3 961.6,747.6 981.5,736.5 1001.1,726.0 1020.3,715.9 1039.1,706.2 1057.6,696.9 1075.9,687.9 1094.0,679.3 1111.8,671.0 1129.6,663.1 1147.2,655.6" fill="none" stroke="#b08080" stroke-width="1.3"/><circle cx="920.2" cy="771.7" r="3.2" fill="#b08080"/><circle cx="941.1" cy="759.3" r="3.2" fill="#b08080"/><circle cx="961.6" cy="747.6" r="3.2" fill="#b08080"/><circle cx="981.5" cy="736.5" r="3.2" fill="#b08080"/><circle cx="1001.1" cy="726.0" r="3.2" fill="#b08080"/><circle cx="1020.3" cy="715.9" r="3.2" fill="#b08080"/><circle cx="1039.1" cy="706.2" r="3.2" fill="#b08080"/><circle cx="1057.6" cy="696.9" r="3.2" fill="#b08080"/><circle cx="1075.9" cy="687.9" r="3.2" fill="#b08080"/><circle cx="1094.0" cy="679.3" r="3.2" fill="#b08080"/><circle cx="1111.8" cy="671.0" r="3.2" fill="#b08080"/><circle cx="1129.6" cy="663.1" r="3.2" fill="#b08080"/><circle cx="1147.2" cy="655.6" r="3.2" fill="#b08080"/><polyline points="731.0,1006.5 731.0,1006.5 731.0,1006.4 731.1,1006.4 731.1,1006.3 731.2,1006.2 731.2,1006.1 731.5,1006.0 732.0,1005.8 732.4,1005.7 732.7,1005.6 732.9,1005.4 733.2,1005.2 733.4,1005.0 733.6,1004.9 733.8,1004.6 733.9,1004.4 734.0,1004.2 734.2,1004.0 734.3,1003.7 734.4,1003.5 734.5,1003.2 734.6,1002.9 734.7,1002.6 734.8,1002.3 734.9,1002.0 735.0,1001.7 735.1,1001.3 735.2,1001.0 735.3,1000.6 735.3,1000.3 735.4,999.9 735.5,999.5 735.6,999.1 735.7,998.7 735.8,998.3 735.9,997.9 735.9,997.5 736.0,997.1 736.1,996.7 736.2,996.2 736.3,995.8 736.4,995.3 736.5,994.9 736.6,994.4 736.7,994.0 736.8,993.5 736.9,993.0 737.0,992.6 737.1,992.1 737.2,991.6 737.3,991.1 737.4,990.6 737.5,990.2 737.7,989.7 737.8,989.2 737.9,988.7 738.0,988.2 738.1,987.7 738.2,987.2 738.4,986.7 738.5,986.2 738.6,985.7 738.7,985.2 738.9,984.7 739.0,984.2 739.1,983.7 739.3,983.2 739.4,982.7 739.5,982.2 739.7,981.7 739.8,981.2 740.0,980.7 740.1,980.2 740.2,979.7 740.4,979.3 740.5,978.8 740.7,978.3 740.8,977.8 741.0,977.3 741.1,976.8 741.3,976.3 741.4,975.9 741.6,975.4 741.7,974.9 741.9,974.4 742.0,974.0 742.2,973.5 742.3,973.0 742.5,972.6 742.6,972.1 742.8,971.6 742.9,971.2 743.1,970.7 743.3,970.3 743.4,969.8 743.6,969.4 743.7,968.9 743.9,968.5 744.1,968.0 744.2,967.6 744.4,967.2 744.6,966.7 744.7,966.3 744.9,965.8 745.0,965.4 745.2,965.0 745.4,964.6 745.5,964.1 745.7,963.7 745.9,963.3 746.0,962.9 746.2,962.5 746.4,962.1 746.5,961.6 746.7,961.2 746.9,960.8 747.0,960.4 747.2,960.0 747.4,959.6 747.6,959.2 747.7,958.8 747.9,958.4 748.1,958.0 748.2,957.7 748.4,957.3 748.6,956.9 748.7,956.5 748.9,956.1 749.1,955.7 749.3,955.4 749.4,955.0 749.6,954.6 749.8,954.2 749.9,953.9 750.1,953.5 750.3,953.1 750.5,952.8 750.6,952.4 750.8,952.0 751.0,951.7 751.1,951.3 751.3,951.0 751.5,950.6 751.7,950.3 751.8,949.9 752.0,949.6 752.2,949.2 752.3,948.9 752.5,948.5 754.1,945.5 755.6,942.6 757.2,939.7 758.7,937.0 760.3,934.4 761.8,931.8 763.3,929.3 764.8,926.9 766.3,924.5 767.8,922.2 769.3,919.9 770.7,917.7 772.2,915.5 773.6,913.3 775.1,911.2 776.5,909.2 777.9,907.1 779.3,905.1 780.7,903.1 782.1,901.1 783.4,899.2 784.8,897.3 786.1,895.4 787.5,893.5 788.8,891.7 790.1,889.9 791.5,888.1 792.8,886.3 794.1,884.6 795.4,882.8 796.7,881.1 798.0,879.4 799.3,877.8 800.5,876.1 801.8,874.5 803.1,872.9 804.4,871.4 805.6,869.8 806.9,868.3 808.1,866.8 809.4,865.3 810.7,863.8 811.9,862.4 813.2,861.0 814.4,859.6 815.6,858.2 816.9,856.8 818.1,855.5 819.4,854.1 820.6,852.8 821.8,851.5 823.0,850.2 824.3,848.9 825.5,847.7 826.7,846.4 827.9,845.2 829.2,844.0 830.4,842.8 831.6,841.6 832.8,840.5 834.0,839.3 835.2,838.2 836.4,837.0 837.6,835.9 838.8,834.8 840.0,833.7 841.2,832.6 842.4,831.6 843.6,830.5 844.8,829.5 846.0,828.4 847.2,827.4 848.4,826.4 849.6,825.4 850.8,824.4 852.0,823.4 853.2,822.5 854.4,821.5 855.5,820.5 856.7,819.6 857.9,818.7 859.1,817.7 860.3,816.8 861.4,815.9 862.6,815.0 863.8,814.1 865.0,813.2 866.1,812.4 867.3,811.5 868.5,810.6 869.6,809.8 870.8,808.9 872.0,808.1 873.1,807.3 874.3,806.4 875.5,805.6 876.6,804.8 877.8,804.0 878.9,803.2 880.1,802.4 881.2,801.6 882.4,800.8 883.5,800.0 884.7,799.3 885.8,798.5 887.0,797.7 888.1,797.0 889.3,796.2 890.4,795.4 891.5,794.7 892.7,794.0 893.8,793.2 895.0,792.5 896.1,791.7 897.2,791.0 898.3,790.3 899.5,789.6 900.6,788.9 901.7,788.1" fill="none" stroke="#80a080" stroke-width="7.0" stroke-linejoin="round" stroke-linecap="round"/><polyline points="901.7,788.1 922.0,775.6 943.0,763.1 963.5,751.4 983.5,740.3 1003.1,729.7 1022.3,719.5 1041.1,709.8 1059.7,700.4 1078.0,691.4 1096.0,682.7 1113.9,674.4 1131.6,666.5 1149.3,658.9" fill="none" stroke="#80a080" stroke-width="1.3"/><circle cx="922.0" cy="775.6" r="3.2" fill="#80a080"/><circle cx="943.0" cy="763.1" r="3.2" fill="#80a080"/><circle cx="963.5" cy="751.4" r="3.2" fill="#80a080"/><circle cx="983.5" cy="740.3" r="3.2" fill="#80a080"/><circle cx="1003.1" cy="729.7" r="3.2" fill="#80a080"/><circle cx="1022.3" cy="719.5" r="3.2" fill="#80a080"/><circle cx="1041.1" cy="709.8" r="3.2" fill="#80a080"/><circle cx="1059.7" cy="700.4" r="3.2" fill="#80a080"/><circle cx="1078.0" cy="691.4" r="3.2" fill="#80a080"/><circle cx="1096.0" cy="682.7" r="3.2" fill="#80a080"/><circle cx="1113.9" cy="674.4" r="3.2" fill="#80a080"/><circle cx="1131.6" cy="666.5" r="3.2" fill="#80a080"/><circle cx="1149.3" cy="658.9" r="3.2" fill="#80a080"/><polyline points="732.9,1006.5 732.9,1006.5 733.0,1006.4 733.0,1006.4 733.1,1006.3 733.1,1006.2 733.2,1006.1 733.5,1006.0 734.1,1005.9 734.6,1005.8 735.0,1005.7 735.3,1005.6 735.6,1005.4 735.9,1005.3 736.1,1005.1 736.3,1004.9 736.5,1004.8 736.6,1004.6 736.8,1004.4 736.9,1004.2 737.1,1004.0 737.2,1003.7 737.3,1003.5 737.4,1003.3 737.5,1003.0 737.6,1002.7 737.7,1002.5 737.8,1002.2 737.9,1001.9 738.0,1001.6 738.1,1001.3 738.2,1001.0 738.3,1000.7 738.4,1000.4 738.5,1000.0 738.6,999.7 738.7,999.3 738.7,999.0 738.8,998.6 738.9,998.3 739.0,997.9 739.1,997.5 739.2,997.1 739.3,996.8 739.4,996.4 739.5,996.0 739.6,995.6 739.7,995.2 739.8,994.8 739.9,994.3 740.0,993.9 740.1,993.5 740.2,993.1 740.3,992.7 740.4,992.2 740.5,991.8 740.6,991.4 740.7,990.9 740.8,990.5 740.9,990.0 741.0,989.6 741.1,989.2 741.3,988.7 741.4,988.3 741.5,987.8 741.6,987.4 741.7,986.9 741.9,986.5 742.0,986.0 742.1,985.6 742.2,985.1 742.4,984.7 742.5,984.2 742.6,983.8 742.8,983.3 742.9,982.9 743.0,982.4 743.2,982.0 743.3,981.5 743.5,981.1 743.6,980.6 743.7,980.2 743.9,979.7 744.0,979.3 744.2,978.8 744.3,978.4 744.4,978.0 744.6,977.5 744.7,977.1 744.9,976.6 745.0,976.2 745.2,975.8 745.3,975.3 745.5,974.9 745.6,974.5 745.8,974.0 745.9,973.6 746.1,973.2 746.2,972.8 746.4,972.3 746.6,971.9 746.7,971.5 746.9,971.1 747.0,970.7 747.2,970.3 747.3,969.8 747.5,969.4 747.7,969.0 747.8,968.6 748.0,968.2 748.1,967.8 748.3,967.4 748.5,967.0 748.6,966.6 748.8,966.2 748.9,965.8 749.1,965.4 749.3,965.0 749.4,964.6 749.6,964.3 749.8,963.9 749.9,963.5 750.1,963.1 750.2,962.7 750.4,962.3 750.6,962.0 750.7,961.6 750.9,961.2 751.1,960.8 751.2,960.5 751.4,960.1 751.6,959.7 751.7,959.4 751.9,959.0 752.1,958.6 752.2,958.3 752.4,957.9 752.6,957.6 752.7,957.2 752.9,956.9 753.1,956.5 753.2,956.1 753.4,955.8 753.6,955.4 753.8,955.1 753.9,954.8 754.1,954.4 754.3,954.1 754.4,953.7 754.6,953.4 756.1,950.4 757.7,947.5 759.2,944.7 760.7,942.0 762.2,939.3 763.7,936.8 765.2,934.3 766.7,931.9 768.2,929.5 769.7,927.2 771.2,924.9 772.6,922.6 774.1,920.4 775.5,918.3 776.9,916.2 778.3,914.1 779.7,912.0 781.1,910.0 782.5,908.0 783.9,906.0 785.2,904.0 786.6,902.1 787.9,900.2 789.3,898.3 790.6,896.5 791.9,894.6 793.2,892.8 794.5,891.0 795.8,889.3 797.1,887.5 798.4,885.8 799.7,884.1 801.0,882.4 802.3,880.8 803.5,879.1 804.8,877.5 806.1,876.0 807.3,874.4 808.6,872.8 809.8,871.3 811.1,869.8 812.3,868.3 813.6,866.9 814.8,865.5 816.1,864.0 817.3,862.6 818.6,861.2 819.8,859.9 821.0,858.5 822.3,857.2 823.5,855.9 824.7,854.6 825.9,853.3 827.2,852.0 828.4,850.8 829.6,849.5 830.8,848.3 832.0,847.1 833.3,845.9 834.5,844.7 835.7,843.6 836.9,842.4 838.1,841.3 839.3,840.2 840.5,839.1 841.7,837.9 842.9,836.9 844.1,835.8 845.3,834.7 846.5,833.7 847.7,832.6 848.9,831.6 850.1,830.6 851.3,829.6 852.5,828.6 853.7,827.6 854.8,826.6 856.0,825.6 857.2,824.7 858.4,823.7 859.6,822.8 860.8,821.8 861.9,820.9 863.1,820.0 864.3,819.1 865.5,818.2 866.7,817.3 867.8,816.4 869.0,815.6 870.2,814.7 871.3,813.8 872.5,813.0 873.7,812.1 874.8,811.3 876.0,810.5 877.2,809.6 878.3,808.8 879.5,808.0 880.7,807.2 881.8,806.4 883.0,805.6 884.1,804.8 885.3,804.0 886.4,803.3 887.6,802.5 888.7,801.7 889.9,801.0 891.0,800.2 892.2,799.4 893.3,798.7 894.5,797.9 895.6,797.2 896.7,796.5 897.9,795.7 899.0,795.0 900.1,794.3 901.3,793.5 902.4,792.8 903.5,792.1" fill="none" stroke="#3090c8" stroke-width="7.0" stroke-linejoin="round" stroke-linecap="round"/><polyline points="903.5,792.1 923.8,779.5 944.9,767.0 965.4,755.2 985.5,744.0 1005.1,733.4 1024.3,723.2 1043.2,713.4 1061.8,704.0 1080.1,694.9 1098.1,686.2 1116.0,677.8 1133.8,669.9 1151.4,662.3" fill="none" stroke="#3090c8" stroke-width="1.3"/><circle cx="923.8" cy="779.5" r="3.2" fill="#3090c8"/><circle cx="944.9" cy="767.0" r="3.2" fill="#3090c8"/><circle cx="965.4" cy="755.2" r="3.2" fill="#3090c8"/><circle cx="985.5" cy="744.0" r="3.2" fill="#3090c8"/><circle cx="1005.1" cy="733.4" r="3.2" fill="#3090c8"/><circle cx="1024.3" cy="723.2" r="3.2" fill="#3090c8"/><circle cx="1043.2" cy="713.4" r="3.2" fill="#3090c8"/><circle cx="1061.8" cy="704.0" r="3.2" fill="#3090c8"/><circle cx="1080.1" cy="694.9" r="3.2" fill="#3090c8"/><circle cx="1098.1" cy="686.2" r="3.2" fill="#3090c8"/><circle cx="1116.0" cy="677.8" r="3.2" fill="#3090c8"/><circle cx="1133.8" cy="669.9" r="3.2" fill="#3090c8"/><circle cx="1151.4" cy="662.3" r="3.2" fill="#3090c8"/><polyline points="734.8,1006.5 734.9,1006.5 734.9,1006.4 735.0,1006.4 735.1,1006.3 735.1,1006.3 735.2,1006.2 735.6,1006.1 736.3,1006.0 736.9,1005.9 737.4,1005.8 737.8,1005.7 738.1,1005.6 738.5,1005.5 738.7,1005.3 739.0,1005.2 739.2,1005.0 739.4,1004.9 739.6,1004.7 739.8,1004.5 740.0,1004.4 740.1,1004.2 740.2,1004.0 740.4,1003.8 740.5,1003.6 740.6,1003.4 740.7,1003.1 740.8,1002.9 741.0,1002.7 741.1,1002.4 741.2,1002.2 741.3,1001.9 741.3,1001.6 741.4,1001.4 741.5,1001.1 741.6,1000.8 741.7,1000.5 741.8,1000.2 741.9,999.9 742.0,999.6 742.1,999.3 742.2,999.0 742.3,998.7 742.3,998.3 742.4,998.0 742.5,997.7 742.6,997.3 742.7,997.0 742.8,996.6 742.9,996.3 743.0,995.9 743.1,995.5 743.2,995.2 743.3,994.8 743.4,994.4 743.5,994.1 743.6,993.7 743.7,993.3 743.8,992.9 743.9,992.5 744.0,992.1 744.1,991.7 744.2,991.3 744.3,991.0 744.4,990.6 744.5,990.2 744.7,989.8 744.8,989.4 744.9,989.0 745.0,988.5 745.1,988.1 745.2,987.7 745.4,987.3 745.5,986.9 745.6,986.5 745.7,986.1 745.9,985.7 746.0,985.3 746.1,984.9 746.2,984.5 746.4,984.1 746.5,983.6 746.6,983.2 746.8,982.8 746.9,982.4 747.0,982.0 747.2,981.6 747.3,981.2 747.4,980.8 747.6,980.4 747.7,980.0 747.9,979.6 748.0,979.2 748.1,978.8 748.3,978.4 748.4,978.0 748.6,977.6 748.7,977.2 748.9,976.8 749.0,976.4 749.2,976.0 749.3,975.6 749.4,975.2 749.6,974.8 749.7,974.4 749.9,974.0 750.0,973.6 750.2,973.2 750.4,972.8 750.5,972.4 750.7,972.1 750.8,971.7 751.0,971.3 751.1,970.9 751.3,970.5 751.4,970.1 751.6,969.8 751.7,969.4 751.9,969.0 752.1,968.6 752.2,968.3 752.4,967.9 752.5,967.5 752.7,967.2 752.8,966.8 753.0,966.4 753.2,966.1 753.3,965.7 753.5,965.4 753.6,965.0 753.8,964.6 754.0,964.3 754.1,963.9 754.3,963.6 754.4,963.2 754.6,962.9 754.8,962.5 754.9,962.2 755.1,961.8 755.3,961.5 755.4,961.1 755.6,960.8 755.7,960.4 755.9,960.1 756.1,959.8 756.2,959.4 756.4,959.1 756.6,958.7 756.7,958.4 756.9,958.1 758.4,955.1 759.9,952.3 761.4,949.5 762.9,946.8 764.4,944.2 765.9,941.7 767.4,939.2 768.8,936.7 770.3,934.4 771.8,932.0 773.2,929.8 774.7,927.5 776.1,925.3 777.5,923.2 778.9,921.0 780.3,918.9 781.7,916.9 783.1,914.8 784.5,912.8 785.8,910.8 787.2,908.9 788.5,906.9 789.8,905.0 791.2,903.1 792.5,901.2 793.8,899.4 795.1,897.6 796.4,895.8 797.7,894.0 799.0,892.2 800.3,890.5 801.5,888.8 802.8,887.1 804.1,885.4 805.3,883.8 806.6,882.1 807.9,880.5 809.1,878.9 810.4,877.4 811.6,875.9 812.9,874.3 814.1,872.9 815.4,871.4 816.6,869.9 817.8,868.5 819.1,867.1 820.3,865.7 821.6,864.3 822.8,862.9 824.0,861.6 825.2,860.3 826.5,859.0 827.7,857.7 828.9,856.4 830.1,855.1 831.3,853.9 832.6,852.6 833.8,851.4 835.0,850.2 836.2,849.0 837.4,847.9 838.6,846.7 839.8,845.5 841.0,844.4 842.2,843.3 843.4,842.2 844.6,841.1 845.8,840.0 847.0,838.9 848.2,837.9 849.4,836.8 850.6,835.8 851.8,834.7 853.0,833.7 854.2,832.7 855.4,831.7 856.6,830.7 857.8,829.8 859.0,828.8 860.2,827.8 861.3,826.9 862.5,826.0 863.7,825.0 864.9,824.1 866.1,823.2 867.2,822.3 868.4,821.4 869.6,820.5 870.8,819.6 871.9,818.8 873.1,817.9 874.3,817.0 875.5,816.2 876.6,815.3 877.8,814.5 879.0,813.7 880.1,812.9 881.3,812.0 882.5,811.2 883.6,810.4 884.8,809.6 885.9,808.8 887.1,808.0 888.2,807.3 889.4,806.5 890.5,805.7 891.7,804.9 892.8,804.2 894.0,803.4 895.1,802.7 896.3,801.9 897.4,801.2 898.6,800.4 899.7,799.7 900.8,799.0 902.0,798.2 903.1,797.5 904.2,796.8 905.4,796.1" fill="none" stroke="#40a8d8" stroke-width="7.0" stroke-linejoin="round" stroke-linecap="round"/><polyline points="905.4,796.1 925.7,783.4 946.8,770.8 967.4,759.0 987.5,747.8 1007.1,737.1 1026.4,726.9 1045.3,717.0 1063.9,707.5 1082.2,698.4 1100.3,689.7 1118.2,681.3 1135.9,673.2 1153.6,665.6" fill="none" stroke="#40a8d8" stroke-width="1.3"/><circle cx="925.7" cy="783.4" r="3.2" fill="#40a8d8"/><circle cx="946.8" cy="770.8" r="3.2" fill="#40a8d8"/><circle cx="967.4" cy="759.0" r="3.2" fill="#40a8d8"/><circle cx="987.5" cy="747.8" r="3.2" fill="#40a8d8"/><circle cx="1007.1" cy="737.1" r="3.2" fill="#40a8d8"/><circle cx="1026.4" cy="726.9" r="3.2" fill="#40a8d8"/><circle cx="1045.3" cy="717.0" r="3.2" fill="#40a8d8"/><circle cx="1063.9" cy="707.5" r="3.2" fill="#40a8d8"/><circle cx="1082.2" cy="698.4" r="3.2" fill="#40a8d8"/><circle cx="1100.3" cy="689.7" r="3.2" fill="#40a8d8"/><circle cx="1118.2" cy="681.3" r="3.2" fill="#40a8d8"/><circle cx="1135.9" cy="673.2" r="3.2" fill="#40a8d8"/><circle cx="1153.6" cy="665.6" r="3.2" fill="#40a8d8"/><polyline points="736.8,1006.5 736.8,1006.5 736.9,1006.4 737.0,1006.4 737.1,1006.4 737.2,1006.3 737.3,1006.2 737.8,1006.1 738.6,1006.1 739.3,1006.0 739.9,1005.9 740.4,1005.8 740.8,1005.7 741.2,1005.6 741.5,1005.5 741.8,1005.4 742.1,1005.3 742.4,1005.1 742.6,1005.0 742.8,1004.9 743.0,1004.7 743.2,1004.5 743.3,1004.4 743.5,1004.2 743.7,1004.0 743.8,1003.9 743.9,1003.7 744.1,1003.5 744.2,1003.3 744.3,1003.1 744.4,1002.9 744.5,1002.7 744.6,1002.4 744.7,1002.2 744.8,1002.0 744.9,1001.7 745.0,1001.5 745.1,1001.2 745.2,1001.0 745.3,1000.7 745.4,1000.5 745.5,1000.2 745.6,999.9 745.7,999.6 745.8,999.4 745.8,999.1 745.9,998.8 746.0,998.5 746.1,998.2 746.2,997.9 746.3,997.6 746.4,997.3 746.5,996.9 746.6,996.6 746.7,996.3 746.8,996.0 746.9,995.7 747.0,995.3 747.1,995.0 747.2,994.6 747.3,994.3 747.4,994.0 747.5,993.6 747.6,993.3 747.7,992.9 747.8,992.6 747.9,992.2 748.0,991.9 748.1,991.5 748.2,991.2 748.3,990.8 748.4,990.4 748.5,990.1 748.6,989.7 748.7,989.3 748.9,989.0 749.0,988.6 749.1,988.2 749.2,987.9 749.3,987.5 749.4,987.1 749.6,986.8 749.7,986.4 749.8,986.0 749.9,985.6 750.1,985.3 750.2,984.9 750.3,984.5 750.4,984.1 750.6,983.8 750.7,983.4 750.8,983.0 751.0,982.7 751.1,982.3 751.2,981.9 751.4,981.5 751.5,981.2 751.6,980.8 751.8,980.4 751.9,980.0 752.0,979.7 752.2,979.3 752.3,978.9 752.5,978.6 752.6,978.2 752.7,977.8 752.9,977.5 753.0,977.1 753.2,976.7 753.3,976.4 753.5,976.0 753.6,975.6 753.7,975.3 753.9,974.9 754.0,974.6 754.2,974.2 754.3,973.8 754.5,973.5 754.6,973.1 754.8,972.8 754.9,972.4 755.1,972.1 755.2,971.7 755.4,971.4 755.5,971.0 755.7,970.7 755.8,970.3 756.0,970.0 756.1,969.6 756.3,969.3 756.5,968.9 756.6,968.6 756.8,968.2 756.9,967.9 757.1,967.6 757.2,967.2 757.4,966.9 757.5,966.5 757.7,966.2 757.9,965.9 758.0,965.5 758.2,965.2 758.3,964.9 758.5,964.5 758.6,964.2 758.8,963.9 759.0,963.6 759.1,963.2 759.3,962.9 759.4,962.6 760.9,959.7 762.3,956.9 763.8,954.2 765.3,951.5 766.7,948.9 768.2,946.4 769.7,944.0 771.1,941.5 772.6,939.2 774.0,936.9 775.4,934.6 776.8,932.3 778.3,930.1 779.7,928.0 781.1,925.8 782.4,923.7 783.8,921.7 785.2,919.6 786.5,917.6 787.9,915.6 789.2,913.6 790.6,911.7 791.9,909.7 793.2,907.8 794.5,906.0 795.8,904.1 797.1,902.3 798.4,900.4 799.7,898.6 800.9,896.9 802.2,895.1 803.5,893.4 804.7,891.7 806.0,890.0 807.3,888.3 808.5,886.7 809.8,885.1 811.0,883.5 812.3,881.9 813.5,880.4 814.7,878.8 816.0,877.3 817.2,875.9 818.5,874.4 819.7,872.9 820.9,871.5 822.2,870.1 823.4,868.7 824.6,867.3 825.8,866.0 827.1,864.6 828.3,863.3 829.5,862.0 830.7,860.7 831.9,859.4 833.2,858.2 834.4,856.9 835.6,855.7 836.8,854.5 838.0,853.3 839.2,852.1 840.4,850.9 841.6,849.8 842.8,848.6 844.0,847.5 845.2,846.4 846.4,845.3 847.6,844.2 848.8,843.1 850.0,842.0 851.2,841.0 852.4,839.9 853.6,838.9 854.8,837.9 856.0,836.9 857.2,835.9 858.4,834.9 859.6,833.9 860.8,832.9 862.0,832.0 863.1,831.0 864.3,830.1 865.5,829.1 866.7,828.2 867.9,827.3 869.1,826.4 870.2,825.5 871.4,824.6 872.6,823.7 873.8,822.8 874.9,821.9 876.1,821.1 877.3,820.2 878.5,819.4 879.6,818.5 880.8,817.7 882.0,816.9 883.1,816.1 884.3,815.3 885.5,814.4 886.6,813.6 887.8,812.8 888.9,812.1 890.1,811.3 891.3,810.5 892.4,809.7 893.6,808.9 894.7,808.2 895.9,807.4 897.0,806.7 898.2,805.9 899.3,805.2 900.5,804.4 901.6,803.7 902.7,802.9 903.9,802.2 905.0,801.5 906.1,800.7 907.3,800.0" fill="none" stroke="#000000" stroke-width="7.0" stroke-linejoin="round" stroke-linecap="round"/><polyline points="907.3,800.0 927.7,787.3 948.8,774.7 969.4,762.8 989.6,751.6 1009.2,740.8 1028.5,730.5 1047.4,720.6 1066.0,711.1 1084.4,701.9 1102.4,693.1 1120.3,684.7 1138.1,676.6 1155.8,668.9" fill="none" stroke="#000000" stroke-width="1.3"/><circle cx="927.7" cy="787.3" r="3.2" fill="#000000"/><circle cx="948.8" cy="774.7" r="3.2" fill="#000000"/><circle cx="969.4" cy="762.8" r="3.2" fill="#000000"/><circle cx="989.6" cy="751.6" r="3.2" fill="#000000"/><circle cx="1009.2" cy="740.8" r="3.2" fill="#000000"/><circle cx="1028.5" cy="730.5" r="3.2" fill="#000000"/><circle cx="1047.4" cy="720.6" r="3.2" fill="#000000"/><circle cx="1066.0" cy="711.1" r="3.2" fill="#000000"/><circle cx="1084.4" cy="701.9" r="3.2" fill="#000000"/><circle cx="1102.4" cy="693.1" r="3.2" fill="#000000"/><circle cx="1120.3" cy="684.7" r="3.2" fill="#000000"/><circle cx="1138.1" cy="676.6" r="3.2" fill="#000000"/><circle cx="1155.8" cy="668.9" r="3.2" fill="#000000"/><polyline points="738.7,1006.5 738.8,1006.5 738.9,1006.5 739.0,1006.4 739.1,1006.4 739.2,1006.3 739.3,1006.3 739.9,1006.2 740.8,1006.1 741.7,1006.1 742.4,1006.0 743.0,1005.9 743.5,1005.8 744.0,1005.7 744.4,1005.6 744.8,1005.5 745.1,1005.4 745.4,1005.3 745.7,1005.2 745.9,1005.1 746.2,1005.0 746.4,1004.8 746.6,1004.7 746.8,1004.6 746.9,1004.4 747.1,1004.3 747.3,1004.1 747.4,1004.0 747.6,1003.8 747.7,1003.6 747.8,1003.4 748.0,1003.3 748.1,1003.1 748.2,1002.9 748.3,1002.7 748.4,1002.5 748.5,1002.3 748.6,1002.1 748.7,1001.9 748.8,1001.6 748.9,1001.4 749.0,1001.2 749.1,1001.0 749.2,1000.7 749.3,1000.5 749.4,1000.2 749.5,1000.0 749.6,999.7 749.7,999.5 749.8,999.2 749.9,999.0 749.9,998.7 750.0,998.4 750.1,998.2 750.2,997.9 750.3,997.6 750.4,997.3 750.5,997.0 750.6,996.7 750.7,996.4 750.8,996.2 750.9,995.9 751.0,995.6 751.1,995.3 751.2,995.0 751.3,994.6 751.4,994.3 751.5,994.0 751.6,993.7 751.7,993.4 751.8,993.1 751.9,992.8 752.0,992.4 752.1,992.1 752.2,991.8 752.3,991.5 752.4,991.1 752.5,990.8 752.6,990.5 752.7,990.2 752.8,989.8 752.9,989.5 753.0,989.2 753.2,988.8 753.3,988.5 753.4,988.1 753.5,987.8 753.6,987.5 753.7,987.1 753.9,986.8 754.0,986.5 754.1,986.1 754.2,985.8 754.3,985.4 754.5,985.1 754.6,984.7 754.7,984.4 754.8,984.1 755.0,983.7 755.1,983.4 755.2,983.0 755.4,982.7 755.5,982.4 755.6,982.0 755.8,981.7 755.9,981.3 756.0,981.0 756.1,980.6 756.3,980.3 756.4,980.0 756.6,979.6 756.7,979.3 756.8,978.9 757.0,978.6 757.1,978.3 757.2,977.9 757.4,977.6 757.5,977.3 757.7,976.9 757.8,976.6 757.9,976.3 758.1,975.9 758.2,975.6 758.4,975.2 758.5,974.9 758.7,974.6 758.8,974.3 758.9,973.9 759.1,973.6 759.2,973.3 759.4,972.9 759.5,972.6 759.7,972.3 759.8,972.0 760.0,971.6 760.1,971.3 760.3,971.0 760.4,970.7 760.6,970.3 760.7,970.0 760.9,969.7 761.0,969.4 761.2,969.1 761.3,968.7 761.5,968.4 761.6,968.1 761.8,967.8 761.9,967.5 762.1,967.2 762.2,966.8 763.6,964.0 765.0,961.3 766.5,958.7 767.9,956.1 769.3,953.5 770.7,951.0 772.2,948.6 773.6,946.2 775.0,943.9 776.4,941.6 777.8,939.3 779.2,937.1 780.6,934.9 782.0,932.7 783.4,930.6 784.7,928.5 786.1,926.4 787.4,924.3 788.8,922.3 790.1,920.3 791.4,918.3 792.7,916.4 794.0,914.4 795.3,912.5 796.6,910.6 797.9,908.8 799.2,906.9 800.5,905.1 801.7,903.3 803.0,901.5 804.3,899.7 805.5,898.0 806.8,896.3 808.0,894.6 809.3,892.9 810.5,891.2 811.8,889.6 813.0,888.0 814.2,886.4 815.5,884.9 816.7,883.3 817.9,881.8 819.2,880.3 820.4,878.8 821.6,877.4 822.9,875.9 824.1,874.5 825.3,873.1 826.5,871.7 827.7,870.4 829.0,869.0 830.2,867.7 831.4,866.4 832.6,865.1 833.8,863.8 835.0,862.5 836.3,861.2 837.5,860.0 838.7,858.8 839.9,857.6 841.1,856.4 842.3,855.2 843.5,854.0 844.7,852.9 845.9,851.7 847.1,850.6 848.3,849.5 849.5,848.4 850.7,847.3 851.9,846.2 853.1,845.2 854.3,844.1 855.5,843.1 856.7,842.0 857.9,841.0 859.1,840.0 860.3,839.0 861.5,838.0 862.6,837.0 863.8,836.1 865.0,835.1 866.2,834.2 867.4,833.2 868.6,832.3 869.8,831.4 870.9,830.5 872.1,829.5 873.3,828.6 874.5,827.8 875.7,826.9 876.8,826.0 878.0,825.1 879.2,824.3 880.4,823.4 881.5,822.6 882.7,821.7 883.9,820.9 885.0,820.1 886.2,819.3 887.4,818.5 888.5,817.7 889.7,816.9 890.9,816.1 892.0,815.3 893.2,814.5 894.3,813.7 895.5,812.9 896.6,812.2 897.8,811.4 898.9,810.6 900.1,809.9 901.2,809.1 902.4,808.4 903.5,807.6 904.7,806.9 905.8,806.2 907.0,805.4 908.1,804.7 909.2,804.0" fill="none" stroke="#ff0000" stroke-width="7.0" stroke-linejoin="round" stroke-linecap="round"/><polyline points="909.2,804.0 929.7,791.2 950.9,778.6 971.5,766.6 991.7,755.3 1011.4,744.5 1030.7,734.2 1049.6,724.2 1068.2,714.7 1086.6,705.4 1104.7,696.6 1122.6,688.1 1140.3,679.9 1158.0,672.2" fill="none" stroke="#ff0000" stroke-width="1.3"/><circle cx="929.7" cy="791.2" r="3.2" fill="#ff0000"/><circle cx="950.9" cy="778.6" r="3.2" fill="#ff0000"/><circle cx="971.5" cy="766.6" r="3.2" fill="#ff0000"/><circle cx="991.7" cy="755.3" r="3.2" fill="#ff0000"/><circle cx="1011.4" cy="744.5" r="3.2" fill="#ff0000"/><circle cx="1030.7" cy="734.2" r="3.2" fill="#ff0000"/><circle cx="1049.6" cy="724.2" r="3.2" fill="#ff0000"/><circle cx="1068.2" cy="714.7" r="3.2" fill="#ff0000"/><circle cx="1086.6" cy="705.4" r="3.2" fill="#ff0000"/><circle cx="1104.7" cy="696.6" r="3.2" fill="#ff0000"/><circle cx="1122.6" cy="688.1" r="3.2" fill="#ff0000"/><circle cx="1140.3" cy="679.9" r="3.2" fill="#ff0000"/><circle cx="1158.0" cy="672.2" r="3.2" fill="#ff0000"/></g>
<circle cx="714.5" cy="1005.8" r="3" fill="#999"/><circle cx="709.8" cy="1005.8" r="3.2" fill="#00f"/><circle cx="719.5" cy="1005.8" r="3.4" fill="#000"/><circle cx="727" cy="1005.5" r="3.8" fill="#f00"/>
<line x1="706" y1="1006.5" x2="714" y2="1006.5" stroke="#606060" stroke-width="2.0"/>
<line x1="706" y1="932.6" x2="710" y2="932.6" stroke="#606060" stroke-width="2.0"/>
<line x1="706" y1="858.8" x2="714" y2="858.8" stroke="#606060" stroke-width="2.0"/>
<line x1="706" y1="784.9" x2="710" y2="784.9" stroke="#606060" stroke-width="2.0"/>
<line x1="706" y1="711.0" x2="714" y2="711.0" stroke="#606060" stroke-width="2.0"/>
<line x1="706" y1="637.1" x2="710" y2="637.1" stroke="#606060" stroke-width="2.0"/>
<line x1="706" y1="563.3" x2="714" y2="563.3" stroke="#606060" stroke-width="2.0"/>
<line x1="706.0" y1="1006.5" x2="706.0" y2="998.5" stroke="#606060" stroke-width="2.0"/>
<line x1="764.6" y1="1006.5" x2="764.6" y2="1002.5" stroke="#606060" stroke-width="2.0"/>
<line x1="823.3" y1="1006.5" x2="823.3" y2="998.5" stroke="#606060" stroke-width="2.0"/>
<line x1="881.9" y1="1006.5" x2="881.9" y2="1002.5" stroke="#606060" stroke-width="2.0"/>
<line x1="940.5" y1="1006.5" x2="940.5" y2="998.5" stroke="#606060" stroke-width="2.0"/>
<line x1="999.2" y1="1006.5" x2="999.2" y2="1002.5" stroke="#606060" stroke-width="2.0"/>
<line x1="1057.8" y1="1006.5" x2="1057.8" y2="998.5" stroke="#606060" stroke-width="2.0"/>
<line x1="1116.5" y1="1006.5" x2="1116.5" y2="1002.5" stroke="#606060" stroke-width="2.0"/>
<line x1="1175.1" y1="1006.5" x2="1175.1" y2="998.5" stroke="#606060" stroke-width="2.0"/>
<g font-family='"Liberation Sans", sans-serif' fill="#222" stroke="#222" stroke-width="0.25">
<text x="0" y="0" font-size="24" transform="matrix(1.2037,0,0,0.9909,108.40,37.05)">(a)</text>
<text x="0" y="0" font-size="25" transform="matrix(1.1544,0,0,0.9368,490.55,42.30)"><tspan font-style="italic">H // c</tspan></text>
<text x="0" y="0" font-size="27" transform="matrix(1.0480,0,0,0.9474,323.55,93.80)">ZFC</text>
<text x="0" y="0" font-size="27" transform="matrix(1.0273,0,0,0.8789,322.85,123.80)">FC</text>
<text x="0" y="0" font-size="25" transform="matrix(1.1142,0,0,0.9778,234.29,162.90)"><tspan font-style="italic">H</tspan> <tspan font-weight="bold">=</tspan> 1000 Oe</text>
<text x="0" y="0" font-size="25" transform="matrix(1.1154,0,0,0.9417,309.77,519.59)"><tspan font-style="italic">T</tspan> (K)</text>
<text x="0" y="0" font-size="24" transform="matrix(0,-1.1769,1.2375,0,30.81,336.55)"><tspan font-family="Liberation Serif" font-style="italic">χ</tspan></text>
<text x="0" y="0" font-size="28" transform="matrix(0,-1.0000,1.2846,0,30.59,317.10)">(</text>
<text x="0" y="0" font-size="24" transform="matrix(0,-1.0400,1.2000,0,30.80,306.44)">emu mol</text>
<text x="0" y="0" font-size="17" transform="matrix(0,-0.8143,1.0833,0,18.70,206.51)">-1</text>
<text x="0" y="0" font-size="24" transform="matrix(0,-1.0700,1.2529,0,31.20,184.57)">Oe</text>
<text x="0" y="0" font-size="17" transform="matrix(0,-0.8143,1.0833,0,18.70,145.11)">-1</text>
<text x="0" y="0" font-size="28" transform="matrix(0,-0.9000,1.2500,0,30.20,128.40)">)</text>
<text x="0" y="0" font-size="22" transform="matrix(1.1118,0,0,1.0625,225.99,216.50)"><tspan font-style="italic">H // </tspan><tspan font-weight="bold">c</tspan></text>
<text x="0" y="0" font-size="22" transform="matrix(1.1339,0,0,1.1067,219.47,255.40)"><tspan font-style="italic">H</tspan> = 1000 Oe</text>
<text x="0" y="0" font-size="22" transform="matrix(1.1239,0,0,0.9952,283.55,436.12)"><tspan font-style="italic">T</tspan> (K)</text>
<text x="0" y="0" font-size="21" transform="matrix(0,-0.9813,1.1733,0,158.00,375.26)">1/</text>
<text x="0" y="0" font-size="21" transform="matrix(0,-0.9417,1.0533,0,157.53,353.72)"><tspan font-family="Liberation Serif" font-style="italic">χ</tspan></text>
<text x="0" y="0" font-size="21" transform="matrix(0,-1.0672,1.1579,0,157.57,337.97)">(Oe mol emu</text>
<text x="0" y="0" font-size="14" transform="matrix(0,-0.8000,1.1000,0,147.70,209.00)">-1</text>
<text x="0" y="0" font-size="21" transform="matrix(0,-1.0333,1.2474,0,158.01,196.80)">)</text>
<text x="0" y="0" font-size="24" transform="matrix(1.2407,0,0,1.0182,709.96,41.81)">(b)</text>
<text x="0" y="0" font-size="25" transform="matrix(1.1491,0,0,0.9632,789.55,123.20)"><tspan font-style="italic">H // c</tspan></text>
<text x="0" y="0" font-size="25" transform="matrix(1.1025,0,0,1.0111,780.19,182.80)"><tspan font-style="italic">T</tspan> <tspan font-weight="bold">=</tspan> 2 K</text>
<text x="0" y="0" font-size="24" transform="matrix(1.1421,0,0,1.0706,1030.46,392.00)"><tspan font-style="italic">M</tspan></text>
<text x="0" y="0" font-size="24" transform="matrix(0.9286,0,0,1.0864,1062.17,391.77)">(</text>
<text x="0" y="0" font-size="24" transform="matrix(1.1923,0,0,0.9611,1070.40,391.89)"><tspan font-style="italic">μ</tspan></text>
<text x="0" y="0" font-size="17" transform="matrix(1.1000,0,0,0.9167,1087.30,398.90)">B</text>
<text x="0" y="0" font-size="24" transform="matrix(1.1676,0,0,1.1118,1100.80,392.20)">/Fe</text>
<text x="0" y="0" font-size="24" transform="matrix(0.7714,0,0,1.0864,1144.10,391.77)">)</text>
<text x="0" y="0" font-size="25" transform="matrix(1.1353,0,0,0.9625,885.96,522.29)"><tspan font-style="italic">H</tspan> (kOe)</text>
<text x="0" y="0" font-size="24" transform="matrix(0,-0.9619,1.2000,0,646.90,285.60)"><tspan font-style="italic" font-weight="bold">M</tspan></text>
<text x="0" y="0" font-size="24" transform="matrix(0,-0.9143,1.2409,0,646.50,257.81)">(</text>
<text x="0" y="0" font-size="24" transform="matrix(0,-0.6923,0.9944,0,647.73,249.60)"><tspan font-style="italic">μ</tspan></text>
<text x="0" y="0" font-size="17" transform="matrix(0,-1.1900,1.0833,0,652.70,239.89)">B</text>
<text x="0" y="0" font-size="24" transform="matrix(0,-1.0176,1.1059,0,646.90,226.60)">/Fe</text>
<text x="0" y="0" font-size="24" transform="matrix(0,-0.8429,1.2409,0,646.50,187.90)">)</text>
<text x="0" y="0" font-size="26" transform="matrix(1.1500,0,0,1.0083,110.10,596.56)">(<tspan font-weight="bold">c</tspan>)</text>
<text x="0" y="0" font-size="25" transform="matrix(1.1047,0,0,0.9556,200.19,603.60)"><tspan font-style="italic">T</tspan> <tspan font-weight="bold">=</tspan> 261 K</text>
<text x="0" y="0" font-size="25" transform="matrix(1.1047,0,0,1.0056,372.69,724.00)"><tspan font-style="italic">T</tspan> <tspan font-weight="bold">=</tspan> 285 K</text>
<text x="0" y="0" font-size="25" transform="matrix(1.1240,0,0,0.9278,372.48,782.50)">Δ<tspan font-style="italic">T</tspan> <tspan font-weight="bold">=</tspan> 1 K</text>
<text x="0" y="0" font-size="25" transform="matrix(1.1439,0,0,0.9263,374.96,888.30)"><tspan font-style="italic">H // c</tspan></text>
<text x="0" y="0" font-size="25" transform="matrix(1.1400,0,0,0.9208,289.76,1073.40)"><tspan font-style="italic">H</tspan> (kOe)</text>
<text x="0" y="0" font-size="24" transform="matrix(0,-0.8762,1.1824,0,43.30,843.00)"><tspan font-style="italic" font-weight="bold">M</tspan></text>
<text x="0" y="0" font-size="24" transform="matrix(0,-0.9143,1.0500,0,41.05,816.31)">(</text>
<text x="0" y="0" font-size="24" transform="matrix(0,-0.8615,0.7833,0,42.38,808.20)"><tspan font-style="italic">μ</tspan></text>
<text x="0" y="0" font-size="17" transform="matrix(0,-1.3500,1.0250,0,47.50,797.55)">B</text>
<text x="0" y="0" font-size="24" transform="matrix(0,-0.9556,1.1941,0,43.50,781.90)">/f.</text>
<text x="0" y="0" font-size="24" transform="matrix(0,-1.0765,1.1462,0,43.50,756.58)">u.</text>
<text x="0" y="0" font-size="24" transform="matrix(0,-0.9143,1.1045,0,41.98,734.00)">)</text>
<text x="0" y="0" font-size="26" transform="matrix(1.1667,0,0,1.0833,716.27,595.98)">(<tspan font-weight="bold">d</tspan>)</text>
<text x="0" y="0" font-size="25" transform="matrix(1.1065,0,0,1.0167,815.19,651.50)"><tspan font-style="italic">T</tspan> <tspan font-weight="bold">=</tspan> 261 K</text>
<text x="0" y="0" font-size="25" transform="matrix(1.1037,0,0,1.0056,1030.19,759.50)"><tspan font-style="italic">T</tspan> <tspan font-weight="bold">=</tspan> 285 K</text>
<text x="0" y="0" font-size="25" transform="matrix(1.1250,0,0,0.9833,1029.88,823.10)">Δ<tspan font-style="italic">T</tspan> <tspan font-weight="bold">=</tspan> 1 K</text>
<text x="0" y="0" font-size="24" transform="matrix(1.1767,0,0,0.9944,791.52,1077.30)"><tspan font-style="italic">H/M</tspan></text>
<text x="0" y="0" font-size="24" transform="matrix(1.0286,0,0,1.0273,850.37,1076.16)">(</text>
<text x="0" y="0" font-size="24" transform="matrix(1.0500,0,0,1.0353,861.30,1077.00)">10</text>
<text x="0" y="0" font-size="16" transform="matrix(1.2143,0,0,0.9917,896.89,1066.60)">2</text>
<text x="0" y="0" font-size="24" transform="matrix(1.1633,0,0,1.0765,916.24,1077.30)">Oe</text>
<text x="0" y="0" font-size="24" transform="matrix(0.9286,0,0,1.0273,962.17,1076.16)">(</text>
<text x="0" y="0" font-size="24" transform="matrix(1.1692,0,0,1.1056,970.40,1077.07)"><tspan font-style="italic">μ</tspan></text>
<text x="0" y="0" font-size="17" transform="matrix(0.9800,0,0,0.8250,986.12,1082.60)">B</text>
<text x="0" y="0" font-size="24" transform="matrix(1.1778,0,0,1.0353,999.70,1077.00)">/f.</text>
<text x="0" y="0" font-size="24" transform="matrix(1.1231,0,0,1.0273,1034.58,1076.16)">u.)</text>
<text x="0" y="0" font-size="16" transform="matrix(1.1692,0,0,0.8167,1067.93,1065.90)">-1</text>
<text x="0" y="0" font-size="24" transform="matrix(1.0286,0,0,1.0273,1088.40,1076.16)">)</text>
<text x="0" y="0" font-size="24" transform="matrix(0,-0.9095,1.2000,0,624.30,889.50)"><tspan font-style="italic" font-weight="bold">M</tspan></text>
<text x="0" y="0" font-size="16" transform="matrix(0,-1.1429,1.0000,0,612.00,866.34)">2</text>
<text x="0" y="0" font-size="24" transform="matrix(0,-0.9857,1.1682,0,623.76,850.69)">(</text>
<text x="0" y="0" font-size="24" transform="matrix(0,-0.9792,1.1647,0,624.30,841.76)">10</text>
<text x="0" y="0" font-size="16" transform="matrix(0,-1.0571,1.0000,0,612.00,808.76)">2</text>
<text x="0" y="0" font-size="24" transform="matrix(0,-1.0000,1.1682,0,623.76,792.20)">(</text>
<text x="0" y="0" font-size="24" transform="matrix(0,-0.8385,0.9556,0,623.52,781.50)"><tspan font-style="italic">μ</tspan></text>
<text x="0" y="0" font-size="17" transform="matrix(0,-1.1900,1.0833,0,629.90,770.99)">B</text>
<text x="0" y="0" font-size="24" transform="matrix(0,-0.9500,1.2294,0,624.60,757.10)">/f.</text>
<text x="0" y="0" font-size="24" transform="matrix(0,-1.0118,1.1615,0,624.60,729.61)">u.</text>
<text x="0" y="0" font-size="24" transform="matrix(0,-0.7857,1.1636,0,623.48,709.50)">)</text>
<text x="0" y="0" font-size="16" transform="matrix(0,-1.2571,1.0917,0,613.50,697.06)">2</text>
<text x="0" y="0" font-size="24" transform="matrix(0,-0.8571,1.1636,0,623.48,686.20)">)</text>
<text x="0" y="0" font-size="24.5" transform="matrix(1.12,0,0,1,75.24,411.90)">2</text>
<text x="0" y="0" font-size="24.5" transform="matrix(1.12,0,0,1,75.24,334.00)">4</text>
<text x="0" y="0" font-size="24.5" transform="matrix(1.12,0,0,1,75.24,256.10)">6</text>
<text x="0" y="0" font-size="24.5" transform="matrix(1.12,0,0,1,75.24,178.20)">8</text>
<text x="0" y="0" font-size="24.5" transform="matrix(1.12,0,0,1,59.56,100.30)">10</text>
<text x="0" y="0" font-size="24.5" transform="matrix(1.12,0,0,1,60.68,22.40)">12</text>
<text x="0" y="0" font-size="24.5" transform="matrix(1.12,0,0,1,123.56,478.60)">0</text>
<text x="0" y="0" font-size="24.5" transform="matrix(1.12,0,0,1,230.87,478.60)">90</text>
<text x="0" y="0" font-size="24.5" transform="matrix(1.12,0,0,1,338.17,478.60)">180</text>
<text x="0" y="0" font-size="24.5" transform="matrix(1.12,0,0,1,453.88,478.60)">270</text>
<text x="0" y="0" font-size="24.5" transform="matrix(1.12,0,0,1,663.08,401.50)">-2</text>
<text x="0" y="0" font-size="24.5" transform="matrix(1.12,0,0,1,663.08,321.90)">-1</text>
<text x="0" y="0" font-size="24.5" transform="matrix(1.12,0,0,1,672.04,240.70)">0</text>
<text x="0" y="0" font-size="24.5" transform="matrix(1.12,0,0,1,672.04,162.70)">1</text>
<text x="0" y="0" font-size="24.5" transform="matrix(1.12,0,0,1,672.04,83.10)">2</text>
<text x="0" y="0" font-size="24.5" transform="matrix(1.12,0,0,1,735.90,483.80)">-60</text>
<text x="0" y="0" font-size="24.5" transform="matrix(1.12,0,0,1,825.77,483.80)">-30</text>
<text x="0" y="0" font-size="24.5" transform="matrix(1.12,0,0,1,927.46,483.80)">0</text>
<text x="0" y="0" font-size="24.5" transform="matrix(1.12,0,0,1,1009.49,483.80)">30</text>
<text x="0" y="0" font-size="24.5" transform="matrix(1.12,0,0,1,1099.36,483.80)">60</text>
<text x="0" y="0" font-size="24.5" transform="matrix(1.12,0,0,1,76.04,1015.20)">0</text>
<text x="0" y="0" font-size="24.5" transform="matrix(1.12,0,0,1,76.04,904.34)">2</text>
<text x="0" y="0" font-size="24.5" transform="matrix(1.12,0,0,1,76.04,793.48)">4</text>
<text x="0" y="0" font-size="24.5" transform="matrix(1.12,0,0,1,76.04,682.62)">6</text>
<text x="0" y="0" font-size="24.5" transform="matrix(1.12,0,0,1,76.04,571.76)">8</text>
<text x="0" y="0" font-size="24.5" transform="matrix(1.12,0,0,1,109.36,1034.50)">0</text>
<text x="0" y="0" font-size="24.5" transform="matrix(1.12,0,0,1,190.56,1034.50)">14</text>
<text x="0" y="0" font-size="24.5" transform="matrix(1.12,0,0,1,280.72,1034.50)">28</text>
<text x="0" y="0" font-size="24.5" transform="matrix(1.12,0,0,1,371.44,1034.50)">42</text>
<text x="0" y="0" font-size="24.5" transform="matrix(1.12,0,0,1,460.48,1034.50)">56</text>
<text x="0" y="0" font-size="24.5" transform="matrix(1.12,0,0,1,549.52,1034.50)">70</text>
<text x="0" y="0" font-size="24.5" transform="matrix(1.12,0,0,1,658.24,1015.00)">0.0</text>
<text x="0" y="0" font-size="24.5" transform="matrix(1.12,0,0,1,658.24,867.26)">0.2</text>
<text x="0" y="0" font-size="24.5" transform="matrix(1.12,0,0,1,657.12,719.52)">0.4</text>
<text x="0" y="0" font-size="24.5" transform="matrix(1.12,0,0,1,658.24,571.78)">0.6</text>
<text x="0" y="0" font-size="24.5" transform="matrix(1.12,0,0,1,697.16,1034.80)">0</text>
<text x="0" y="0" font-size="24.5" transform="matrix(1.12,0,0,1,808.15,1034.80)">27</text>
<text x="0" y="0" font-size="24.5" transform="matrix(1.12,0,0,1,924.87,1034.80)">54</text>
<text x="0" y="0" font-size="24.5" transform="matrix(1.12,0,0,1,1042.70,1034.80)">81</text>
<text x="0" y="0" font-size="24.5" transform="matrix(1.12,0,0,1,1151.58,1034.80)">108</text>
<text x="0" y="0" font-size="21.5" transform="matrix(1.13,0,0,1,166.23,345.90)">0.2</text>
<text x="0" y="0" font-size="21.5" transform="matrix(1.13,0,0,1,165.10,291.20)">0.4</text>
<text x="0" y="0" font-size="21.5" transform="matrix(1.13,0,0,1,166.23,236.50)">0.6</text>
<text x="0" y="0" font-size="21.5" transform="matrix(1.13,0,0,1,183.56,401.30)">240</text>
<text x="0" y="0" font-size="21.5" transform="matrix(1.13,0,0,1,271.97,401.30)">270</text>
<text x="0" y="0" font-size="21.5" transform="matrix(1.13,0,0,1,360.38,401.30)">300</text>
</g>
</g></svg></body></html>
